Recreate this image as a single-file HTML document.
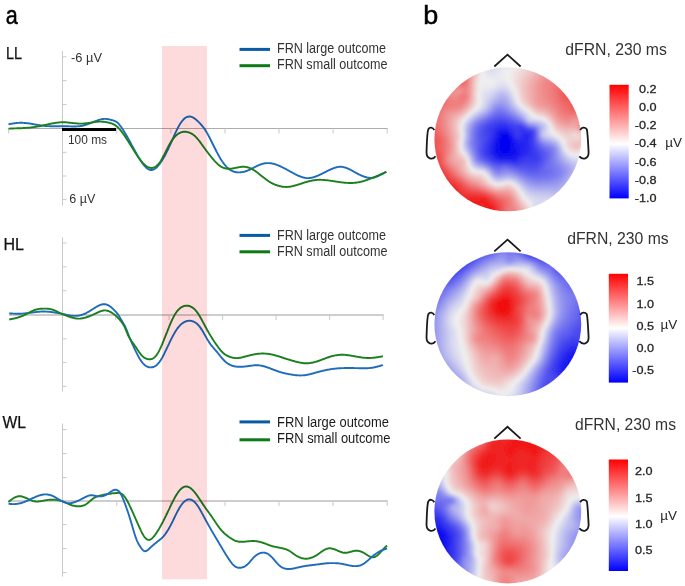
<!DOCTYPE html>
<html><head><meta charset="utf-8"><style>html,body{margin:0;padding:0;background:#fff;}svg{display:block;}</style></head>
<body>
<svg width="685" height="586" viewBox="0 0 685 586" font-family="'Liberation Sans', sans-serif" fill="#1a1a1a">
<defs>
<linearGradient id="cb1" x1="0" y1="0" x2="0" y2="1">
<stop offset="0" stop-color="#ff0000"/><stop offset="0.520" stop-color="#ffffff"/><stop offset="1" stop-color="#0000ff"/></linearGradient><linearGradient id="cb2" x1="0" y1="0" x2="0" y2="1">
<stop offset="0" stop-color="#ff0000"/><stop offset="0.500" stop-color="#ffffff"/><stop offset="1" stop-color="#0000ff"/></linearGradient><linearGradient id="cb3" x1="0" y1="0" x2="0" y2="1">
<stop offset="0" stop-color="#ff0000"/><stop offset="0.510" stop-color="#ffffff"/><stop offset="1" stop-color="#0000ff"/></linearGradient>
<filter id="tb" x="-5%" y="-5%" width="110%" height="110%"><feGaussianBlur stdDeviation="1.6"/></filter><clipPath id="cc0"><ellipse cx="507.8" cy="139.3" rx="73.4" ry="72.0"/></clipPath><clipPath id="cc1"><ellipse cx="507.8" cy="324.2" rx="73.4" ry="72.0"/></clipPath><clipPath id="cc2"><ellipse cx="507.8" cy="511.4" rx="73.4" ry="72.0"/></clipPath>
</defs>
<rect width="685" height="586" fill="#fff"/>
<text x="5.8" y="23.8" font-size="25" textLength="12" lengthAdjust="spacingAndGlyphs" fill="#000" stroke="#000" stroke-width="0.45">a</text>
<text x="423.3" y="23.8" font-size="25" textLength="15" lengthAdjust="spacingAndGlyphs" fill="#000" stroke="#000" stroke-width="0.45">b</text>
<text x="6" y="58.9" font-size="16.5" textLength="16" lengthAdjust="spacingAndGlyphs" fill="#111" stroke="#111" stroke-width="0.25">LL</text>
<text x="3.5" y="249.9" font-size="16.5" textLength="20.5" lengthAdjust="spacingAndGlyphs" fill="#111" stroke="#111" stroke-width="0.25">HL</text>
<text x="2.5" y="428" font-size="16" textLength="23.5" lengthAdjust="spacingAndGlyphs" fill="#111" stroke="#111" stroke-width="0.25">WL</text>
<text x="71" y="62.1" font-size="13.5" fill="#333" textLength="31" lengthAdjust="spacingAndGlyphs">-6 µV</text>
<text x="69.3" y="202.9" font-size="13.5" fill="#333" textLength="26" lengthAdjust="spacingAndGlyphs">6 µV</text>
<text x="68" y="143.6" font-size="13.5" fill="#333" textLength="39" lengthAdjust="spacingAndGlyphs">100 ms</text>
<line x1="62.5" y1="51" x2="62.5" y2="205.5" stroke="#c9c9c9" stroke-width="1"/>
<line x1="62.5" y1="56.8" x2="66.5" y2="56.8" stroke="#c9c9c9" stroke-width="1"/>
<line x1="62.5" y1="80.6" x2="66.5" y2="80.6" stroke="#c9c9c9" stroke-width="1"/>
<line x1="62.5" y1="104.5" x2="66.5" y2="104.5" stroke="#c9c9c9" stroke-width="1"/>
<line x1="62.5" y1="152.3" x2="66.5" y2="152.3" stroke="#c9c9c9" stroke-width="1"/>
<line x1="62.5" y1="176" x2="66.5" y2="176" stroke="#c9c9c9" stroke-width="1"/>
<line x1="62.5" y1="199.6" x2="66.5" y2="199.6" stroke="#c9c9c9" stroke-width="1"/>
<line x1="8.5" y1="128.5" x2="387.7" y2="128.5" stroke="#adadad" stroke-width="1"/>
<line x1="8.7" y1="128.5" x2="8.7" y2="133.5" stroke="#c9c9c9" stroke-width="1"/>
<line x1="116.8" y1="128.5" x2="116.8" y2="133.5" stroke="#c9c9c9" stroke-width="1"/>
<line x1="170.9" y1="128.5" x2="170.9" y2="133.5" stroke="#c9c9c9" stroke-width="1"/>
<line x1="225" y1="128.5" x2="225" y2="133.5" stroke="#c9c9c9" stroke-width="1"/>
<line x1="279" y1="128.5" x2="279" y2="133.5" stroke="#c9c9c9" stroke-width="1"/>
<line x1="333.1" y1="128.5" x2="333.1" y2="133.5" stroke="#c9c9c9" stroke-width="1"/>
<line x1="387.2" y1="128.5" x2="387.2" y2="133.5" stroke="#c9c9c9" stroke-width="1"/>
<rect x="62" y="128" width="54" height="3" fill="#000"/>
<path d="M8.5,124.3 9.0,124.2 9.5,124.1 10.0,124.0 10.5,123.9 11.0,123.8 11.5,123.8 12.0,123.7 12.5,123.6 13.0,123.5 13.5,123.4 14.0,123.3 14.5,123.3 15.0,123.2 15.5,123.1 16.0,123.1 16.5,123.0 17.0,123.0 17.5,122.9 18.0,122.9 18.5,122.9 19.0,122.9 19.5,122.8 20.0,122.8 20.5,122.8 21.0,122.8 21.5,122.8 22.0,122.8 22.5,122.8 23.0,122.9 23.5,122.9 24.0,122.9 24.5,123.0 25.0,123.0 25.5,123.0 26.0,123.1 26.5,123.1 27.0,123.2 27.5,123.2 28.0,123.3 28.5,123.4 29.0,123.4 29.5,123.5 30.0,123.6 30.5,123.7 31.0,123.8 31.5,123.8 32.0,123.9 32.5,124.0 33.0,124.1 33.5,124.2 34.0,124.3 34.5,124.4 35.0,124.5 35.5,124.6 36.0,124.7 36.5,124.7 37.0,124.8 37.5,124.9 38.0,125.0 38.5,125.1 39.0,125.2 39.5,125.3 40.0,125.3 40.5,125.4 41.0,125.5 41.5,125.6 42.0,125.6 42.5,125.7 43.0,125.7 43.5,125.8 44.0,125.8 44.5,125.9 45.0,125.9 45.5,126.0 46.0,126.0 46.5,126.0 47.0,126.1 47.5,126.1 48.0,126.1 48.5,126.1 49.0,126.1 49.5,126.2 50.0,126.2 50.5,126.2 51.0,126.2 51.5,126.2 52.0,126.2 52.5,126.2 53.0,126.2 53.5,126.2 54.0,126.2 54.5,126.2 55.0,126.2 55.5,126.2 56.0,126.2 56.5,126.2 57.0,126.2 57.5,126.2 58.0,126.2 58.5,126.2 59.0,126.2 59.5,126.2 60.0,126.2 60.5,126.1 61.0,126.1 61.5,126.1 62.0,126.2 62.5,126.2 63.0,126.2 63.5,126.2 64.0,126.2 64.5,126.2 65.0,126.2 65.5,126.2 66.0,126.2 66.5,126.3 67.0,126.3 67.5,126.3 68.0,126.3 68.5,126.3 69.0,126.4 69.5,126.4 70.0,126.4 70.5,126.4 71.0,126.4 71.5,126.5 72.0,126.5 72.5,126.5 73.0,126.5 73.5,126.5 74.0,126.5 74.5,126.5 75.0,126.5 75.5,126.5 76.0,126.5 76.5,126.4 77.0,126.4 77.5,126.4 78.0,126.3 78.5,126.3 79.0,126.2 79.5,126.2 80.0,126.1 80.5,126.0 81.0,126.0 81.5,125.9 82.0,125.8 82.5,125.7 83.0,125.6 83.5,125.4 84.0,125.3 84.5,125.2 85.0,125.0 85.5,124.9 86.0,124.7 86.5,124.6 87.0,124.4 87.5,124.2 88.0,124.1 88.5,123.9 89.0,123.7 89.5,123.5 90.0,123.3 90.5,123.1 91.0,122.9 91.5,122.7 92.0,122.5 92.5,122.3 93.0,122.1 93.5,121.9 94.0,121.7 94.5,121.5 95.0,121.3 95.5,121.1 96.0,121.0 96.5,120.8 97.0,120.6 97.5,120.4 98.0,120.2 98.5,120.1 99.0,119.9 99.5,119.8 100.0,119.6 100.5,119.5 101.0,119.4 101.5,119.3 102.0,119.2 102.5,119.1 103.0,119.0 103.5,119.0 104.0,118.9 104.5,118.9 105.0,118.9 105.5,118.9 106.0,118.9 106.5,119.0 107.0,119.0 107.5,119.1 108.0,119.2 108.5,119.3 109.0,119.4 109.5,119.5 110.0,119.6 110.5,119.7 111.0,119.9 111.5,120.0 112.0,120.2 112.5,120.3 113.0,120.4 113.5,120.6 114.0,120.8 114.5,120.9 115.0,121.1 115.5,121.4 116.0,121.6 116.5,121.9 117.0,122.3 117.5,122.7 118.0,123.2 118.5,123.7 119.0,124.2 119.5,124.8 120.0,125.5 120.5,126.1 121.0,126.8 121.5,127.5 122.0,128.3 122.5,129.0 123.0,129.8 123.5,130.6 124.0,131.4 124.5,132.2 125.0,133.0 125.5,133.8 126.0,134.7 126.5,135.6 127.0,136.4 127.5,137.3 128.0,138.2 128.5,139.1 129.0,140.0 129.5,140.9 130.0,141.8 130.5,142.7 131.0,143.6 131.5,144.6 132.0,145.5 132.5,146.4 133.0,147.3 133.5,148.2 134.0,149.2 134.5,150.1 135.0,151.0 135.5,151.9 136.0,152.8 136.5,153.7 137.0,154.6 137.5,155.4 138.0,156.3 138.5,157.1 139.0,158.0 139.5,158.8 140.0,159.6 140.5,160.3 141.0,161.1 141.5,161.8 142.0,162.6 142.5,163.3 143.0,163.9 143.5,164.6 144.0,165.2 144.5,165.8 145.0,166.4 145.5,166.9 146.0,167.4 146.5,167.8 147.0,168.3 147.5,168.6 148.0,169.0 148.5,169.3 149.0,169.5 149.5,169.7 150.0,169.9 150.5,170.0 151.0,170.0 151.5,170.0 152.0,170.0 152.5,169.9 153.0,169.7 153.5,169.5 154.0,169.3 154.5,169.0 155.0,168.7 155.5,168.3 156.0,167.9 156.5,167.5 157.0,167.0 157.5,166.5 158.0,165.9 158.5,165.3 159.0,164.7 159.5,164.1 160.0,163.4 160.5,162.7 161.0,162.0 161.5,161.2 162.0,160.4 162.5,159.6 163.0,158.8 163.5,157.9 164.0,157.1 164.5,156.2 165.0,155.3 165.5,154.3 166.0,153.4 166.5,152.4 167.0,151.4 167.5,150.4 168.0,149.3 168.5,148.3 169.0,147.2 169.5,146.2 170.0,145.1 170.5,144.0 171.0,142.8 171.5,141.7 172.0,140.6 172.5,139.4 173.0,138.3 173.5,137.2 174.0,136.0 174.5,134.9 175.0,133.8 175.5,132.7 176.0,131.7 176.5,130.6 177.0,129.6 177.5,128.6 178.0,127.6 178.5,126.7 179.0,125.8 179.5,124.9 180.0,124.1 180.5,123.3 181.0,122.6 181.5,121.9 182.0,121.2 182.5,120.6 183.0,120.0 183.5,119.5 184.0,119.0 184.5,118.5 185.0,118.1 185.5,117.8 186.0,117.5 186.5,117.2 187.0,117.0 187.5,116.8 188.0,116.7 188.5,116.6 189.0,116.5 189.5,116.5 190.0,116.5 190.5,116.6 191.0,116.7 191.5,116.9 192.0,117.1 192.5,117.3 193.0,117.5 193.5,117.8 194.0,118.1 194.5,118.4 195.0,118.8 195.5,119.2 196.0,119.6 196.5,120.0 197.0,120.5 197.5,120.9 198.0,121.4 198.5,121.9 199.0,122.4 199.5,122.9 200.0,123.4 200.5,124.0 201.0,124.5 201.5,125.1 202.0,125.7 202.5,126.3 203.0,126.9 203.5,127.5 204.0,128.2 204.5,128.9 205.0,129.6 205.5,130.4 206.0,131.2 206.5,132.0 207.0,132.9 207.5,133.7 208.0,134.7 208.5,135.6 209.0,136.5 209.5,137.5 210.0,138.5 210.5,139.5 211.0,140.5 211.5,141.5 212.0,142.5 212.5,143.5 213.0,144.5 213.5,145.5 214.0,146.5 214.5,147.5 215.0,148.5 215.5,149.5 216.0,150.5 216.5,151.5 217.0,152.4 217.5,153.4 218.0,154.3 218.5,155.2 219.0,156.1 219.5,157.0 220.0,157.8 220.5,158.7 221.0,159.5 221.5,160.3 222.0,161.0 222.5,161.8 223.0,162.5 223.5,163.2 224.0,163.8 224.5,164.5 225.0,165.1 225.5,165.7 226.0,166.2 226.5,166.8 227.0,167.3 227.5,167.8 228.0,168.2 228.5,168.7 229.0,169.1 229.5,169.4 230.0,169.8 230.5,170.1 231.0,170.4 231.5,170.7 232.0,170.9 232.5,171.1 233.0,171.4 233.5,171.5 234.0,171.7 234.5,171.9 235.0,172.0 235.5,172.1 236.0,172.2 236.5,172.3 237.0,172.3 237.5,172.4 238.0,172.4 238.5,172.4 239.0,172.4 239.5,172.4 240.0,172.4 240.5,172.3 241.0,172.3 241.5,172.2 242.0,172.1 242.5,172.1 243.0,172.0 243.5,171.9 244.0,171.7 244.5,171.6 245.0,171.5 245.5,171.3 246.0,171.2 246.5,171.0 247.0,170.8 247.5,170.6 248.0,170.4 248.5,170.2 249.0,170.0 249.5,169.8 250.0,169.5 250.5,169.3 251.0,169.1 251.5,168.8 252.0,168.5 252.5,168.3 253.0,168.0 253.5,167.8 254.0,167.5 254.5,167.2 255.0,167.0 255.5,166.7 256.0,166.5 256.5,166.2 257.0,166.0 257.5,165.7 258.0,165.5 258.5,165.3 259.0,165.1 259.5,164.9 260.0,164.7 260.5,164.5 261.0,164.3 261.5,164.2 262.0,164.0 262.5,163.9 263.0,163.7 263.5,163.6 264.0,163.5 264.5,163.4 265.0,163.3 265.5,163.3 266.0,163.2 266.5,163.1 267.0,163.1 267.5,163.1 268.0,163.1 268.5,163.1 269.0,163.1 269.5,163.1 270.0,163.2 270.5,163.2 271.0,163.3 271.5,163.4 272.0,163.5 272.5,163.6 273.0,163.7 273.5,163.8 274.0,163.9 274.5,164.1 275.0,164.2 275.5,164.4 276.0,164.6 276.5,164.7 277.0,164.9 277.5,165.1 278.0,165.3 278.5,165.5 279.0,165.7 279.5,166.0 280.0,166.2 280.5,166.4 281.0,166.6 281.5,166.9 282.0,167.1 282.5,167.4 283.0,167.6 283.5,167.9 284.0,168.1 284.5,168.4 285.0,168.6 285.5,168.9 286.0,169.2 286.5,169.4 287.0,169.7 287.5,170.0 288.0,170.3 288.5,170.5 289.0,170.8 289.5,171.1 290.0,171.4 290.5,171.6 291.0,171.9 291.5,172.2 292.0,172.5 292.5,172.7 293.0,173.0 293.5,173.3 294.0,173.5 294.5,173.8 295.0,174.1 295.5,174.3 296.0,174.6 296.5,174.8 297.0,175.1 297.5,175.3 298.0,175.5 298.5,175.8 299.0,176.0 299.5,176.2 300.0,176.4 300.5,176.6 301.0,176.8 301.5,176.9 302.0,177.1 302.5,177.3 303.0,177.4 303.5,177.5 304.0,177.7 304.5,177.8 305.0,177.9 305.5,177.9 306.0,178.0 306.5,178.1 307.0,178.1 307.5,178.1 308.0,178.1 308.5,178.1 309.0,178.1 309.5,178.0 310.0,178.0 310.5,177.9 311.0,177.8 311.5,177.7 312.0,177.6 312.5,177.5 313.0,177.4 313.5,177.2 314.0,177.1 314.5,176.9 315.0,176.8 315.5,176.6 316.0,176.4 316.5,176.2 317.0,176.0 317.5,175.8 318.0,175.6 318.5,175.4 319.0,175.2 319.5,174.9 320.0,174.7 320.5,174.5 321.0,174.2 321.5,174.0 322.0,173.7 322.5,173.5 323.0,173.2 323.5,173.0 324.0,172.7 324.5,172.5 325.0,172.2 325.5,172.0 326.0,171.7 326.5,171.4 327.0,171.2 327.5,170.9 328.0,170.7 328.5,170.4 329.0,170.2 329.5,170.0 330.0,169.7 330.5,169.5 331.0,169.3 331.5,169.0 332.0,168.8 332.5,168.6 333.0,168.4 333.5,168.2 334.0,168.1 334.5,167.9 335.0,167.7 335.5,167.6 336.0,167.4 336.5,167.3 337.0,167.2 337.5,167.1 338.0,167.0 338.5,166.9 339.0,166.9 339.5,166.8 340.0,166.8 340.5,166.8 341.0,166.8 341.5,166.8 342.0,166.9 342.5,166.9 343.0,167.0 343.5,167.1 344.0,167.2 344.5,167.4 345.0,167.5 345.5,167.6 346.0,167.8 346.5,168.0 347.0,168.2 347.5,168.4 348.0,168.6 348.5,168.8 349.0,169.0 349.5,169.3 350.0,169.5 350.5,169.8 351.0,170.1 351.5,170.3 352.0,170.6 352.5,170.9 353.0,171.2 353.5,171.5 354.0,171.7 354.5,172.0 355.0,172.3 355.5,172.6 356.0,172.9 356.5,173.2 357.0,173.4 357.5,173.7 358.0,174.0 358.5,174.2 359.0,174.5 359.5,174.7 360.0,174.9 360.5,175.2 361.0,175.4 361.5,175.6 362.0,175.8 362.5,176.0 363.0,176.2 363.5,176.4 364.0,176.6 364.5,176.7 365.0,176.9 365.5,177.0 366.0,177.2 366.5,177.3 367.0,177.5 367.5,177.6 368.0,177.7 368.5,177.8 369.0,177.8 369.5,177.9 370.0,178.0 370.5,178.0 371.0,178.0 371.5,178.0 372.0,178.0 372.5,177.9 373.0,177.8 373.5,177.7 374.0,177.6 374.5,177.5 375.0,177.3 375.5,177.1 376.0,176.9 376.5,176.8 377.0,176.5 377.5,176.3 378.0,176.1 378.5,175.9 379.0,175.6 379.5,175.4 380.0,175.1 380.5,174.9 381.0,174.6 381.5,174.4 382.0,174.1 382.5,173.9 383.0,173.6 383.5,173.3 384.0,173.1 384.5,172.8 385.0,172.5 385.5,172.2 386.0,172.0 386.3,171.8" fill="none" stroke="#1f6cbd" stroke-width="1.9" stroke-linejoin="round"/>
<path d="M8.5,128.6 9.0,128.6 9.5,128.6 10.0,128.6 10.5,128.5 11.0,128.5 11.5,128.5 12.0,128.5 12.5,128.5 13.0,128.5 13.5,128.5 14.0,128.4 14.5,128.4 15.0,128.4 15.5,128.4 16.0,128.4 16.5,128.4 17.0,128.3 17.5,128.3 18.0,128.3 18.5,128.3 19.0,128.3 19.5,128.2 20.0,128.2 20.5,128.2 21.0,128.2 21.5,128.2 22.0,128.1 22.5,128.1 23.0,128.1 23.5,128.0 24.0,128.0 24.5,128.0 25.0,128.0 25.5,127.9 26.0,127.9 26.5,127.9 27.0,127.8 27.5,127.8 28.0,127.7 28.5,127.7 29.0,127.7 29.5,127.6 30.0,127.6 30.5,127.5 31.0,127.5 31.5,127.4 32.0,127.3 32.5,127.3 33.0,127.2 33.5,127.2 34.0,127.1 34.5,127.0 35.0,126.9 35.5,126.9 36.0,126.8 36.5,126.7 37.0,126.6 37.5,126.5 38.0,126.4 38.5,126.3 39.0,126.2 39.5,126.2 40.0,126.1 40.5,126.0 41.0,125.9 41.5,125.8 42.0,125.6 42.5,125.5 43.0,125.4 43.5,125.3 44.0,125.2 44.5,125.1 45.0,125.0 45.5,124.9 46.0,124.8 46.5,124.7 47.0,124.6 47.5,124.5 48.0,124.3 48.5,124.2 49.0,124.1 49.5,124.0 50.0,123.9 50.5,123.8 51.0,123.7 51.5,123.6 52.0,123.5 52.5,123.4 53.0,123.3 53.5,123.2 54.0,123.2 54.5,123.1 55.0,123.0 55.5,122.9 56.0,122.8 56.5,122.8 57.0,122.7 57.5,122.6 58.0,122.6 58.5,122.5 59.0,122.5 59.5,122.4 60.0,122.4 60.5,122.4 61.0,122.3 61.5,122.3 62.0,122.3 62.5,122.3 63.0,122.3 63.5,122.3 64.0,122.3 64.5,122.3 65.0,122.3 65.5,122.3 66.0,122.4 66.5,122.4 67.0,122.4 67.5,122.5 68.0,122.5 68.5,122.6 69.0,122.6 69.5,122.7 70.0,122.7 70.5,122.8 71.0,122.9 71.5,122.9 72.0,123.0 72.5,123.0 73.0,123.1 73.5,123.1 74.0,123.2 74.5,123.3 75.0,123.3 75.5,123.3 76.0,123.4 76.5,123.4 77.0,123.5 77.5,123.5 78.0,123.5 78.5,123.6 79.0,123.6 79.5,123.6 80.0,123.6 80.5,123.6 81.0,123.6 81.5,123.6 82.0,123.6 82.5,123.6 83.0,123.6 83.5,123.5 84.0,123.5 84.5,123.5 85.0,123.4 85.5,123.4 86.0,123.3 86.5,123.3 87.0,123.2 87.5,123.1 88.0,123.1 88.5,123.0 89.0,122.9 89.5,122.9 90.0,122.8 90.5,122.7 91.0,122.6 91.5,122.6 92.0,122.5 92.5,122.4 93.0,122.3 93.5,122.2 94.0,122.2 94.5,122.1 95.0,122.0 95.5,121.9 96.0,121.9 96.5,121.8 97.0,121.8 97.5,121.7 98.0,121.7 98.5,121.6 99.0,121.6 99.5,121.6 100.0,121.6 100.5,121.6 101.0,121.6 101.5,121.6 102.0,121.7 102.5,121.7 103.0,121.7 103.5,121.8 104.0,121.8 104.5,121.9 105.0,121.9 105.5,122.0 106.0,122.1 106.5,122.2 107.0,122.3 107.5,122.4 108.0,122.5 108.5,122.6 109.0,122.7 109.5,122.8 110.0,123.0 110.5,123.1 111.0,123.3 111.5,123.4 112.0,123.6 112.5,123.8 113.0,124.0 113.5,124.3 114.0,124.5 114.5,124.8 115.0,125.1 115.5,125.4 116.0,125.8 116.5,126.2 117.0,126.6 117.5,127.1 118.0,127.5 118.5,128.0 119.0,128.6 119.5,129.1 120.0,129.7 120.5,130.3 121.0,130.9 121.5,131.5 122.0,132.2 122.5,132.8 123.0,133.5 123.5,134.2 124.0,134.9 124.5,135.6 125.0,136.4 125.5,137.1 126.0,137.9 126.5,138.6 127.0,139.4 127.5,140.2 128.0,141.0 128.5,141.8 129.0,142.6 129.5,143.4 130.0,144.2 130.5,145.0 131.0,145.8 131.5,146.6 132.0,147.4 132.5,148.2 133.0,149.0 133.5,149.8 134.0,150.6 134.5,151.4 135.0,152.2 135.5,153.0 136.0,153.8 136.5,154.5 137.0,155.3 137.5,156.0 138.0,156.7 138.5,157.5 139.0,158.2 139.5,158.8 140.0,159.5 140.5,160.2 141.0,160.8 141.5,161.4 142.0,162.0 142.5,162.6 143.0,163.1 143.5,163.6 144.0,164.1 144.5,164.6 145.0,165.1 145.5,165.5 146.0,165.9 146.5,166.2 147.0,166.5 147.5,166.8 148.0,167.1 148.5,167.3 149.0,167.5 149.5,167.7 150.0,167.8 150.5,167.9 151.0,168.0 151.5,168.0 152.0,168.0 152.5,167.9 153.0,167.8 153.5,167.7 154.0,167.5 154.5,167.3 155.0,167.0 155.5,166.7 156.0,166.4 156.5,166.0 157.0,165.5 157.5,165.1 158.0,164.5 158.5,164.0 159.0,163.4 159.5,162.7 160.0,162.0 160.5,161.3 161.0,160.5 161.5,159.6 162.0,158.8 162.5,157.9 163.0,157.0 163.5,156.0 164.0,155.1 164.5,154.1 165.0,153.1 165.5,152.1 166.0,151.1 166.5,150.1 167.0,149.1 167.5,148.2 168.0,147.2 168.5,146.2 169.0,145.3 169.5,144.4 170.0,143.5 170.5,142.7 171.0,141.8 171.5,141.1 172.0,140.3 172.5,139.6 173.0,138.9 173.5,138.3 174.0,137.7 174.5,137.1 175.0,136.5 175.5,136.0 176.0,135.5 176.5,135.1 177.0,134.7 177.5,134.3 178.0,133.9 178.5,133.6 179.0,133.3 179.5,133.0 180.0,132.8 180.5,132.6 181.0,132.4 181.5,132.2 182.0,132.1 182.5,132.0 183.0,131.9 183.5,131.8 184.0,131.8 184.5,131.8 185.0,131.8 185.5,131.8 186.0,131.8 186.5,131.9 187.0,132.0 187.5,132.1 188.0,132.2 188.5,132.3 189.0,132.5 189.5,132.6 190.0,132.8 190.5,133.1 191.0,133.3 191.5,133.6 192.0,133.9 192.5,134.2 193.0,134.5 193.5,134.9 194.0,135.3 194.5,135.7 195.0,136.1 195.5,136.6 196.0,137.1 196.5,137.6 197.0,138.2 197.5,138.8 198.0,139.3 198.5,140.0 199.0,140.6 199.5,141.2 200.0,141.9 200.5,142.6 201.0,143.3 201.5,144.0 202.0,144.7 202.5,145.4 203.0,146.1 203.5,146.8 204.0,147.5 204.5,148.2 205.0,148.8 205.5,149.5 206.0,150.2 206.5,150.9 207.0,151.5 207.5,152.2 208.0,152.9 208.5,153.5 209.0,154.2 209.5,154.8 210.0,155.4 210.5,156.0 211.0,156.7 211.5,157.3 212.0,157.9 212.5,158.5 213.0,159.1 213.5,159.7 214.0,160.2 214.5,160.8 215.0,161.3 215.5,161.9 216.0,162.4 216.5,162.9 217.0,163.4 217.5,163.9 218.0,164.3 218.5,164.8 219.0,165.2 219.5,165.6 220.0,165.9 220.5,166.3 221.0,166.6 221.5,166.9 222.0,167.2 222.5,167.4 223.0,167.6 223.5,167.8 224.0,168.0 224.5,168.2 225.0,168.3 225.5,168.4 226.0,168.6 226.5,168.6 227.0,168.7 227.5,168.8 228.0,168.8 228.5,168.8 229.0,168.8 229.5,168.8 230.0,168.8 230.5,168.7 231.0,168.7 231.5,168.6 232.0,168.6 232.5,168.5 233.0,168.4 233.5,168.3 234.0,168.2 234.5,168.1 235.0,168.0 235.5,167.9 236.0,167.8 236.5,167.7 237.0,167.6 237.5,167.5 238.0,167.4 238.5,167.3 239.0,167.2 239.5,167.1 240.0,167.1 240.5,167.0 241.0,166.9 241.5,166.9 242.0,166.8 242.5,166.8 243.0,166.8 243.5,166.8 244.0,166.8 244.5,166.8 245.0,166.9 245.5,166.9 246.0,167.0 246.5,167.1 247.0,167.2 247.5,167.3 248.0,167.4 248.5,167.6 249.0,167.7 249.5,167.9 250.0,168.1 250.5,168.3 251.0,168.5 251.5,168.8 252.0,169.0 252.5,169.3 253.0,169.6 253.5,169.9 254.0,170.2 254.5,170.6 255.0,170.9 255.5,171.2 256.0,171.6 256.5,172.0 257.0,172.3 257.5,172.7 258.0,173.1 258.5,173.5 259.0,173.9 259.5,174.3 260.0,174.7 260.5,175.1 261.0,175.5 261.5,175.9 262.0,176.3 262.5,176.7 263.0,177.1 263.5,177.5 264.0,177.8 264.5,178.2 265.0,178.6 265.5,179.0 266.0,179.4 266.5,179.7 267.0,180.1 267.5,180.5 268.0,180.8 268.5,181.1 269.0,181.5 269.5,181.8 270.0,182.1 270.5,182.4 271.0,182.7 271.5,183.0 272.0,183.2 272.5,183.5 273.0,183.7 273.5,184.0 274.0,184.2 274.5,184.4 275.0,184.6 275.5,184.8 276.0,185.0 276.5,185.2 277.0,185.4 277.5,185.5 278.0,185.7 278.5,185.8 279.0,185.9 279.5,186.1 280.0,186.2 280.5,186.3 281.0,186.4 281.5,186.5 282.0,186.6 282.5,186.7 283.0,186.7 283.5,186.8 284.0,186.9 284.5,186.9 285.0,186.9 285.5,186.9 286.0,187.0 286.5,187.0 287.0,187.0 287.5,186.9 288.0,186.9 288.5,186.9 289.0,186.8 289.5,186.7 290.0,186.7 290.5,186.6 291.0,186.5 291.5,186.4 292.0,186.3 292.5,186.2 293.0,186.1 293.5,185.9 294.0,185.8 294.5,185.7 295.0,185.5 295.5,185.4 296.0,185.2 296.5,185.1 297.0,184.9 297.5,184.8 298.0,184.6 298.5,184.5 299.0,184.3 299.5,184.1 300.0,184.0 300.5,183.8 301.0,183.6 301.5,183.5 302.0,183.3 302.5,183.2 303.0,183.0 303.5,182.9 304.0,182.7 304.5,182.5 305.0,182.4 305.5,182.2 306.0,182.1 306.5,182.0 307.0,181.8 307.5,181.7 308.0,181.5 308.5,181.4 309.0,181.3 309.5,181.2 310.0,181.0 310.5,180.9 311.0,180.8 311.5,180.7 312.0,180.6 312.5,180.5 313.0,180.4 313.5,180.3 314.0,180.3 314.5,180.2 315.0,180.1 315.5,180.1 316.0,180.0 316.5,180.0 317.0,179.9 317.5,179.9 318.0,179.9 318.5,179.9 319.0,179.9 319.5,179.8 320.0,179.8 320.5,179.8 321.0,179.9 321.5,179.9 322.0,179.9 322.5,179.9 323.0,179.9 323.5,180.0 324.0,180.0 324.5,180.0 325.0,180.1 325.5,180.1 326.0,180.2 326.5,180.2 327.0,180.3 327.5,180.3 328.0,180.4 328.5,180.4 329.0,180.5 329.5,180.6 330.0,180.6 330.5,180.7 331.0,180.8 331.5,180.9 332.0,180.9 332.5,181.0 333.0,181.1 333.5,181.2 334.0,181.2 334.5,181.3 335.0,181.4 335.5,181.5 336.0,181.6 336.5,181.6 337.0,181.7 337.5,181.8 338.0,181.9 338.5,181.9 339.0,182.0 339.5,182.1 340.0,182.1 340.5,182.2 341.0,182.3 341.5,182.4 342.0,182.4 342.5,182.5 343.0,182.5 343.5,182.6 344.0,182.6 344.5,182.7 345.0,182.7 345.5,182.8 346.0,182.8 346.5,182.9 347.0,182.9 347.5,182.9 348.0,182.9 348.5,183.0 349.0,183.0 349.5,183.0 350.0,183.0 350.5,183.0 351.0,183.0 351.5,183.0 352.0,183.0 352.5,183.0 353.0,182.9 353.5,182.9 354.0,182.9 354.5,182.8 355.0,182.8 355.5,182.7 356.0,182.7 356.5,182.6 357.0,182.5 357.5,182.4 358.0,182.4 358.5,182.3 359.0,182.2 359.5,182.1 360.0,182.0 360.5,181.9 361.0,181.7 361.5,181.6 362.0,181.5 362.5,181.3 363.0,181.2 363.5,181.1 364.0,180.9 364.5,180.8 365.0,180.6 365.5,180.4 366.0,180.3 366.5,180.1 367.0,179.9 367.5,179.8 368.0,179.6 368.5,179.4 369.0,179.2 369.5,179.0 370.0,178.8 370.5,178.6 371.0,178.4 371.5,178.2 372.0,178.1 372.5,177.9 373.0,177.6 373.5,177.4 374.0,177.2 374.5,177.0 375.0,176.8 375.5,176.6 376.0,176.4 376.5,176.2 377.0,176.0 377.5,175.8 378.0,175.5 378.5,175.3 379.0,175.1 379.5,174.9 380.0,174.7 380.5,174.4 381.0,174.2 381.5,174.0 382.0,173.8 382.5,173.5 383.0,173.3 383.5,173.1 384.0,172.8 384.5,172.6 385.0,172.4 385.5,172.2 386.0,171.9 386.3,171.8" fill="none" stroke="#1c801f" stroke-width="1.9" stroke-linejoin="round"/>
<line x1="62.5" y1="237.3" x2="62.5" y2="391.4" stroke="#c9c9c9" stroke-width="1"/>
<line x1="62.5" y1="243" x2="66.5" y2="243" stroke="#c9c9c9" stroke-width="1"/>
<line x1="62.5" y1="266.8" x2="66.5" y2="266.8" stroke="#c9c9c9" stroke-width="1"/>
<line x1="62.5" y1="290.7" x2="66.5" y2="290.7" stroke="#c9c9c9" stroke-width="1"/>
<line x1="62.5" y1="338.8" x2="66.5" y2="338.8" stroke="#c9c9c9" stroke-width="1"/>
<line x1="62.5" y1="362.6" x2="66.5" y2="362.6" stroke="#c9c9c9" stroke-width="1"/>
<line x1="62.5" y1="386.3" x2="66.5" y2="386.3" stroke="#c9c9c9" stroke-width="1"/>
<line x1="9" y1="315" x2="383.6" y2="315" stroke="#9c9c9c" stroke-width="1"/>
<line x1="115.6" y1="315" x2="115.6" y2="320" stroke="#c9c9c9" stroke-width="1"/>
<line x1="169.1" y1="315" x2="169.1" y2="320" stroke="#c9c9c9" stroke-width="1"/>
<line x1="222.6" y1="315" x2="222.6" y2="320" stroke="#c9c9c9" stroke-width="1"/>
<line x1="276.1" y1="315" x2="276.1" y2="320" stroke="#c9c9c9" stroke-width="1"/>
<line x1="329.6" y1="315" x2="329.6" y2="320" stroke="#c9c9c9" stroke-width="1"/>
<line x1="383.1" y1="315" x2="383.1" y2="320" stroke="#c9c9c9" stroke-width="1"/>

<path d="M9.2,313.4 9.7,313.4 10.2,313.5 10.7,313.5 11.2,313.5 11.7,313.5 12.2,313.5 12.7,313.6 13.2,313.6 13.7,313.6 14.2,313.6 14.7,313.6 15.2,313.7 15.7,313.7 16.2,313.7 16.7,313.7 17.2,313.7 17.7,313.7 18.2,313.7 18.7,313.7 19.2,313.7 19.7,313.7 20.2,313.7 20.7,313.7 21.2,313.7 21.7,313.6 22.2,313.6 22.7,313.6 23.2,313.6 23.7,313.5 24.2,313.5 24.7,313.4 25.2,313.4 25.7,313.3 26.2,313.3 26.7,313.2 27.2,313.2 27.7,313.1 28.2,313.1 28.7,313.0 29.2,312.9 29.7,312.9 30.2,312.8 30.7,312.7 31.2,312.7 31.7,312.6 32.2,312.5 32.7,312.5 33.2,312.4 33.7,312.3 34.2,312.3 34.7,312.2 35.2,312.1 35.7,312.1 36.2,312.0 36.7,312.0 37.2,311.9 37.7,311.9 38.2,311.8 38.7,311.8 39.2,311.7 39.7,311.7 40.2,311.6 40.7,311.6 41.2,311.6 41.7,311.5 42.2,311.5 42.7,311.5 43.2,311.5 43.7,311.5 44.2,311.5 44.7,311.5 45.2,311.5 45.7,311.5 46.2,311.6 46.7,311.6 47.2,311.6 47.7,311.7 48.2,311.7 48.7,311.8 49.2,311.8 49.7,311.9 50.2,311.9 50.7,312.0 51.2,312.0 51.7,312.1 52.2,312.2 52.7,312.2 53.2,312.3 53.7,312.4 54.2,312.4 54.7,312.5 55.2,312.6 55.7,312.7 56.2,312.7 56.7,312.8 57.2,312.9 57.7,313.0 58.2,313.1 58.7,313.2 59.2,313.2 59.7,313.3 60.2,313.4 60.7,313.5 61.2,313.6 61.7,313.8 62.2,313.9 62.7,314.0 63.2,314.1 63.7,314.2 64.2,314.3 64.7,314.4 65.2,314.5 65.7,314.7 66.2,314.8 66.7,314.9 67.2,315.0 67.7,315.1 68.2,315.2 68.7,315.3 69.2,315.4 69.7,315.5 70.2,315.5 70.7,315.6 71.2,315.7 71.7,315.7 72.2,315.8 72.7,315.8 73.2,315.9 73.7,315.9 74.2,315.9 74.7,315.9 75.2,315.9 75.7,315.9 76.2,315.9 76.7,315.9 77.2,315.8 77.7,315.8 78.2,315.7 78.7,315.6 79.2,315.5 79.7,315.4 80.2,315.3 80.7,315.2 81.2,315.1 81.7,314.9 82.2,314.7 82.7,314.6 83.2,314.4 83.7,314.2 84.2,314.0 84.7,313.8 85.2,313.5 85.7,313.3 86.2,313.1 86.7,312.8 87.2,312.5 87.7,312.2 88.2,312.0 88.7,311.7 89.2,311.4 89.7,311.1 90.2,310.8 90.7,310.4 91.2,310.1 91.7,309.8 92.2,309.5 92.7,309.2 93.2,308.8 93.7,308.5 94.2,308.2 94.7,307.9 95.2,307.6 95.7,307.3 96.2,307.0 96.7,306.7 97.2,306.4 97.7,306.1 98.2,305.8 98.7,305.6 99.2,305.4 99.7,305.1 100.2,304.9 100.7,304.8 101.2,304.6 101.7,304.5 102.2,304.3 102.7,304.3 103.2,304.2 103.7,304.2 104.2,304.2 104.7,304.2 105.2,304.2 105.7,304.3 106.2,304.5 106.7,304.6 107.2,304.8 107.7,305.0 108.2,305.3 108.7,305.5 109.2,305.8 109.7,306.2 110.2,306.5 110.7,306.9 111.2,307.3 111.7,307.7 112.2,308.2 112.7,308.6 113.2,309.1 113.7,309.6 114.2,310.1 114.7,310.6 115.2,311.1 115.7,311.7 116.2,312.2 116.7,312.8 117.2,313.4 117.7,314.1 118.2,314.8 118.7,315.5 119.2,316.3 119.7,317.2 120.2,318.0 120.7,318.9 121.2,319.7 121.7,320.6 122.2,321.4 122.7,322.3 123.2,323.1 123.7,324.0 124.2,324.8 124.7,325.7 125.2,326.7 125.7,327.8 126.2,329.0 126.7,330.2 127.2,331.5 127.7,332.8 128.2,334.1 128.7,335.4 129.2,336.6 129.7,337.9 130.2,339.1 130.7,340.2 131.2,341.4 131.7,342.5 132.2,343.7 132.7,344.8 133.2,345.9 133.7,346.9 134.2,348.0 134.7,349.1 135.2,350.1 135.7,351.2 136.2,352.2 136.7,353.2 137.2,354.2 137.7,355.1 138.2,356.1 138.7,357.0 139.2,357.9 139.7,358.7 140.2,359.6 140.7,360.3 141.2,361.1 141.7,361.8 142.2,362.4 142.7,363.0 143.2,363.6 143.7,364.1 144.2,364.6 144.7,365.0 145.2,365.4 145.7,365.8 146.2,366.1 146.7,366.4 147.2,366.7 147.7,366.9 148.2,367.0 148.7,367.2 149.2,367.3 149.7,367.4 150.2,367.4 150.7,367.4 151.2,367.4 151.7,367.3 152.2,367.3 152.7,367.2 153.2,367.0 153.7,366.8 154.2,366.6 154.7,366.4 155.2,366.1 155.7,365.8 156.2,365.4 156.7,365.0 157.2,364.5 157.7,364.1 158.2,363.5 158.7,362.9 159.2,362.3 159.7,361.6 160.2,360.9 160.7,360.2 161.2,359.3 161.7,358.5 162.2,357.6 162.7,356.7 163.2,355.7 163.7,354.8 164.2,353.8 164.7,352.7 165.2,351.7 165.7,350.7 166.2,349.6 166.7,348.5 167.2,347.5 167.7,346.4 168.2,345.4 168.7,344.3 169.2,343.3 169.7,342.2 170.2,341.2 170.7,340.2 171.2,339.2 171.7,338.2 172.2,337.2 172.7,336.3 173.2,335.3 173.7,334.4 174.2,333.5 174.7,332.7 175.2,331.8 175.7,331.0 176.2,330.2 176.7,329.5 177.2,328.8 177.7,328.1 178.2,327.4 178.7,326.8 179.2,326.3 179.7,325.7 180.2,325.2 180.7,324.7 181.2,324.2 181.7,323.8 182.2,323.4 182.7,323.1 183.2,322.7 183.7,322.4 184.2,322.1 184.7,321.9 185.2,321.7 185.7,321.5 186.2,321.3 186.7,321.2 187.2,321.0 187.7,320.9 188.2,320.9 188.7,320.8 189.2,320.8 189.7,320.8 190.2,320.8 190.7,320.9 191.2,320.9 191.7,321.0 192.2,321.1 192.7,321.3 193.2,321.5 193.7,321.7 194.2,321.9 194.7,322.2 195.2,322.5 195.7,322.8 196.2,323.2 196.7,323.6 197.2,324.0 197.7,324.5 198.2,325.0 198.7,325.5 199.2,326.1 199.7,326.7 200.2,327.4 200.7,328.1 201.2,328.9 201.7,329.6 202.2,330.4 202.7,331.3 203.2,332.1 203.7,333.0 204.2,333.9 204.7,334.7 205.2,335.6 205.7,336.5 206.2,337.4 206.7,338.3 207.2,339.1 207.7,340.0 208.2,340.8 208.7,341.6 209.2,342.4 209.7,343.1 210.2,343.9 210.7,344.5 211.2,345.2 211.7,345.8 212.2,346.4 212.7,347.0 213.2,347.6 213.7,348.2 214.2,348.8 214.7,349.3 215.2,349.9 215.7,350.5 216.2,351.0 216.7,351.6 217.2,352.2 217.7,352.8 218.2,353.5 218.7,354.1 219.2,354.7 219.7,355.3 220.2,356.0 220.7,356.6 221.2,357.2 221.7,357.8 222.2,358.4 222.7,359.0 223.2,359.5 223.7,360.0 224.2,360.5 224.7,361.0 225.2,361.5 225.7,361.9 226.2,362.4 226.7,362.8 227.2,363.1 227.7,363.5 228.2,363.8 228.7,364.1 229.2,364.4 229.7,364.7 230.2,364.9 230.7,365.2 231.2,365.4 231.7,365.6 232.2,365.7 232.7,365.9 233.2,366.0 233.7,366.2 234.2,366.3 234.7,366.4 235.2,366.5 235.7,366.5 236.2,366.6 236.7,366.6 237.2,366.7 237.7,366.7 238.2,366.8 238.7,366.8 239.2,366.8 239.7,366.8 240.2,366.8 240.7,366.8 241.2,366.8 241.7,366.8 242.2,366.7 242.7,366.7 243.2,366.7 243.7,366.6 244.2,366.6 244.7,366.5 245.2,366.5 245.7,366.4 246.2,366.4 246.7,366.3 247.2,366.2 247.7,366.2 248.2,366.1 248.7,366.0 249.2,366.0 249.7,365.9 250.2,365.8 250.7,365.7 251.2,365.7 251.7,365.6 252.2,365.6 252.7,365.5 253.2,365.4 253.7,365.4 254.2,365.3 254.7,365.3 255.2,365.3 255.7,365.3 256.2,365.2 256.7,365.2 257.2,365.2 257.7,365.2 258.2,365.3 258.7,365.3 259.2,365.4 259.7,365.4 260.2,365.5 260.7,365.6 261.2,365.6 261.7,365.7 262.2,365.8 262.7,366.0 263.2,366.1 263.7,366.2 264.2,366.4 264.7,366.5 265.2,366.7 265.7,366.8 266.2,367.0 266.7,367.1 267.2,367.3 267.7,367.5 268.2,367.7 268.7,367.9 269.2,368.0 269.7,368.2 270.2,368.4 270.7,368.6 271.2,368.8 271.7,369.0 272.2,369.2 272.7,369.4 273.2,369.6 273.7,369.8 274.2,370.0 274.7,370.2 275.2,370.4 275.7,370.5 276.2,370.7 276.7,370.9 277.2,371.1 277.7,371.3 278.2,371.4 278.7,371.6 279.2,371.8 279.7,371.9 280.2,372.1 280.7,372.2 281.2,372.4 281.7,372.5 282.2,372.6 282.7,372.8 283.2,372.9 283.7,373.0 284.2,373.1 284.7,373.3 285.2,373.4 285.7,373.5 286.2,373.6 286.7,373.7 287.2,373.8 287.7,373.9 288.2,374.0 288.7,374.1 289.2,374.2 289.7,374.3 290.2,374.4 290.7,374.4 291.2,374.5 291.7,374.6 292.2,374.7 292.7,374.8 293.2,374.9 293.7,374.9 294.2,375.0 294.7,375.1 295.2,375.1 295.7,375.2 296.2,375.2 296.7,375.3 297.2,375.3 297.7,375.4 298.2,375.4 298.7,375.4 299.2,375.4 299.7,375.4 300.2,375.5 300.7,375.5 301.2,375.4 301.7,375.4 302.2,375.4 302.7,375.4 303.2,375.4 303.7,375.3 304.2,375.3 304.7,375.2 305.2,375.1 305.7,375.1 306.2,375.0 306.7,374.9 307.2,374.8 307.7,374.7 308.2,374.6 308.7,374.5 309.2,374.4 309.7,374.3 310.2,374.1 310.7,374.0 311.2,373.9 311.7,373.7 312.2,373.6 312.7,373.5 313.2,373.3 313.7,373.2 314.2,373.1 314.7,372.9 315.2,372.8 315.7,372.6 316.2,372.5 316.7,372.4 317.2,372.2 317.7,372.1 318.2,371.9 318.7,371.8 319.2,371.7 319.7,371.6 320.2,371.4 320.7,371.3 321.2,371.2 321.7,371.1 322.2,370.9 322.7,370.8 323.2,370.7 323.7,370.6 324.2,370.5 324.7,370.4 325.2,370.2 325.7,370.1 326.2,370.0 326.7,369.9 327.2,369.8 327.7,369.7 328.2,369.7 328.7,369.6 329.2,369.5 329.7,369.4 330.2,369.3 330.7,369.2 331.2,369.1 331.7,369.1 332.2,369.0 332.7,368.9 333.2,368.9 333.7,368.8 334.2,368.7 334.7,368.7 335.2,368.6 335.7,368.6 336.2,368.5 336.7,368.5 337.2,368.4 337.7,368.4 338.2,368.4 338.7,368.3 339.2,368.3 339.7,368.2 340.2,368.2 340.7,368.2 341.2,368.2 341.7,368.1 342.2,368.1 342.7,368.1 343.2,368.1 343.7,368.1 344.2,368.0 344.7,368.0 345.2,368.0 345.7,368.0 346.2,368.0 346.7,368.0 347.2,368.0 347.7,368.0 348.2,368.0 348.7,368.0 349.2,368.0 349.7,368.0 350.2,368.0 350.7,368.0 351.2,368.0 351.7,368.0 352.2,368.0 352.7,368.0 353.2,368.0 353.7,368.0 354.2,368.1 354.7,368.1 355.2,368.1 355.7,368.1 356.2,368.1 356.7,368.1 357.2,368.1 357.7,368.1 358.2,368.1 358.7,368.2 359.2,368.2 359.7,368.2 360.2,368.2 360.7,368.2 361.2,368.2 361.7,368.2 362.2,368.2 362.7,368.2 363.2,368.2 363.7,368.2 364.2,368.2 364.7,368.2 365.2,368.2 365.7,368.2 366.2,368.2 366.7,368.2 367.2,368.2 367.7,368.2 368.2,368.1 368.7,368.1 369.2,368.1 369.7,368.0 370.2,368.0 370.7,367.9 371.2,367.9 371.7,367.8 372.2,367.7 372.7,367.7 373.2,367.6 373.7,367.5 374.2,367.4 374.7,367.3 375.2,367.2 375.7,367.0 376.2,366.9 376.7,366.8 377.2,366.7 377.7,366.5 378.2,366.4 378.7,366.3 379.2,366.1 379.7,366.0 380.2,365.8 380.7,365.7 381.2,365.5 381.7,365.4 382.2,365.2 382.7,365.1 382.9,365.0" fill="none" stroke="#1f6cbd" stroke-width="1.9" stroke-linejoin="round"/>
<path d="M9.2,319.5 9.7,319.4 10.2,319.3 10.7,319.2 11.2,319.1 11.7,319.0 12.2,318.9 12.7,318.8 13.2,318.7 13.7,318.6 14.2,318.5 14.7,318.4 15.2,318.3 15.7,318.1 16.2,318.0 16.7,317.9 17.2,317.7 17.7,317.6 18.2,317.4 18.7,317.3 19.2,317.1 19.7,316.9 20.2,316.8 20.7,316.6 21.2,316.4 21.7,316.2 22.2,316.0 22.7,315.8 23.2,315.6 23.7,315.4 24.2,315.1 24.7,314.9 25.2,314.7 25.7,314.4 26.2,314.1 26.7,313.9 27.2,313.6 27.7,313.3 28.2,313.1 28.7,312.8 29.2,312.5 29.7,312.3 30.2,312.0 30.7,311.8 31.2,311.5 31.7,311.3 32.2,311.0 32.7,310.8 33.2,310.6 33.7,310.4 34.2,310.2 34.7,310.0 35.2,309.8 35.7,309.7 36.2,309.6 36.7,309.4 37.2,309.3 37.7,309.2 38.2,309.1 38.7,309.0 39.2,308.9 39.7,308.9 40.2,308.8 40.7,308.8 41.2,308.7 41.7,308.7 42.2,308.7 42.7,308.6 43.2,308.6 43.7,308.6 44.2,308.6 44.7,308.6 45.2,308.6 45.7,308.6 46.2,308.6 46.7,308.6 47.2,308.7 47.7,308.7 48.2,308.8 48.7,308.8 49.2,308.9 49.7,309.0 50.2,309.1 50.7,309.2 51.2,309.3 51.7,309.4 52.2,309.6 52.7,309.7 53.2,309.9 53.7,310.1 54.2,310.3 54.7,310.5 55.2,310.7 55.7,310.9 56.2,311.2 56.7,311.4 57.2,311.6 57.7,311.9 58.2,312.1 58.7,312.4 59.2,312.6 59.7,312.9 60.2,313.1 60.7,313.3 61.2,313.6 61.7,313.8 62.2,314.0 62.7,314.2 63.2,314.4 63.7,314.6 64.2,314.8 64.7,315.0 65.2,315.2 65.7,315.4 66.2,315.6 66.7,315.8 67.2,315.9 67.7,316.1 68.2,316.3 68.7,316.5 69.2,316.6 69.7,316.8 70.2,317.0 70.7,317.1 71.2,317.3 71.7,317.5 72.2,317.6 72.7,317.7 73.2,317.9 73.7,318.0 74.2,318.1 74.7,318.2 75.2,318.3 75.7,318.4 76.2,318.5 76.7,318.5 77.2,318.6 77.7,318.6 78.2,318.6 78.7,318.6 79.2,318.6 79.7,318.6 80.2,318.6 80.7,318.5 81.2,318.5 81.7,318.4 82.2,318.3 82.7,318.2 83.2,318.1 83.7,318.0 84.2,317.9 84.7,317.8 85.2,317.6 85.7,317.5 86.2,317.3 86.7,317.2 87.2,317.0 87.7,316.8 88.2,316.7 88.7,316.5 89.2,316.3 89.7,316.1 90.2,315.9 90.7,315.7 91.2,315.5 91.7,315.3 92.2,315.1 92.7,314.9 93.2,314.6 93.7,314.4 94.2,314.2 94.7,313.9 95.2,313.7 95.7,313.5 96.2,313.2 96.7,313.0 97.2,312.7 97.7,312.5 98.2,312.3 98.7,312.0 99.2,311.8 99.7,311.6 100.2,311.4 100.7,311.2 101.2,311.1 101.7,310.9 102.2,310.8 102.7,310.6 103.2,310.5 103.7,310.5 104.2,310.4 104.7,310.4 105.2,310.4 105.7,310.4 106.2,310.5 106.7,310.6 107.2,310.7 107.7,310.8 108.2,311.0 108.7,311.2 109.2,311.4 109.7,311.6 110.2,311.8 110.7,312.1 111.2,312.4 111.7,312.7 112.2,313.0 112.7,313.3 113.2,313.7 113.7,314.0 114.2,314.4 114.7,314.8 115.2,315.2 115.7,315.7 116.2,316.1 116.7,316.6 117.2,317.1 117.7,317.6 118.2,318.1 118.7,318.6 119.2,319.2 119.7,319.7 120.2,320.3 120.7,320.9 121.2,321.5 121.7,322.2 122.2,322.9 122.7,323.6 123.2,324.4 123.7,325.2 124.2,326.1 124.7,327.2 125.2,328.3 125.7,329.4 126.2,330.7 126.7,331.9 127.2,333.2 127.7,334.4 128.2,335.5 128.7,336.5 129.2,337.4 129.7,338.3 130.2,339.1 130.7,339.9 131.2,340.7 131.7,341.4 132.2,342.0 132.7,342.7 133.2,343.4 133.7,344.0 134.2,344.7 134.7,345.5 135.2,346.2 135.7,346.9 136.2,347.7 136.7,348.4 137.2,349.2 137.7,350.0 138.2,350.7 138.7,351.4 139.2,352.2 139.7,352.9 140.2,353.5 140.7,354.2 141.2,354.8 141.7,355.4 142.2,355.9 142.7,356.4 143.2,356.8 143.7,357.2 144.2,357.6 144.7,357.9 145.2,358.2 145.7,358.4 146.2,358.6 146.7,358.8 147.2,359.0 147.7,359.1 148.2,359.2 148.7,359.3 149.2,359.3 149.7,359.3 150.2,359.3 150.7,359.2 151.2,359.1 151.7,359.0 152.2,358.8 152.7,358.6 153.2,358.3 153.7,358.0 154.2,357.6 154.7,357.2 155.2,356.7 155.7,356.1 156.2,355.5 156.7,354.9 157.2,354.1 157.7,353.3 158.2,352.5 158.7,351.6 159.2,350.7 159.7,349.7 160.2,348.6 160.7,347.5 161.2,346.4 161.7,345.3 162.2,344.1 162.7,342.9 163.2,341.7 163.7,340.5 164.2,339.2 164.7,337.9 165.2,336.7 165.7,335.4 166.2,334.1 166.7,332.8 167.2,331.6 167.7,330.3 168.2,329.0 168.7,327.8 169.2,326.5 169.7,325.3 170.2,324.1 170.7,323.0 171.2,321.8 171.7,320.7 172.2,319.6 172.7,318.6 173.2,317.6 173.7,316.6 174.2,315.7 174.7,314.8 175.2,314.0 175.7,313.2 176.2,312.5 176.7,311.8 177.2,311.1 177.7,310.5 178.2,310.0 178.7,309.4 179.2,309.0 179.7,308.5 180.2,308.1 180.7,307.7 181.2,307.4 181.7,307.1 182.2,306.8 182.7,306.6 183.2,306.3 183.7,306.2 184.2,306.0 184.7,305.9 185.2,305.8 185.7,305.7 186.2,305.7 186.7,305.7 187.2,305.7 187.7,305.7 188.2,305.8 188.7,305.9 189.2,306.0 189.7,306.2 190.2,306.3 190.7,306.6 191.2,306.8 191.7,307.1 192.2,307.4 192.7,307.7 193.2,308.1 193.7,308.5 194.2,308.9 194.7,309.4 195.2,309.9 195.7,310.5 196.2,311.1 196.7,311.7 197.2,312.4 197.7,313.1 198.2,313.8 198.7,314.6 199.2,315.4 199.7,316.2 200.2,317.1 200.7,317.9 201.2,318.8 201.7,319.7 202.2,320.6 202.7,321.6 203.2,322.5 203.7,323.4 204.2,324.4 204.7,325.3 205.2,326.3 205.7,327.2 206.2,328.1 206.7,329.0 207.2,330.0 207.7,330.8 208.2,331.7 208.7,332.6 209.2,333.5 209.7,334.3 210.2,335.1 210.7,336.0 211.2,336.8 211.7,337.6 212.2,338.4 212.7,339.2 213.2,340.0 213.7,340.7 214.2,341.5 214.7,342.2 215.2,343.0 215.7,343.7 216.2,344.4 216.7,345.1 217.2,345.8 217.7,346.5 218.2,347.2 218.7,347.9 219.2,348.5 219.7,349.2 220.2,349.8 220.7,350.4 221.2,351.0 221.7,351.5 222.2,352.0 222.7,352.5 223.2,353.0 223.7,353.4 224.2,353.8 224.7,354.2 225.2,354.6 225.7,354.9 226.2,355.2 226.7,355.5 227.2,355.7 227.7,356.0 228.2,356.2 228.7,356.4 229.2,356.6 229.7,356.8 230.2,357.0 230.7,357.1 231.2,357.3 231.7,357.4 232.2,357.6 232.7,357.7 233.2,357.8 233.7,357.9 234.2,357.9 234.7,358.0 235.2,358.0 235.7,358.1 236.2,358.1 236.7,358.1 237.2,358.1 237.7,358.1 238.2,358.0 238.7,358.0 239.2,357.9 239.7,357.8 240.2,357.7 240.7,357.7 241.2,357.6 241.7,357.4 242.2,357.3 242.7,357.2 243.2,357.1 243.7,356.9 244.2,356.8 244.7,356.7 245.2,356.5 245.7,356.4 246.2,356.3 246.7,356.1 247.2,356.0 247.7,355.9 248.2,355.7 248.7,355.6 249.2,355.5 249.7,355.3 250.2,355.2 250.7,355.1 251.2,355.0 251.7,354.9 252.2,354.8 252.7,354.7 253.2,354.6 253.7,354.5 254.2,354.4 254.7,354.3 255.2,354.2 255.7,354.1 256.2,354.0 256.7,353.9 257.2,353.9 257.7,353.8 258.2,353.8 258.7,353.7 259.2,353.7 259.7,353.6 260.2,353.6 260.7,353.6 261.2,353.5 261.7,353.5 262.2,353.5 262.7,353.5 263.2,353.5 263.7,353.5 264.2,353.5 264.7,353.6 265.2,353.6 265.7,353.6 266.2,353.7 266.7,353.7 267.2,353.8 267.7,353.8 268.2,353.9 268.7,354.0 269.2,354.0 269.7,354.1 270.2,354.2 270.7,354.3 271.2,354.4 271.7,354.5 272.2,354.6 272.7,354.7 273.2,354.8 273.7,354.9 274.2,355.1 274.7,355.2 275.2,355.3 275.7,355.5 276.2,355.6 276.7,355.8 277.2,355.9 277.7,356.1 278.2,356.2 278.7,356.4 279.2,356.5 279.7,356.7 280.2,356.8 280.7,357.0 281.2,357.2 281.7,357.3 282.2,357.5 282.7,357.7 283.2,357.8 283.7,358.0 284.2,358.1 284.7,358.3 285.2,358.5 285.7,358.6 286.2,358.8 286.7,359.0 287.2,359.1 287.7,359.3 288.2,359.4 288.7,359.6 289.2,359.7 289.7,359.9 290.2,360.0 290.7,360.2 291.2,360.3 291.7,360.5 292.2,360.6 292.7,360.8 293.2,360.9 293.7,361.0 294.2,361.2 294.7,361.3 295.2,361.5 295.7,361.6 296.2,361.7 296.7,361.8 297.2,362.0 297.7,362.1 298.2,362.2 298.7,362.3 299.2,362.4 299.7,362.5 300.2,362.6 300.7,362.7 301.2,362.8 301.7,362.9 302.2,363.0 302.7,363.0 303.2,363.1 303.7,363.2 304.2,363.2 304.7,363.2 305.2,363.3 305.7,363.3 306.2,363.3 306.7,363.3 307.2,363.3 307.7,363.3 308.2,363.2 308.7,363.2 309.2,363.1 309.7,363.1 310.2,363.0 310.7,362.9 311.2,362.9 311.7,362.8 312.2,362.7 312.7,362.6 313.2,362.4 313.7,362.3 314.2,362.2 314.7,362.1 315.2,361.9 315.7,361.8 316.2,361.6 316.7,361.5 317.2,361.3 317.7,361.2 318.2,361.0 318.7,360.8 319.2,360.7 319.7,360.5 320.2,360.3 320.7,360.1 321.2,359.9 321.7,359.8 322.2,359.6 322.7,359.4 323.2,359.2 323.7,359.0 324.2,358.8 324.7,358.6 325.2,358.4 325.7,358.2 326.2,358.1 326.7,357.9 327.2,357.7 327.7,357.5 328.2,357.3 328.7,357.2 329.2,357.0 329.7,356.8 330.2,356.7 330.7,356.5 331.2,356.4 331.7,356.2 332.2,356.1 332.7,356.0 333.2,355.9 333.7,355.7 334.2,355.6 334.7,355.5 335.2,355.4 335.7,355.4 336.2,355.3 336.7,355.2 337.2,355.1 337.7,355.1 338.2,355.0 338.7,355.0 339.2,354.9 339.7,354.9 340.2,354.8 340.7,354.8 341.2,354.8 341.7,354.8 342.2,354.8 342.7,354.8 343.2,354.8 343.7,354.8 344.2,354.8 344.7,354.9 345.2,354.9 345.7,354.9 346.2,355.0 346.7,355.0 347.2,355.1 347.7,355.2 348.2,355.2 348.7,355.3 349.2,355.4 349.7,355.4 350.2,355.5 350.7,355.6 351.2,355.7 351.7,355.8 352.2,355.9 352.7,355.9 353.2,356.0 353.7,356.1 354.2,356.2 354.7,356.3 355.2,356.4 355.7,356.5 356.2,356.6 356.7,356.7 357.2,356.8 357.7,356.9 358.2,356.9 358.7,357.0 359.2,357.1 359.7,357.2 360.2,357.3 360.7,357.3 361.2,357.4 361.7,357.5 362.2,357.6 362.7,357.6 363.2,357.7 363.7,357.7 364.2,357.8 364.7,357.8 365.2,357.9 365.7,357.9 366.2,357.9 366.7,358.0 367.2,358.0 367.7,358.0 368.2,358.0 368.7,358.0 369.2,358.0 369.7,358.0 370.2,358.0 370.7,357.9 371.2,357.9 371.7,357.9 372.2,357.9 372.7,357.8 373.2,357.8 373.7,357.7 374.2,357.7 374.7,357.6 375.2,357.5 375.7,357.5 376.2,357.4 376.7,357.3 377.2,357.3 377.7,357.2 378.2,357.1 378.7,357.0 379.2,356.9 379.7,356.9 380.2,356.8 380.7,356.7 381.2,356.6 381.7,356.5 382.2,356.4 382.7,356.3 382.9,356.3" fill="none" stroke="#1c801f" stroke-width="1.9" stroke-linejoin="round"/>
<line x1="62.5" y1="423.5" x2="62.5" y2="576.7" stroke="#c9c9c9" stroke-width="1"/>
<line x1="62.5" y1="429.5" x2="66.5" y2="429.5" stroke="#c9c9c9" stroke-width="1"/>
<line x1="62.5" y1="453.5" x2="66.5" y2="453.5" stroke="#c9c9c9" stroke-width="1"/>
<line x1="62.5" y1="477.5" x2="66.5" y2="477.5" stroke="#c9c9c9" stroke-width="1"/>
<line x1="62.5" y1="524.5" x2="66.5" y2="524.5" stroke="#c9c9c9" stroke-width="1"/>
<line x1="62.5" y1="548.5" x2="66.5" y2="548.5" stroke="#c9c9c9" stroke-width="1"/>
<line x1="62.5" y1="572.5" x2="66.5" y2="572.5" stroke="#c9c9c9" stroke-width="1"/>
<line x1="8.5" y1="501" x2="387.7" y2="501" stroke="#9c9c9c" stroke-width="1"/>
<line x1="116.8" y1="501" x2="116.8" y2="506" stroke="#c9c9c9" stroke-width="1"/>
<line x1="170.9" y1="501" x2="170.9" y2="506" stroke="#c9c9c9" stroke-width="1"/>
<line x1="225" y1="501" x2="225" y2="506" stroke="#c9c9c9" stroke-width="1"/>
<line x1="279" y1="501" x2="279" y2="506" stroke="#c9c9c9" stroke-width="1"/>
<line x1="333.1" y1="501" x2="333.1" y2="506" stroke="#c9c9c9" stroke-width="1"/>
<line x1="387.2" y1="501" x2="387.2" y2="506" stroke="#c9c9c9" stroke-width="1"/>

<path d="M8.5,501.9 9.0,501.5 9.5,501.1 10.0,500.7 10.5,500.3 11.0,499.9 11.5,499.5 12.0,499.2 12.5,498.8 13.0,498.5 13.5,498.2 14.0,497.9 14.5,497.6 15.0,497.4 15.5,497.1 16.0,496.9 16.5,496.7 17.0,496.6 17.5,496.5 18.0,496.3 18.5,496.3 19.0,496.2 19.5,496.2 20.0,496.2 20.5,496.2 21.0,496.3 21.5,496.4 22.0,496.5 22.5,496.6 23.0,496.8 23.5,497.0 24.0,497.1 24.5,497.3 25.0,497.5 25.5,497.8 26.0,498.0 26.5,498.2 27.0,498.4 27.5,498.7 28.0,498.9 28.5,499.1 29.0,499.4 29.5,499.6 30.0,499.8 30.5,500.0 31.0,500.2 31.5,500.4 32.0,500.6 32.5,500.8 33.0,501.0 33.5,501.1 34.0,501.2 34.5,501.3 35.0,501.4 35.5,501.5 36.0,501.5 36.5,501.6 37.0,501.6 37.5,501.6 38.0,501.5 38.5,501.5 39.0,501.4 39.5,501.4 40.0,501.3 40.5,501.2 41.0,501.1 41.5,501.1 42.0,501.0 42.5,500.9 43.0,500.8 43.5,500.7 44.0,500.6 44.5,500.5 45.0,500.4 45.5,500.3 46.0,500.2 46.5,500.2 47.0,500.1 47.5,500.0 48.0,499.9 48.5,499.9 49.0,499.8 49.5,499.8 50.0,499.7 50.5,499.7 51.0,499.7 51.5,499.7 52.0,499.7 52.5,499.7 53.0,499.7 53.5,499.7 54.0,499.7 54.5,499.7 55.0,499.8 55.5,499.8 56.0,499.9 56.5,499.9 57.0,500.0 57.5,500.1 58.0,500.2 58.5,500.3 59.0,500.4 59.5,500.5 60.0,500.6 60.5,500.7 61.0,500.9 61.5,501.0 62.0,501.2 62.5,501.3 63.0,501.5 63.5,501.7 64.0,501.9 64.5,502.1 65.0,502.3 65.5,502.5 66.0,502.8 66.5,503.0 67.0,503.2 67.5,503.5 68.0,503.7 68.5,504.0 69.0,504.2 69.5,504.4 70.0,504.6 70.5,504.8 71.0,505.0 71.5,505.2 72.0,505.3 72.5,505.5 73.0,505.6 73.5,505.7 74.0,505.8 74.5,505.9 75.0,506.0 75.5,506.1 76.0,506.2 76.5,506.2 77.0,506.3 77.5,506.3 78.0,506.3 78.5,506.3 79.0,506.3 79.5,506.3 80.0,506.3 80.5,506.2 81.0,506.1 81.5,506.0 82.0,505.9 82.5,505.8 83.0,505.7 83.5,505.5 84.0,505.3 84.5,505.1 85.0,504.9 85.5,504.6 86.0,504.3 86.5,504.0 87.0,503.6 87.5,503.2 88.0,502.8 88.5,502.4 89.0,502.0 89.5,501.5 90.0,501.1 90.5,500.7 91.0,500.2 91.5,499.8 92.0,499.4 92.5,499.0 93.0,498.6 93.5,498.3 94.0,497.9 94.5,497.7 95.0,497.4 95.5,497.2 96.0,496.9 96.5,496.7 97.0,496.5 97.5,496.4 98.0,496.2 98.5,496.1 99.0,495.9 99.5,495.8 100.0,495.6 100.5,495.5 101.0,495.4 101.5,495.3 102.0,495.2 102.5,495.1 103.0,494.9 103.5,494.8 104.0,494.7 104.5,494.6 105.0,494.5 105.5,494.5 106.0,494.4 106.5,494.3 107.0,494.2 107.5,494.1 108.0,494.0 108.5,494.0 109.0,493.9 109.5,493.8 110.0,493.7 110.5,493.7 111.0,493.6 111.5,493.5 112.0,493.4 112.5,493.4 113.0,493.3 113.5,493.3 114.0,493.2 114.5,493.2 115.0,493.1 115.5,493.1 116.0,493.0 116.5,493.0 117.0,493.0 117.5,492.9 118.0,492.9 118.5,492.9 119.0,493.0 119.5,493.1 120.0,493.2 120.5,493.3 121.0,493.5 121.5,493.8 122.0,494.1 122.5,494.5 123.0,494.9 123.5,495.4 124.0,496.0 124.5,496.6 125.0,497.3 125.5,498.0 126.0,498.7 126.5,499.6 127.0,500.4 127.5,501.3 128.0,502.3 128.5,503.2 129.0,504.2 129.5,505.3 130.0,506.3 130.5,507.4 131.0,508.5 131.5,509.6 132.0,510.7 132.5,511.8 133.0,512.9 133.5,514.0 134.0,515.2 134.5,516.3 135.0,517.4 135.5,518.6 136.0,519.7 136.5,520.8 137.0,521.9 137.5,523.1 138.0,524.2 138.5,525.3 139.0,526.4 139.5,527.5 140.0,528.6 140.5,529.7 141.0,530.8 141.5,531.8 142.0,532.8 142.5,533.8 143.0,534.6 143.5,535.5 144.0,536.3 144.5,537.0 145.0,537.6 145.5,538.2 146.0,538.6 146.5,539.1 147.0,539.4 147.5,539.6 148.0,539.8 148.5,539.9 149.0,539.9 149.5,539.8 150.0,539.7 150.5,539.5 151.0,539.2 151.5,538.8 152.0,538.4 152.5,537.9 153.0,537.4 153.5,536.9 154.0,536.3 154.5,535.7 155.0,535.0 155.5,534.3 156.0,533.6 156.5,532.9 157.0,532.1 157.5,531.3 158.0,530.5 158.5,529.7 159.0,528.9 159.5,528.0 160.0,527.1 160.5,526.2 161.0,525.3 161.5,524.4 162.0,523.5 162.5,522.5 163.0,521.6 163.5,520.6 164.0,519.6 164.5,518.6 165.0,517.6 165.5,516.6 166.0,515.6 166.5,514.5 167.0,513.5 167.5,512.5 168.0,511.4 168.5,510.4 169.0,509.3 169.5,508.3 170.0,507.2 170.5,506.2 171.0,505.2 171.5,504.1 172.0,503.1 172.5,502.1 173.0,501.1 173.5,500.1 174.0,499.2 174.5,498.2 175.0,497.3 175.5,496.4 176.0,495.5 176.5,494.7 177.0,493.9 177.5,493.2 178.0,492.4 178.5,491.7 179.0,491.1 179.5,490.5 180.0,489.9 180.5,489.4 181.0,488.9 181.5,488.5 182.0,488.1 182.5,487.7 183.0,487.4 183.5,487.1 184.0,486.9 184.5,486.7 185.0,486.6 185.5,486.5 186.0,486.5 186.5,486.5 187.0,486.5 187.5,486.6 188.0,486.8 188.5,487.0 189.0,487.2 189.5,487.5 190.0,487.8 190.5,488.1 191.0,488.5 191.5,488.9 192.0,489.4 192.5,489.8 193.0,490.4 193.5,490.9 194.0,491.5 194.5,492.1 195.0,492.7 195.5,493.3 196.0,494.0 196.5,494.7 197.0,495.4 197.5,496.1 198.0,496.8 198.5,497.6 199.0,498.3 199.5,499.1 200.0,499.8 200.5,500.6 201.0,501.3 201.5,502.1 202.0,502.9 202.5,503.6 203.0,504.4 203.5,505.1 204.0,505.8 204.5,506.5 205.0,507.2 205.5,508.0 206.0,508.7 206.5,509.4 207.0,510.0 207.5,510.7 208.0,511.4 208.5,512.1 209.0,512.8 209.5,513.5 210.0,514.2 210.5,514.9 211.0,515.6 211.5,516.3 212.0,517.0 212.5,517.8 213.0,518.5 213.5,519.2 214.0,520.0 214.5,520.7 215.0,521.5 215.5,522.2 216.0,523.0 216.5,523.7 217.0,524.5 217.5,525.2 218.0,525.9 218.5,526.6 219.0,527.3 219.5,528.0 220.0,528.6 220.5,529.2 221.0,529.8 221.5,530.4 222.0,530.9 222.5,531.5 223.0,532.0 223.5,532.5 224.0,533.0 224.5,533.4 225.0,533.9 225.5,534.3 226.0,534.7 226.5,535.1 227.0,535.5 227.5,535.9 228.0,536.3 228.5,536.7 229.0,537.0 229.5,537.4 230.0,537.7 230.5,538.0 231.0,538.4 231.5,538.7 232.0,539.0 232.5,539.3 233.0,539.6 233.5,539.9 234.0,540.1 234.5,540.4 235.0,540.6 235.5,540.8 236.0,541.0 236.5,541.2 237.0,541.3 237.5,541.4 238.0,541.5 238.5,541.6 239.0,541.7 239.5,541.8 240.0,541.8 240.5,541.8 241.0,541.8 241.5,541.8 242.0,541.8 242.5,541.8 243.0,541.8 243.5,541.8 244.0,541.7 244.5,541.7 245.0,541.6 245.5,541.6 246.0,541.5 246.5,541.5 247.0,541.4 247.5,541.4 248.0,541.3 248.5,541.3 249.0,541.2 249.5,541.2 250.0,541.1 250.5,541.1 251.0,541.1 251.5,541.0 252.0,541.0 252.5,541.0 253.0,541.0 253.5,541.0 254.0,541.0 254.5,541.0 255.0,541.1 255.5,541.1 256.0,541.2 256.5,541.2 257.0,541.3 257.5,541.4 258.0,541.5 258.5,541.6 259.0,541.7 259.5,541.8 260.0,541.9 260.5,542.1 261.0,542.2 261.5,542.4 262.0,542.5 262.5,542.7 263.0,542.8 263.5,543.0 264.0,543.2 264.5,543.4 265.0,543.5 265.5,543.7 266.0,543.9 266.5,544.1 267.0,544.3 267.5,544.5 268.0,544.7 268.5,544.9 269.0,545.1 269.5,545.2 270.0,545.4 270.5,545.6 271.0,545.8 271.5,545.9 272.0,546.1 272.5,546.2 273.0,546.3 273.5,546.5 274.0,546.6 274.5,546.7 275.0,546.8 275.5,546.9 276.0,547.0 276.5,547.1 277.0,547.2 277.5,547.3 278.0,547.4 278.5,547.5 279.0,547.6 279.5,547.7 280.0,547.8 280.5,547.9 281.0,548.0 281.5,548.1 282.0,548.2 282.5,548.3 283.0,548.4 283.5,548.6 284.0,548.7 284.5,548.8 285.0,549.0 285.5,549.1 286.0,549.3 286.5,549.5 287.0,549.7 287.5,549.9 288.0,550.2 288.5,550.4 289.0,550.7 289.5,551.0 290.0,551.3 290.5,551.6 291.0,552.0 291.5,552.3 292.0,552.7 292.5,553.1 293.0,553.4 293.5,553.8 294.0,554.1 294.5,554.5 295.0,554.8 295.5,555.2 296.0,555.5 296.5,555.8 297.0,556.1 297.5,556.4 298.0,556.6 298.5,556.9 299.0,557.1 299.5,557.3 300.0,557.5 300.5,557.7 301.0,557.9 301.5,558.1 302.0,558.2 302.5,558.3 303.0,558.4 303.5,558.5 304.0,558.6 304.5,558.6 305.0,558.7 305.5,558.7 306.0,558.7 306.5,558.7 307.0,558.7 307.5,558.6 308.0,558.6 308.5,558.5 309.0,558.4 309.5,558.3 310.0,558.2 310.5,558.0 311.0,557.9 311.5,557.7 312.0,557.5 312.5,557.3 313.0,557.1 313.5,556.9 314.0,556.7 314.5,556.4 315.0,556.1 315.5,555.9 316.0,555.6 316.5,555.3 317.0,554.9 317.5,554.6 318.0,554.3 318.5,553.9 319.0,553.6 319.5,553.2 320.0,552.8 320.5,552.5 321.0,552.1 321.5,551.7 322.0,551.4 322.5,551.1 323.0,550.7 323.5,550.4 324.0,550.1 324.5,549.8 325.0,549.5 325.5,549.3 326.0,549.1 326.5,548.9 327.0,548.7 327.5,548.6 328.0,548.5 328.5,548.4 329.0,548.3 329.5,548.3 330.0,548.3 330.5,548.4 331.0,548.4 331.5,548.5 332.0,548.6 332.5,548.7 333.0,548.8 333.5,549.0 334.0,549.2 334.5,549.3 335.0,549.5 335.5,549.7 336.0,549.9 336.5,550.2 337.0,550.4 337.5,550.6 338.0,550.8 338.5,551.0 339.0,551.2 339.5,551.4 340.0,551.6 340.5,551.8 341.0,552.0 341.5,552.2 342.0,552.3 342.5,552.5 343.0,552.6 343.5,552.7 344.0,552.7 344.5,552.8 345.0,552.8 345.5,552.8 346.0,552.8 346.5,552.7 347.0,552.7 347.5,552.6 348.0,552.5 348.5,552.4 349.0,552.3 349.5,552.1 350.0,552.0 350.5,551.9 351.0,551.7 351.5,551.6 352.0,551.4 352.5,551.3 353.0,551.2 353.5,551.1 354.0,551.0 354.5,550.9 355.0,550.8 355.5,550.7 356.0,550.7 356.5,550.7 357.0,550.7 357.5,550.7 358.0,550.8 358.5,550.9 359.0,551.0 359.5,551.1 360.0,551.2 360.5,551.4 361.0,551.6 361.5,551.8 362.0,552.0 362.5,552.2 363.0,552.5 363.5,552.7 364.0,553.0 364.5,553.3 365.0,553.6 365.5,554.0 366.0,554.3 366.5,554.6 367.0,554.9 367.5,555.2 368.0,555.5 368.5,555.8 369.0,556.1 369.5,556.3 370.0,556.6 370.5,556.8 371.0,556.9 371.5,557.1 372.0,557.2 372.5,557.2 373.0,557.2 373.5,557.2 374.0,557.1 374.5,557.0 375.0,556.8 375.5,556.6 376.0,556.3 376.5,556.0 377.0,555.7 377.5,555.3 378.0,554.8 378.5,554.3 379.0,553.9 379.5,553.3 380.0,552.8 380.5,552.2 381.0,551.7 381.5,551.1 382.0,550.6 382.5,550.0 383.0,549.5 383.5,548.9 384.0,548.4 384.5,547.9 385.0,547.4 385.5,546.9 386.0,546.5 386.5,546.0 387.0,545.5" fill="none" stroke="#1c801f" stroke-width="1.9" stroke-linejoin="round"/>
<path d="M8.5,503.8 9.0,503.8 9.5,503.9 10.0,503.9 10.5,504.0 11.0,504.0 11.5,504.0 12.0,504.1 12.5,504.1 13.0,504.1 13.5,504.1 14.0,504.1 14.5,504.1 15.0,504.1 15.5,504.0 16.0,504.0 16.5,503.9 17.0,503.9 17.5,503.8 18.0,503.7 18.5,503.6 19.0,503.5 19.5,503.4 20.0,503.3 20.5,503.2 21.0,503.1 21.5,502.9 22.0,502.8 22.5,502.6 23.0,502.4 23.5,502.2 24.0,502.1 24.5,501.9 25.0,501.7 25.5,501.5 26.0,501.2 26.5,501.0 27.0,500.8 27.5,500.6 28.0,500.4 28.5,500.1 29.0,499.9 29.5,499.6 30.0,499.4 30.5,499.2 31.0,498.9 31.5,498.7 32.0,498.5 32.5,498.2 33.0,498.0 33.5,497.8 34.0,497.6 34.5,497.3 35.0,497.1 35.5,496.9 36.0,496.7 36.5,496.5 37.0,496.3 37.5,496.1 38.0,495.9 38.5,495.8 39.0,495.6 39.5,495.4 40.0,495.3 40.5,495.2 41.0,495.0 41.5,494.9 42.0,494.8 42.5,494.7 43.0,494.6 43.5,494.5 44.0,494.5 44.5,494.4 45.0,494.4 45.5,494.4 46.0,494.4 46.5,494.4 47.0,494.5 47.5,494.5 48.0,494.6 48.5,494.7 49.0,494.8 49.5,494.9 50.0,495.0 50.5,495.1 51.0,495.3 51.5,495.5 52.0,495.7 52.5,495.9 53.0,496.1 53.5,496.3 54.0,496.6 54.5,496.9 55.0,497.1 55.5,497.4 56.0,497.7 56.5,498.0 57.0,498.3 57.5,498.6 58.0,498.9 58.5,499.2 59.0,499.5 59.5,499.8 60.0,500.1 60.5,500.4 61.0,500.7 61.5,500.9 62.0,501.2 62.5,501.4 63.0,501.7 63.5,501.9 64.0,502.1 64.5,502.3 65.0,502.4 65.5,502.6 66.0,502.8 66.5,502.9 67.0,503.0 67.5,503.1 68.0,503.1 68.5,503.2 69.0,503.2 69.5,503.2 70.0,503.2 70.5,503.1 71.0,503.1 71.5,503.0 72.0,502.9 72.5,502.8 73.0,502.7 73.5,502.5 74.0,502.4 74.5,502.2 75.0,502.0 75.5,501.8 76.0,501.6 76.5,501.4 77.0,501.2 77.5,501.0 78.0,500.8 78.5,500.5 79.0,500.3 79.5,500.1 80.0,499.8 80.5,499.6 81.0,499.3 81.5,499.0 82.0,498.8 82.5,498.5 83.0,498.3 83.5,498.0 84.0,497.8 84.5,497.5 85.0,497.2 85.5,497.0 86.0,496.8 86.5,496.5 87.0,496.3 87.5,496.1 88.0,495.9 88.5,495.7 89.0,495.6 89.5,495.5 90.0,495.4 90.5,495.3 91.0,495.3 91.5,495.3 92.0,495.3 92.5,495.4 93.0,495.4 93.5,495.5 94.0,495.6 94.5,495.7 95.0,495.8 95.5,495.9 96.0,496.1 96.5,496.1 97.0,496.2 97.5,496.3 98.0,496.4 98.5,496.4 99.0,496.4 99.5,496.4 100.0,496.4 100.5,496.4 101.0,496.3 101.5,496.3 102.0,496.2 102.5,496.1 103.0,496.0 103.5,495.8 104.0,495.7 104.5,495.5 105.0,495.3 105.5,495.1 106.0,494.9 106.5,494.6 107.0,494.3 107.5,494.0 108.0,493.7 108.5,493.4 109.0,493.1 109.5,492.7 110.0,492.3 110.5,492.0 111.0,491.6 111.5,491.3 112.0,491.0 112.5,490.7 113.0,490.4 113.5,490.2 114.0,490.0 114.5,489.9 115.0,489.8 115.5,489.8 116.0,489.8 116.5,489.9 117.0,490.0 117.5,490.3 118.0,490.6 118.5,491.0 119.0,491.5 119.5,492.0 120.0,492.7 120.5,493.5 121.0,494.3 121.5,495.3 122.0,496.3 122.5,497.4 123.0,498.6 123.5,499.8 124.0,501.1 124.5,502.5 125.0,503.8 125.5,505.2 126.0,506.6 126.5,508.0 127.0,509.5 127.5,510.9 128.0,512.3 128.5,513.8 129.0,515.3 129.5,516.9 130.0,518.5 130.5,520.1 131.0,521.7 131.5,523.4 132.0,525.2 132.5,526.9 133.0,528.7 133.5,530.4 134.0,532.1 134.5,533.8 135.0,535.3 135.5,536.8 136.0,538.2 136.5,539.5 137.0,540.7 137.5,541.8 138.0,542.8 138.5,543.8 139.0,544.7 139.5,545.5 140.0,546.3 140.5,547.1 141.0,547.8 141.5,548.5 142.0,549.1 142.5,549.7 143.0,550.2 143.5,550.6 144.0,550.9 144.5,551.1 145.0,551.2 145.5,551.2 146.0,551.0 146.5,550.8 147.0,550.6 147.5,550.2 148.0,549.8 148.5,549.4 149.0,548.9 149.5,548.5 150.0,548.0 150.5,547.5 151.0,547.1 151.5,546.6 152.0,546.1 152.5,545.7 153.0,545.3 153.5,544.8 154.0,544.4 154.5,544.0 155.0,543.6 155.5,543.2 156.0,542.8 156.5,542.4 157.0,542.0 157.5,541.6 158.0,541.2 158.5,540.8 159.0,540.4 159.5,540.0 160.0,539.6 160.5,539.2 161.0,538.8 161.5,538.3 162.0,537.8 162.5,537.3 163.0,536.8 163.5,536.3 164.0,535.7 164.5,535.1 165.0,534.5 165.5,533.8 166.0,533.1 166.5,532.4 167.0,531.6 167.5,530.8 168.0,530.0 168.5,529.2 169.0,528.3 169.5,527.4 170.0,526.5 170.5,525.6 171.0,524.6 171.5,523.6 172.0,522.6 172.5,521.6 173.0,520.6 173.5,519.5 174.0,518.5 174.5,517.5 175.0,516.4 175.5,515.4 176.0,514.4 176.5,513.4 177.0,512.4 177.5,511.4 178.0,510.5 178.5,509.6 179.0,508.7 179.5,507.8 180.0,507.0 180.5,506.2 181.0,505.5 181.5,504.8 182.0,504.1 182.5,503.5 183.0,502.9 183.5,502.4 184.0,501.9 184.5,501.5 185.0,501.0 185.5,500.7 186.0,500.3 186.5,500.1 187.0,499.8 187.5,499.7 188.0,499.5 188.5,499.4 189.0,499.4 189.5,499.4 190.0,499.4 190.5,499.5 191.0,499.7 191.5,499.9 192.0,500.1 192.5,500.4 193.0,500.7 193.5,501.1 194.0,501.5 194.5,502.0 195.0,502.5 195.5,503.0 196.0,503.6 196.5,504.2 197.0,504.9 197.5,505.6 198.0,506.3 198.5,507.1 199.0,507.9 199.5,508.7 200.0,509.6 200.5,510.5 201.0,511.3 201.5,512.2 202.0,513.2 202.5,514.1 203.0,515.0 203.5,516.0 204.0,516.9 204.5,517.8 205.0,518.8 205.5,519.7 206.0,520.6 206.5,521.5 207.0,522.4 207.5,523.3 208.0,524.2 208.5,525.1 209.0,526.0 209.5,526.9 210.0,527.8 210.5,528.6 211.0,529.5 211.5,530.4 212.0,531.2 212.5,532.1 213.0,532.9 213.5,533.8 214.0,534.6 214.5,535.5 215.0,536.3 215.5,537.2 216.0,538.0 216.5,538.8 217.0,539.7 217.5,540.5 218.0,541.3 218.5,542.2 219.0,543.0 219.5,543.9 220.0,544.7 220.5,545.5 221.0,546.4 221.5,547.2 222.0,548.1 222.5,548.9 223.0,549.8 223.5,550.6 224.0,551.5 224.5,552.3 225.0,553.1 225.5,553.9 226.0,554.7 226.5,555.5 227.0,556.3 227.5,557.1 228.0,557.9 228.5,558.6 229.0,559.4 229.5,560.1 230.0,560.8 230.5,561.5 231.0,562.2 231.5,562.8 232.0,563.5 232.5,564.1 233.0,564.6 233.5,565.1 234.0,565.6 234.5,566.0 235.0,566.4 235.5,566.7 236.0,567.0 236.5,567.2 237.0,567.4 237.5,567.6 238.0,567.7 238.5,567.8 239.0,567.8 239.5,567.8 240.0,567.8 240.5,567.8 241.0,567.7 241.5,567.6 242.0,567.5 242.5,567.4 243.0,567.2 243.5,567.0 244.0,566.8 244.5,566.6 245.0,566.3 245.5,566.0 246.0,565.6 246.5,565.2 247.0,564.8 247.5,564.4 248.0,563.9 248.5,563.4 249.0,562.8 249.5,562.3 250.0,561.7 250.5,561.1 251.0,560.5 251.5,559.9 252.0,559.3 252.5,558.8 253.0,558.2 253.5,557.7 254.0,557.2 254.5,556.7 255.0,556.3 255.5,555.8 256.0,555.4 256.5,555.0 257.0,554.7 257.5,554.4 258.0,554.1 258.5,553.8 259.0,553.6 259.5,553.3 260.0,553.1 260.5,553.0 261.0,552.9 261.5,552.7 262.0,552.7 262.5,552.6 263.0,552.6 263.5,552.6 264.0,552.6 264.5,552.7 265.0,552.8 265.5,552.9 266.0,553.1 266.5,553.3 267.0,553.5 267.5,553.7 268.0,554.0 268.5,554.3 269.0,554.7 269.5,555.0 270.0,555.5 270.5,555.9 271.0,556.4 271.5,556.9 272.0,557.4 272.5,557.9 273.0,558.5 273.5,559.0 274.0,559.6 274.5,560.2 275.0,560.8 275.5,561.4 276.0,562.0 276.5,562.5 277.0,563.1 277.5,563.6 278.0,564.2 278.5,564.7 279.0,565.2 279.5,565.6 280.0,566.0 280.5,566.4 281.0,566.8 281.5,567.1 282.0,567.4 282.5,567.6 283.0,567.9 283.5,568.1 284.0,568.3 284.5,568.4 285.0,568.6 285.5,568.7 286.0,568.8 286.5,568.9 287.0,568.9 287.5,569.0 288.0,569.0 288.5,569.0 289.0,569.0 289.5,569.0 290.0,569.0 290.5,568.9 291.0,568.9 291.5,568.8 292.0,568.7 292.5,568.7 293.0,568.6 293.5,568.5 294.0,568.4 294.5,568.3 295.0,568.2 295.5,568.1 296.0,567.9 296.5,567.8 297.0,567.7 297.5,567.6 298.0,567.5 298.5,567.3 299.0,567.2 299.5,567.1 300.0,567.0 300.5,566.9 301.0,566.8 301.5,566.7 302.0,566.6 302.5,566.5 303.0,566.4 303.5,566.3 304.0,566.2 304.5,566.1 305.0,566.1 305.5,566.0 306.0,565.9 306.5,565.8 307.0,565.8 307.5,565.7 308.0,565.6 308.5,565.5 309.0,565.5 309.5,565.4 310.0,565.3 310.5,565.3 311.0,565.2 311.5,565.2 312.0,565.1 312.5,565.0 313.0,565.0 313.5,564.9 314.0,564.9 314.5,564.8 315.0,564.7 315.5,564.7 316.0,564.6 316.5,564.6 317.0,564.5 317.5,564.4 318.0,564.4 318.5,564.3 319.0,564.2 319.5,564.2 320.0,564.1 320.5,564.0 321.0,564.0 321.5,563.9 322.0,563.8 322.5,563.8 323.0,563.7 323.5,563.7 324.0,563.6 324.5,563.5 325.0,563.5 325.5,563.4 326.0,563.4 326.5,563.3 327.0,563.3 327.5,563.3 328.0,563.2 328.5,563.2 329.0,563.1 329.5,563.1 330.0,563.1 330.5,563.1 331.0,563.1 331.5,563.1 332.0,563.1 332.5,563.1 333.0,563.1 333.5,563.1 334.0,563.1 334.5,563.1 335.0,563.1 335.5,563.1 336.0,563.2 336.5,563.2 337.0,563.2 337.5,563.3 338.0,563.3 338.5,563.4 339.0,563.4 339.5,563.5 340.0,563.6 340.5,563.6 341.0,563.7 341.5,563.8 342.0,563.9 342.5,564.0 343.0,564.1 343.5,564.2 344.0,564.3 344.5,564.4 345.0,564.5 345.5,564.6 346.0,564.7 346.5,564.8 347.0,564.9 347.5,565.0 348.0,565.1 348.5,565.3 349.0,565.4 349.5,565.5 350.0,565.6 350.5,565.6 351.0,565.7 351.5,565.8 352.0,565.9 352.5,566.0 353.0,566.0 353.5,566.1 354.0,566.1 354.5,566.1 355.0,566.1 355.5,566.1 356.0,566.1 356.5,566.1 357.0,566.0 357.5,566.0 358.0,565.9 358.5,565.8 359.0,565.7 359.5,565.6 360.0,565.5 360.5,565.3 361.0,565.1 361.5,564.9 362.0,564.7 362.5,564.4 363.0,564.2 363.5,563.9 364.0,563.5 364.5,563.2 365.0,562.8 365.5,562.4 366.0,562.0 366.5,561.6 367.0,561.2 367.5,560.8 368.0,560.3 368.5,559.9 369.0,559.4 369.5,559.0 370.0,558.5 370.5,558.1 371.0,557.6 371.5,557.2 372.0,556.7 372.5,556.3 373.0,555.9 373.5,555.5 374.0,555.1 374.5,554.7 375.0,554.4 375.5,554.0 376.0,553.7 376.5,553.3 377.0,553.0 377.5,552.7 378.0,552.4 378.5,552.1 379.0,551.8 379.5,551.5 380.0,551.2 380.5,551.0 381.0,550.8 381.5,550.5 382.0,550.3 382.5,550.1 383.0,549.9 383.5,549.7 384.0,549.5 384.5,549.4 385.0,549.2 385.5,549.0 386.0,548.8 386.5,548.7 387.0,548.5" fill="none" stroke="#1f6cbd" stroke-width="1.9" stroke-linejoin="round"/>
<rect x="162" y="46" width="45" height="533.3" fill="#fddadc" style="mix-blend-mode:multiply"/>
<line x1="239.5" y1="49.4" x2="270" y2="49.4" stroke="#0b5aa6" stroke-width="3"/>
<line x1="239.5" y1="65.7" x2="270" y2="65.7" stroke="#0d7a14" stroke-width="3"/>
<text x="277" y="53.0" font-size="14" fill="#333" textLength="109" lengthAdjust="spacingAndGlyphs">FRN large outcome</text>
<text x="277" y="68.9" font-size="14" fill="#333" textLength="110.5" lengthAdjust="spacingAndGlyphs">FRN small outcome</text>
<line x1="239.5" y1="235.4" x2="270" y2="235.4" stroke="#0b5aa6" stroke-width="3"/>
<line x1="239.5" y1="251.8" x2="270" y2="251.8" stroke="#0d7a14" stroke-width="3"/>
<text x="277" y="239.7" font-size="14" fill="#333" textLength="109" lengthAdjust="spacingAndGlyphs">FRN large outcome</text>
<text x="277" y="255.5" font-size="14" fill="#333" textLength="110.5" lengthAdjust="spacingAndGlyphs">FRN small outcome</text>
<line x1="239.5" y1="421.9" x2="270" y2="421.9" stroke="#0b5aa6" stroke-width="3"/>
<line x1="239.5" y1="439.8" x2="270" y2="439.8" stroke="#0d7a14" stroke-width="3"/>
<text x="277" y="426.6" font-size="13.8" fill="#1a1a1a" textLength="112" lengthAdjust="spacingAndGlyphs">FRN large outcome</text>
<text x="277" y="442.8" font-size="13.8" fill="#1a1a1a" textLength="113.5" lengthAdjust="spacingAndGlyphs">FRN small outcome</text>
<g clip-path="url(#cc0)"><g filter="url(#tb)"><path fill="#0000f0" d="M502 137h6v2h-6zM502 139h6v2h-6zM502 141h6v2h-6zM502 143h6v2h-6zM502 145h6v2h-6zM502 147h6v2h-6z"/><path fill="#0202f0" d="M504 135h2v2h-2zM508 139h2v2h-2zM500 141h2v2h-2zM508 141h2v2h-2zM500 143h2v2h-2zM508 143h2v2h-2zM500 145h2v2h-2zM508 145h2v2h-2zM500 147h2v2h-2zM508 147h2v2h-2zM502 149h6v2h-6z"/><path fill="#0505f0" d="M502 135h2v2h-2zM506 135h2v2h-2zM500 139h2v2h-2zM500 149h2v2h-2zM508 149h2v2h-2zM502 151h6v2h-6z"/><path fill="#0707f0" d="M500 137h2v2h-2zM508 137h2v2h-2zM498 143h2v2h-2zM498 145h2v2h-2zM510 145h2v2h-2zM498 147h2v2h-2zM510 147h2v2h-2zM510 149h2v2h-2zM500 151h2v2h-2zM508 151h2v2h-2zM504 153h2v2h-2z"/><path fill="#0a0af0" d="M498 141h2v2h-2zM510 141h2v2h-2zM510 143h2v2h-2zM498 149h2v2h-2zM510 151h2v2h-2zM502 153h2v2h-2zM506 153h4v2h-4z"/><path fill="#0c0cf0" d="M502 133h4v2h-4zM500 135h2v2h-2zM508 135h2v2h-2zM498 139h2v2h-2zM510 139h2v2h-2zM512 149h2v2h-2zM498 151h2v2h-2zM500 153h2v2h-2zM510 153h2v2h-2z"/><path fill="#0f0ff0" d="M506 133h2v2h-2zM498 137h2v2h-2zM496 145h2v2h-2zM512 145h2v2h-2zM496 147h2v2h-2zM512 147h2v2h-2zM496 149h2v2h-2zM512 151h2v2h-2zM498 153h2v2h-2zM512 153h2v2h-2zM502 155h6v2h-6z"/><path fill="#1111f0" d="M500 133h2v2h-2zM510 137h2v2h-2zM496 141h2v2h-2zM496 143h2v2h-2zM512 143h2v2h-2zM514 149h2v2h-2zM496 151h2v2h-2zM514 151h2v2h-2zM500 155h2v2h-2zM508 155h4v2h-4z"/><path fill="#1414f0" d="M502 131h4v2h-4zM498 135h2v2h-2zM496 139h2v2h-2zM512 141h2v2h-2zM514 147h2v2h-2zM496 153h2v2h-2zM514 153h2v2h-2zM498 155h2v2h-2zM512 155h2v2h-2z"/><path fill="#1616f0" d="M500 131h2v2h-2zM506 131h2v2h-2zM498 133h2v2h-2zM508 133h2v2h-2zM494 145h2v2h-2zM514 145h2v2h-2zM494 147h2v2h-2zM494 149h2v2h-2zM516 149h2v2h-2zM494 151h2v2h-2zM516 151h2v2h-2zM514 155h2v2h-2z"/><path fill="#1919f0" d="M510 135h2v2h-2zM496 137h2v2h-2zM512 139h2v2h-2zM494 143h2v2h-2zM514 143h2v2h-2zM516 147h2v2h-2zM494 153h2v2h-2zM516 153h2v2h-2zM496 155h2v2h-2zM500 157h14v2h-14z"/><path fill="#1b1bf0" d="M502 129h2v2h-2zM496 135h2v2h-2zM494 141h2v2h-2zM514 141h2v2h-2zM516 145h2v2h-2zM518 147h2v2h-2zM518 149h2v2h-2zM518 151h2v2h-2zM516 155h2v2h-2zM514 157h2v2h-2z"/><path fill="#1e1ef0" d="M500 129h2v2h-2zM504 129h2v2h-2zM498 131h2v2h-2zM508 131h2v2h-2zM512 137h2v2h-2zM494 139h2v2h-2zM516 143h2v2h-2zM518 145h2v2h-2zM492 147h2v2h-2zM492 149h2v2h-2zM492 151h2v2h-2zM518 153h2v2h-2zM498 157h2v2h-2zM516 157h2v2h-2z"/><path fill="#2020f0" d="M506 129h2v2h-2zM496 133h2v2h-2zM510 133h2v2h-2zM514 139h2v2h-2zM516 141h2v2h-2zM518 143h2v2h-2zM492 145h2v2h-2zM520 145h2v2h-2zM520 147h2v2h-2zM520 149h2v2h-2zM520 151h2v2h-2zM492 153h2v2h-2zM494 155h2v2h-2zM518 155h2v2h-2z"/><path fill="#2323f0" d="M498 129h2v2h-2zM496 131h2v2h-2zM494 137h2v2h-2zM492 143h2v2h-2zM520 143h4v2h-4zM522 145h2v2h-2zM522 147h2v2h-2zM522 149h2v2h-2zM520 153h2v2h-2zM496 157h2v2h-2zM512 159h4v2h-4z"/><path fill="#2525f0" d="M500 127h6v2h-6zM508 129h2v2h-2zM494 135h2v2h-2zM512 135h2v2h-2zM524 139h2v2h-2zM492 141h2v2h-2zM518 141h8v2h-8zM524 143h2v2h-2zM524 145h2v2h-2zM490 147h2v2h-2zM524 147h2v2h-2zM490 149h2v2h-2zM524 149h2v2h-2zM490 151h2v2h-2zM522 151h2v2h-2zM492 155h2v2h-2zM520 155h2v2h-2zM518 157h2v2h-2zM500 159h12v2h-12zM516 159h2v2h-2z"/><path fill="#2828f0" d="M506 127h2v2h-2zM496 129h2v2h-2zM510 131h2v2h-2zM494 133h2v2h-2zM524 135h4v2h-4zM524 137h4v2h-4zM492 139h2v2h-2zM516 139h2v2h-2zM520 139h4v2h-4zM526 139h2v2h-2zM526 141h2v2h-2zM526 143h2v2h-2zM490 145h2v2h-2zM526 145h2v2h-2zM526 147h2v2h-2zM524 151h2v2h-2zM490 153h2v2h-2zM522 153h2v2h-2zM494 157h2v2h-2z"/><path fill="#2a2af0" d="M498 127h2v2h-2zM494 131h2v2h-2zM524 133h4v2h-4zM528 135h2v2h-2zM514 137h2v2h-2zM522 137h2v2h-2zM528 137h2v2h-2zM518 139h2v2h-2zM490 143h2v2h-2zM526 149h2v2h-2zM526 151h2v2h-2zM524 153h2v2h-2zM522 155h2v2h-2zM498 159h2v2h-2z"/><path fill="#2d2df0" d="M502 125h2v2h-2zM496 127h2v2h-2zM508 127h2v2h-2zM510 129h2v2h-2zM512 133h2v2h-2zM522 133h2v2h-2zM528 133h2v2h-2zM522 135h2v2h-2zM492 137h2v2h-2zM520 137h2v2h-2zM528 139h2v2h-2zM528 141h2v2h-2zM528 143h2v2h-2zM528 145h2v2h-2zM528 147h2v2h-2zM488 149h2v2h-2zM528 149h2v2h-2zM488 151h2v2h-2zM526 153h2v2h-2zM490 155h2v2h-2zM492 157h2v2h-2zM520 157h2v2h-2zM496 159h2v2h-2zM518 159h2v2h-2z"/><path fill="#2f2ff0" d="M498 125h4v2h-4zM504 125h2v2h-2zM494 129h2v2h-2zM522 131h4v2h-4zM492 135h2v2h-2zM520 135h2v2h-2zM530 135h2v2h-2zM516 137h4v2h-4zM490 141h2v2h-2zM488 147h2v2h-2zM528 151h2v2h-2zM488 153h2v2h-2zM528 153h2v2h-2zM524 155h2v2h-2zM514 161h2v2h-2z"/><path fill="#3232f0" d="M506 125h2v2h-2zM494 127h2v2h-2zM492 131h2v2h-2zM512 131h2v2h-2zM526 131h2v2h-2zM492 133h2v2h-2zM520 133h2v2h-2zM530 133h2v2h-2zM514 135h2v2h-2zM530 137h2v2h-2zM490 139h2v2h-2zM488 145h2v2h-2zM530 145h2v2h-2zM530 147h2v2h-2zM530 149h2v2h-2zM530 151h2v2h-2zM526 155h2v2h-2zM522 157h2v2h-2zM494 159h2v2h-2zM512 161h2v2h-2zM516 161h2v2h-2z"/><path fill="#3434f0" d="M496 125h2v2h-2zM510 127h2v2h-2zM492 129h2v2h-2zM512 129h2v2h-2zM520 129h4v2h-4zM520 131h2v2h-2zM528 131h2v2h-2zM518 135h2v2h-2zM490 137h2v2h-2zM530 139h2v2h-2zM530 141h2v2h-2zM488 143h2v2h-2zM530 143h2v2h-2zM486 149h2v2h-2zM486 151h2v2h-2zM530 153h2v2h-2zM488 155h2v2h-2zM528 155h4v2h-4zM490 157h2v2h-2zM524 157h2v2h-2zM520 159h2v2h-2zM510 161h2v2h-2z"/><path fill="#3737f0" d="M500 123h4v2h-4zM494 125h2v2h-2zM508 125h2v2h-2zM492 127h2v2h-2zM524 129h2v2h-2zM530 131h2v2h-2zM514 133h2v2h-2zM518 133h2v2h-2zM516 135h2v2h-2zM488 141h2v2h-2zM486 147h2v2h-2zM532 149h2v2h-2zM532 151h2v2h-2zM486 153h2v2h-2zM532 153h2v2h-2zM532 155h2v2h-2zM526 157h4v2h-4zM500 161h4v2h-4zM508 161h2v2h-2zM518 161h2v2h-2z"/><path fill="#3939f0" d="M498 123h2v2h-2zM504 123h2v2h-2zM512 127h2v2h-2zM520 127h2v2h-2zM490 129h2v2h-2zM514 129h6v2h-6zM490 131h2v2h-2zM514 131h2v2h-2zM518 131h2v2h-2zM490 133h2v2h-2zM490 135h2v2h-2zM488 139h2v2h-2zM486 145h2v2h-2zM532 147h2v2h-2zM534 153h2v2h-2zM534 155h2v2h-2zM530 157h4v2h-4zM492 159h2v2h-2zM522 159h2v2h-2zM498 161h2v2h-2zM504 161h4v2h-4z"/><path fill="#3c3cf0" d="M496 123h2v2h-2zM506 123h2v2h-2zM492 125h2v2h-2zM510 125h2v2h-2zM490 127h2v2h-2zM514 127h6v2h-6zM522 127h2v2h-2zM526 129h2v2h-2zM516 131h2v2h-2zM516 133h2v2h-2zM532 133h2v2h-2zM488 137h2v2h-2zM486 143h2v2h-2zM532 145h2v2h-2zM534 151h2v2h-2zM486 155h2v2h-2zM488 157h2v2h-2zM534 157h2v2h-2zM524 159h10v2h-10zM496 161h2v2h-2zM520 161h2v2h-2z"/><path fill="#3e3ef0" d="M494 123h2v2h-2zM512 125h2v2h-2zM488 129h2v2h-2zM488 131h2v2h-2zM532 131h2v2h-2zM488 135h2v2h-2zM532 135h2v2h-2zM532 137h2v2h-2zM486 141h2v2h-2zM532 143h2v2h-2zM484 147h2v2h-2zM484 149h2v2h-2zM534 149h2v2h-2zM484 151h2v2h-2zM536 153h2v2h-2zM536 155h2v2h-2zM536 157h2v2h-2zM534 159h2v2h-2zM522 161h2v2h-2zM514 163h4v2h-4z"/><path fill="#4141f0" d="M498 121h6v2h-6zM508 123h2v2h-2zM490 125h2v2h-2zM488 127h2v2h-2zM528 129h2v2h-2zM488 133h2v2h-2zM486 139h2v2h-2zM532 139h2v2h-2zM532 141h2v2h-2zM484 145h2v2h-2zM534 147h2v2h-2zM536 151h2v2h-2zM484 153h2v2h-2zM490 159h2v2h-2zM536 159h2v2h-2zM494 161h2v2h-2zM524 161h12v2h-12zM512 163h2v2h-2zM518 163h2v2h-2z"/><path fill="#4343f0" d="M496 121h2v2h-2zM504 121h2v2h-2zM492 123h2v2h-2zM510 123h2v2h-2zM488 125h2v2h-2zM514 125h8v2h-8zM486 129h2v2h-2zM486 131h2v2h-2zM486 133h2v2h-2zM486 135h2v2h-2zM486 137h2v2h-2zM484 143h2v2h-2zM538 155h2v2h-2zM486 157h2v2h-2zM538 157h2v2h-2zM538 159h2v2h-2zM536 161h2v2h-2zM520 163h2v2h-2z"/><path fill="#4646f0" d="M494 121h2v2h-2zM506 121h2v2h-2zM490 123h2v2h-2zM486 127h2v2h-2zM524 127h2v2h-2zM484 141h2v2h-2zM534 145h2v2h-2zM482 149h2v2h-2zM536 149h2v2h-2zM482 151h2v2h-2zM538 153h2v2h-2zM484 155h2v2h-2zM492 161h2v2h-2zM510 163h2v2h-2zM522 163h14v2h-14z"/><path fill="#4848f0" d="M512 123h2v2h-2zM486 125h2v2h-2zM522 125h2v2h-2zM484 129h2v2h-2zM530 129h2v2h-2zM484 131h2v2h-2zM484 133h2v2h-2zM484 135h2v2h-2zM484 137h2v2h-2zM484 139h2v2h-2zM482 145h2v2h-2zM482 147h2v2h-2zM538 151h2v2h-2zM482 153h2v2h-2zM540 157h2v2h-2zM488 159h2v2h-2zM538 161h2v2h-2zM498 163h2v2h-2zM536 163h2v2h-2z"/><path fill="#4b4bf0" d="M498 119h6v2h-6zM492 121h2v2h-2zM508 121h2v2h-2zM488 123h2v2h-2zM484 127h2v2h-2zM482 143h2v2h-2zM534 143h2v2h-2zM536 147h2v2h-2zM540 153h2v2h-2zM540 155h2v2h-2zM540 159h2v2h-2zM496 163h2v2h-2zM500 163h2v2h-2zM508 163h2v2h-2zM526 165h10v2h-10z"/><path fill="#4d4df0" d="M496 119h2v2h-2zM504 119h2v2h-2zM514 123h2v2h-2zM482 129h2v2h-2zM482 131h2v2h-2zM482 133h2v2h-2zM482 135h2v2h-2zM482 137h2v2h-2zM482 139h2v2h-2zM482 141h2v2h-2zM534 141h2v2h-2zM538 149h2v2h-2zM482 155h2v2h-2zM484 157h2v2h-2zM490 161h2v2h-2zM540 161h2v2h-2zM502 163h6v2h-6zM538 163h2v2h-2zM516 165h10v2h-10zM536 165h2v2h-2z"/><path fill="#5050f0" d="M494 119h2v2h-2zM506 119h2v2h-2zM490 121h2v2h-2zM510 121h2v2h-2zM486 123h2v2h-2zM516 123h2v2h-2zM484 125h2v2h-2zM526 127h2v2h-2zM532 129h2v2h-2zM534 133h2v2h-2zM536 145h2v2h-2zM480 147h2v2h-2zM480 149h2v2h-2zM480 151h2v2h-2zM540 151h2v2h-2zM542 157h2v2h-2zM486 159h2v2h-2zM494 163h2v2h-2zM514 165h2v2h-2zM528 167h8v2h-8z"/><path fill="#5252f0" d="M518 123h2v2h-2zM482 127h2v2h-2zM534 131h2v2h-2zM480 133h2v2h-2zM480 135h2v2h-2zM534 135h2v2h-2zM534 137h2v2h-2zM534 139h2v2h-2zM480 141h2v2h-2zM480 143h2v2h-2zM480 145h2v2h-2zM480 153h2v2h-2zM542 153h2v2h-2zM542 155h2v2h-2zM542 159h2v2h-2zM540 163h2v2h-2zM512 165h2v2h-2zM538 165h2v2h-2zM524 167h4v2h-4zM536 167h2v2h-2z"/><path fill="#5555f0" d="M498 117h6v2h-6zM492 119h2v2h-2zM508 119h2v2h-2zM488 121h2v2h-2zM512 121h2v2h-2zM480 129h2v2h-2zM480 131h2v2h-2zM480 137h2v2h-2zM480 139h2v2h-2zM538 147h2v2h-2zM540 149h2v2h-2zM492 163h2v2h-2zM520 167h4v2h-4zM532 169h2v2h-2z"/><path fill="#5757f0" d="M496 117h2v2h-2zM504 117h2v2h-2zM484 123h2v2h-2zM520 123h2v2h-2zM482 125h2v2h-2zM480 127h2v2h-2zM536 143h2v2h-2zM542 151h2v2h-2zM480 155h2v2h-2zM482 157h2v2h-2zM488 161h2v2h-2zM542 161h2v2h-2zM510 165h2v2h-2zM540 165h2v2h-2zM518 167h2v2h-2zM538 167h2v2h-2zM528 169h4v2h-4zM534 169h2v2h-2z"/><path fill="#5a5af0" d="M494 117h2v2h-2zM490 119h2v2h-2zM514 121h2v2h-2zM524 125h2v2h-2zM528 127h2v2h-2zM478 133h2v2h-2zM478 135h2v2h-2zM478 145h2v2h-2zM478 147h2v2h-2zM478 149h2v2h-2zM544 153h2v2h-2zM544 155h2v2h-2zM544 157h2v2h-2zM484 159h2v2h-2zM496 165h4v2h-4zM516 167h2v2h-2zM524 169h4v2h-4zM536 169h2v2h-2z"/><path fill="#5c5cf0" d="M506 117h2v2h-2zM510 119h2v2h-2zM486 121h2v2h-2zM478 129h2v2h-2zM478 131h2v2h-2zM478 137h2v2h-2zM478 139h2v2h-2zM478 141h2v2h-2zM478 143h2v2h-2zM538 145h2v2h-2zM542 149h2v2h-2zM478 151h2v2h-2zM544 159h2v2h-2zM542 163h2v2h-2zM500 165h2v2h-2zM508 165h2v2h-2zM540 167h2v2h-2zM522 169h2v2h-2zM538 169h2v2h-2zM530 171h6v2h-6z"/><path fill="#5f5ff0" d="M498 115h6v2h-6zM516 121h2v2h-2zM482 123h2v2h-2zM480 125h2v2h-2zM534 129h2v2h-2zM536 141h2v2h-2zM540 147h2v2h-2zM544 151h2v2h-2zM478 153h2v2h-2zM480 157h2v2h-2zM486 161h2v2h-2zM544 161h2v2h-2zM490 163h2v2h-2zM494 165h2v2h-2zM542 165h2v2h-2zM514 167h2v2h-2zM540 169h2v2h-2zM528 171h2v2h-2zM536 171h2v2h-2z"/><path fill="#6161f0" d="M496 115h2v2h-2zM492 117h2v2h-2zM508 117h2v2h-2zM488 119h2v2h-2zM512 119h2v2h-2zM522 123h2v2h-2zM478 127h2v2h-2zM530 127h2v2h-2zM546 153h2v2h-2zM546 155h2v2h-2zM546 157h2v2h-2zM482 159h2v2h-2zM502 165h2v2h-2zM506 165h2v2h-2zM520 169h2v2h-2zM526 171h2v2h-2zM538 171h2v2h-2z"/><path fill="#6464f0" d="M504 115h2v2h-2zM484 121h2v2h-2zM518 121h2v2h-2zM476 131h2v2h-2zM476 133h2v2h-2zM476 135h2v2h-2zM476 137h2v2h-2zM476 139h2v2h-2zM544 149h2v2h-2zM478 155h2v2h-2zM546 159h2v2h-2zM544 163h2v2h-2zM504 165h2v2h-2zM512 167h2v2h-2zM542 167h2v2h-2zM518 169h2v2h-2zM542 169h2v2h-2zM524 171h2v2h-2zM540 171h2v2h-2zM532 173h6v2h-6z"/><path fill="#6666f0" d="M494 115h2v2h-2zM490 117h2v2h-2zM478 125h2v2h-2zM476 129h2v2h-2zM536 139h2v2h-2zM476 141h2v2h-2zM476 143h2v2h-2zM538 143h2v2h-2zM476 145h2v2h-2zM476 147h2v2h-2zM542 147h2v2h-2zM476 149h2v2h-2zM546 151h2v2h-2zM546 161h2v2h-2zM492 165h2v2h-2zM544 165h2v2h-2zM496 167h4v2h-4zM522 171h2v2h-2zM542 171h2v2h-2zM530 173h2v2h-2zM538 173h2v2h-2z"/><path fill="#6969f0" d="M498 113h6v2h-6zM506 115h2v2h-2zM510 117h2v2h-2zM486 119h2v2h-2zM514 119h2v2h-2zM480 123h2v2h-2zM526 125h2v2h-2zM532 127h2v2h-2zM540 145h2v2h-2zM476 151h2v2h-2zM548 153h2v2h-2zM548 155h2v2h-2zM484 161h2v2h-2zM488 163h2v2h-2zM510 167h2v2h-2zM544 167h2v2h-2zM516 169h2v2h-2zM544 169h2v2h-2zM544 171h2v2h-2zM528 173h2v2h-2zM540 173h4v2h-4z"/><path fill="#6b6bf0" d="M496 113h2v2h-2zM492 115h2v2h-2zM482 121h2v2h-2zM476 127h2v2h-2zM536 137h2v2h-2zM546 149h2v2h-2zM548 151h2v2h-2zM478 157h2v2h-2zM548 157h2v2h-2zM480 159h2v2h-2zM548 159h2v2h-2zM546 163h2v2h-2zM494 167h2v2h-2zM500 167h2v2h-2zM546 169h2v2h-2zM520 171h2v2h-2zM546 171h2v2h-2zM526 173h2v2h-2zM544 173h2v2h-2zM534 175h4v2h-4z"/><path fill="#6e6ef0" d="M504 113h2v2h-2zM508 115h2v2h-2zM520 121h2v2h-2zM474 135h2v2h-2zM544 147h2v2h-2zM476 153h2v2h-2zM548 161h2v2h-2zM546 165h2v2h-2zM508 167h2v2h-2zM546 167h2v2h-2zM514 169h2v2h-2zM548 169h2v2h-2zM548 171h2v2h-2zM524 173h2v2h-2zM546 173h4v2h-4zM530 175h4v2h-4zM538 175h4v2h-4z"/><path fill="#7070f0" d="M494 113h2v2h-2zM488 117h2v2h-2zM512 117h2v2h-2zM484 119h2v2h-2zM516 119h2v2h-2zM478 123h2v2h-2zM476 125h2v2h-2zM474 131h2v2h-2zM536 131h2v2h-2zM474 133h2v2h-2zM536 133h2v2h-2zM536 135h2v2h-2zM474 137h2v2h-2zM474 139h2v2h-2zM474 141h2v2h-2zM474 143h2v2h-2zM474 145h2v2h-2zM542 145h2v2h-2zM548 149h2v2h-2zM548 163h2v2h-2zM490 165h2v2h-2zM548 165h2v2h-2zM502 167h2v2h-2zM548 167h2v2h-2zM550 169h2v2h-2zM518 171h2v2h-2zM550 171h2v2h-2zM528 175h2v2h-2zM542 175h6v2h-6z"/><path fill="#7373f0" d="M498 111h6v2h-6zM506 113h2v2h-2zM524 123h2v2h-2zM474 129h2v2h-2zM538 141h2v2h-2zM540 143h2v2h-2zM474 147h2v2h-2zM546 147h2v2h-2zM550 151h2v2h-2zM550 153h2v2h-2zM476 155h2v2h-2zM550 155h2v2h-2zM550 157h2v2h-2zM482 161h2v2h-2zM486 163h2v2h-2zM506 167h2v2h-2zM550 167h2v2h-2zM496 169h4v2h-4zM512 169h2v2h-2zM552 171h2v2h-2zM522 173h2v2h-2zM550 173h2v2h-2zM548 175h2v2h-2z"/><path fill="#7575f0" d="M496 111h2v2h-2zM490 115h2v2h-2zM510 115h2v2h-2zM480 121h2v2h-2zM474 127h2v2h-2zM534 127h2v2h-2zM474 149h2v2h-2zM478 159h2v2h-2zM550 159h2v2h-2zM550 161h2v2h-2zM550 163h2v2h-2zM550 165h2v2h-2zM492 167h2v2h-2zM504 167h2v2h-2zM552 167h2v2h-2zM552 169h2v2h-2zM552 173h2v2h-2zM526 175h2v2h-2zM550 175h2v2h-2zM532 177h12v2h-12z"/><path fill="#7878f0" d="M504 111h2v2h-2zM492 113h2v2h-2zM486 117h2v2h-2zM514 117h2v2h-2zM518 119h2v2h-2zM528 125h2v2h-2zM548 147h2v2h-2zM550 149h2v2h-2zM476 157h2v2h-2zM552 165h2v2h-2zM500 169h2v2h-2zM510 169h2v2h-2zM554 169h2v2h-2zM516 171h2v2h-2zM554 171h2v2h-2zM520 173h2v2h-2zM554 173h2v2h-2zM552 175h2v2h-2zM530 177h2v2h-2zM544 177h4v2h-4z"/><path fill="#7a7af0" d="M498 109h4v2h-4zM494 111h2v2h-2zM508 113h2v2h-2zM482 119h2v2h-2zM522 121h2v2h-2zM476 123h2v2h-2zM536 129h2v2h-2zM472 139h2v2h-2zM472 141h2v2h-2zM472 143h2v2h-2zM544 145h2v2h-2zM474 151h2v2h-2zM552 163h2v2h-2zM554 167h2v2h-2zM494 169h2v2h-2zM556 171h2v2h-2zM524 175h2v2h-2zM548 177h2v2h-2z"/><path fill="#7d7df0" d="M502 109h2v2h-2zM488 115h2v2h-2zM512 115h2v2h-2zM478 121h2v2h-2zM474 125h2v2h-2zM472 133h2v2h-2zM472 135h2v2h-2zM472 137h2v2h-2zM538 139h2v2h-2zM472 145h2v2h-2zM552 151h2v2h-2zM552 153h2v2h-2zM552 155h2v2h-2zM552 157h2v2h-2zM552 159h2v2h-2zM480 161h2v2h-2zM552 161h2v2h-2zM484 163h2v2h-2zM488 165h2v2h-2zM554 165h2v2h-2zM502 169h2v2h-2zM508 169h2v2h-2zM556 169h2v2h-2zM514 171h2v2h-2zM556 173h2v2h-2zM554 175h2v2h-2zM528 177h2v2h-2zM550 177h2v2h-2zM538 179h2v2h-2z"/><path fill="#7f7ff0" d="M496 109h2v2h-2zM506 111h2v2h-2zM516 117h2v2h-2zM530 125h2v2h-2zM472 129h2v2h-2zM472 131h2v2h-2zM542 143h2v2h-2zM546 145h2v2h-2zM472 147h2v2h-2zM550 147h2v2h-2zM552 149h2v2h-2zM474 153h2v2h-2zM554 163h2v2h-2zM556 167h2v2h-2zM504 169h4v2h-4zM558 169h2v2h-2zM496 171h4v2h-4zM558 171h2v2h-2zM518 173h2v2h-2zM558 173h2v2h-2zM522 175h2v2h-2zM556 175h2v2h-2zM526 177h2v2h-2zM552 177h2v2h-2zM534 179h4v2h-4zM540 179h8v2h-8z"/><path fill="#8282f0" d="M504 109h2v2h-2zM490 113h2v2h-2zM510 113h2v2h-2zM484 117h2v2h-2zM480 119h2v2h-2zM540 141h2v2h-2zM476 159h2v2h-2zM556 165h2v2h-2zM500 171h2v2h-2zM512 171h2v2h-2zM554 177h2v2h-2zM532 179h2v2h-2zM548 179h2v2h-2z"/><path fill="#8484f0" d="M498 107h4v2h-4zM494 109h2v2h-2zM492 111h2v2h-2zM520 119h2v2h-2zM472 127h2v2h-2zM548 145h2v2h-2zM552 147h2v2h-2zM472 149h2v2h-2zM474 155h2v2h-2zM554 159h2v2h-2zM478 161h2v2h-2zM554 161h2v2h-2zM490 167h2v2h-2zM558 167h2v2h-2zM560 169h2v2h-2zM560 171h2v2h-2zM560 173h2v2h-2zM558 175h2v2h-2zM556 177h2v2h-2zM530 179h2v2h-2zM550 179h4v2h-4z"/><path fill="#8787f0" d="M496 107h2v2h-2zM502 107h2v2h-2zM508 111h2v2h-2zM486 115h2v2h-2zM514 115h2v2h-2zM476 121h2v2h-2zM474 123h2v2h-2zM526 123h2v2h-2zM532 125h2v2h-2zM536 127h2v2h-2zM538 137h2v2h-2zM470 143h2v2h-2zM544 143h2v2h-2zM554 153h2v2h-2zM554 155h2v2h-2zM554 157h2v2h-2zM482 163h2v2h-2zM556 163h2v2h-2zM558 165h2v2h-2zM492 169h2v2h-2zM494 171h2v2h-2zM510 171h2v2h-2zM516 173h2v2h-2zM520 175h2v2h-2zM524 177h2v2h-2zM528 179h2v2h-2zM536 181h6v2h-6z"/><path fill="#8989f0" d="M506 109h2v2h-2zM482 117h2v2h-2zM518 117h2v2h-2zM470 139h2v2h-2zM470 141h2v2h-2zM470 145h2v2h-2zM550 145h2v2h-2zM554 151h2v2h-2zM556 161h2v2h-2zM486 165h2v2h-2zM560 167h2v2h-2zM502 171h2v2h-2zM560 175h2v2h-2zM558 177h2v2h-2zM554 179h2v2h-2zM534 181h2v2h-2zM542 181h6v2h-6z"/><path fill="#8c8cf0" d="M504 107h2v2h-2zM488 113h2v2h-2zM512 113h2v2h-2zM478 119h2v2h-2zM472 125h2v2h-2zM470 135h2v2h-2zM470 137h2v2h-2zM554 149h2v2h-2zM472 151h2v2h-2zM474 157h2v2h-2zM558 163h2v2h-2zM562 169h2v2h-2zM504 171h2v2h-2zM508 171h2v2h-2zM562 171h2v2h-2zM514 173h2v2h-2zM562 173h2v2h-2zM522 177h2v2h-2zM526 179h2v2h-2zM556 179h2v2h-2zM532 181h2v2h-2zM548 181h4v2h-4z"/><path fill="#8e8ef0" d="M498 105h4v2h-4zM494 107h2v2h-2zM492 109h2v2h-2zM490 111h2v2h-2zM510 111h2v2h-2zM524 121h2v2h-2zM470 131h2v2h-2zM470 133h2v2h-2zM542 141h2v2h-2zM546 143h2v2h-2zM470 147h2v2h-2zM556 159h2v2h-2zM560 165h2v2h-2zM562 167h2v2h-2zM506 171h2v2h-2zM496 173h4v2h-4zM518 175h2v2h-2zM560 177h2v2h-2zM530 181h2v2h-2zM552 181h2v2h-2z"/><path fill="#9191f0" d="M502 105h2v2h-2zM508 109h2v2h-2zM484 115h2v2h-2zM516 115h2v2h-2zM534 125h2v2h-2zM470 129h2v2h-2zM538 135h2v2h-2zM540 139h2v2h-2zM552 145h2v2h-2zM554 147h2v2h-2zM472 153h2v2h-2zM556 157h2v2h-2zM476 161h2v2h-2zM480 163h2v2h-2zM564 171h2v2h-2zM500 173h2v2h-2zM562 175h2v2h-2zM558 179h2v2h-2zM554 181h2v2h-2zM538 183h4v2h-4z"/><path fill="#9393f0" d="M496 105h2v2h-2zM506 107h2v2h-2zM480 117h2v2h-2zM522 119h2v2h-2zM474 121h2v2h-2zM538 129h2v2h-2zM538 131h2v2h-2zM538 133h2v2h-2zM548 143h2v2h-2zM556 155h2v2h-2zM474 159h2v2h-2zM558 161h2v2h-2zM560 163h2v2h-2zM488 167h2v2h-2zM564 169h2v2h-2zM512 173h2v2h-2zM564 173h2v2h-2zM524 179h2v2h-2zM528 181h2v2h-2zM556 181h2v2h-2zM534 183h4v2h-4zM542 183h8v2h-8z"/><path fill="#9696f0" d="M500 103h2v2h-2zM504 105h2v2h-2zM486 113h2v2h-2zM514 113h2v2h-2zM520 117h2v2h-2zM476 119h2v2h-2zM472 123h2v2h-2zM470 127h2v2h-2zM470 149h2v2h-2zM556 153h2v2h-2zM484 165h2v2h-2zM562 165h2v2h-2zM564 167h2v2h-2zM490 169h2v2h-2zM492 171h2v2h-2zM502 173h2v2h-2zM516 175h2v2h-2zM520 177h2v2h-2zM562 177h2v2h-2zM560 179h2v2h-2zM532 183h2v2h-2zM550 183h4v2h-4z"/><path fill="#9898f0" d="M498 103h2v2h-2zM502 103h2v2h-2zM494 105h2v2h-2zM492 107h2v2h-2zM512 111h2v2h-2zM528 123h2v2h-2zM468 141h2v2h-2zM544 141h2v2h-2zM468 143h2v2h-2zM550 143h2v2h-2zM556 151h2v2h-2zM558 159h2v2h-2zM478 163h2v2h-2zM566 169h2v2h-2zM566 171h2v2h-2zM494 173h2v2h-2zM510 173h2v2h-2zM564 175h2v2h-2zM526 181h2v2h-2zM558 181h2v2h-2zM530 183h2v2h-2zM554 183h2v2h-2z"/><path fill="#9b9bf0" d="M506 105h2v2h-2zM508 107h2v2h-2zM490 109h2v2h-2zM510 109h2v2h-2zM488 111h2v2h-2zM482 115h2v2h-2zM518 115h2v2h-2zM470 125h2v2h-2zM536 125h2v2h-2zM538 127h2v2h-2zM468 139h2v2h-2zM468 145h2v2h-2zM554 145h2v2h-2zM556 149h2v2h-2zM472 155h2v2h-2zM558 157h2v2h-2zM560 161h2v2h-2zM562 163h2v2h-2zM564 165h2v2h-2zM504 173h6v2h-6zM522 179h2v2h-2zM562 179h2v2h-2zM560 181h2v2h-2zM556 183h2v2h-2z"/><path fill="#9d9df0" d="M496 103h2v2h-2zM504 103h2v2h-2zM478 117h2v2h-2zM468 137h2v2h-2zM470 151h2v2h-2zM566 167h2v2h-2zM566 173h2v2h-2zM514 175h2v2h-2zM518 177h2v2h-2zM564 177h2v2h-2zM528 183h2v2h-2zM558 183h2v2h-2zM534 185h18v2h-18z"/><path fill="#a0a0f0" d="M498 101h6v2h-6zM516 113h2v2h-2zM468 133h2v2h-2zM468 135h2v2h-2zM540 137h2v2h-2zM542 139h2v2h-2zM546 141h2v2h-2zM552 143h2v2h-2zM468 147h2v2h-2zM556 147h2v2h-2zM558 155h2v2h-2zM560 159h2v2h-2zM474 161h2v2h-2zM482 165h2v2h-2zM568 169h2v2h-2zM568 171h2v2h-2zM498 175h2v2h-2zM524 181h2v2h-2zM532 185h2v2h-2zM552 185h4v2h-4z"/><path fill="#a2a2f0" d="M494 103h2v2h-2zM492 105h2v2h-2zM514 111h2v2h-2zM484 113h2v2h-2zM474 119h2v2h-2zM472 121h2v2h-2zM530 123h2v2h-2zM468 129h2v2h-2zM468 131h2v2h-2zM472 157h2v2h-2zM562 161h2v2h-2zM476 163h2v2h-2zM564 163h2v2h-2zM566 165h2v2h-2zM486 167h2v2h-2zM496 175h2v2h-2zM500 175h2v2h-2zM566 175h2v2h-2zM520 179h2v2h-2zM564 179h2v2h-2zM562 181h2v2h-2zM526 183h2v2h-2zM560 183h2v2h-2zM556 185h2v2h-2z"/><path fill="#a5a5f0" d="M496 101h2v2h-2zM504 101h2v2h-2zM506 103h2v2h-2zM508 105h2v2h-2zM490 107h2v2h-2zM510 107h2v2h-2zM512 109h2v2h-2zM486 111h2v2h-2zM480 115h2v2h-2zM522 117h2v2h-2zM524 119h2v2h-2zM526 121h2v2h-2zM470 123h2v2h-2zM532 123h2v2h-2zM548 141h2v2h-2zM558 153h2v2h-2zM568 167h2v2h-2zM568 173h2v2h-2zM502 175h2v2h-2zM512 175h2v2h-2zM530 185h2v2h-2zM558 185h2v2h-2z"/><path fill="#a7a7f0" d="M500 99h4v2h-4zM488 109h2v2h-2zM520 115h2v2h-2zM476 117h2v2h-2zM538 125h2v2h-2zM468 127h2v2h-2zM558 151h2v2h-2zM470 153h2v2h-2zM560 157h2v2h-2zM480 165h2v2h-2zM488 169h2v2h-2zM570 169h2v2h-2zM490 171h2v2h-2zM570 171h2v2h-2zM492 173h2v2h-2zM516 177h2v2h-2zM566 177h2v2h-2zM522 181h2v2h-2zM564 181h2v2h-2zM562 183h2v2h-2zM536 187h20v2h-20z"/><path fill="#aaaaf0" d="M498 99h2v2h-2zM504 99h2v2h-2zM506 101h2v2h-2zM534 123h2v2h-2zM544 139h2v2h-2zM550 141h2v2h-2zM554 143h2v2h-2zM556 145h2v2h-2zM468 149h2v2h-2zM472 159h2v2h-2zM562 159h2v2h-2zM566 163h2v2h-2zM568 165h2v2h-2zM570 167h2v2h-2zM494 175h2v2h-2zM504 175h2v2h-2zM510 175h2v2h-2zM568 175h2v2h-2zM566 179h2v2h-2zM524 183h2v2h-2zM528 185h2v2h-2zM560 185h2v2h-2zM534 187h2v2h-2zM556 187h2v2h-2z"/><path fill="#acacf0" d="M500 97h4v2h-4zM494 101h2v2h-2zM492 103h2v2h-2zM508 103h2v2h-2zM482 113h2v2h-2zM518 113h2v2h-2zM468 125h2v2h-2zM540 127h2v2h-2zM540 129h2v2h-2zM540 135h2v2h-2zM466 141h2v2h-2zM466 143h2v2h-2zM558 149h2v2h-2zM560 155h2v2h-2zM564 161h2v2h-2zM570 173h2v2h-2zM506 175h4v2h-4zM518 179h2v2h-2zM532 187h2v2h-2zM558 187h2v2h-2z"/><path fill="#afaff0" d="M496 99h2v2h-2zM490 105h2v2h-2zM510 105h2v2h-2zM516 111h2v2h-2zM478 115h2v2h-2zM472 119h2v2h-2zM466 139h2v2h-2zM466 145h2v2h-2zM478 165h2v2h-2zM484 167h2v2h-2zM572 169h2v2h-2zM572 171h2v2h-2zM514 177h2v2h-2zM568 177h2v2h-2zM566 181h2v2h-2zM564 183h2v2h-2zM526 185h2v2h-2zM562 185h2v2h-2zM530 187h2v2h-2zM560 187h2v2h-2zM552 189h4v2h-4z"/><path fill="#b1b1f0" d="M498 97h2v2h-2zM504 97h2v2h-2zM506 99h2v2h-2zM488 107h2v2h-2zM512 107h2v2h-2zM514 109h2v2h-2zM484 111h2v2h-2zM470 121h2v2h-2zM536 123h2v2h-2zM540 131h2v2h-2zM542 137h2v2h-2zM546 139h2v2h-2zM552 141h2v2h-2zM470 155h2v2h-2zM474 163h2v2h-2zM568 163h2v2h-2zM570 165h2v2h-2zM572 167h2v2h-2zM498 177h2v2h-2zM520 181h2v2h-2zM538 189h14v2h-14zM556 189h2v2h-2z"/><path fill="#b4b4f0" d="M500 95h4v2h-4zM494 99h2v2h-2zM492 101h2v2h-2zM508 101h2v2h-2zM486 109h2v2h-2zM480 113h2v2h-2zM474 117h2v2h-2zM468 123h2v2h-2zM540 125h2v2h-2zM540 133h2v2h-2zM466 137h2v2h-2zM466 147h2v2h-2zM558 147h2v2h-2zM468 151h2v2h-2zM560 153h2v2h-2zM562 157h2v2h-2zM564 159h2v2h-2zM566 161h2v2h-2zM572 173h2v2h-2zM570 175h2v2h-2zM496 177h2v2h-2zM500 177h2v2h-2zM568 179h2v2h-2zM522 183h2v2h-2zM566 183h2v2h-2zM564 185h2v2h-2zM528 187h2v2h-2zM562 187h2v2h-2zM534 189h4v2h-4zM558 189h2v2h-2z"/><path fill="#b6b6f0" d="M504 95h2v2h-2zM496 97h2v2h-2zM506 97h2v2h-2zM490 103h2v2h-2zM520 113h2v2h-2zM522 115h2v2h-2zM524 117h2v2h-2zM466 129h2v2h-2zM466 131h2v2h-2zM466 133h2v2h-2zM466 135h2v2h-2zM548 139h2v2h-2zM556 143h2v2h-2zM472 161h2v2h-2zM574 169h2v2h-2zM574 171h2v2h-2zM492 175h2v2h-2zM512 177h2v2h-2zM570 177h2v2h-2zM568 181h2v2h-2zM524 185h2v2h-2zM532 189h2v2h-2zM560 189h2v2h-2zM554 191h2v2h-2z"/><path fill="#b9b9f0" d="M498 95h2v2h-2zM510 103h2v2h-2zM488 105h2v2h-2zM476 115h2v2h-2zM528 121h2v2h-2zM538 123h2v2h-2zM466 127h2v2h-2zM560 151h2v2h-2zM570 163h2v2h-2zM476 165h2v2h-2zM572 165h2v2h-2zM482 167h2v2h-2zM574 167h2v2h-2zM490 173h2v2h-2zM572 175h2v2h-2zM502 177h2v2h-2zM516 179h2v2h-2zM566 185h2v2h-2zM526 187h2v2h-2zM564 187h2v2h-2zM530 189h2v2h-2zM562 189h2v2h-2zM548 191h6v2h-6zM556 191h4v2h-4z"/><path fill="#bbbbf0" d="M502 93h2v2h-2zM492 99h2v2h-2zM508 99h2v2h-2zM512 105h2v2h-2zM514 107h2v2h-2zM516 109h2v2h-2zM482 111h2v2h-2zM518 111h2v2h-2zM526 119h2v2h-2zM542 127h2v2h-2zM544 137h2v2h-2zM550 139h2v2h-2zM554 141h2v2h-2zM558 145h2v2h-2zM562 155h2v2h-2zM470 157h2v2h-2zM568 161h2v2h-2zM486 169h2v2h-2zM488 171h2v2h-2zM574 173h2v2h-2zM494 177h2v2h-2zM504 177h2v2h-2zM510 177h2v2h-2zM570 179h2v2h-2zM568 183h2v2h-2zM538 191h10v2h-10zM560 191h2v2h-2z"/><path fill="#bebef0" d="M500 93h2v2h-2zM496 95h2v2h-2zM506 95h2v2h-2zM494 97h2v2h-2zM490 101h2v2h-2zM510 101h2v2h-2zM486 107h2v2h-2zM478 113h2v2h-2zM470 119h2v2h-2zM530 121h2v2h-2zM466 125h2v2h-2zM542 125h2v2h-2zM542 129h2v2h-2zM466 149h2v2h-2zM468 153h2v2h-2zM564 157h2v2h-2zM566 159h2v2h-2zM572 163h2v2h-2zM574 165h2v2h-2zM576 169h2v2h-2zM506 177h4v2h-4zM572 177h2v2h-2zM518 181h2v2h-2zM528 189h2v2h-2zM534 191h4v2h-4zM554 193h4v2h-4z"/><path fill="#c0c0f0" d="M498 93h2v2h-2zM504 93h2v2h-2zM508 97h2v2h-2zM488 103h2v2h-2zM484 109h2v2h-2zM472 117h2v2h-2zM468 121h2v2h-2zM532 121h2v2h-2zM540 123h2v2h-2zM542 135h2v2h-2zM560 149h2v2h-2zM480 167h2v2h-2zM576 167h2v2h-2zM520 183h2v2h-2zM522 185h2v2h-2zM532 191h2v2h-2zM550 193h4v2h-4zM558 193h2v2h-2z"/><path fill="#c3c3f0" d="M512 103h2v2h-2zM522 113h2v2h-2zM474 115h2v2h-2zM524 115h2v2h-2zM534 121h2v2h-2zM546 137h2v2h-2zM552 139h2v2h-2zM464 141h2v2h-2zM464 143h2v2h-2zM562 153h2v2h-2zM570 161h2v2h-2zM472 163h2v2h-2zM474 165h2v2h-2zM514 179h2v2h-2zM524 187h2v2h-2zM530 191h2v2h-2zM542 193h8v2h-8z"/><path fill="#c5c5f0" d="M500 91h4v2h-4zM496 93h2v2h-2zM506 93h2v2h-2zM494 95h2v2h-2zM492 97h2v2h-2zM490 99h2v2h-2zM510 99h2v2h-2zM488 101h2v2h-2zM486 105h2v2h-2zM480 111h2v2h-2zM520 111h2v2h-2zM536 121h2v2h-2zM466 123h2v2h-2zM542 131h2v2h-2zM556 141h2v2h-2zM464 145h2v2h-2zM470 159h2v2h-2zM568 159h2v2h-2zM574 163h2v2h-2zM576 165h2v2h-2zM478 167h2v2h-2zM498 179h2v2h-2zM526 189h2v2h-2zM538 193h4v2h-4zM554 195h4v2h-4z"/><path fill="#c8c8f0" d="M498 91h2v2h-2zM504 91h2v2h-2zM508 95h2v2h-2zM514 105h2v2h-2zM516 107h2v2h-2zM518 109h2v2h-2zM476 113h2v2h-2zM526 117h2v2h-2zM542 123h2v2h-2zM544 125h2v2h-2zM544 127h2v2h-2zM542 133h2v2h-2zM548 137h2v2h-2zM464 139h2v2h-2zM558 143h2v2h-2zM560 147h2v2h-2zM466 151h2v2h-2zM564 155h2v2h-2zM566 157h2v2h-2zM572 161h2v2h-2zM490 175h2v2h-2zM492 177h2v2h-2zM496 179h2v2h-2zM500 179h2v2h-2zM516 181h2v2h-2zM528 191h2v2h-2zM534 193h4v2h-4zM550 195h4v2h-4z"/><path fill="#cacaf0" d="M492 95h2v2h-2zM490 97h2v2h-2zM510 97h2v2h-2zM512 101h2v2h-2zM486 103h2v2h-2zM484 107h2v2h-2zM482 109h2v2h-2zM538 121h2v2h-2zM544 129h2v2h-2zM544 135h2v2h-2zM464 137h2v2h-2zM554 139h2v2h-2zM464 147h2v2h-2zM562 151h2v2h-2zM468 155h2v2h-2zM576 163h2v2h-2zM578 165h2v2h-2zM484 169h2v2h-2zM502 179h2v2h-2zM512 179h2v2h-2zM532 193h2v2h-2zM544 195h6v2h-6z"/><path fill="#cdcdf0" d="M496 91h2v2h-2zM506 91h2v2h-2zM494 93h2v2h-2zM508 93h2v2h-2zM488 99h2v2h-2zM478 111h2v2h-2zM470 117h2v2h-2zM468 119h2v2h-2zM528 119h2v2h-2zM464 129h2v2h-2zM464 131h2v2h-2zM464 133h2v2h-2zM464 135h2v2h-2zM550 137h2v2h-2zM570 159h2v2h-2zM574 161h2v2h-2zM476 167h2v2h-2zM488 173h2v2h-2zM494 179h2v2h-2zM518 183h2v2h-2zM520 185h2v2h-2zM522 187h2v2h-2zM524 189h2v2h-2zM526 191h2v2h-2zM530 193h2v2h-2zM538 195h6v2h-6zM552 197h4v2h-4z"/><path fill="#cfcff0" d="M500 89h6v2h-6zM486 101h2v2h-2zM514 103h2v2h-2zM524 113h2v2h-2zM472 115h2v2h-2zM466 121h2v2h-2zM540 121h2v2h-2zM464 127h2v2h-2zM544 131h2v2h-2zM546 135h2v2h-2zM560 145h2v2h-2zM470 161h2v2h-2zM578 163h2v2h-2zM486 171h2v2h-2zM504 179h2v2h-2zM510 179h2v2h-2zM534 195h4v2h-4zM550 197h2v2h-2z"/><path fill="#d2d2f0" d="M498 89h2v2h-2zM494 91h2v2h-2zM492 93h2v2h-2zM490 95h2v2h-2zM510 95h2v2h-2zM488 97h2v2h-2zM486 99h2v2h-2zM512 99h2v2h-2zM484 105h2v2h-2zM480 109h2v2h-2zM522 111h2v2h-2zM474 113h2v2h-2zM526 115h2v2h-2zM544 123h2v2h-2zM464 125h2v2h-2zM544 133h2v2h-2zM552 137h2v2h-2zM464 149h2v2h-2zM562 149h2v2h-2zM564 153h2v2h-2zM566 155h2v2h-2zM568 157h2v2h-2zM572 159h2v2h-2zM576 161h2v2h-2zM472 165h2v2h-2zM506 179h4v2h-4zM528 193h2v2h-2zM532 195h2v2h-2zM538 197h12v2h-12z"/><path fill="#d4d4f0" d="M496 89h2v2h-2zM506 89h2v2h-2zM508 91h2v2h-2zM484 103h2v2h-2zM516 105h2v2h-2zM482 107h2v2h-2zM518 107h2v2h-2zM520 109h2v2h-2zM530 119h4v2h-4zM546 125h2v2h-2zM546 127h2v2h-2zM548 135h2v2h-2zM556 139h2v2h-2zM558 141h2v2h-2zM466 153h2v2h-2zM578 161h2v2h-2zM474 167h2v2h-2zM482 169h2v2h-2zM514 181h2v2h-2zM530 195h2v2h-2zM536 197h2v2h-2zM550 199h2v2h-2z"/><path fill="#d7d7f0" d="M500 87h6v2h-6zM492 91h2v2h-2zM490 93h2v2h-2zM510 93h2v2h-2zM488 95h2v2h-2zM486 97h2v2h-2zM512 97h2v2h-2zM484 101h2v2h-2zM476 111h2v2h-2zM528 117h2v2h-2zM534 119h2v2h-2zM542 121h2v2h-2zM464 123h2v2h-2zM546 129h2v2h-2zM546 133h2v2h-2zM468 157h2v2h-2zM570 157h2v2h-2zM574 159h2v2h-2zM490 177h2v2h-2zM522 189h2v2h-2zM524 191h2v2h-2zM526 193h2v2h-2zM534 197h2v2h-2zM536 199h14v2h-14z"/><path fill="#d9d9f0" d="M498 87h2v2h-2zM494 89h2v2h-2zM488 93h2v2h-2zM486 95h2v2h-2zM484 99h2v2h-2zM514 101h2v2h-2zM482 105h2v2h-2zM526 113h2v2h-2zM536 119h2v2h-2zM546 131h2v2h-2zM550 135h2v2h-2zM554 137h2v2h-2zM462 143h2v2h-2zM560 143h2v2h-2zM576 159h2v2h-2zM470 163h2v2h-2zM480 169h2v2h-2zM492 179h2v2h-2zM496 181h4v2h-4zM516 183h2v2h-2zM518 185h2v2h-2zM520 187h2v2h-2zM528 195h2v2h-2zM532 197h2v2h-2zM534 199h2v2h-2zM536 201h14v2h-14zM536 203h6v2h-6z"/><path fill="#dcdcf0" d="M492 65h2v2h-2zM490 67h4v2h-4zM490 69h2v2h-2zM500 85h4v2h-4zM496 87h2v2h-2zM506 87h2v2h-2zM508 89h2v2h-2zM490 91h2v2h-2zM512 95h2v2h-2zM484 97h2v2h-2zM480 107h2v2h-2zM478 109h2v2h-2zM524 111h2v2h-2zM470 115h2v2h-2zM528 115h2v2h-2zM468 117h2v2h-2zM466 119h2v2h-2zM538 119h2v2h-2zM548 133h2v2h-2zM462 141h2v2h-2zM462 145h2v2h-2zM562 147h2v2h-2zM464 151h2v2h-2zM564 151h2v2h-2zM568 155h2v2h-2zM572 157h2v2h-2zM578 159h2v2h-2zM478 169h2v2h-2zM488 175h2v2h-2zM500 181h2v2h-2zM530 197h2v2h-2zM532 199h2v2h-2zM534 201h2v2h-2zM534 203h2v2h-2zM542 203h4v2h-4zM534 205h8v2h-8z"/><path fill="#dedef0" d="M494 65h4v2h-4zM488 67h2v2h-2zM494 67h2v2h-2zM488 69h2v2h-2zM492 69h4v2h-4zM490 71h4v2h-4zM498 85h2v2h-2zM504 85h2v2h-2zM492 89h2v2h-2zM488 91h2v2h-2zM510 91h2v2h-2zM486 93h2v2h-2zM484 95h2v2h-2zM514 99h2v2h-2zM482 101h2v2h-2zM482 103h2v2h-2zM516 103h2v2h-2zM522 109h2v2h-2zM472 113h2v2h-2zM530 117h2v2h-2zM544 121h2v2h-2zM546 123h2v2h-2zM462 139h2v2h-2zM462 147h2v2h-2zM566 153h2v2h-2zM574 157h2v2h-2zM580 159h2v2h-2zM494 181h2v2h-2zM502 181h2v2h-2zM512 181h2v2h-2zM524 193h2v2h-2zM526 195h2v2h-2zM532 201h2v2h-2zM536 207h2v2h-2z"/><path fill="#e1e1f0" d="M498 65h2v2h-2zM496 67h2v2h-2zM496 69h2v2h-2zM488 71h2v2h-2zM494 71h2v2h-2zM490 73h2v2h-2zM500 83h4v2h-4zM496 85h2v2h-2zM506 85h2v2h-2zM494 87h2v2h-2zM508 87h2v2h-2zM490 89h2v2h-2zM486 91h2v2h-2zM484 93h2v2h-2zM512 93h2v2h-2zM482 95h2v2h-2zM482 97h2v2h-2zM482 99h2v2h-2zM518 105h2v2h-2zM520 107h2v2h-2zM474 111h2v2h-2zM540 119h2v2h-2zM464 121h2v2h-2zM548 131h2v2h-2zM552 135h2v2h-2zM558 139h2v2h-2zM560 141h2v2h-2zM576 157h4v2h-4zM468 159h2v2h-2zM472 167h2v2h-2zM476 169h2v2h-2zM484 171h2v2h-2zM486 173h2v2h-2zM522 191h2v2h-2zM528 197h2v2h-2zM530 199h2v2h-2zM532 203h2v2h-2zM534 207h2v2h-2z"/><path fill="#e3e3f0" d="M500 65h4v2h-4zM486 67h2v2h-2zM498 67h2v2h-2zM486 69h2v2h-2zM498 69h2v2h-2zM486 71h2v2h-2zM496 71h2v2h-2zM488 73h2v2h-2zM492 73h4v2h-4zM498 83h2v2h-2zM504 83h2v2h-2zM492 87h2v2h-2zM486 89h4v2h-4zM510 89h2v2h-2zM484 91h2v2h-2zM482 93h2v2h-2zM514 97h2v2h-2zM480 105h2v2h-2zM476 109h2v2h-2zM526 111h2v2h-2zM528 113h2v2h-2zM532 117h2v2h-2zM462 125h2v2h-2zM462 127h2v2h-2zM548 127h2v2h-2zM462 129h2v2h-2zM548 129h2v2h-2zM462 131h2v2h-2zM550 133h2v2h-2zM462 137h2v2h-2zM556 137h2v2h-2zM562 145h2v2h-2zM466 155h2v2h-2zM570 155h2v2h-2zM580 157h2v2h-2zM470 165h2v2h-2zM504 181h2v2h-2zM520 189h2v2h-2zM530 201h2v2h-2zM532 205h2v2h-2z"/><path fill="#e6e6f0" d="M504 65h4v2h-4zM500 67h4v2h-4zM498 71h2v2h-2zM486 73h2v2h-2zM496 73h2v2h-2zM488 75h8v2h-8zM498 81h6v2h-6zM496 83h2v2h-2zM506 83h2v2h-2zM494 85h2v2h-2zM508 85h2v2h-2zM490 87h2v2h-2zM484 89h2v2h-2zM482 91h2v2h-2zM512 91h2v2h-2zM480 95h2v2h-2zM480 97h2v2h-2zM516 101h2v2h-2zM480 103h2v2h-2zM478 107h2v2h-2zM530 115h2v2h-2zM548 125h2v2h-2zM462 133h2v2h-2zM462 135h2v2h-2zM462 149h2v2h-2zM564 149h2v2h-2zM474 169h2v2h-2zM490 179h2v2h-2zM510 181h2v2h-2zM514 183h2v2h-2zM518 187h2v2h-2zM524 195h2v2h-2zM526 197h2v2h-2zM528 199h2v2h-2z"/><path fill="#e8e8f0" d="M508 65h2v2h-2zM484 67h2v2h-2zM504 67h4v2h-4zM484 69h2v2h-2zM500 69h2v2h-2zM484 71h2v2h-2zM500 71h2v2h-2zM484 73h2v2h-2zM498 73h2v2h-2zM486 75h2v2h-2zM496 75h4v2h-4zM492 77h8v2h-8zM496 79h8v2h-8zM496 81h2v2h-2zM504 81h2v2h-2zM494 83h2v2h-2zM492 85h2v2h-2zM482 87h8v2h-8zM510 87h2v2h-2zM482 89h2v2h-2zM480 93h2v2h-2zM514 95h2v2h-2zM480 99h2v2h-2zM480 101h2v2h-2zM524 109h2v2h-2zM466 117h2v2h-2zM534 117h2v2h-2zM542 119h2v2h-2zM462 123h2v2h-2zM554 135h2v2h-2zM562 143h2v2h-2zM566 151h2v2h-2zM568 153h2v2h-2zM572 155h2v2h-2zM488 177h2v2h-2zM492 181h2v2h-2zM506 181h4v2h-4zM516 185h2v2h-2zM522 193h2v2h-2zM530 203h2v2h-2zM532 207h2v2h-2z"/><path fill="#ebebf0" d="M510 65h2v2h-2zM508 67h2v2h-2zM502 69h4v2h-4zM502 71h2v2h-2zM500 73h2v2h-2zM484 75h2v2h-2zM500 75h4v2h-4zM484 77h8v2h-8zM500 77h4v2h-4zM492 79h4v2h-4zM504 79h2v2h-2zM494 81h2v2h-2zM506 81h2v2h-2zM482 83h4v2h-4zM508 83h2v2h-2zM482 85h10v2h-10zM480 89h2v2h-2zM512 89h2v2h-2zM480 91h2v2h-2zM518 103h2v2h-2zM470 113h2v2h-2zM468 115h2v2h-2zM536 117h2v2h-2zM464 119h2v2h-2zM546 121h2v2h-2zM550 131h2v2h-2zM552 133h2v2h-2zM558 137h2v2h-2zM560 139h2v2h-2zM464 153h2v2h-2zM574 155h8v2h-8zM468 161h2v2h-2zM482 171h2v2h-2zM498 183h2v2h-2z"/><path fill="#ededf0" d="M510 67h2v2h-2zM506 69h4v2h-4zM504 71h2v2h-2zM502 73h4v2h-4zM504 75h2v2h-2zM504 77h2v2h-2zM482 79h10v2h-10zM506 79h2v2h-2zM482 81h6v2h-6zM492 81h2v2h-2zM486 83h8v2h-8zM480 85h2v2h-2zM510 85h2v2h-2zM480 87h2v2h-2zM514 93h2v2h-2zM478 95h2v2h-2zM516 99h2v2h-2zM478 105h2v2h-2zM520 105h2v2h-2zM522 107h2v2h-2zM472 111h2v2h-2zM528 111h2v2h-2zM530 113h2v2h-2zM550 129h2v2h-2zM564 147h2v2h-2zM486 175h2v2h-2zM496 183h2v2h-2zM520 191h2v2h-2zM524 197h2v2h-2zM526 199h2v2h-2zM528 201h2v2h-2zM530 205h2v2h-2z"/><path fill="#f0f0f0" d="M512 65h2v2h-2zM482 69h2v2h-2zM482 71h2v2h-2zM506 71h4v2h-4zM482 73h2v2h-2zM506 73h2v2h-2zM482 75h2v2h-2zM506 75h2v2h-2zM482 77h2v2h-2zM506 77h2v2h-2zM480 81h2v2h-2zM488 81h4v2h-4zM508 81h2v2h-2zM480 83h2v2h-2zM510 83h2v2h-2zM512 87h2v2h-2zM478 93h2v2h-2zM478 97h2v2h-2zM516 97h2v2h-2zM478 99h2v2h-2zM478 103h2v2h-2zM476 107h2v2h-2zM474 109h2v2h-2zM532 115h2v2h-2zM538 117h2v2h-2zM544 119h2v2h-2zM462 121h2v2h-2zM548 123h2v2h-2zM556 135h2v2h-2zM562 141h2v2h-2zM462 151h2v2h-2zM570 153h2v2h-2zM468 163h2v2h-2zM470 167h2v2h-2zM472 169h2v2h-2zM480 171h2v2h-2zM500 183h2v2h-2zM512 183h2v2h-2zM522 195h2v2h-2z"/><path fill="#f0eded" d="M514 65h2v2h-2zM512 67h2v2h-2zM510 69h2v2h-2zM508 73h2v2h-2zM508 75h2v2h-2zM508 77h2v2h-2zM480 79h2v2h-2zM508 79h2v2h-2zM478 91h2v2h-2zM514 91h2v2h-2zM478 101h2v2h-2zM518 101h2v2h-2zM526 109h2v2h-2zM540 117h2v2h-2zM550 127h2v2h-2zM554 133h2v2h-2zM460 141h2v2h-2zM460 143h2v2h-2zM460 145h2v2h-2zM578 153h4v2h-4zM466 157h2v2h-2zM478 171h2v2h-2zM484 173h2v2h-2zM494 183h2v2h-2zM518 189h2v2h-2zM528 203h2v2h-2zM532 209h2v2h-2z"/><path fill="#f0ebeb" d="M514 67h2v2h-2zM512 69h2v2h-2zM510 71h2v2h-2zM510 73h2v2h-2zM480 75h2v2h-2zM480 77h2v2h-2zM510 79h2v2h-2zM510 81h2v2h-2zM478 83h2v2h-2zM478 85h2v2h-2zM512 85h2v2h-2zM478 87h2v2h-2zM478 89h2v2h-2zM514 89h2v2h-2zM516 95h2v2h-2zM534 115h2v2h-2zM460 125h2v2h-2zM460 127h2v2h-2zM552 131h2v2h-2zM560 137h2v2h-2zM460 139h2v2h-2zM564 145h2v2h-2zM460 147h2v2h-2zM566 149h2v2h-2zM568 151h2v2h-2zM572 153h6v2h-6zM476 171h2v2h-2zM488 179h2v2h-2zM490 181h2v2h-2zM502 183h2v2h-2zM514 185h2v2h-2zM516 187h2v2h-2zM526 201h2v2h-2zM530 207h2v2h-2z"/><path fill="#f0e8e8" d="M516 65h2v2h-2zM480 69h2v2h-2zM480 71h2v2h-2zM512 71h2v2h-2zM480 73h2v2h-2zM510 75h2v2h-2zM510 77h2v2h-2zM478 81h2v2h-2zM512 83h2v2h-2zM516 93h2v2h-2zM520 103h2v2h-2zM476 105h2v2h-2zM524 107h2v2h-2zM530 111h2v2h-2zM466 115h2v2h-2zM464 117h2v2h-2zM460 123h2v2h-2zM460 129h2v2h-2zM558 135h2v2h-2zM562 139h2v2h-2zM564 143h2v2h-2zM468 165h2v2h-2zM474 171h2v2h-2zM486 177h2v2h-2zM520 193h2v2h-2zM522 197h2v2h-2zM524 199h2v2h-2z"/><path fill="#f0e6e6" d="M518 65h2v2h-2zM516 67h2v2h-2zM514 69h2v2h-2zM512 73h2v2h-2zM512 75h2v2h-2zM512 77h2v2h-2zM478 79h2v2h-2zM512 79h2v2h-2zM512 81h2v2h-2zM514 87h2v2h-2zM518 99h2v2h-2zM522 105h2v2h-2zM474 107h2v2h-2zM472 109h2v2h-2zM528 109h2v2h-2zM470 111h2v2h-2zM468 113h2v2h-2zM532 113h2v2h-2zM536 115h2v2h-2zM542 117h2v2h-2zM462 119h2v2h-2zM550 125h2v2h-2zM552 129h2v2h-2zM460 131h2v2h-2zM460 137h2v2h-2zM460 149h2v2h-2zM580 151h4v2h-4zM464 155h2v2h-2zM470 169h2v2h-2zM504 183h2v2h-2zM510 183h2v2h-2z"/><path fill="#f0e3e3" d="M516 69h2v2h-2zM514 71h2v2h-2zM514 73h2v2h-2zM514 85h2v2h-2zM516 91h2v2h-2zM476 93h2v2h-2zM476 95h2v2h-2zM476 97h2v2h-2zM476 103h2v2h-2zM546 119h2v2h-2zM548 121h2v2h-2zM554 131h2v2h-2zM460 133h2v2h-2zM556 133h2v2h-2zM460 135h2v2h-2zM564 141h2v2h-2zM566 147h2v2h-2zM570 151h2v2h-2zM578 151h2v2h-2zM462 153h2v2h-2zM466 159h2v2h-2zM472 171h2v2h-2zM482 173h2v2h-2zM484 175h2v2h-2zM492 183h2v2h-2zM506 183h4v2h-4zM518 191h2v2h-2zM528 205h2v2h-2z"/><path fill="#f0e1e1" d="M520 65h2v2h-2zM518 67h2v2h-2zM516 71h2v2h-2zM478 75h2v2h-2zM514 75h2v2h-2zM478 77h2v2h-2zM514 77h2v2h-2zM514 81h2v2h-2zM514 83h2v2h-2zM516 89h2v2h-2zM476 91h2v2h-2zM518 97h2v2h-2zM476 99h2v2h-2zM476 101h2v2h-2zM526 107h2v2h-2zM538 115h2v2h-2zM460 121h2v2h-2zM560 135h2v2h-2zM562 137h2v2h-2zM568 149h2v2h-2zM468 167h2v2h-2zM520 195h2v2h-2zM526 203h2v2h-2zM530 209h2v2h-2z"/><path fill="#f0dede" d="M522 65h2v2h-2zM520 67h2v2h-2zM518 69h2v2h-2zM478 71h2v2h-2zM478 73h2v2h-2zM516 73h2v2h-2zM514 79h2v2h-2zM476 83h2v2h-2zM476 85h2v2h-2zM476 87h2v2h-2zM516 87h2v2h-2zM476 89h2v2h-2zM518 95h2v2h-2zM520 101h2v2h-2zM534 113h2v2h-2zM544 117h2v2h-2zM550 123h2v2h-2zM552 127h2v2h-2zM564 139h2v2h-2zM460 151h2v2h-2zM572 151h6v2h-6zM480 173h2v2h-2zM488 181h2v2h-2zM496 185h4v2h-4zM512 185h2v2h-2zM516 189h2v2h-2zM522 199h2v2h-2zM524 201h2v2h-2z"/><path fill="#f0dcdc" d="M522 67h2v2h-2zM478 69h2v2h-2zM520 69h2v2h-2zM518 71h2v2h-2zM516 75h2v2h-2zM516 77h2v2h-2zM476 81h2v2h-2zM516 85h2v2h-2zM518 93h2v2h-2zM522 103h2v2h-2zM474 105h2v2h-2zM524 105h2v2h-2zM530 109h2v2h-2zM532 111h2v2h-2zM464 115h2v2h-2zM540 115h2v2h-2zM462 117h2v2h-2zM558 133h2v2h-2zM566 145h2v2h-2zM466 161h2v2h-2zM476 173h4v2h-4zM486 179h2v2h-2zM500 185h2v2h-2zM514 187h2v2h-2zM528 207h2v2h-2z"/><path fill="#f0d9d9" d="M520 71h2v2h-2zM518 73h2v2h-2zM476 79h2v2h-2zM516 79h2v2h-2zM516 81h2v2h-2zM516 83h2v2h-2zM518 91h2v2h-2zM520 99h2v2h-2zM472 107h2v2h-2zM466 113h2v2h-2zM460 119h2v2h-2zM458 123h2v2h-2zM458 125h2v2h-2zM458 127h2v2h-2zM554 129h2v2h-2zM556 131h2v2h-2zM562 135h2v2h-2zM576 135h2v2h-2zM564 137h2v2h-2zM566 141h2v2h-2zM458 143h2v2h-2zM566 143h2v2h-2zM458 145h2v2h-2zM570 149h2v2h-2zM580 149h4v2h-4zM464 157h2v2h-2zM466 163h2v2h-2zM468 169h2v2h-2zM470 171h2v2h-2zM474 173h2v2h-2zM484 177h2v2h-2zM490 183h2v2h-2zM494 185h2v2h-2zM518 193h2v2h-2zM520 197h2v2h-2z"/><path fill="#f0d7d7" d="M524 67h2v2h-2zM522 69h2v2h-2zM520 73h2v2h-2zM518 75h2v2h-2zM518 77h2v2h-2zM518 87h2v2h-2zM518 89h2v2h-2zM474 103h2v2h-2zM528 107h2v2h-2zM470 109h2v2h-2zM468 111h2v2h-2zM536 113h2v2h-2zM542 115h2v2h-2zM548 119h2v2h-2zM552 125h2v2h-2zM458 129h2v2h-2zM560 133h2v2h-2zM576 133h2v2h-2zM574 135h2v2h-2zM566 139h2v2h-2zM458 141h2v2h-2zM458 147h2v2h-2zM568 147h2v2h-2zM462 155h2v2h-2zM482 175h2v2h-2zM502 185h2v2h-2zM526 205h2v2h-2z"/><path fill="#f0d4d4" d="M526 67h2v2h-2zM524 69h2v2h-2zM522 71h2v2h-2zM476 77h2v2h-2zM518 79h2v2h-2zM518 81h2v2h-2zM518 83h2v2h-2zM518 85h2v2h-2zM520 95h2v2h-2zM520 97h2v2h-2zM522 101h2v2h-2zM546 117h2v2h-2zM458 121h2v2h-2zM458 131h2v2h-2zM574 133h2v2h-2zM564 135h2v2h-2zM572 135h2v2h-2zM578 135h2v2h-2zM566 137h2v2h-2zM572 137h6v2h-6zM458 139h2v2h-2zM458 149h2v2h-2zM578 149h2v2h-2zM460 153h2v2h-2zM466 165h2v2h-2zM472 173h2v2h-2zM510 185h2v2h-2zM516 191h2v2h-2zM522 201h2v2h-2zM524 203h2v2h-2zM528 209h2v2h-2z"/><path fill="#f0d2d2" d="M476 71h2v2h-2zM524 71h2v2h-2zM476 73h2v2h-2zM522 73h2v2h-2zM476 75h2v2h-2zM520 75h2v2h-2zM520 77h2v2h-2zM474 93h2v2h-2zM520 93h2v2h-2zM474 95h2v2h-2zM474 97h2v2h-2zM474 99h2v2h-2zM474 101h2v2h-2zM524 103h2v2h-2zM526 105h2v2h-2zM550 121h2v2h-2zM554 127h2v2h-2zM558 131h2v2h-2zM458 133h2v2h-2zM562 133h2v2h-2zM572 133h2v2h-2zM566 135h2v2h-2zM570 135h2v2h-2zM458 137h2v2h-2zM568 137h4v2h-4zM578 137h2v2h-2zM568 139h2v2h-2zM568 141h2v2h-2zM568 143h2v2h-2zM568 145h2v2h-2zM582 147h2v2h-2zM572 149h2v2h-2zM466 167h2v2h-2zM480 175h2v2h-2zM486 181h2v2h-2zM504 185h2v2h-2zM518 195h2v2h-2z"/><path fill="#f0cfcf" d="M528 67h2v2h-2zM526 69h2v2h-2zM522 75h2v2h-2zM520 79h2v2h-2zM520 89h2v2h-2zM474 91h2v2h-2zM520 91h2v2h-2zM522 99h2v2h-2zM472 105h2v2h-2zM534 111h2v2h-2zM538 113h2v2h-2zM462 115h2v2h-2zM544 115h2v2h-2zM460 117h2v2h-2zM556 129h2v2h-2zM578 133h2v2h-2zM458 135h2v2h-2zM568 135h2v2h-2zM570 139h8v2h-8zM570 147h2v2h-2zM574 149h4v2h-4zM468 171h2v2h-2zM478 175h2v2h-2zM482 177h2v2h-2zM484 179h2v2h-2zM492 185h2v2h-2zM506 185h4v2h-4zM512 187h2v2h-2zM514 189h2v2h-2zM520 199h2v2h-2zM526 207h2v2h-2z"/><path fill="#f0cdcd" d="M528 69h2v2h-2zM526 71h2v2h-2zM524 73h2v2h-2zM522 77h2v2h-2zM520 81h2v2h-2zM474 83h2v2h-2zM520 83h2v2h-2zM474 85h2v2h-2zM520 85h2v2h-2zM474 87h2v2h-2zM520 87h2v2h-2zM474 89h2v2h-2zM530 107h2v2h-2zM532 109h2v2h-2zM464 113h2v2h-2zM540 113h2v2h-2zM458 119h2v2h-2zM552 123h2v2h-2zM456 125h2v2h-2zM560 131h2v2h-2zM564 133h2v2h-2zM570 133h2v2h-2zM580 135h2v2h-2zM580 137h2v2h-2zM578 139h2v2h-2zM570 141h2v2h-2zM580 147h2v2h-2zM458 151h2v2h-2zM464 159h2v2h-2zM470 173h2v2h-2zM476 175h2v2h-2zM488 183h2v2h-2zM524 205h2v2h-2z"/><path fill="#f0caca" d="M530 67h2v2h-2zM526 73h2v2h-2zM524 75h2v2h-2zM522 79h2v2h-2zM474 81h2v2h-2zM522 95h2v2h-2zM522 97h2v2h-2zM524 101h2v2h-2zM526 103h2v2h-2zM528 105h2v2h-2zM470 107h2v2h-2zM468 109h2v2h-2zM466 111h2v2h-2zM456 123h2v2h-2zM456 127h2v2h-2zM574 131h2v2h-2zM566 133h4v2h-4zM580 139h2v2h-2zM572 141h2v2h-2zM570 143h2v2h-2zM570 145h2v2h-2zM582 145h2v2h-2zM572 147h2v2h-2zM460 155h2v2h-2zM462 157h2v2h-2zM466 169h2v2h-2zM516 193h2v2h-2zM518 197h2v2h-2zM522 203h2v2h-2z"/><path fill="#f0c8c8" d="M530 69h2v2h-2zM528 71h2v2h-2zM474 79h2v2h-2zM522 81h2v2h-2zM522 91h2v2h-2zM522 93h2v2h-2zM472 103h2v2h-2zM536 111h2v2h-2zM548 117h2v2h-2zM550 119h2v2h-2zM456 121h2v2h-2zM554 125h2v2h-2zM556 127h2v2h-2zM456 129h2v2h-2zM558 129h2v2h-2zM562 131h2v2h-2zM572 131h2v2h-2zM576 131h2v2h-2zM582 139h2v2h-2zM574 141h8v2h-8zM582 143h2v2h-2zM578 147h2v2h-2zM458 153h2v2h-2zM464 161h2v2h-2zM464 163h2v2h-2zM474 175h2v2h-2zM480 177h2v2h-2zM496 187h6v2h-6zM526 209h2v2h-2z"/><path fill="#f0c5c5" d="M528 73h2v2h-2zM526 75h2v2h-2zM474 77h2v2h-2zM524 77h2v2h-2zM522 83h2v2h-2zM522 85h2v2h-2zM522 87h2v2h-2zM522 89h2v2h-2zM524 99h2v2h-2zM542 113h2v2h-2zM546 115h2v2h-2zM458 117h2v2h-2zM456 131h2v2h-2zM564 131h2v2h-2zM570 131h2v2h-2zM580 133h2v2h-2zM582 137h2v2h-2zM582 141h2v2h-2zM456 143h2v2h-2zM572 143h2v2h-2zM580 143h2v2h-2zM456 145h2v2h-2zM572 145h2v2h-2zM580 145h2v2h-2zM574 147h2v2h-2zM464 165h2v2h-2zM472 175h2v2h-2zM482 179h2v2h-2zM484 181h2v2h-2zM490 185h2v2h-2zM510 187h2v2h-2zM514 191h2v2h-2zM520 201h2v2h-2z"/><path fill="#f0c3c3" d="M532 69h2v2h-2zM474 71h2v2h-2zM530 71h2v2h-2zM474 73h2v2h-2zM474 75h2v2h-2zM524 79h2v2h-2zM524 97h2v2h-2zM472 101h2v2h-2zM526 101h2v2h-2zM534 109h2v2h-2zM538 111h2v2h-2zM460 115h2v2h-2zM456 119h2v2h-2zM552 121h2v2h-2zM560 129h2v2h-2zM566 131h4v2h-4zM456 133h2v2h-2zM582 135h2v2h-2zM456 137h2v2h-2zM456 139h2v2h-2zM456 141h2v2h-2zM574 143h2v2h-2zM578 143h2v2h-2zM456 147h2v2h-2zM576 147h2v2h-2zM456 149h2v2h-2zM464 167h2v2h-2zM466 171h2v2h-2zM468 173h2v2h-2zM478 177h2v2h-2zM486 183h2v2h-2zM494 187h2v2h-2zM502 187h2v2h-2zM512 189h2v2h-2zM524 207h2v2h-2z"/><path fill="#f0c0c0" d="M530 73h2v2h-2zM528 75h2v2h-2zM526 77h2v2h-2zM524 81h2v2h-2zM524 83h2v2h-2zM524 91h2v2h-2zM524 93h2v2h-2zM524 95h2v2h-2zM528 103h2v2h-2zM470 105h2v2h-2zM530 105h2v2h-2zM532 107h2v2h-2zM462 113h2v2h-2zM544 113h2v2h-2zM454 125h2v2h-2zM578 131h2v2h-2zM456 135h2v2h-2zM576 143h2v2h-2zM574 145h2v2h-2zM578 145h2v2h-2zM456 151h2v2h-2zM458 155h2v2h-2zM460 157h2v2h-2zM462 159h2v2h-2zM504 187h2v2h-2zM508 187h2v2h-2zM516 195h2v2h-2zM518 199h2v2h-2zM522 205h2v2h-2z"/><path fill="#f0bebe" d="M532 71h2v2h-2zM526 79h2v2h-2zM524 85h2v2h-2zM524 87h2v2h-2zM524 89h2v2h-2zM472 97h2v2h-2zM472 99h2v2h-2zM526 99h2v2h-2zM468 107h2v2h-2zM464 111h2v2h-2zM540 111h2v2h-2zM454 123h2v2h-2zM554 123h2v2h-2zM556 125h2v2h-2zM454 127h2v2h-2zM558 127h2v2h-2zM562 129h2v2h-2zM572 129h2v2h-2zM576 145h2v2h-2zM464 169h2v2h-2zM470 175h2v2h-2zM476 177h2v2h-2zM506 187h2v2h-2z"/><path fill="#f0bbbb" d="M534 69h2v2h-2zM532 73h2v2h-2zM530 75h2v2h-2zM528 77h2v2h-2zM526 81h2v2h-2zM472 89h2v2h-2zM472 91h2v2h-2zM472 93h2v2h-2zM472 95h2v2h-2zM526 95h2v2h-2zM526 97h2v2h-2zM528 101h2v2h-2zM466 109h2v2h-2zM548 115h2v2h-2zM456 117h2v2h-2zM550 117h2v2h-2zM454 121h2v2h-2zM454 129h2v2h-2zM564 129h8v2h-8zM574 129h2v2h-2zM582 133h2v2h-2zM456 153h2v2h-2zM462 161h2v2h-2zM480 179h2v2h-2zM482 181h2v2h-2zM488 185h2v2h-2zM520 203h2v2h-2zM524 209h2v2h-2z"/><path fill="#f0b9b9" d="M534 71h2v2h-2zM528 79h2v2h-2zM526 83h2v2h-2zM472 85h2v2h-2zM526 85h2v2h-2zM472 87h2v2h-2zM526 87h2v2h-2zM526 89h2v2h-2zM526 91h2v2h-2zM526 93h2v2h-2zM470 103h2v2h-2zM536 109h2v2h-2zM542 111h2v2h-2zM546 113h2v2h-2zM458 115h2v2h-2zM454 119h2v2h-2zM552 119h2v2h-2zM560 127h2v2h-2zM454 131h2v2h-2zM456 155h2v2h-2zM458 157h2v2h-2zM460 159h2v2h-2zM462 163h2v2h-2zM462 165h2v2h-2zM474 177h2v2h-2zM484 183h2v2h-2zM492 187h2v2h-2zM510 189h2v2h-2zM514 193h2v2h-2zM516 197h2v2h-2z"/><path fill="#f0b6b6" d="M536 69h2v2h-2zM532 75h2v2h-2zM530 77h2v2h-2zM472 81h2v2h-2zM528 81h2v2h-2zM472 83h2v2h-2zM528 99h2v2h-2zM530 103h2v2h-2zM532 105h2v2h-2zM460 113h2v2h-2zM576 129h2v2h-2zM580 131h2v2h-2zM454 133h2v2h-2zM462 167h2v2h-2zM464 171h2v2h-2zM466 173h2v2h-2zM478 179h2v2h-2zM512 191h2v2h-2zM518 201h2v2h-2zM522 207h2v2h-2zM524 211h2v2h-2z"/><path fill="#f0b4b4" d="M472 73h2v2h-2zM534 73h2v2h-2zM472 77h2v2h-2zM472 79h2v2h-2zM530 79h2v2h-2zM528 83h2v2h-2zM528 95h2v2h-2zM528 97h2v2h-2zM534 107h2v2h-2zM538 109h2v2h-2zM544 111h2v2h-2zM454 117h2v2h-2zM554 121h2v2h-2zM452 123h2v2h-2zM556 123h2v2h-2zM452 125h2v2h-2zM558 125h2v2h-2zM452 127h2v2h-2zM562 127h2v2h-2zM454 135h2v2h-2zM454 137h2v2h-2zM454 139h2v2h-2zM454 141h2v2h-2zM454 143h2v2h-2zM456 157h2v2h-2zM458 159h2v2h-2zM460 161h2v2h-2zM468 175h2v2h-2zM472 177h2v2h-2zM520 205h2v2h-2z"/><path fill="#f0b1b1" d="M536 71h2v2h-2zM472 75h2v2h-2zM532 77h2v2h-2zM528 85h2v2h-2zM528 87h2v2h-2zM528 89h2v2h-2zM528 91h2v2h-2zM528 93h2v2h-2zM470 101h2v2h-2zM530 101h2v2h-2zM468 105h2v2h-2zM540 109h2v2h-2zM462 111h2v2h-2zM548 113h2v2h-2zM456 115h2v2h-2zM550 115h2v2h-2zM452 121h2v2h-2zM564 127h10v2h-10zM452 129h2v2h-2zM454 145h2v2h-2zM454 147h2v2h-2zM454 149h2v2h-2zM454 151h2v2h-2zM454 153h2v2h-2zM460 163h2v2h-2zM462 169h2v2h-2zM476 179h2v2h-2zM480 181h2v2h-2zM486 185h2v2h-2zM490 187h2v2h-2zM498 189h6v2h-6zM508 189h2v2h-2zM514 195h2v2h-2zM516 199h2v2h-2zM522 209h2v2h-2z"/><path fill="#f0afaf" d="M536 73h2v2h-2zM534 75h2v2h-2zM530 81h2v2h-2zM530 99h2v2h-2zM532 103h2v2h-2zM466 107h2v2h-2zM536 107h2v2h-2zM464 109h2v2h-2zM546 111h2v2h-2zM552 117h2v2h-2zM452 119h2v2h-2zM560 125h2v2h-2zM574 127h2v2h-2zM578 129h2v2h-2zM452 131h2v2h-2zM582 131h2v2h-2zM454 155h2v2h-2zM454 157h2v2h-2zM456 159h2v2h-2zM458 161h2v2h-2zM460 165h2v2h-2zM470 177h2v2h-2zM482 183h2v2h-2zM496 189h2v2h-2zM504 189h4v2h-4zM518 203h2v2h-2z"/><path fill="#f0acac" d="M538 71h2v2h-2zM534 77h2v2h-2zM532 79h2v2h-2zM530 83h2v2h-2zM530 85h2v2h-2zM530 93h2v2h-2zM530 95h2v2h-2zM530 97h2v2h-2zM470 99h2v2h-2zM534 105h2v2h-2zM542 109h2v2h-2zM458 113h2v2h-2zM454 115h2v2h-2zM452 117h2v2h-2zM452 133h2v2h-2zM464 173h2v2h-2zM474 179h2v2h-2zM510 191h2v2h-2zM512 193h2v2h-2zM520 207h2v2h-2zM522 211h2v2h-2z"/><path fill="#f0aaaa" d="M536 75h2v2h-2zM532 81h2v2h-2zM530 87h2v2h-2zM530 89h2v2h-2zM530 91h2v2h-2zM470 97h2v2h-2zM532 101h2v2h-2zM538 107h2v2h-2zM544 109h2v2h-2zM554 119h2v2h-2zM556 121h2v2h-2zM450 123h2v2h-2zM558 123h2v2h-2zM450 125h2v2h-2zM562 125h2v2h-2zM452 135h2v2h-2zM454 159h2v2h-2zM456 161h2v2h-2zM458 163h2v2h-2zM460 167h2v2h-2zM462 171h2v2h-2zM466 175h2v2h-2zM478 181h2v2h-2zM494 189h2v2h-2z"/><path fill="#f0a7a7" d="M538 73h2v2h-2zM534 79h2v2h-2zM532 83h2v2h-2zM470 89h2v2h-2zM470 91h2v2h-2zM470 93h2v2h-2zM470 95h2v2h-2zM532 97h2v2h-2zM532 99h2v2h-2zM468 103h2v2h-2zM534 103h2v2h-2zM540 107h2v2h-2zM460 111h2v2h-2zM548 111h2v2h-2zM456 113h2v2h-2zM550 113h2v2h-2zM552 115h2v2h-2zM450 119h2v2h-2zM450 121h2v2h-2zM564 125h2v2h-2zM568 125h6v2h-6zM450 127h2v2h-2zM576 127h2v2h-2zM452 137h2v2h-2zM452 153h2v2h-2zM452 155h2v2h-2zM452 157h2v2h-2zM458 165h2v2h-2zM460 169h2v2h-2zM484 185h2v2h-2zM514 197h2v2h-2zM516 201h2v2h-2zM518 205h2v2h-2zM520 209h2v2h-2z"/><path fill="#f0a5a5" d="M540 71h2v2h-2zM538 75h2v2h-2zM536 77h2v2h-2zM534 81h2v2h-2zM470 85h2v2h-2zM532 85h2v2h-2zM470 87h2v2h-2zM532 87h2v2h-2zM532 89h2v2h-2zM532 91h2v2h-2zM532 93h2v2h-2zM532 95h2v2h-2zM466 105h2v2h-2zM536 105h2v2h-2zM462 109h2v2h-2zM546 109h2v2h-2zM452 115h2v2h-2zM560 123h2v2h-2zM566 125h2v2h-2zM574 125h2v2h-2zM450 129h2v2h-2zM580 129h2v2h-2zM450 131h2v2h-2zM452 139h2v2h-2zM452 141h2v2h-2zM452 149h2v2h-2zM452 151h2v2h-2zM452 159h2v2h-2zM454 161h2v2h-2zM456 163h2v2h-2zM468 177h2v2h-2zM472 179h2v2h-2zM480 183h2v2h-2zM488 187h2v2h-2zM508 191h2v2h-2z"/><path fill="#f0a2a2" d="M470 73h2v2h-2zM540 73h2v2h-2zM536 79h2v2h-2zM470 83h2v2h-2zM534 83h2v2h-2zM534 101h2v2h-2zM538 105h2v2h-2zM464 107h2v2h-2zM542 107h2v2h-2zM454 113h2v2h-2zM450 117h2v2h-2zM554 117h2v2h-2zM572 123h2v2h-2zM450 133h2v2h-2zM452 143h2v2h-2zM452 145h2v2h-2zM452 147h2v2h-2zM458 167h2v2h-2zM476 181h2v2h-2zM492 189h2v2h-2zM512 195h2v2h-2zM516 203h2v2h-2zM520 211h2v2h-2z"/><path fill="#f0a0a0" d="M470 75h2v2h-2zM470 77h2v2h-2zM538 77h2v2h-2zM470 79h2v2h-2zM470 81h2v2h-2zM534 85h2v2h-2zM534 87h2v2h-2zM534 91h2v2h-2zM534 93h2v2h-2zM534 95h2v2h-2zM534 97h2v2h-2zM534 99h2v2h-2zM468 101h2v2h-2zM536 103h2v2h-2zM544 107h2v2h-2zM458 111h2v2h-2zM550 111h2v2h-2zM552 113h2v2h-2zM450 115h2v2h-2zM556 119h2v2h-2zM448 121h2v2h-2zM558 121h2v2h-2zM448 123h2v2h-2zM562 123h2v2h-2zM570 123h2v2h-2zM574 123h2v2h-2zM448 125h2v2h-2zM576 125h2v2h-2zM582 129h2v2h-2zM450 157h2v2h-2zM450 159h2v2h-2zM452 161h2v2h-2zM454 163h2v2h-2zM456 165h2v2h-2zM460 171h2v2h-2zM462 173h2v2h-2zM464 175h2v2h-2zM470 179h2v2h-2zM506 191h2v2h-2zM510 193h2v2h-2zM514 199h2v2h-2zM518 207h2v2h-2z"/><path fill="#f09d9d" d="M542 73h2v2h-2zM540 75h2v2h-2zM536 81h2v2h-2zM534 89h2v2h-2zM536 101h2v2h-2zM540 105h2v2h-2zM548 109h2v2h-2zM452 113h2v2h-2zM554 115h2v2h-2zM448 117h2v2h-2zM448 119h2v2h-2zM574 121h4v2h-4zM564 123h2v2h-2zM568 123h2v2h-2zM576 123h2v2h-2zM448 127h2v2h-2zM578 127h2v2h-2zM450 135h2v2h-2zM450 155h2v2h-2zM458 169h2v2h-2zM474 181h2v2h-2zM482 185h2v2h-2zM498 191h8v2h-8z"/><path fill="#f09b9b" d="M540 77h2v2h-2zM538 79h2v2h-2zM536 83h2v2h-2zM536 85h2v2h-2zM536 95h2v2h-2zM536 97h2v2h-2zM468 99h2v2h-2zM536 99h2v2h-2zM466 103h2v2h-2zM538 103h2v2h-2zM542 105h2v2h-2zM546 107h2v2h-2zM460 109h2v2h-2zM456 111h2v2h-2zM556 117h2v2h-2zM560 121h2v2h-2zM572 121h2v2h-2zM566 123h2v2h-2zM448 129h2v2h-2zM450 137h2v2h-2zM450 153h2v2h-2zM450 161h2v2h-2zM466 177h2v2h-2zM478 183h2v2h-2zM486 187h2v2h-2zM514 201h2v2h-2zM516 205h2v2h-2zM518 209h2v2h-2z"/><path fill="#f09898" d="M542 75h2v2h-2zM538 81h2v2h-2zM536 87h2v2h-2zM536 89h2v2h-2zM536 91h2v2h-2zM536 93h2v2h-2zM538 101h2v2h-2zM540 103h2v2h-2zM464 105h2v2h-2zM544 105h2v2h-2zM462 107h2v2h-2zM550 109h2v2h-2zM454 111h2v2h-2zM552 111h2v2h-2zM450 113h2v2h-2zM448 115h2v2h-2zM558 119h2v2h-2zM448 131h2v2h-2zM450 139h2v2h-2zM450 151h2v2h-2zM452 163h2v2h-2zM454 165h2v2h-2zM456 167h2v2h-2zM472 181h2v2h-2zM490 189h2v2h-2zM496 191h2v2h-2zM508 193h2v2h-2zM512 197h2v2h-2zM518 211h2v2h-2z"/><path fill="#f09696" d="M544 73h2v2h-2zM542 77h2v2h-2zM540 79h2v2h-2zM538 83h2v2h-2zM538 85h2v2h-2zM468 89h2v2h-2zM468 91h2v2h-2zM538 93h2v2h-2zM538 95h2v2h-2zM468 97h2v2h-2zM538 97h2v2h-2zM538 99h2v2h-2zM540 101h2v2h-2zM542 103h2v2h-2zM546 105h2v2h-2zM548 107h2v2h-2zM452 111h2v2h-2zM448 113h2v2h-2zM554 113h2v2h-2zM446 117h2v2h-2zM446 119h2v2h-2zM574 119h4v2h-4zM446 121h2v2h-2zM562 121h2v2h-2zM570 121h2v2h-2zM578 121h2v2h-2zM446 123h2v2h-2zM578 123h2v2h-2zM446 125h2v2h-2zM578 125h2v2h-2zM580 127h2v2h-2zM448 133h2v2h-2zM450 141h2v2h-2zM450 143h2v2h-2zM450 149h2v2h-2zM448 157h2v2h-2zM448 159h2v2h-2zM458 171h2v2h-2zM460 173h2v2h-2zM468 179h2v2h-2zM476 183h2v2h-2zM510 195h2v2h-2zM514 203h2v2h-2zM516 207h2v2h-2z"/><path fill="#f09393" d="M544 75h2v2h-2zM540 81h2v2h-2zM468 87h2v2h-2zM538 87h2v2h-2zM456 89h4v2h-4zM538 89h2v2h-2zM454 91h6v2h-6zM538 91h2v2h-2zM468 93h2v2h-2zM468 95h2v2h-2zM540 99h2v2h-2zM544 103h2v2h-2zM458 109h2v2h-2zM450 111h2v2h-2zM446 115h2v2h-2zM556 115h2v2h-2zM560 119h2v2h-2zM572 119h2v2h-2zM564 121h2v2h-2zM568 121h2v2h-2zM446 127h2v2h-2zM448 135h2v2h-2zM450 145h2v2h-2zM450 147h2v2h-2zM448 155h2v2h-2zM456 169h2v2h-2zM462 175h2v2h-2zM480 185h2v2h-2zM484 187h2v2h-2zM494 191h2v2h-2zM506 193h2v2h-2zM512 199h2v2h-2z"/><path fill="#f09191" d="M544 77h2v2h-2zM542 79h2v2h-2zM540 83h2v2h-2zM468 85h2v2h-2zM540 85h2v2h-2zM540 87h2v2h-2zM454 89h2v2h-2zM460 89h2v2h-2zM540 89h2v2h-2zM452 91h2v2h-2zM540 91h2v2h-2zM452 93h4v2h-4zM540 93h2v2h-2zM540 95h2v2h-2zM540 97h2v2h-2zM542 99h2v2h-2zM466 101h2v2h-2zM542 101h2v2h-2zM548 105h2v2h-2zM550 107h2v2h-2zM552 109h2v2h-2zM448 111h2v2h-2zM554 111h2v2h-2zM446 113h2v2h-2zM558 117h2v2h-2zM578 119h2v2h-2zM566 121h2v2h-2zM582 127h2v2h-2zM446 129h2v2h-2zM450 163h2v2h-2zM452 165h2v2h-2zM454 167h2v2h-2zM464 177h2v2h-2zM470 181h2v2h-2zM514 205h2v2h-2zM516 209h2v2h-2zM516 211h2v2h-2z"/><path fill="#f08e8e" d="M468 75h2v2h-2zM546 75h2v2h-2zM542 81h2v2h-2zM452 89h2v2h-2zM460 91h2v2h-2zM450 93h2v2h-2zM456 93h2v2h-2zM542 95h2v2h-2zM542 97h2v2h-2zM544 101h2v2h-2zM464 103h2v2h-2zM546 103h2v2h-2zM462 105h2v2h-2zM460 107h2v2h-2zM454 109h4v2h-4zM556 113h2v2h-2zM444 117h2v2h-2zM444 119h2v2h-2zM562 119h2v2h-2zM570 119h2v2h-2zM444 121h2v2h-2zM444 123h2v2h-2zM446 131h2v2h-2zM448 137h2v2h-2zM448 153h2v2h-2zM448 161h2v2h-2zM466 179h2v2h-2zM474 183h2v2h-2zM488 189h2v2h-2zM502 193h4v2h-4zM512 201h2v2h-2z"/><path fill="#f08c8c" d="M468 77h2v2h-2zM546 77h2v2h-2zM468 79h2v2h-2zM544 79h2v2h-2zM468 81h2v2h-2zM544 81h2v2h-2zM468 83h2v2h-2zM542 83h2v2h-2zM542 85h2v2h-2zM456 87h2v2h-2zM542 87h2v2h-2zM542 89h2v2h-2zM450 91h2v2h-2zM542 91h2v2h-2zM458 93h2v2h-2zM542 93h2v2h-2zM452 95h4v2h-4zM544 97h2v2h-2zM544 99h2v2h-2zM546 101h2v2h-2zM548 103h2v2h-2zM550 105h2v2h-2zM552 107h2v2h-2zM450 109h4v2h-4zM554 109h2v2h-2zM446 111h2v2h-2zM444 115h2v2h-2zM558 115h2v2h-2zM560 117h2v2h-2zM574 117h4v2h-4zM564 119h2v2h-2zM568 119h2v2h-2zM580 121h2v2h-2zM580 123h2v2h-2zM444 125h2v2h-2zM580 125h2v2h-2zM446 133h2v2h-2zM448 139h2v2h-2zM448 151h2v2h-2zM458 173h2v2h-2zM478 185h2v2h-2zM492 191h2v2h-2zM500 193h2v2h-2zM508 195h2v2h-2zM510 197h2v2h-2zM514 207h2v2h-2z"/><path fill="#f08989" d="M546 79h2v2h-2zM544 83h2v2h-2zM544 85h2v2h-2zM454 87h2v2h-2zM458 87h2v2h-2zM450 89h2v2h-2zM462 89h2v2h-2zM466 89h2v2h-2zM448 91h2v2h-2zM466 91h2v2h-2zM544 91h2v2h-2zM448 93h2v2h-2zM544 93h2v2h-2zM450 95h2v2h-2zM456 95h2v2h-2zM544 95h2v2h-2zM466 99h2v2h-2zM546 99h2v2h-2zM548 101h2v2h-2zM458 107h2v2h-2zM448 109h2v2h-2zM556 111h2v2h-2zM444 113h2v2h-2zM572 117h2v2h-2zM578 117h2v2h-2zM566 119h2v2h-2zM580 119h2v2h-2zM444 127h2v2h-2zM448 141h2v2h-2zM448 143h2v2h-2zM448 147h2v2h-2zM448 149h2v2h-2zM454 169h2v2h-2zM456 171h2v2h-2zM460 175h2v2h-2zM468 181h2v2h-2zM472 183h2v2h-2zM482 187h2v2h-2zM498 193h2v2h-2zM512 203h2v2h-2zM514 209h2v2h-2zM514 211h2v2h-2z"/><path fill="#f08787" d="M548 77h2v2h-2zM546 81h2v2h-2zM452 87h2v2h-2zM460 87h2v2h-2zM466 87h2v2h-2zM544 87h2v2h-2zM544 89h2v2h-2zM462 91h2v2h-2zM460 93h2v2h-2zM466 93h2v2h-2zM448 95h2v2h-2zM546 95h2v2h-2zM452 97h4v2h-4zM546 97h2v2h-2zM548 99h2v2h-2zM464 101h2v2h-2zM462 103h2v2h-2zM550 103h2v2h-2zM460 105h2v2h-2zM552 105h2v2h-2zM454 107h4v2h-4zM554 107h2v2h-2zM446 109h2v2h-2zM444 111h2v2h-2zM558 113h2v2h-2zM560 115h2v2h-2zM442 117h2v2h-2zM562 117h2v2h-2zM570 117h2v2h-2zM442 119h2v2h-2zM444 129h2v2h-2zM446 135h2v2h-2zM448 145h2v2h-2zM446 157h2v2h-2zM448 163h2v2h-2zM450 165h2v2h-2zM452 167h2v2h-2zM462 177h2v2h-2zM506 195h2v2h-2zM510 199h2v2h-2zM512 205h2v2h-2zM512 207h2v2h-2z"/><path fill="#f08484" d="M548 79h2v2h-2zM548 81h2v2h-2zM546 83h2v2h-2zM546 85h2v2h-2zM546 87h2v2h-2zM464 89h2v2h-2zM546 89h2v2h-2zM464 91h2v2h-2zM546 91h2v2h-2zM546 93h2v2h-2zM458 95h2v2h-2zM450 97h2v2h-2zM456 97h2v2h-2zM466 97h2v2h-2zM548 97h2v2h-2zM550 101h2v2h-2zM552 103h2v2h-2zM450 107h4v2h-4zM444 109h2v2h-2zM556 109h2v2h-2zM442 113h2v2h-2zM442 115h2v2h-2zM564 117h6v2h-6zM580 117h2v2h-2zM442 121h2v2h-2zM442 123h2v2h-2zM442 125h2v2h-2zM444 131h2v2h-2zM446 137h2v2h-2zM446 155h2v2h-2zM446 159h2v2h-2zM476 185h2v2h-2zM486 189h2v2h-2zM496 193h2v2h-2zM512 209h2v2h-2zM512 211h2v2h-2zM512 213h2v2h-2z"/><path fill="#f08282" d="M550 77h2v2h-2zM550 79h2v2h-2zM548 83h2v2h-2zM466 85h2v2h-2zM548 85h2v2h-2zM462 87h4v2h-4zM548 87h2v2h-2zM548 89h2v2h-2zM548 91h2v2h-2zM446 93h2v2h-2zM548 93h2v2h-2zM466 95h2v2h-2zM548 95h2v2h-2zM448 97h2v2h-2zM452 99h4v2h-4zM550 99h2v2h-2zM460 103h2v2h-2zM456 105h4v2h-4zM554 105h2v2h-2zM448 107h2v2h-2zM442 111h2v2h-2zM558 111h2v2h-2zM560 113h2v2h-2zM562 115h2v2h-2zM574 115h4v2h-4zM442 127h2v2h-2zM446 153h2v2h-2zM446 161h2v2h-2zM464 179h2v2h-2zM470 183h2v2h-2zM480 187h2v2h-2zM490 191h2v2h-2zM504 195h2v2h-2zM508 197h2v2h-2zM510 201h2v2h-2zM510 203h2v2h-2z"/><path fill="#f07f7f" d="M466 75h2v2h-2zM550 81h2v2h-2zM550 83h2v2h-2zM454 85h4v2h-4zM550 85h2v2h-2zM462 93h4v2h-4zM550 93h2v2h-2zM446 95h2v2h-2zM460 95h2v2h-2zM550 95h2v2h-2zM458 97h2v2h-2zM550 97h2v2h-2zM450 99h2v2h-2zM456 99h2v2h-2zM464 99h2v2h-2zM452 101h4v2h-4zM462 101h2v2h-2zM552 101h2v2h-2zM452 103h4v2h-4zM458 103h2v2h-2zM554 103h2v2h-2zM450 105h6v2h-6zM446 107h2v2h-2zM556 107h2v2h-2zM558 109h2v2h-2zM564 115h2v2h-2zM572 115h2v2h-2zM578 115h2v2h-2zM440 117h2v2h-2zM442 129h2v2h-2zM444 133h2v2h-2zM446 139h2v2h-2zM446 141h2v2h-2zM446 149h2v2h-2zM446 151h2v2h-2zM454 171h2v2h-2zM456 173h2v2h-2zM458 175h2v2h-2zM466 181h2v2h-2zM474 185h2v2h-2zM502 195h2v2h-2zM510 205h2v2h-2zM510 207h2v2h-2zM510 209h2v2h-2zM510 211h2v2h-2zM510 213h2v2h-2z"/><path fill="#f07d7d" d="M466 77h2v2h-2zM552 79h2v2h-2zM458 85h2v2h-2zM550 87h2v2h-2zM550 89h2v2h-2zM550 91h2v2h-2zM552 97h2v2h-2zM448 99h2v2h-2zM458 99h2v2h-2zM552 99h2v2h-2zM450 101h2v2h-2zM456 101h6v2h-6zM450 103h2v2h-2zM456 103h2v2h-2zM448 105h2v2h-2zM556 105h2v2h-2zM444 107h2v2h-2zM442 109h2v2h-2zM560 111h2v2h-2zM440 113h2v2h-2zM562 113h2v2h-2zM440 115h2v2h-2zM566 115h6v2h-6zM440 119h2v2h-2zM440 121h2v2h-2zM440 123h2v2h-2zM440 125h2v2h-2zM444 135h2v2h-2zM446 143h2v2h-2zM446 145h2v2h-2zM446 147h2v2h-2zM448 165h2v2h-2zM450 167h2v2h-2zM452 169h2v2h-2zM484 189h2v2h-2zM494 193h2v2h-2zM500 195h2v2h-2zM506 197h2v2h-2zM508 199h2v2h-2z"/><path fill="#f07a7a" d="M466 79h2v2h-2zM552 81h2v2h-2zM466 83h2v2h-2zM552 83h2v2h-2zM552 85h2v2h-2zM552 87h2v2h-2zM552 89h2v2h-2zM552 91h2v2h-2zM552 93h2v2h-2zM462 95h2v2h-2zM552 95h2v2h-2zM446 97h2v2h-2zM460 97h2v2h-2zM464 97h2v2h-2zM460 99h4v2h-4zM554 99h2v2h-2zM448 101h2v2h-2zM554 101h2v2h-2zM448 103h2v2h-2zM556 103h2v2h-2zM446 105h2v2h-2zM558 107h2v2h-2zM560 109h2v2h-2zM440 111h2v2h-2zM564 113h2v2h-2zM440 127h2v2h-2zM442 131h2v2h-2zM446 163h2v2h-2zM460 177h2v2h-2zM468 183h2v2h-2zM472 185h2v2h-2zM478 187h2v2h-2zM508 201h2v2h-2zM508 207h2v2h-2zM508 209h2v2h-2zM508 211h2v2h-2z"/><path fill="#f07878" d="M466 81h2v2h-2zM554 81h2v2h-2zM554 83h2v2h-2zM460 85h2v2h-2zM464 85h2v2h-2zM554 85h2v2h-2zM464 95h2v2h-2zM554 95h2v2h-2zM462 97h2v2h-2zM554 97h2v2h-2zM446 99h2v2h-2zM558 105h2v2h-2zM442 107h2v2h-2zM562 111h2v2h-2zM566 113h2v2h-2zM438 115h2v2h-2zM438 117h2v2h-2zM438 119h2v2h-2zM438 121h2v2h-2zM438 123h2v2h-2zM440 129h2v2h-2zM442 133h2v2h-2zM444 137h2v2h-2zM462 179h2v2h-2zM488 191h2v2h-2zM498 195h2v2h-2zM504 197h2v2h-2zM508 203h2v2h-2zM508 205h2v2h-2zM508 213h2v2h-2z"/><path fill="#f07575" d="M462 85h2v2h-2zM554 87h2v2h-2zM554 89h2v2h-2zM554 91h2v2h-2zM554 93h2v2h-2zM444 97h2v2h-2zM556 99h2v2h-2zM446 101h2v2h-2zM556 101h2v2h-2zM446 103h2v2h-2zM558 103h2v2h-2zM444 105h2v2h-2zM560 107h2v2h-2zM440 109h2v2h-2zM562 109h2v2h-2zM564 111h2v2h-2zM438 113h2v2h-2zM568 113h12v2h-12zM438 125h2v2h-2zM444 139h2v2h-2zM444 155h2v2h-2zM444 157h2v2h-2zM444 159h2v2h-2zM454 173h2v2h-2zM492 193h2v2h-2zM506 199h2v2h-2z"/><path fill="#f07373" d="M556 81h2v2h-2zM456 83h2v2h-2zM556 83h2v2h-2zM556 85h2v2h-2zM556 97h2v2h-2zM560 105h2v2h-2zM562 107h2v2h-2zM438 111h2v2h-2zM566 111h2v2h-2zM438 127h2v2h-2zM440 131h2v2h-2zM442 135h2v2h-2zM444 141h2v2h-2zM444 143h2v2h-2zM444 145h2v2h-2zM444 147h2v2h-2zM444 149h2v2h-2zM444 151h2v2h-2zM444 153h2v2h-2zM448 167h2v2h-2zM450 169h2v2h-2zM452 171h2v2h-2zM456 175h2v2h-2zM464 181h2v2h-2zM470 185h2v2h-2zM476 187h2v2h-2zM482 189h2v2h-2zM496 195h2v2h-2zM502 197h2v2h-2zM506 201h2v2h-2zM506 207h2v2h-2zM506 209h2v2h-2zM506 211h2v2h-2z"/><path fill="#f07070" d="M464 77h2v2h-2zM464 83h2v2h-2zM556 87h2v2h-2zM556 89h2v2h-2zM556 91h2v2h-2zM556 93h2v2h-2zM556 95h2v2h-2zM444 99h2v2h-2zM558 101h2v2h-2zM444 103h2v2h-2zM560 103h2v2h-2zM442 105h2v2h-2zM440 107h2v2h-2zM438 109h2v2h-2zM564 109h2v2h-2zM568 111h2v2h-2zM436 115h2v2h-2zM436 117h2v2h-2zM436 119h2v2h-2zM436 121h2v2h-2zM436 123h2v2h-2zM436 125h2v2h-2zM438 129h2v2h-2zM440 133h2v2h-2zM444 161h2v2h-2zM446 165h2v2h-2zM458 177h2v2h-2zM466 183h2v2h-2zM504 199h2v2h-2zM506 203h2v2h-2zM506 205h2v2h-2zM506 213h2v2h-2z"/><path fill="#f06e6e" d="M458 83h2v2h-2zM558 83h2v2h-2zM558 97h2v2h-2zM558 99h2v2h-2zM444 101h2v2h-2zM562 105h2v2h-2zM564 107h2v2h-2zM566 109h2v2h-2zM436 111h2v2h-2zM570 111h2v2h-2zM436 113h2v2h-2zM436 127h2v2h-2zM438 131h2v2h-2zM442 137h2v2h-2zM474 187h2v2h-2zM480 189h2v2h-2zM486 191h2v2h-2zM500 197h2v2h-2z"/><path fill="#f06b6b" d="M464 79h2v2h-2zM464 81h2v2h-2zM460 83h4v2h-4zM558 85h2v2h-2zM558 87h2v2h-2zM558 89h2v2h-2zM558 91h2v2h-2zM558 93h2v2h-2zM558 95h2v2h-2zM442 99h2v2h-2zM560 101h2v2h-2zM442 103h2v2h-2zM562 103h2v2h-2zM440 105h2v2h-2zM564 105h2v2h-2zM438 107h2v2h-2zM566 107h2v2h-2zM568 109h2v2h-2zM572 111h6v2h-6zM434 117h2v2h-2zM434 119h2v2h-2zM434 121h2v2h-2zM434 123h2v2h-2zM434 125h2v2h-2zM436 129h2v2h-2zM440 135h2v2h-2zM442 139h2v2h-2zM442 141h2v2h-2zM442 143h2v2h-2zM442 145h2v2h-2zM442 147h2v2h-2zM444 163h2v2h-2zM460 179h2v2h-2zM468 185h2v2h-2zM490 193h2v2h-2zM494 195h2v2h-2zM502 199h2v2h-2zM504 201h2v2h-2z"/><path fill="#f06969" d="M560 99h2v2h-2zM442 101h2v2h-2zM562 101h2v2h-2zM564 103h2v2h-2zM434 127h2v2h-2zM438 133h2v2h-2zM442 149h2v2h-2zM442 151h2v2h-2zM450 171h2v2h-2zM452 173h2v2h-2zM454 175h2v2h-2zM462 181h2v2h-2zM472 187h2v2h-2zM498 197h2v2h-2zM504 203h2v2h-2zM504 205h2v2h-2zM504 207h2v2h-2zM504 209h2v2h-2zM504 211h2v2h-2z"/><path fill="#f06666" d="M458 81h2v2h-2zM560 85h2v2h-2zM560 87h2v2h-2zM560 95h2v2h-2zM560 97h2v2h-2zM440 103h2v2h-2zM566 105h2v2h-2zM568 107h2v2h-2zM570 109h2v2h-2zM434 129h2v2h-2zM436 131h2v2h-2zM440 137h2v2h-2zM442 153h2v2h-2zM442 155h2v2h-2zM442 157h2v2h-2zM442 159h2v2h-2zM446 167h2v2h-2zM448 169h2v2h-2zM456 177h2v2h-2zM464 183h2v2h-2zM478 189h2v2h-2zM504 213h2v2h-2z"/><path fill="#f06464" d="M462 79h2v2h-2zM460 81h4v2h-4zM560 89h2v2h-2zM560 91h2v2h-2zM560 93h2v2h-2zM562 99h2v2h-2zM564 101h2v2h-2zM566 103h4v2h-4zM568 105h2v2h-2zM570 107h2v2h-2zM572 109h6v2h-6zM432 125h2v2h-2zM432 127h2v2h-2zM436 133h2v2h-2zM438 135h2v2h-2zM440 139h2v2h-2zM440 141h2v2h-2zM440 143h2v2h-2zM440 145h2v2h-2zM440 147h2v2h-2zM442 161h2v2h-2zM444 165h2v2h-2zM466 185h2v2h-2zM470 187h2v2h-2zM484 191h2v2h-2zM500 199h2v2h-2zM502 201h2v2h-2z"/><path fill="#f06161" d="M562 97h2v2h-2zM564 99h2v2h-2zM566 101h2v2h-2zM570 103h2v2h-2zM570 105h2v2h-2zM432 129h2v2h-2zM434 131h2v2h-2zM438 137h2v2h-2zM440 149h2v2h-2zM458 179h2v2h-2zM476 189h2v2h-2zM488 193h2v2h-2zM492 195h2v2h-2zM496 197h2v2h-2z"/><path fill="#f05f5f" d="M562 87h2v2h-2zM562 89h2v2h-2zM562 91h2v2h-2zM562 93h2v2h-2zM562 95h2v2h-2zM568 101h2v2h-2zM572 105h2v2h-2zM572 107h6v2h-6zM434 133h2v2h-2zM436 135h2v2h-2zM438 143h2v2h-2zM438 145h2v2h-2zM438 147h2v2h-2zM440 151h2v2h-2zM442 163h2v2h-2zM450 173h2v2h-2zM452 175h2v2h-2zM460 181h2v2h-2zM468 187h2v2h-2zM502 203h2v2h-2zM502 205h2v2h-2z"/><path fill="#f05c5c" d="M564 97h2v2h-2zM566 99h2v2h-2zM570 101h2v2h-2zM572 103h2v2h-2zM574 105h2v2h-2zM432 131h2v2h-2zM436 137h2v2h-2zM438 139h2v2h-2zM438 141h2v2h-2zM438 149h2v2h-2zM446 169h2v2h-2zM448 171h2v2h-2zM454 177h2v2h-2zM462 183h2v2h-2zM474 189h2v2h-2zM482 191h2v2h-2zM498 199h2v2h-2zM500 201h2v2h-2zM502 207h2v2h-2zM502 209h2v2h-2zM502 211h2v2h-2zM502 213h2v2h-2z"/><path fill="#f05a5a" d="M564 89h2v2h-2zM564 95h2v2h-2zM568 99h4v2h-4zM572 101h2v2h-2zM574 103h2v2h-2zM432 133h2v2h-2zM434 135h2v2h-2zM436 139h2v2h-2zM436 141h2v2h-2zM436 143h2v2h-2zM436 145h2v2h-2zM436 147h2v2h-2zM440 153h2v2h-2zM440 155h2v2h-2zM440 157h2v2h-2zM444 167h2v2h-2zM464 185h2v2h-2zM472 189h2v2h-2zM494 197h2v2h-2z"/><path fill="#f05757" d="M564 91h2v2h-2zM564 93h2v2h-2zM566 97h2v2h-2zM432 135h2v2h-2zM434 137h2v2h-2zM436 149h2v2h-2zM438 151h2v2h-2zM440 159h2v2h-2zM440 161h2v2h-2zM442 165h2v2h-2zM456 179h2v2h-2zM466 187h2v2h-2zM480 191h2v2h-2zM486 193h2v2h-2zM490 195h2v2h-2zM500 203h2v2h-2z"/><path fill="#f05555" d="M566 95h2v2h-2zM568 97h4v2h-4zM432 137h2v2h-2zM434 139h2v2h-2zM434 141h2v2h-2zM434 143h2v2h-2zM434 145h2v2h-2zM434 147h2v2h-2zM434 149h2v2h-2zM436 151h2v2h-2zM450 175h2v2h-2zM470 189h2v2h-2zM496 199h2v2h-2z"/><path fill="#f05252" d="M566 91h2v2h-2zM566 93h2v2h-2zM568 95h2v2h-2zM432 139h2v2h-2zM432 141h2v2h-2zM432 143h2v2h-2zM434 151h2v2h-2zM438 153h2v2h-2zM440 163h2v2h-2zM444 169h2v2h-2zM446 171h2v2h-2zM448 173h2v2h-2zM452 177h2v2h-2zM458 181h2v2h-2zM478 191h2v2h-2zM498 201h2v2h-2zM500 205h2v2h-2zM500 207h2v2h-2z"/><path fill="#f05050" d="M432 145h2v2h-2zM432 147h2v2h-2zM432 149h2v2h-2zM436 153h2v2h-2zM438 155h2v2h-2zM438 157h2v2h-2zM442 167h2v2h-2zM454 179h2v2h-2zM460 183h2v2h-2zM462 185h2v2h-2zM464 187h2v2h-2zM468 189h2v2h-2zM476 191h2v2h-2zM492 197h2v2h-2zM500 209h2v2h-2zM500 211h2v2h-2zM500 213h2v2h-2z"/><path fill="#f04d4d" d="M432 151h2v2h-2zM434 153h2v2h-2zM438 159h2v2h-2zM440 165h2v2h-2zM474 191h2v2h-2zM484 193h2v2h-2zM498 203h2v2h-2z"/><path fill="#f04b4b" d="M436 155h2v2h-2zM438 161h2v2h-2zM448 175h2v2h-2zM450 177h2v2h-2zM456 181h2v2h-2zM466 189h2v2h-2zM472 191h2v2h-2zM488 195h2v2h-2zM494 199h2v2h-2zM496 201h2v2h-2z"/><path fill="#f04848" d="M432 153h2v2h-2zM434 155h2v2h-2zM436 157h2v2h-2zM438 163h2v2h-2zM442 169h2v2h-2zM444 171h2v2h-2zM446 173h2v2h-2zM452 179h2v2h-2zM462 187h2v2h-2zM470 191h2v2h-2zM482 193h2v2h-2zM498 205h2v2h-2z"/><path fill="#f04646" d="M436 159h2v2h-2zM440 167h2v2h-2zM458 183h2v2h-2zM460 185h2v2h-2zM464 189h2v2h-2zM490 197h2v2h-2zM498 207h2v2h-2z"/><path fill="#f04343" d="M434 157h2v2h-2zM436 161h2v2h-2zM438 165h2v2h-2zM446 175h2v2h-2zM448 177h2v2h-2zM454 181h2v2h-2zM468 191h2v2h-2zM480 193h2v2h-2zM498 209h2v2h-2zM498 211h2v2h-2z"/><path fill="#f04141" d="M434 159h2v2h-2zM440 169h2v2h-2zM442 171h2v2h-2zM444 173h2v2h-2zM450 179h2v2h-2zM462 189h2v2h-2zM466 191h2v2h-2zM478 193h2v2h-2zM486 195h2v2h-2zM492 199h2v2h-2zM494 201h2v2h-2zM496 203h2v2h-2z"/><path fill="#f03e3e" d="M436 163h2v2h-2zM438 167h2v2h-2zM456 183h2v2h-2zM460 187h2v2h-2zM464 191h2v2h-2zM474 193h4v2h-4z"/><path fill="#f03c3c" d="M434 161h2v2h-2zM436 165h2v2h-2zM442 173h2v2h-2zM444 175h2v2h-2zM446 177h2v2h-2zM452 181h2v2h-2zM458 185h2v2h-2zM472 193h2v2h-2zM488 197h2v2h-2zM496 205h2v2h-2z"/><path fill="#f03939" d="M438 169h2v2h-2zM440 171h2v2h-2zM448 179h2v2h-2zM454 183h2v2h-2zM460 189h2v2h-2zM462 191h2v2h-2zM468 193h4v2h-4zM484 195h2v2h-2z"/><path fill="#f03737" d="M450 181h2v2h-2zM458 187h2v2h-2zM464 193h4v2h-4zM490 199h2v2h-2zM492 201h2v2h-2zM494 203h2v2h-2zM496 207h2v2h-2zM496 209h2v2h-2zM496 211h2v2h-2z"/><path fill="#f03434" d="M440 173h2v2h-2zM442 175h2v2h-2zM444 177h2v2h-2zM446 179h2v2h-2zM452 183h2v2h-2zM456 185h2v2h-2zM460 191h2v2h-2zM462 193h2v2h-2zM482 195h2v2h-2z"/><path fill="#f03232" d="M448 181h2v2h-2zM458 189h2v2h-2zM460 193h2v2h-2zM476 195h6v2h-6zM486 197h2v2h-2z"/><path fill="#f02f2f" d="M442 177h2v2h-2zM450 183h2v2h-2zM454 185h2v2h-2zM456 187h2v2h-2zM458 191h2v2h-2zM464 195h12v2h-12zM488 199h2v2h-2zM494 205h2v2h-2z"/><path fill="#f02d2d" d="M444 179h2v2h-2zM446 181h2v2h-2zM452 185h2v2h-2zM456 189h2v2h-2zM458 193h2v2h-2zM460 195h4v2h-4zM490 201h2v2h-2zM492 203h2v2h-2zM494 207h2v2h-2z"/><path fill="#f02a2a" d="M448 183h2v2h-2zM454 187h2v2h-2zM456 191h2v2h-2zM494 209h2v2h-2zM494 211h2v2h-2z"/><path fill="#f02828" d="M444 181h2v2h-2zM450 185h2v2h-2zM458 195h2v2h-2zM462 197h6v2h-6zM476 197h2v2h-2zM484 197h2v2h-2z"/><path fill="#f02525" d="M446 183h2v2h-2zM452 187h2v2h-2zM454 189h2v2h-2zM456 193h2v2h-2zM460 197h2v2h-2zM468 197h8v2h-8zM478 197h6v2h-6zM486 199h2v2h-2zM488 201h2v2h-2zM490 203h2v2h-2zM492 205h2v2h-2z"/><path fill="#f02323" d="M448 185h2v2h-2zM450 187h2v2h-2zM452 189h2v2h-2zM454 191h2v2h-2zM480 205h4v2h-4zM480 207h4v2h-4z"/><path fill="#f02020" d="M462 199h18v2h-18zM484 199h2v2h-2zM486 201h2v2h-2zM480 203h4v2h-4zM488 203h2v2h-2zM478 205h2v2h-2zM478 207h2v2h-2zM492 207h2v2h-2zM482 209h2v2h-2zM492 209h2v2h-2zM492 211h2v2h-2z"/><path fill="#f01e1e" d="M480 199h4v2h-4zM476 201h10v2h-10zM476 203h4v2h-4zM484 203h4v2h-4zM476 205h2v2h-2zM484 205h2v2h-2zM490 205h2v2h-2zM484 207h2v2h-2zM484 209h2v2h-2z"/><path fill="#f01b1b" d="M466 201h10v2h-10zM474 203h2v2h-2zM474 205h2v2h-2zM486 205h4v2h-4zM486 207h2v2h-2zM490 211h2v2h-2z"/><path fill="#f01919" d="M470 203h4v2h-4zM472 205h2v2h-2zM488 207h4v2h-4zM486 209h2v2h-2zM490 209h2v2h-2z"/><path fill="#f01616" d="M488 209h2v2h-2z"/></g></g><g clip-path="url(#cc1)"><g filter="url(#tb)"><path fill="#1414f0" d="M574 358h2v2h-2zM572 362h2v2h-2z"/><path fill="#1616f0" d="M572 356h4v2h-4zM572 358h2v2h-2zM570 360h4v2h-4zM570 362h2v2h-2zM568 364h4v2h-4zM568 366h2v2h-2zM568 368h2v2h-2z"/><path fill="#1919f0" d="M572 354h6v2h-6zM570 356h2v2h-2zM570 358h2v2h-2zM568 360h2v2h-2zM568 362h2v2h-2zM566 364h2v2h-2zM566 366h2v2h-2zM566 368h2v2h-2zM566 370h2v2h-2z"/><path fill="#1b1bf0" d="M574 352h4v2h-4zM570 354h2v2h-2zM568 356h2v2h-2zM568 358h2v2h-2zM566 360h2v2h-2zM566 362h2v2h-2zM564 364h2v2h-2zM564 366h2v2h-2zM564 368h2v2h-2zM564 370h2v2h-2z"/><path fill="#1e1ef0" d="M572 352h2v2h-2zM566 358h2v2h-2zM564 362h2v2h-2zM562 366h2v2h-2zM562 368h2v2h-2zM564 372h2v2h-2z"/><path fill="#2020f0" d="M574 350h6v2h-6zM570 352h2v2h-2zM568 354h2v2h-2zM566 356h2v2h-2zM564 360h2v2h-2zM562 364h2v2h-2zM562 370h2v2h-2z"/><path fill="#2323f0" d="M572 350h2v2h-2zM568 352h2v2h-2zM566 354h2v2h-2zM564 358h2v2h-2zM562 362h2v2h-2zM560 366h2v2h-2zM560 368h2v2h-2zM562 372h2v2h-2z"/><path fill="#2525f0" d="M574 348h6v2h-6zM570 350h2v2h-2zM564 356h2v2h-2zM562 360h2v2h-2zM560 364h2v2h-2zM560 370h2v2h-2z"/><path fill="#2828f0" d="M572 348h2v2h-2zM568 350h2v2h-2zM566 352h2v2h-2zM564 354h2v2h-2zM562 358h2v2h-2zM560 362h2v2h-2zM560 372h2v2h-2zM562 374h2v2h-2z"/><path fill="#2a2af0" d="M574 346h6v2h-6zM570 348h2v2h-2zM562 356h2v2h-2zM560 360h2v2h-2zM558 364h2v2h-2zM558 366h2v2h-2zM558 368h2v2h-2zM558 370h2v2h-2z"/><path fill="#2d2df0" d="M572 346h2v2h-2zM568 348h2v2h-2zM566 350h2v2h-2zM564 352h2v2h-2zM560 358h2v2h-2zM558 362h2v2h-2zM560 374h2v2h-2z"/><path fill="#2f2ff0" d="M530 252h2v2h-2zM576 344h6v2h-6zM570 346h2v2h-2zM562 354h2v2h-2zM558 372h2v2h-2z"/><path fill="#3232f0" d="M572 344h4v2h-4zM568 346h2v2h-2zM566 348h2v2h-2zM564 350h2v2h-2zM562 352h2v2h-2zM560 356h2v2h-2zM558 360h2v2h-2zM556 366h2v2h-2zM556 368h2v2h-2zM556 370h2v2h-2zM560 376h2v2h-2z"/><path fill="#3434f0" d="M536 254h2v2h-2zM570 344h2v2h-2zM560 354h2v2h-2zM558 358h2v2h-2zM556 364h2v2h-2zM556 372h2v2h-2zM558 374h2v2h-2z"/><path fill="#3737f0" d="M528 252h2v2h-2zM534 254h2v2h-2zM460 264h2v2h-2zM574 342h8v2h-8zM566 346h2v2h-2zM564 348h2v2h-2zM562 350h2v2h-2zM556 362h2v2h-2zM558 376h2v2h-2z"/><path fill="#3939f0" d="M532 254h2v2h-2zM466 260h2v2h-2zM458 266h2v2h-2zM572 342h2v2h-2zM568 344h2v2h-2zM560 352h2v2h-2zM558 356h2v2h-2zM556 360h2v2h-2zM554 366h2v2h-2zM554 368h2v2h-2zM554 370h2v2h-2zM556 374h2v2h-2z"/><path fill="#3c3cf0" d="M464 262h2v2h-2zM462 264h2v2h-2zM456 268h2v2h-2zM454 270h2v2h-2zM576 340h6v2h-6zM570 342h2v2h-2zM566 344h2v2h-2zM564 346h2v2h-2zM562 348h2v2h-2zM554 364h2v2h-2zM554 372h2v2h-2zM558 378h2v2h-2z"/><path fill="#3e3ef0" d="M530 254h2v2h-2zM540 256h2v2h-2zM460 266h2v2h-2zM452 272h2v2h-2zM572 340h4v2h-4zM568 342h2v2h-2zM560 350h2v2h-2zM558 354h2v2h-2zM556 358h2v2h-2zM554 362h2v2h-2zM556 376h2v2h-2z"/><path fill="#4141f0" d="M526 252h2v2h-2zM538 256h2v2h-2zM470 258h2v2h-2zM468 260h2v2h-2zM458 268h2v2h-2zM450 274h2v2h-2zM570 340h2v2h-2zM564 344h2v2h-2zM562 346h2v2h-2zM558 352h2v2h-2zM556 356h2v2h-2zM552 368h2v2h-2zM552 370h2v2h-2zM554 374h2v2h-2zM556 378h2v2h-2z"/><path fill="#4343f0" d="M536 256h2v2h-2zM466 262h2v2h-2zM464 264h2v2h-2zM456 270h2v2h-2zM582 336h2v2h-2zM572 338h10v2h-10zM568 340h2v2h-2zM566 342h2v2h-2zM560 348h2v2h-2zM554 360h2v2h-2zM552 366h2v2h-2zM552 372h2v2h-2zM554 376h2v2h-2zM556 380h2v2h-2zM554 382h2v2h-2zM550 384h2v2h-2z"/><path fill="#4646f0" d="M528 254h2v2h-2zM474 256h2v2h-2zM462 266h2v2h-2zM454 272h2v2h-2zM448 276h2v2h-2zM582 332h2v2h-2zM582 334h2v2h-2zM574 336h8v2h-8zM570 338h2v2h-2zM564 342h2v2h-2zM562 344h2v2h-2zM558 350h2v2h-2zM556 354h2v2h-2zM552 364h2v2h-2zM552 374h2v2h-2zM554 380h2v2h-2zM550 382h4v2h-4zM548 384h2v2h-2zM548 386h2v2h-2z"/><path fill="#4848f0" d="M534 256h2v2h-2zM472 258h2v2h-2zM542 258h4v2h-4zM460 268h2v2h-2zM452 274h2v2h-2zM446 278h2v2h-2zM582 328h2v2h-2zM578 330h6v2h-6zM576 332h6v2h-6zM576 334h6v2h-6zM572 336h2v2h-2zM566 340h2v2h-2zM560 346h2v2h-2zM554 358h2v2h-2zM552 362h2v2h-2zM550 368h2v2h-2zM550 370h2v2h-2zM550 372h2v2h-2zM550 374h2v2h-2zM552 376h2v2h-2zM552 378h4v2h-4zM550 380h4v2h-4zM548 382h2v2h-2zM546 386h2v2h-2z"/><path fill="#4b4bf0" d="M522 250h2v2h-2zM524 252h2v2h-2zM478 254h2v2h-2zM532 256h2v2h-2zM540 258h2v2h-2zM470 260h2v2h-2zM468 262h2v2h-2zM458 270h2v2h-2zM450 276h2v2h-2zM582 326h2v2h-2zM578 328h4v2h-4zM576 330h2v2h-2zM574 332h2v2h-2zM574 334h2v2h-2zM570 336h2v2h-2zM568 338h2v2h-2zM564 340h2v2h-2zM562 342h2v2h-2zM558 348h2v2h-2zM556 352h2v2h-2zM550 376h2v2h-2zM550 378h2v2h-2zM548 380h2v2h-2zM546 382h2v2h-2zM546 384h2v2h-2z"/><path fill="#4d4df0" d="M476 256h2v2h-2zM466 264h2v2h-2zM464 266h2v2h-2zM456 272h2v2h-2zM454 274h2v2h-2zM448 278h2v2h-2zM582 324h2v2h-2zM580 326h2v2h-2zM576 328h2v2h-2zM574 330h2v2h-2zM572 334h2v2h-2zM566 338h2v2h-2zM560 344h2v2h-2zM554 356h2v2h-2zM552 360h2v2h-2zM550 366h2v2h-2zM548 374h2v2h-2zM548 376h2v2h-2zM548 378h2v2h-2zM546 380h2v2h-2z"/><path fill="#5050f0" d="M526 254h2v2h-2zM474 258h2v2h-2zM538 258h2v2h-2zM462 268h2v2h-2zM452 276h2v2h-2zM582 322h2v2h-2zM580 324h2v2h-2zM578 326h2v2h-2zM572 332h2v2h-2zM570 334h2v2h-2zM568 336h2v2h-2zM562 340h2v2h-2zM558 346h2v2h-2zM556 350h2v2h-2zM550 364h2v2h-2zM548 370h2v2h-2zM548 372h2v2h-2zM546 378h2v2h-2zM544 384h2v2h-2zM544 386h2v2h-2zM544 388h2v2h-2z"/><path fill="#5252f0" d="M484 252h2v2h-2zM480 254h2v2h-2zM530 256h2v2h-2zM472 260h2v2h-2zM546 260h2v2h-2zM460 270h2v2h-2zM450 278h2v2h-2zM446 280h2v2h-2zM582 320h2v2h-2zM578 324h2v2h-2zM576 326h2v2h-2zM574 328h2v2h-2zM572 330h2v2h-2zM566 336h2v2h-2zM564 338h2v2h-2zM560 342h2v2h-2zM554 354h2v2h-2zM552 358h2v2h-2zM548 368h2v2h-2zM546 376h2v2h-2zM544 382h2v2h-2z"/><path fill="#5555f0" d="M520 250h2v2h-2zM478 256h2v2h-2zM536 258h2v2h-2zM542 260h4v2h-4zM470 262h2v2h-2zM468 264h2v2h-2zM458 272h2v2h-2zM456 274h2v2h-2zM582 318h2v2h-2zM580 322h2v2h-2zM570 332h2v2h-2zM568 334h2v2h-2zM562 338h2v2h-2zM558 344h2v2h-2zM556 348h2v2h-2zM550 362h2v2h-2zM546 374h2v2h-2zM544 380h2v2h-2z"/><path fill="#5757f0" d="M486 252h2v2h-2zM522 252h2v2h-2zM482 254h2v2h-2zM528 256h2v2h-2zM466 266h2v2h-2zM464 268h2v2h-2zM558 268h2v2h-2zM560 270h2v2h-2zM562 272h2v2h-2zM454 276h2v2h-2zM448 280h2v2h-2zM444 282h2v2h-2zM582 314h2v2h-2zM582 316h2v2h-2zM580 320h2v2h-2zM578 322h2v2h-2zM576 324h2v2h-2zM574 326h2v2h-2zM572 328h2v2h-2zM564 336h2v2h-2zM560 340h2v2h-2zM554 352h2v2h-2zM552 356h2v2h-2zM548 366h2v2h-2zM546 372h2v2h-2zM544 378h2v2h-2zM542 384h2v2h-2zM542 386h2v2h-2zM542 388h2v2h-2z"/><path fill="#5a5af0" d="M524 254h2v2h-2zM476 258h2v2h-2zM534 258h2v2h-2zM474 260h2v2h-2zM540 260h2v2h-2zM462 270h2v2h-2zM558 270h2v2h-2zM452 278h2v2h-2zM442 284h2v2h-2zM582 310h2v2h-2zM582 312h2v2h-2zM580 316h2v2h-2zM580 318h2v2h-2zM578 320h2v2h-2zM576 322h2v2h-2zM574 324h2v2h-2zM570 330h2v2h-2zM568 332h2v2h-2zM566 334h2v2h-2zM562 336h2v2h-2zM560 338h2v2h-2zM558 342h2v2h-2zM556 346h2v2h-2zM550 360h2v2h-2zM546 370h2v2h-2zM544 376h2v2h-2zM542 382h2v2h-2z"/><path fill="#5c5cf0" d="M488 252h2v2h-2zM484 254h2v2h-2zM480 256h2v2h-2zM472 262h2v2h-2zM556 266h2v2h-2zM556 268h2v2h-2zM460 272h2v2h-2zM560 272h2v2h-2zM564 274h2v2h-2zM450 280h2v2h-2zM446 282h2v2h-2zM580 312h2v2h-2zM580 314h2v2h-2zM578 318h2v2h-2zM572 326h2v2h-2zM570 328h2v2h-2zM564 334h2v2h-2zM558 340h2v2h-2zM554 350h2v2h-2zM552 354h2v2h-2zM548 364h2v2h-2zM546 368h2v2h-2zM544 374h2v2h-2zM542 380h2v2h-2zM540 390h2v2h-2z"/><path fill="#5f5ff0" d="M492 250h2v2h-2zM518 250h2v2h-2zM538 260h2v2h-2zM544 262h8v2h-8zM470 264h2v2h-2zM556 270h2v2h-2zM558 272h2v2h-2zM458 274h2v2h-2zM562 274h2v2h-2zM456 276h2v2h-2zM566 276h2v2h-2zM444 284h2v2h-2zM580 310h2v2h-2zM578 316h2v2h-2zM576 320h2v2h-2zM574 322h2v2h-2zM572 324h2v2h-2zM568 330h2v2h-2zM566 332h2v2h-2zM562 334h2v2h-2zM560 336h2v2h-2zM556 344h2v2h-2zM554 348h2v2h-2zM550 358h2v2h-2zM540 386h2v2h-2zM540 388h2v2h-2z"/><path fill="#6161f0" d="M490 252h2v2h-2zM520 252h2v2h-2zM486 254h2v2h-2zM526 256h2v2h-2zM478 258h2v2h-2zM532 258h2v2h-2zM542 262h2v2h-2zM468 266h2v2h-2zM466 268h2v2h-2zM560 274h2v2h-2zM564 276h2v2h-2zM454 278h2v2h-2zM448 282h2v2h-2zM580 308h2v2h-2zM578 312h2v2h-2zM578 314h2v2h-2zM576 318h2v2h-2zM570 326h2v2h-2zM568 328h2v2h-2zM564 332h2v2h-2zM558 338h2v2h-2zM556 342h2v2h-2zM552 352h2v2h-2zM548 362h2v2h-2zM544 372h2v2h-2zM542 378h2v2h-2zM540 384h2v2h-2z"/><path fill="#6464f0" d="M482 256h2v2h-2zM476 260h2v2h-2zM554 268h2v2h-2zM464 270h2v2h-2zM554 270h2v2h-2zM556 272h2v2h-2zM566 278h2v2h-2zM452 280h2v2h-2zM568 280h2v2h-2zM570 282h2v2h-2zM442 286h2v2h-2zM440 288h2v2h-2zM580 306h2v2h-2zM578 310h2v2h-2zM576 314h2v2h-2zM576 316h2v2h-2zM574 320h2v2h-2zM572 322h2v2h-2zM570 324h2v2h-2zM566 330h2v2h-2zM562 332h2v2h-2zM560 334h2v2h-2zM554 346h2v2h-2zM546 366h2v2h-2zM544 370h2v2h-2zM542 376h2v2h-2zM540 382h2v2h-2z"/><path fill="#6666f0" d="M494 250h2v2h-2zM516 250h2v2h-2zM488 254h2v2h-2zM522 254h2v2h-2zM530 258h2v2h-2zM536 260h2v2h-2zM474 262h2v2h-2zM540 262h2v2h-2zM550 264h4v2h-4zM554 266h2v2h-2zM462 272h2v2h-2zM460 274h2v2h-2zM558 274h2v2h-2zM562 276h2v2h-2zM450 282h2v2h-2zM446 284h2v2h-2zM570 284h2v2h-2zM572 286h2v2h-2zM580 302h2v2h-2zM580 304h2v2h-2zM578 308h2v2h-2zM576 312h2v2h-2zM574 318h2v2h-2zM572 320h2v2h-2zM568 326h2v2h-2zM566 328h2v2h-2zM564 330h2v2h-2zM558 336h2v2h-2zM556 340h2v2h-2zM550 356h2v2h-2zM542 374h2v2h-2zM540 380h2v2h-2zM538 388h2v2h-2zM538 390h2v2h-2z"/><path fill="#6969f0" d="M514 250h2v2h-2zM492 252h2v2h-2zM484 256h2v2h-2zM480 258h2v2h-2zM472 264h2v2h-2zM544 264h6v2h-6zM458 276h2v2h-2zM560 276h2v2h-2zM456 278h2v2h-2zM564 278h2v2h-2zM454 280h2v2h-2zM566 280h2v2h-2zM568 282h2v2h-2zM444 286h2v2h-2zM574 288h2v2h-2zM438 292h2v2h-2zM578 306h2v2h-2zM576 310h2v2h-2zM574 314h2v2h-2zM574 316h2v2h-2zM572 318h2v2h-2zM570 322h2v2h-2zM568 324h2v2h-2zM562 330h2v2h-2zM560 332h2v2h-2zM558 334h2v2h-2zM556 338h2v2h-2zM554 344h2v2h-2zM552 350h2v2h-2zM548 360h2v2h-2zM546 364h2v2h-2zM544 368h2v2h-2zM538 386h2v2h-2z"/><path fill="#6b6bf0" d="M496 250h2v2h-2zM518 252h2v2h-2zM490 254h2v2h-2zM524 256h2v2h-2zM478 260h2v2h-2zM470 266h2v2h-2zM552 266h2v2h-2zM468 268h2v2h-2zM554 272h2v2h-2zM556 274h2v2h-2zM562 278h2v2h-2zM452 282h2v2h-2zM448 284h2v2h-2zM568 284h2v2h-2zM570 286h2v2h-2zM442 288h2v2h-2zM572 288h2v2h-2zM440 290h2v2h-2zM578 302h2v2h-2zM578 304h2v2h-2zM576 308h2v2h-2zM574 312h2v2h-2zM572 316h2v2h-2zM570 320h2v2h-2zM566 326h2v2h-2zM564 328h2v2h-2zM552 348h2v2h-2zM550 354h2v2h-2zM542 372h2v2h-2zM540 378h2v2h-2zM538 384h2v2h-2z"/><path fill="#6e6ef0" d="M510 250h4v2h-4zM486 256h2v2h-2zM482 258h2v2h-2zM528 258h2v2h-2zM534 260h2v2h-2zM476 262h2v2h-2zM538 262h2v2h-2zM542 264h2v2h-2zM550 266h2v2h-2zM552 268h2v2h-2zM466 270h2v2h-2zM552 270h2v2h-2zM558 276h2v2h-2zM564 280h2v2h-2zM566 282h2v2h-2zM446 286h2v2h-2zM568 286h2v2h-2zM570 288h2v2h-2zM574 290h2v2h-2zM436 296h2v2h-2zM578 298h2v2h-2zM578 300h2v2h-2zM576 304h2v2h-2zM576 306h2v2h-2zM574 310h2v2h-2zM572 314h2v2h-2zM570 318h2v2h-2zM568 322h2v2h-2zM566 324h2v2h-2zM564 326h2v2h-2zM562 328h2v2h-2zM560 330h2v2h-2zM558 332h2v2h-2zM556 336h2v2h-2zM554 342h2v2h-2zM548 358h2v2h-2zM540 376h2v2h-2zM538 382h2v2h-2zM536 392h2v2h-2z"/><path fill="#7070f0" d="M508 250h2v2h-2zM494 252h2v2h-2zM520 254h2v2h-2zM474 264h2v2h-2zM548 266h2v2h-2zM464 272h2v2h-2zM462 274h2v2h-2zM460 276h2v2h-2zM458 278h2v2h-2zM560 278h2v2h-2zM450 284h2v2h-2zM566 284h2v2h-2zM444 288h2v2h-2zM442 290h2v2h-2zM440 292h2v2h-2zM576 292h2v2h-2zM438 294h2v2h-2zM576 302h2v2h-2zM574 306h2v2h-2zM574 308h2v2h-2zM572 312h2v2h-2zM570 316h2v2h-2zM568 320h2v2h-2zM556 334h2v2h-2zM554 340h2v2h-2zM552 346h2v2h-2zM550 352h2v2h-2zM546 362h2v2h-2zM544 366h2v2h-2zM542 370h2v2h-2zM536 388h2v2h-2zM536 390h2v2h-2z"/><path fill="#7373f0" d="M498 250h2v2h-2zM506 250h2v2h-2zM516 252h2v2h-2zM492 254h2v2h-2zM488 256h2v2h-2zM480 260h2v2h-2zM540 264h2v2h-2zM472 266h2v2h-2zM546 266h2v2h-2zM550 268h2v2h-2zM554 274h2v2h-2zM556 276h2v2h-2zM456 280h2v2h-2zM562 280h2v2h-2zM454 282h2v2h-2zM564 282h2v2h-2zM448 286h2v2h-2zM566 286h2v2h-2zM568 288h2v2h-2zM570 290h4v2h-4zM574 292h2v2h-2zM576 294h2v2h-2zM576 296h2v2h-2zM436 298h2v2h-2zM576 298h2v2h-2zM576 300h2v2h-2zM574 304h2v2h-2zM572 310h2v2h-2zM570 314h2v2h-2zM568 318h2v2h-2zM566 322h2v2h-2zM564 324h2v2h-2zM562 326h2v2h-2zM560 328h2v2h-2zM558 330h2v2h-2zM548 356h2v2h-2zM540 374h2v2h-2zM538 380h2v2h-2zM536 386h2v2h-2z"/><path fill="#7575f0" d="M500 250h2v2h-2zM504 250h2v2h-2zM514 252h2v2h-2zM522 256h2v2h-2zM484 258h2v2h-2zM532 260h2v2h-2zM478 262h2v2h-2zM536 262h2v2h-2zM544 266h2v2h-2zM552 272h2v2h-2zM558 278h2v2h-2zM560 280h2v2h-2zM452 284h2v2h-2zM564 284h2v2h-2zM438 296h2v2h-2zM574 300h2v2h-2zM434 302h2v2h-2zM574 302h2v2h-2zM572 306h2v2h-2zM572 308h2v2h-2zM570 312h2v2h-2zM566 320h2v2h-2zM556 332h2v2h-2zM554 338h2v2h-2zM552 344h2v2h-2zM550 350h2v2h-2zM538 378h2v2h-2z"/><path fill="#7878f0" d="M502 250h2v2h-2zM496 252h2v2h-2zM510 252h4v2h-4zM490 256h2v2h-2zM526 258h2v2h-2zM542 266h2v2h-2zM470 268h2v2h-2zM548 268h2v2h-2zM550 270h2v2h-2zM562 282h2v2h-2zM564 286h2v2h-2zM446 288h2v2h-2zM566 288h2v2h-2zM444 290h2v2h-2zM568 290h2v2h-2zM442 292h2v2h-2zM570 292h4v2h-4zM440 294h2v2h-2zM574 294h2v2h-2zM574 296h2v2h-2zM574 298h2v2h-2zM436 300h2v2h-2zM572 304h2v2h-2zM570 308h2v2h-2zM570 310h2v2h-2zM568 314h2v2h-2zM568 316h2v2h-2zM564 322h2v2h-2zM562 324h2v2h-2zM554 336h2v2h-2zM546 360h2v2h-2zM544 364h2v2h-2zM542 368h2v2h-2zM540 372h2v2h-2zM536 384h2v2h-2zM534 392h2v2h-2z"/><path fill="#7a7af0" d="M508 252h2v2h-2zM494 254h2v2h-2zM518 254h2v2h-2zM486 258h2v2h-2zM482 260h2v2h-2zM476 264h2v2h-2zM468 270h2v2h-2zM466 272h2v2h-2zM462 276h2v2h-2zM460 278h2v2h-2zM458 280h2v2h-2zM562 284h2v2h-2zM450 286h2v2h-2zM566 290h2v2h-2zM568 292h2v2h-2zM572 294h2v2h-2zM572 296h2v2h-2zM438 298h2v2h-2zM572 298h2v2h-2zM572 300h2v2h-2zM572 302h2v2h-2zM570 306h2v2h-2zM568 312h2v2h-2zM566 318h2v2h-2zM564 320h2v2h-2zM560 326h2v2h-2zM558 328h2v2h-2zM556 330h2v2h-2zM554 334h2v2h-2zM552 342h2v2h-2zM550 348h2v2h-2zM548 354h2v2h-2zM538 376h2v2h-2zM536 382h2v2h-2zM534 390h2v2h-2z"/><path fill="#7d7df0" d="M498 252h2v2h-2zM506 252h2v2h-2zM492 256h2v2h-2zM538 264h2v2h-2zM474 266h2v2h-2zM546 268h2v2h-2zM464 274h2v2h-2zM552 274h2v2h-2zM554 276h2v2h-2zM556 278h2v2h-2zM558 280h2v2h-2zM456 282h2v2h-2zM560 282h2v2h-2zM454 284h2v2h-2zM448 288h2v2h-2zM564 288h2v2h-2zM442 294h2v2h-2zM570 294h2v2h-2zM440 296h2v2h-2zM570 296h2v2h-2zM570 300h2v2h-2zM436 302h2v2h-2zM570 302h2v2h-2zM434 304h2v2h-2zM570 304h2v2h-2zM568 308h2v2h-2zM568 310h2v2h-2zM566 316h2v2h-2zM562 322h2v2h-2zM552 340h2v2h-2zM546 358h2v2h-2zM534 388h2v2h-2z"/><path fill="#7f7ff0" d="M508 254h6v2h-6zM516 254h2v2h-2zM520 256h2v2h-2zM488 258h2v2h-2zM524 258h2v2h-2zM484 260h2v2h-2zM530 260h2v2h-2zM480 262h2v2h-2zM540 266h2v2h-2zM548 270h2v2h-2zM550 272h2v2h-2zM452 286h2v2h-2zM562 286h2v2h-2zM446 290h2v2h-2zM564 290h2v2h-2zM444 292h2v2h-2zM566 292h2v2h-2zM568 294h2v2h-2zM570 298h2v2h-2zM438 300h2v2h-2zM568 304h2v2h-2zM568 306h2v2h-2zM432 308h2v2h-2zM566 314h2v2h-2zM564 318h2v2h-2zM560 324h2v2h-2zM558 326h2v2h-2zM554 332h2v2h-2zM550 346h2v2h-2zM548 352h2v2h-2zM544 362h2v2h-2zM542 366h2v2h-2zM540 370h2v2h-2zM538 374h2v2h-2zM536 380h2v2h-2zM534 386h2v2h-2z"/><path fill="#8282f0" d="M500 252h2v2h-2zM504 252h2v2h-2zM496 254h2v2h-2zM514 254h2v2h-2zM534 262h2v2h-2zM478 264h2v2h-2zM472 268h2v2h-2zM544 268h2v2h-2zM558 282h2v2h-2zM560 284h2v2h-2zM450 288h2v2h-2zM562 288h2v2h-2zM564 292h2v2h-2zM566 294h2v2h-2zM568 296h2v2h-2zM440 298h2v2h-2zM568 298h2v2h-2zM568 300h2v2h-2zM568 302h2v2h-2zM436 304h2v2h-2zM434 306h2v2h-2zM566 310h2v2h-2zM566 312h2v2h-2zM564 316h2v2h-2zM562 320h2v2h-2zM556 328h2v2h-2zM552 338h2v2h-2zM536 378h2v2h-2zM534 384h2v2h-2zM532 392h2v2h-2zM532 394h2v2h-2z"/><path fill="#8484f0" d="M502 252h2v2h-2zM506 254h2v2h-2zM494 256h2v2h-2zM508 256h4v2h-4zM490 258h2v2h-2zM476 266h2v2h-2zM470 270h2v2h-2zM554 278h2v2h-2zM460 280h2v2h-2zM556 280h2v2h-2zM458 282h2v2h-2zM560 286h2v2h-2zM448 290h2v2h-2zM562 290h2v2h-2zM446 292h2v2h-2zM444 294h2v2h-2zM442 296h2v2h-2zM566 296h2v2h-2zM566 298h2v2h-2zM438 302h2v2h-2zM566 304h2v2h-2zM566 306h2v2h-2zM566 308h2v2h-2zM432 310h2v2h-2zM564 314h2v2h-2zM560 322h2v2h-2zM554 330h2v2h-2zM552 336h2v2h-2zM550 344h2v2h-2zM548 350h2v2h-2zM546 356h2v2h-2zM538 372h2v2h-2zM532 390h2v2h-2z"/><path fill="#8787f0" d="M498 254h2v2h-2zM512 256h2v2h-2zM518 256h2v2h-2zM510 258h2v2h-2zM486 260h2v2h-2zM528 260h2v2h-2zM482 262h2v2h-2zM536 264h2v2h-2zM542 268h2v2h-2zM546 270h2v2h-2zM468 272h2v2h-2zM466 274h2v2h-2zM464 276h2v2h-2zM552 276h2v2h-2zM462 278h2v2h-2zM456 284h2v2h-2zM454 286h2v2h-2zM562 292h2v2h-2zM564 294h2v2h-2zM564 296h2v2h-2zM440 300h2v2h-2zM566 300h2v2h-2zM566 302h2v2h-2zM434 308h2v2h-2zM432 312h2v2h-2zM564 312h2v2h-2zM562 318h2v2h-2zM558 324h2v2h-2zM544 360h2v2h-2zM542 364h2v2h-2zM540 368h2v2h-2zM536 376h2v2h-2zM534 382h2v2h-2zM532 388h2v2h-2z"/><path fill="#8989f0" d="M504 254h2v2h-2zM506 256h2v2h-2zM514 256h4v2h-4zM492 258h2v2h-2zM508 258h2v2h-2zM522 258h2v2h-2zM480 264h2v2h-2zM538 266h2v2h-2zM474 268h2v2h-2zM548 272h2v2h-2zM550 274h2v2h-2zM558 284h2v2h-2zM452 288h2v2h-2zM560 288h2v2h-2zM442 298h2v2h-2zM564 298h2v2h-2zM564 300h2v2h-2zM438 304h2v2h-2zM436 306h2v2h-2zM564 306h2v2h-2zM564 308h2v2h-2zM564 310h2v2h-2zM562 316h2v2h-2zM560 320h2v2h-2zM556 326h2v2h-2zM552 334h2v2h-2zM550 342h2v2h-2zM548 348h2v2h-2zM546 354h2v2h-2zM532 386h2v2h-2z"/><path fill="#8c8cf0" d="M500 254h2v2h-2zM496 256h2v2h-2zM512 258h2v2h-2zM488 260h2v2h-2zM484 262h2v2h-2zM532 262h2v2h-2zM556 282h2v2h-2zM558 286h2v2h-2zM450 290h2v2h-2zM560 290h2v2h-2zM448 292h2v2h-2zM446 294h2v2h-2zM562 294h2v2h-2zM444 296h2v2h-2zM564 302h2v2h-2zM564 304h2v2h-2zM434 310h2v2h-2zM432 314h2v2h-2zM562 314h2v2h-2zM432 316h2v2h-2zM558 322h2v2h-2zM550 340h2v2h-2zM538 370h2v2h-2zM536 374h2v2h-2zM534 380h2v2h-2z"/><path fill="#8e8ef0" d="M502 254h2v2h-2zM494 258h2v2h-2zM506 258h2v2h-2zM520 258h2v2h-2zM508 260h4v2h-4zM526 260h2v2h-2zM478 266h2v2h-2zM540 268h2v2h-2zM472 270h2v2h-2zM544 270h2v2h-2zM554 280h2v2h-2zM460 282h2v2h-2zM458 284h2v2h-2zM560 292h2v2h-2zM562 296h2v2h-2zM562 298h2v2h-2zM440 302h2v2h-2zM436 308h2v2h-2zM562 312h2v2h-2zM432 318h2v2h-2zM560 318h2v2h-2zM432 320h2v2h-2zM554 328h2v2h-2zM552 332h2v2h-2zM548 346h2v2h-2zM544 358h2v2h-2zM540 366h2v2h-2zM534 378h2v2h-2zM532 384h2v2h-2zM530 392h2v2h-2zM530 394h2v2h-2z"/><path fill="#9191f0" d="M498 256h2v2h-2zM504 256h2v2h-2zM514 258h2v2h-2zM490 260h2v2h-2zM482 264h2v2h-2zM464 278h2v2h-2zM552 278h2v2h-2zM462 280h2v2h-2zM556 284h2v2h-2zM456 286h2v2h-2zM454 288h2v2h-2zM558 288h2v2h-2zM560 294h2v2h-2zM442 300h2v2h-2zM562 300h2v2h-2zM562 302h2v2h-2zM562 304h2v2h-2zM438 306h2v2h-2zM562 306h2v2h-2zM562 308h2v2h-2zM562 310h2v2h-2zM434 312h2v2h-2zM560 316h2v2h-2zM432 322h2v2h-2zM432 324h2v2h-2zM556 324h2v2h-2zM432 326h2v2h-2zM432 328h2v2h-2zM432 330h2v2h-2zM550 338h2v2h-2zM546 352h2v2h-2zM542 362h2v2h-2zM530 390h2v2h-2z"/><path fill="#9393f0" d="M500 256h4v2h-4zM496 258h2v2h-2zM504 258h2v2h-2zM516 258h4v2h-4zM506 260h2v2h-2zM486 262h2v2h-2zM534 264h2v2h-2zM476 268h2v2h-2zM470 272h2v2h-2zM546 272h2v2h-2zM468 274h2v2h-2zM466 276h2v2h-2zM550 276h2v2h-2zM452 290h2v2h-2zM558 290h2v2h-2zM450 292h2v2h-2zM448 294h2v2h-2zM446 296h2v2h-2zM560 296h2v2h-2zM444 298h2v2h-2zM440 304h2v2h-2zM436 310h2v2h-2zM434 314h2v2h-2zM434 316h2v2h-2zM558 320h2v2h-2zM552 330h2v2h-2zM432 332h2v2h-2zM432 334h2v2h-2zM432 336h2v2h-2zM432 338h2v2h-2zM548 344h2v2h-2zM538 368h2v2h-2zM536 372h2v2h-2zM534 376h2v2h-2zM532 382h2v2h-2zM530 388h2v2h-2z"/><path fill="#9696f0" d="M492 260h2v2h-2zM512 260h2v2h-2zM524 260h2v2h-2zM530 262h2v2h-2zM480 266h2v2h-2zM536 266h2v2h-2zM542 270h2v2h-2zM548 274h2v2h-2zM554 282h2v2h-2zM556 286h2v2h-2zM560 298h2v2h-2zM442 302h2v2h-2zM438 308h2v2h-2zM560 314h2v2h-2zM434 318h2v2h-2zM434 320h2v2h-2zM554 326h2v2h-2zM550 336h2v2h-2zM546 350h2v2h-2zM544 356h2v2h-2zM530 386h2v2h-2z"/><path fill="#9898f0" d="M498 258h2v2h-2zM502 258h2v2h-2zM484 264h2v2h-2zM538 268h2v2h-2zM474 270h2v2h-2zM460 284h2v2h-2zM458 286h2v2h-2zM456 288h2v2h-2zM558 292h2v2h-2zM444 300h2v2h-2zM560 300h2v2h-2zM560 302h2v2h-2zM560 304h2v2h-2zM440 306h2v2h-2zM560 308h2v2h-2zM560 310h2v2h-2zM436 312h2v2h-2zM560 312h2v2h-2zM558 318h2v2h-2zM434 322h2v2h-2zM556 322h2v2h-2zM434 324h2v2h-2zM434 326h2v2h-2zM434 328h2v2h-2zM434 330h2v2h-2zM434 332h2v2h-2zM550 334h2v2h-2zM434 340h2v2h-2zM434 342h2v2h-2zM548 342h2v2h-2zM434 344h2v2h-2zM540 364h2v2h-2zM532 380h2v2h-2z"/><path fill="#9b9bf0" d="M500 258h2v2h-2zM494 260h2v2h-2zM504 260h2v2h-2zM514 260h2v2h-2zM522 260h2v2h-2zM488 262h2v2h-2zM478 268h2v2h-2zM464 280h2v2h-2zM552 280h2v2h-2zM462 282h2v2h-2zM554 284h2v2h-2zM556 288h2v2h-2zM454 290h2v2h-2zM452 292h2v2h-2zM450 294h2v2h-2zM558 294h2v2h-2zM448 296h2v2h-2zM446 298h2v2h-2zM560 306h2v2h-2zM438 310h2v2h-2zM436 314h2v2h-2zM552 328h2v2h-2zM434 334h2v2h-2zM434 336h2v2h-2zM434 338h2v2h-2zM546 348h2v2h-2zM436 350h2v2h-2zM542 360h2v2h-2zM446 368h2v2h-2zM448 370h2v2h-2zM536 370h2v2h-2zM450 372h2v2h-2zM452 374h2v2h-2zM534 374h2v2h-2zM454 376h2v2h-2zM456 378h2v2h-2zM530 384h2v2h-2zM528 392h2v2h-2zM528 394h2v2h-2z"/><path fill="#9d9df0" d="M496 260h2v2h-2zM508 262h2v2h-2zM482 266h2v2h-2zM540 270h2v2h-2zM472 272h2v2h-2zM544 272h2v2h-2zM550 278h2v2h-2zM556 290h2v2h-2zM558 296h2v2h-2zM442 304h2v2h-2zM440 308h2v2h-2zM436 316h2v2h-2zM558 316h2v2h-2zM436 318h2v2h-2zM556 320h2v2h-2zM554 324h2v2h-2zM550 332h2v2h-2zM548 340h2v2h-2zM436 346h2v2h-2zM436 348h2v2h-2zM438 354h2v2h-2zM544 354h2v2h-2zM440 358h2v2h-2zM442 362h2v2h-2zM538 366h2v2h-2zM532 378h2v2h-2zM458 380h2v2h-2zM530 382h2v2h-2zM528 390h2v2h-2z"/><path fill="#a0a0f0" d="M498 260h2v2h-2zM502 260h2v2h-2zM516 260h6v2h-6zM490 262h2v2h-2zM510 262h2v2h-2zM528 262h2v2h-2zM486 264h2v2h-2zM532 264h2v2h-2zM476 270h2v2h-2zM470 274h2v2h-2zM546 274h2v2h-2zM548 276h2v2h-2zM466 278h2v2h-2zM558 298h2v2h-2zM558 300h2v2h-2zM444 302h2v2h-2zM438 312h2v2h-2zM558 314h2v2h-2zM436 320h2v2h-2zM436 322h2v2h-2zM436 324h2v2h-2zM436 326h2v2h-2zM436 328h2v2h-2zM436 330h2v2h-2zM436 332h2v2h-2zM436 334h2v2h-2zM436 336h2v2h-2zM436 338h2v2h-2zM436 340h2v2h-2zM436 342h2v2h-2zM436 344h2v2h-2zM546 346h2v2h-2zM438 352h2v2h-2zM444 364h2v2h-2zM446 366h2v2h-2zM448 368h2v2h-2zM534 372h2v2h-2zM460 382h2v2h-2zM528 388h2v2h-2z"/><path fill="#a2a2f0" d="M500 260h2v2h-2zM492 262h2v2h-2zM506 262h2v2h-2zM480 268h2v2h-2zM468 276h2v2h-2zM552 282h2v2h-2zM460 286h2v2h-2zM554 286h2v2h-2zM458 288h2v2h-2zM456 290h2v2h-2zM454 292h2v2h-2zM556 292h2v2h-2zM452 294h2v2h-2zM450 296h2v2h-2zM448 298h2v2h-2zM446 300h2v2h-2zM558 302h2v2h-2zM558 304h2v2h-2zM442 306h2v2h-2zM558 306h2v2h-2zM558 310h2v2h-2zM558 312h2v2h-2zM438 314h2v2h-2zM556 318h2v2h-2zM548 338h2v2h-2zM438 350h2v2h-2zM544 352h2v2h-2zM440 356h2v2h-2zM542 358h2v2h-2zM442 360h2v2h-2zM540 362h2v2h-2zM536 368h2v2h-2zM450 370h2v2h-2zM452 372h2v2h-2zM454 374h2v2h-2zM456 376h2v2h-2zM532 376h2v2h-2zM458 378h2v2h-2zM528 386h2v2h-2z"/><path fill="#a5a5f0" d="M512 262h2v2h-2zM484 266h2v2h-2zM534 266h2v2h-2zM536 268h2v2h-2zM542 272h2v2h-2zM462 284h2v2h-2zM554 288h2v2h-2zM556 294h2v2h-2zM444 304h2v2h-2zM558 308h2v2h-2zM440 310h2v2h-2zM438 316h2v2h-2zM438 318h2v2h-2zM554 322h2v2h-2zM552 326h2v2h-2zM550 330h2v2h-2zM546 344h2v2h-2zM438 346h2v2h-2zM438 348h2v2h-2zM440 354h2v2h-2zM444 362h2v2h-2zM446 364h2v2h-2zM460 380h2v2h-2zM530 380h2v2h-2zM528 384h2v2h-2zM526 394h2v2h-2z"/><path fill="#a7a7f0" d="M494 262h2v2h-2zM504 262h2v2h-2zM526 262h2v2h-2zM488 264h2v2h-2zM478 270h2v2h-2zM474 272h2v2h-2zM550 280h2v2h-2zM464 282h2v2h-2zM556 296h2v2h-2zM442 308h2v2h-2zM440 312h2v2h-2zM556 316h2v2h-2zM438 320h2v2h-2zM438 322h2v2h-2zM438 324h2v2h-2zM438 326h2v2h-2zM438 328h2v2h-2zM438 330h2v2h-2zM438 332h2v2h-2zM438 334h2v2h-2zM438 336h2v2h-2zM548 336h2v2h-2zM438 338h2v2h-2zM438 340h2v2h-2zM438 342h2v2h-2zM438 344h2v2h-2zM544 350h2v2h-2zM440 352h2v2h-2zM442 358h2v2h-2zM448 366h2v2h-2zM450 368h2v2h-2zM526 392h2v2h-2z"/><path fill="#aaaaf0" d="M496 262h4v2h-4zM502 262h2v2h-2zM514 262h2v2h-2zM482 268h2v2h-2zM538 270h2v2h-2zM466 280h2v2h-2zM552 284h2v2h-2zM458 290h2v2h-2zM554 290h2v2h-2zM456 292h2v2h-2zM454 294h2v2h-2zM452 296h2v2h-2zM450 298h2v2h-2zM556 298h2v2h-2zM448 300h2v2h-2zM446 302h2v2h-2zM546 342h2v2h-2zM440 350h2v2h-2zM442 356h2v2h-2zM542 356h2v2h-2zM444 360h2v2h-2zM446 362h2v2h-2zM538 364h2v2h-2zM452 370h2v2h-2zM534 370h2v2h-2zM454 372h2v2h-2zM456 374h2v2h-2zM532 374h2v2h-2zM458 376h2v2h-2zM460 378h2v2h-2zM530 378h2v2h-2zM462 382h2v2h-2zM528 382h2v2h-2zM526 388h2v2h-2zM526 390h2v2h-2z"/><path fill="#acacf0" d="M500 262h2v2h-2zM524 262h2v2h-2zM490 264h2v2h-2zM530 264h2v2h-2zM486 266h2v2h-2zM472 274h2v2h-2zM544 274h2v2h-2zM468 278h2v2h-2zM548 278h2v2h-2zM460 288h2v2h-2zM554 292h2v2h-2zM556 300h2v2h-2zM556 302h2v2h-2zM444 306h2v2h-2zM442 310h2v2h-2zM440 314h2v2h-2zM556 314h2v2h-2zM554 320h2v2h-2zM552 324h2v2h-2zM550 328h2v2h-2zM548 334h2v2h-2zM440 346h2v2h-2zM440 348h2v2h-2zM544 348h2v2h-2zM540 360h2v2h-2zM448 364h2v2h-2zM526 386h2v2h-2zM524 396h2v2h-2z"/><path fill="#afaff0" d="M516 262h2v2h-2zM522 262h2v2h-2zM484 268h2v2h-2zM480 270h2v2h-2zM476 272h2v2h-2zM540 272h2v2h-2zM470 276h2v2h-2zM546 276h2v2h-2zM462 286h2v2h-2zM552 286h2v2h-2zM446 304h2v2h-2zM556 304h2v2h-2zM556 306h2v2h-2zM556 308h2v2h-2zM556 312h2v2h-2zM440 316h2v2h-2zM440 318h2v2h-2zM440 320h2v2h-2zM440 324h2v2h-2zM440 326h2v2h-2zM440 328h2v2h-2zM440 330h2v2h-2zM440 332h2v2h-2zM440 334h2v2h-2zM440 336h2v2h-2zM440 338h2v2h-2zM440 340h2v2h-2zM440 342h2v2h-2zM440 344h2v2h-2zM442 354h2v2h-2zM542 354h2v2h-2zM444 358h2v2h-2zM450 366h2v2h-2zM536 366h2v2h-2zM452 368h2v2h-2zM454 370h2v2h-2zM530 376h2v2h-2zM462 380h2v2h-2zM528 380h2v2h-2zM464 384h2v2h-2zM524 394h2v2h-2z"/><path fill="#b1b1f0" d="M518 262h4v2h-4zM492 264h2v2h-2zM550 282h2v2h-2zM464 284h2v2h-2zM458 292h2v2h-2zM456 294h2v2h-2zM554 294h2v2h-2zM454 296h2v2h-2zM452 298h2v2h-2zM450 300h2v2h-2zM448 302h2v2h-2zM444 308h2v2h-2zM556 310h2v2h-2zM442 312h2v2h-2zM554 318h2v2h-2zM440 322h2v2h-2zM548 332h2v2h-2zM546 340h2v2h-2zM544 346h2v2h-2zM442 350h2v2h-2zM442 352h2v2h-2zM444 356h2v2h-2zM446 360h2v2h-2zM448 362h2v2h-2zM456 372h2v2h-2zM532 372h2v2h-2zM458 374h2v2h-2zM460 376h2v2h-2zM526 384h2v2h-2zM524 392h2v2h-2z"/><path fill="#b4b4f0" d="M494 264h2v2h-2zM488 266h2v2h-2zM532 266h2v2h-2zM534 268h2v2h-2zM482 270h2v2h-2zM536 270h2v2h-2zM466 282h2v2h-2zM552 288h2v2h-2zM460 290h2v2h-2zM554 296h2v2h-2zM442 314h2v2h-2zM552 322h2v2h-2zM442 348h2v2h-2zM538 362h2v2h-2zM450 364h2v2h-2zM534 368h2v2h-2zM466 386h2v2h-2zM524 390h2v2h-2z"/><path fill="#b6b6f0" d="M496 264h4v2h-4zM506 264h4v2h-4zM486 268h2v2h-2zM478 272h2v2h-2zM474 274h2v2h-2zM542 274h2v2h-2zM548 280h2v2h-2zM462 288h2v2h-2zM552 290h2v2h-2zM554 298h2v2h-2zM446 306h2v2h-2zM444 310h2v2h-2zM442 316h2v2h-2zM550 326h2v2h-2zM442 328h2v2h-2zM442 330h2v2h-2zM442 332h2v2h-2zM442 334h2v2h-2zM442 336h2v2h-2zM442 338h2v2h-2zM546 338h2v2h-2zM442 340h2v2h-2zM442 342h2v2h-2zM442 344h2v2h-2zM442 346h2v2h-2zM542 352h2v2h-2zM444 354h2v2h-2zM446 358h2v2h-2zM540 358h2v2h-2zM448 360h2v2h-2zM452 366h2v2h-2zM454 368h2v2h-2zM530 374h2v2h-2zM462 378h2v2h-2zM528 378h2v2h-2zM464 382h2v2h-2zM526 382h2v2h-2zM524 388h2v2h-2zM522 396h2v2h-2z"/><path fill="#b9b9f0" d="M500 264h6v2h-6zM510 264h2v2h-2zM528 264h2v2h-2zM490 266h2v2h-2zM484 270h2v2h-2zM538 272h2v2h-2zM468 280h2v2h-2zM550 284h2v2h-2zM464 286h2v2h-2zM458 294h2v2h-2zM456 296h2v2h-2zM454 298h2v2h-2zM452 300h2v2h-2zM554 300h2v2h-2zM448 304h2v2h-2zM554 316h2v2h-2zM442 318h2v2h-2zM442 320h2v2h-2zM442 322h2v2h-2zM442 324h2v2h-2zM442 326h2v2h-2zM548 330h2v2h-2zM544 344h2v2h-2zM444 352h2v2h-2zM446 356h2v2h-2zM450 362h2v2h-2zM536 364h2v2h-2zM456 370h2v2h-2zM532 370h2v2h-2zM458 372h2v2h-2zM460 374h2v2h-2zM524 386h2v2h-2zM522 394h2v2h-2z"/><path fill="#bbbbf0" d="M512 264h2v2h-2zM480 272h2v2h-2zM472 276h2v2h-2zM544 276h2v2h-2zM470 278h2v2h-2zM546 278h2v2h-2zM460 292h2v2h-2zM552 292h2v2h-2zM450 302h2v2h-2zM554 302h2v2h-2zM554 304h2v2h-2zM446 308h2v2h-2zM444 312h2v2h-2zM554 314h2v2h-2zM552 320h2v2h-2zM546 336h2v2h-2zM444 348h2v2h-2zM444 350h2v2h-2zM542 350h2v2h-2zM448 358h2v2h-2zM452 364h2v2h-2zM464 380h2v2h-2zM526 380h2v2h-2zM466 384h2v2h-2zM524 384h2v2h-2zM522 392h2v2h-2z"/><path fill="#bebef0" d="M514 264h2v2h-2zM526 264h2v2h-2zM492 266h2v2h-2zM488 268h2v2h-2zM482 272h2v2h-2zM466 284h2v2h-2zM550 286h2v2h-2zM462 290h2v2h-2zM552 294h2v2h-2zM554 306h2v2h-2zM554 308h2v2h-2zM554 312h2v2h-2zM444 314h2v2h-2zM550 324h2v2h-2zM444 330h2v2h-2zM444 332h2v2h-2zM444 334h2v2h-2zM444 336h2v2h-2zM444 338h2v2h-2zM444 340h2v2h-2zM444 342h2v2h-2zM544 342h2v2h-2zM444 344h2v2h-2zM444 346h2v2h-2zM446 354h2v2h-2zM540 356h2v2h-2zM450 360h2v2h-2zM538 360h2v2h-2zM454 366h2v2h-2zM534 366h2v2h-2zM456 368h2v2h-2zM462 376h2v2h-2zM528 376h2v2h-2zM468 386h2v2h-2zM522 390h2v2h-2zM520 396h2v2h-2z"/><path fill="#c0c0f0" d="M494 266h2v2h-2zM530 266h2v2h-2zM532 268h2v2h-2zM486 270h2v2h-2zM534 270h2v2h-2zM476 274h2v2h-2zM540 274h2v2h-2zM548 282h2v2h-2zM458 296h2v2h-2zM456 298h2v2h-2zM454 300h2v2h-2zM452 302h2v2h-2zM448 306h2v2h-2zM446 310h2v2h-2zM554 310h2v2h-2zM444 316h2v2h-2zM444 326h2v2h-2zM444 328h2v2h-2zM548 328h2v2h-2zM546 334h2v2h-2zM542 348h2v2h-2zM446 352h2v2h-2zM448 356h2v2h-2zM452 362h2v2h-2zM458 370h2v2h-2zM530 372h2v2h-2zM464 378h2v2h-2zM466 382h2v2h-2zM524 382h2v2h-2zM470 388h2v2h-2zM522 388h2v2h-2z"/><path fill="#c3c3f0" d="M516 264h4v2h-4zM522 264h4v2h-4zM496 266h2v2h-2zM484 272h2v2h-2zM468 282h2v2h-2zM464 288h2v2h-2zM550 288h2v2h-2zM460 294h2v2h-2zM552 296h2v2h-2zM450 304h2v2h-2zM444 318h2v2h-2zM552 318h2v2h-2zM444 320h2v2h-2zM444 322h2v2h-2zM444 324h2v2h-2zM446 348h2v2h-2zM446 350h2v2h-2zM448 354h2v2h-2zM540 354h2v2h-2zM450 358h2v2h-2zM454 364h2v2h-2zM532 368h2v2h-2zM460 372h2v2h-2zM462 374h2v2h-2zM526 378h2v2h-2zM522 386h2v2h-2zM520 394h2v2h-2z"/><path fill="#c5c5f0" d="M520 264h2v2h-2zM498 266h2v2h-2zM490 268h2v2h-2zM536 272h2v2h-2zM478 274h2v2h-2zM462 292h2v2h-2zM552 298h2v2h-2zM448 308h2v2h-2zM446 312h2v2h-2zM446 330h2v2h-2zM446 332h2v2h-2zM546 332h2v2h-2zM446 334h2v2h-2zM446 336h2v2h-2zM446 338h2v2h-2zM446 340h2v2h-2zM544 340h2v2h-2zM446 342h2v2h-2zM446 344h2v2h-2zM446 346h2v2h-2zM542 346h2v2h-2zM448 352h2v2h-2zM452 360h2v2h-2zM536 362h2v2h-2zM456 366h2v2h-2zM458 368h2v2h-2zM528 374h2v2h-2zM468 384h2v2h-2zM522 384h2v2h-2zM520 392h2v2h-2zM518 396h2v2h-2z"/><path fill="#c8c8f0" d="M500 266h2v2h-2zM492 268h2v2h-2zM488 270h2v2h-2zM486 272h2v2h-2zM480 274h2v2h-2zM474 276h2v2h-2zM542 276h2v2h-2zM470 280h2v2h-2zM546 280h2v2h-2zM548 284h2v2h-2zM466 286h2v2h-2zM550 290h2v2h-2zM460 296h2v2h-2zM458 298h2v2h-2zM456 300h2v2h-2zM552 300h2v2h-2zM454 302h2v2h-2zM452 304h2v2h-2zM450 306h2v2h-2zM446 314h2v2h-2zM550 322h2v2h-2zM446 326h2v2h-2zM548 326h2v2h-2zM446 328h2v2h-2zM448 350h2v2h-2zM450 356h2v2h-2zM538 358h2v2h-2zM454 362h2v2h-2zM460 370h2v2h-2zM464 376h2v2h-2zM466 380h2v2h-2zM524 380h2v2h-2zM470 386h2v2h-2zM474 390h2v2h-2zM520 390h2v2h-2zM482 394h2v2h-2z"/><path fill="#cacaf0" d="M502 266h2v2h-2zM482 274h4v2h-4zM538 274h2v2h-2zM472 278h2v2h-2zM544 278h2v2h-2zM464 290h2v2h-2zM550 292h2v2h-2zM552 302h2v2h-2zM448 310h2v2h-2zM446 316h2v2h-2zM552 316h2v2h-2zM446 324h2v2h-2zM546 330h2v2h-2zM544 338h2v2h-2zM542 344h2v2h-2zM448 348h2v2h-2zM540 352h2v2h-2zM450 354h2v2h-2zM452 358h2v2h-2zM456 364h2v2h-2zM534 364h2v2h-2zM530 370h2v2h-2zM462 372h2v2h-2zM526 376h2v2h-2zM522 382h2v2h-2zM472 388h2v2h-2zM520 388h2v2h-2zM478 392h2v2h-2zM484 394h2v2h-2zM518 394h2v2h-2zM490 396h2v2h-2z"/><path fill="#cdcdf0" d="M504 266h2v2h-2zM528 266h2v2h-2zM494 268h2v2h-2zM490 270h2v2h-2zM532 270h2v2h-2zM534 272h2v2h-2zM468 284h2v2h-2zM462 294h2v2h-2zM550 294h2v2h-2zM458 300h2v2h-2zM456 302h2v2h-2zM552 304h2v2h-2zM552 306h2v2h-2zM450 308h2v2h-2zM448 312h2v2h-2zM446 318h2v2h-2zM446 320h2v2h-2zM446 322h2v2h-2zM448 330h2v2h-2zM448 332h2v2h-2zM448 334h2v2h-2zM448 336h2v2h-2zM448 338h2v2h-2zM448 340h2v2h-2zM448 342h2v2h-2zM448 344h2v2h-2zM448 346h2v2h-2zM450 352h2v2h-2zM452 356h2v2h-2zM454 360h2v2h-2zM456 362h2v2h-2zM458 366h2v2h-2zM466 378h2v2h-2zM468 382h2v2h-2zM520 386h2v2h-2zM518 392h2v2h-2zM486 394h2v2h-2zM516 396h2v2h-2z"/><path fill="#cfcff0" d="M506 266h2v2h-2zM496 268h2v2h-2zM530 268h2v2h-2zM488 272h2v2h-2zM486 274h2v2h-2zM476 276h2v2h-2zM548 286h2v2h-2zM466 288h2v2h-2zM460 298h2v2h-2zM454 304h2v2h-2zM452 306h2v2h-2zM552 308h2v2h-2zM552 312h2v2h-2zM552 314h2v2h-2zM550 320h2v2h-2zM448 328h2v2h-2zM544 336h2v2h-2zM450 350h2v2h-2zM540 350h2v2h-2zM452 354h2v2h-2zM454 358h2v2h-2zM532 366h2v2h-2zM460 368h2v2h-2zM528 372h2v2h-2zM464 374h2v2h-2zM524 378h2v2h-2zM470 384h2v2h-2zM520 384h2v2h-2zM476 390h2v2h-2zM518 390h2v2h-2zM480 392h2v2h-2zM488 394h2v2h-2zM492 396h2v2h-2z"/><path fill="#d2d2f0" d="M508 266h2v2h-2zM526 266h2v2h-2zM498 268h2v2h-2zM484 276h2v2h-2zM540 276h2v2h-2zM470 282h2v2h-2zM546 282h2v2h-2zM464 292h2v2h-2zM462 296h2v2h-2zM550 296h2v2h-2zM450 310h2v2h-2zM552 310h2v2h-2zM448 314h2v2h-2zM548 324h2v2h-2zM448 326h2v2h-2zM546 328h2v2h-2zM450 334h2v2h-2zM450 336h2v2h-2zM542 342h2v2h-2zM450 346h2v2h-2zM450 348h2v2h-2zM452 352h2v2h-2zM454 356h2v2h-2zM538 356h2v2h-2zM456 360h2v2h-2zM536 360h2v2h-2zM458 364h2v2h-2zM462 370h2v2h-2zM468 380h2v2h-2zM522 380h2v2h-2zM472 386h2v2h-2zM474 388h2v2h-2zM518 388h2v2h-2zM482 392h2v2h-2zM490 394h2v2h-2zM516 394h2v2h-2zM512 398h2v2h-2z"/><path fill="#d4d4f0" d="M510 266h4v2h-4zM524 266h2v2h-2zM492 270h2v2h-2zM488 274h2v2h-2zM536 274h2v2h-2zM478 276h6v2h-6zM486 276h2v2h-2zM468 286h2v2h-2zM548 288h2v2h-2zM460 300h2v2h-2zM458 302h2v2h-2zM456 304h2v2h-2zM454 306h2v2h-2zM452 308h2v2h-2zM448 316h2v2h-2zM448 322h2v2h-2zM448 324h2v2h-2zM450 330h2v2h-2zM450 332h2v2h-2zM544 334h2v2h-2zM450 338h2v2h-2zM450 340h2v2h-2zM450 342h2v2h-2zM450 344h2v2h-2zM540 348h2v2h-2zM452 350h2v2h-2zM458 362h2v2h-2zM460 366h2v2h-2zM530 368h2v2h-2zM464 372h2v2h-2zM526 374h2v2h-2zM466 376h2v2h-2zM520 382h2v2h-2zM518 386h2v2h-2zM478 390h2v2h-2zM484 392h2v2h-2zM494 396h2v2h-2zM514 396h2v2h-2z"/><path fill="#d7d7f0" d="M514 266h10v2h-10zM530 270h2v2h-2zM490 272h2v2h-2zM532 272h2v2h-2zM474 278h2v2h-2zM472 280h2v2h-2zM544 280h2v2h-2zM466 290h2v2h-2zM548 290h2v2h-2zM464 294h2v2h-2zM462 298h2v2h-2zM550 298h2v2h-2zM450 312h2v2h-2zM448 318h2v2h-2zM550 318h2v2h-2zM448 320h2v2h-2zM450 328h2v2h-2zM452 348h2v2h-2zM454 354h2v2h-2zM538 354h2v2h-2zM456 358h2v2h-2zM534 362h2v2h-2zM462 368h2v2h-2zM524 376h2v2h-2zM470 382h2v2h-2zM486 392h2v2h-2zM516 392h2v2h-2zM492 394h2v2h-2zM510 398h2v2h-2z"/><path fill="#d9d9f0" d="M500 268h2v2h-2zM494 270h2v2h-2zM486 278h2v2h-2zM542 278h2v2h-2zM546 284h2v2h-2zM550 300h2v2h-2zM460 302h2v2h-2zM458 304h2v2h-2zM456 306h2v2h-2zM454 308h2v2h-2zM452 310h2v2h-2zM450 314h2v2h-2zM450 326h2v2h-2zM452 332h2v2h-2zM544 332h2v2h-2zM452 334h2v2h-2zM452 336h2v2h-2zM452 338h2v2h-2zM452 340h2v2h-2zM542 340h2v2h-2zM452 342h2v2h-2zM452 344h2v2h-2zM452 346h2v2h-2zM540 346h2v2h-2zM454 350h2v2h-2zM454 352h2v2h-2zM456 356h2v2h-2zM458 360h2v2h-2zM460 364h2v2h-2zM532 364h2v2h-2zM528 370h2v2h-2zM466 374h2v2h-2zM468 378h2v2h-2zM522 378h2v2h-2zM472 384h2v2h-2zM518 384h2v2h-2zM474 386h2v2h-2zM476 388h2v2h-2zM480 390h2v2h-2zM516 390h2v2h-2zM488 392h2v2h-2zM514 394h2v2h-2zM496 396h2v2h-2zM512 396h2v2h-2zM508 398h2v2h-2z"/><path fill="#dcdcf0" d="M528 268h2v2h-2zM534 274h2v2h-2zM488 276h2v2h-2zM538 276h2v2h-2zM484 278h2v2h-2zM470 284h2v2h-2zM468 288h2v2h-2zM466 292h2v2h-2zM548 292h2v2h-2zM464 296h2v2h-2zM462 300h2v2h-2zM550 302h2v2h-2zM450 316h2v2h-2zM548 322h2v2h-2zM450 324h2v2h-2zM546 326h2v2h-2zM452 330h2v2h-2zM454 348h2v2h-2zM538 352h2v2h-2zM456 354h2v2h-2zM458 358h2v2h-2zM536 358h2v2h-2zM460 362h2v2h-2zM462 366h2v2h-2zM464 370h2v2h-2zM520 380h2v2h-2zM516 388h2v2h-2zM482 390h2v2h-2zM490 392h2v2h-2zM514 392h2v2h-2zM494 394h2v2h-2zM510 396h2v2h-2zM502 398h6v2h-6z"/><path fill="#dedef0" d="M502 268h2v2h-2zM496 270h2v2h-2zM492 272h2v2h-2zM530 272h2v2h-2zM490 274h2v2h-2zM476 278h2v2h-2zM482 278h2v2h-2zM548 294h2v2h-2zM460 304h2v2h-2zM550 304h2v2h-2zM458 306h2v2h-2zM454 310h2v2h-2zM452 312h2v2h-2zM550 316h2v2h-2zM450 318h2v2h-2zM450 320h2v2h-2zM450 322h2v2h-2zM452 328h2v2h-2zM544 330h2v2h-2zM454 336h2v2h-2zM454 338h2v2h-2zM454 340h2v2h-2zM454 342h2v2h-2zM454 344h2v2h-2zM454 346h2v2h-2zM456 350h2v2h-2zM456 352h2v2h-2zM458 356h2v2h-2zM460 360h2v2h-2zM530 366h2v2h-2zM526 372h2v2h-2zM468 376h2v2h-2zM470 380h2v2h-2zM518 382h2v2h-2zM516 386h2v2h-2zM478 388h2v2h-2zM514 390h2v2h-2zM512 394h2v2h-2zM498 396h2v2h-2z"/><path fill="#e1e1f0" d="M526 268h2v2h-2zM528 270h2v2h-2zM480 278h2v2h-2zM488 278h2v2h-2zM472 282h2v2h-2zM546 286h2v2h-2zM466 294h2v2h-2zM464 298h2v2h-2zM462 302h2v2h-2zM550 306h2v2h-2zM456 308h2v2h-2zM452 314h2v2h-2zM452 326h2v2h-2zM454 330h2v2h-2zM454 332h2v2h-2zM454 334h2v2h-2zM542 338h2v2h-2zM540 344h2v2h-2zM456 346h2v2h-2zM456 348h2v2h-2zM538 350h2v2h-2zM458 354h2v2h-2zM462 364h2v2h-2zM464 368h2v2h-2zM466 372h2v2h-2zM524 374h2v2h-2zM472 382h2v2h-2zM516 384h2v2h-2zM476 386h2v2h-2zM514 388h2v2h-2zM484 390h2v2h-2zM492 392h2v2h-2zM512 392h2v2h-2zM496 394h2v2h-2zM510 394h2v2h-2zM500 396h2v2h-2zM508 396h2v2h-2z"/><path fill="#e3e3f0" d="M524 268h2v2h-2zM498 270h2v2h-2zM532 274h2v2h-2zM536 276h2v2h-2zM478 278h2v2h-2zM540 278h2v2h-2zM474 280h2v2h-2zM486 280h2v2h-2zM544 282h2v2h-2zM470 286h2v2h-2zM468 290h2v2h-2zM548 296h2v2h-2zM550 308h2v2h-2zM456 310h2v2h-2zM550 310h2v2h-2zM454 312h2v2h-2zM550 312h2v2h-2zM550 314h2v2h-2zM452 316h2v2h-2zM548 320h2v2h-2zM452 322h2v2h-2zM452 324h2v2h-2zM454 328h2v2h-2zM456 340h2v2h-2zM456 342h2v2h-2zM456 344h2v2h-2zM458 350h2v2h-2zM458 352h2v2h-2zM460 356h2v2h-2zM536 356h2v2h-2zM460 358h2v2h-2zM534 360h2v2h-2zM462 362h2v2h-2zM464 366h2v2h-2zM528 368h2v2h-2zM522 376h2v2h-2zM470 378h2v2h-2zM474 384h2v2h-2zM480 388h2v2h-2zM486 390h4v2h-4zM502 396h6v2h-6z"/><path fill="#e6e6f0" d="M504 268h2v2h-2zM522 268h2v2h-2zM494 272h2v2h-2zM528 272h2v2h-2zM490 276h2v2h-2zM484 280h2v2h-2zM546 288h2v2h-2zM464 300h2v2h-2zM462 304h2v2h-2zM460 306h2v2h-2zM458 308h2v2h-2zM454 314h2v2h-2zM452 318h2v2h-2zM452 320h2v2h-2zM546 324h2v2h-2zM454 326h2v2h-2zM544 328h2v2h-2zM456 334h2v2h-2zM456 336h2v2h-2zM542 336h2v2h-2zM456 338h2v2h-2zM458 346h2v2h-2zM458 348h2v2h-2zM460 354h2v2h-2zM462 360h2v2h-2zM532 362h2v2h-2zM466 370h2v2h-2zM468 374h2v2h-2zM520 378h2v2h-2zM518 380h2v2h-2zM514 386h2v2h-2zM512 390h2v2h-2zM494 392h2v2h-2zM510 392h2v2h-2zM498 394h2v2h-2zM508 394h2v2h-2z"/><path fill="#e8e8f0" d="M520 268h2v2h-2zM526 270h2v2h-2zM492 274h2v2h-2zM530 274h2v2h-2zM482 280h2v2h-2zM542 280h2v2h-2zM472 284h2v2h-2zM470 288h2v2h-2zM468 292h2v2h-2zM466 296h2v2h-2zM548 298h2v2h-2zM456 312h2v2h-2zM454 324h2v2h-2zM456 330h2v2h-2zM456 332h2v2h-2zM458 342h2v2h-2zM540 342h2v2h-2zM458 344h2v2h-2zM538 348h2v2h-2zM460 350h2v2h-2zM460 352h2v2h-2zM462 358h2v2h-2zM464 364h2v2h-2zM530 364h2v2h-2zM526 370h2v2h-2zM470 376h2v2h-2zM472 380h2v2h-2zM516 382h2v2h-2zM514 384h2v2h-2zM478 386h2v2h-2zM482 388h2v2h-2zM512 388h2v2h-2zM490 390h2v2h-2zM500 394h2v2h-2zM506 394h2v2h-2z"/><path fill="#ebebf0" d="M506 268h2v2h-2zM518 268h2v2h-2zM500 270h2v2h-2zM528 274h2v2h-2zM534 276h2v2h-2zM488 280h2v2h-2zM546 290h2v2h-2zM548 300h2v2h-2zM464 302h2v2h-2zM460 308h2v2h-2zM458 310h2v2h-2zM454 316h2v2h-2zM454 318h2v2h-2zM454 320h2v2h-2zM454 322h2v2h-2zM456 328h2v2h-2zM542 334h2v2h-2zM458 338h2v2h-2zM458 340h2v2h-2zM460 346h2v2h-2zM460 348h2v2h-2zM536 354h2v2h-2zM462 356h2v2h-2zM464 362h2v2h-2zM466 368h2v2h-2zM468 372h2v2h-2zM524 372h2v2h-2zM474 382h2v2h-2zM476 384h2v2h-2zM512 386h2v2h-2zM484 388h2v2h-2zM492 390h2v2h-2zM510 390h2v2h-2zM496 392h2v2h-2zM508 392h2v2h-2zM502 394h4v2h-4z"/><path fill="#ededf0" d="M514 268h4v2h-4zM524 270h2v2h-2zM496 272h2v2h-2zM526 272h2v2h-2zM538 278h2v2h-2zM476 280h2v2h-2zM480 280h2v2h-2zM474 282h2v2h-2zM544 284h2v2h-2zM470 290h2v2h-2zM468 294h2v2h-2zM466 298h2v2h-2zM462 306h2v2h-2zM458 312h2v2h-2zM456 314h2v2h-2zM548 318h2v2h-2zM546 322h2v2h-2zM456 326h2v2h-2zM458 332h2v2h-2zM542 332h2v2h-2zM458 334h2v2h-2zM458 336h2v2h-2zM460 344h2v2h-2zM538 346h2v2h-2zM462 352h2v2h-2zM462 354h2v2h-2zM534 358h2v2h-2zM464 360h2v2h-2zM466 366h2v2h-2zM528 366h2v2h-2zM522 374h2v2h-2zM472 378h2v2h-2zM480 386h2v2h-2zM486 388h2v2h-2zM510 388h2v2h-2zM498 392h2v2h-2zM506 392h2v2h-2z"/><path fill="#f0f0f0" d="M508 268h6v2h-6zM490 278h2v2h-2zM478 280h2v2h-2zM472 286h2v2h-2zM546 292h2v2h-2zM548 302h2v2h-2zM464 304h2v2h-2zM460 310h2v2h-2zM456 316h2v2h-2zM456 318h2v2h-2zM456 320h2v2h-2zM456 322h2v2h-2zM456 324h2v2h-2zM544 326h2v2h-2zM458 330h2v2h-2zM460 340h2v2h-2zM540 340h2v2h-2zM460 342h2v2h-2zM462 348h2v2h-2zM462 350h2v2h-2zM536 352h2v2h-2zM464 356h2v2h-2zM464 358h2v2h-2zM466 364h2v2h-2zM468 370h2v2h-2zM470 374h2v2h-2zM520 376h2v2h-2zM518 378h2v2h-2zM474 380h2v2h-2zM516 380h2v2h-2zM514 382h2v2h-2zM512 384h2v2h-2zM510 386h2v2h-2zM488 388h2v2h-2zM494 390h2v2h-2zM508 390h2v2h-2zM500 392h2v2h-2zM504 392h2v2h-2z"/><path fill="#f0eded" d="M532 276h2v2h-2zM484 282h2v2h-2zM542 282h2v2h-2zM546 294h2v2h-2zM468 296h2v2h-2zM466 300h2v2h-2zM548 304h2v2h-2zM462 308h2v2h-2zM458 314h2v2h-2zM548 316h2v2h-2zM458 326h2v2h-2zM458 328h2v2h-2zM542 330h2v2h-2zM460 338h2v2h-2zM462 346h2v2h-2zM464 354h2v2h-2zM532 360h2v2h-2zM466 362h2v2h-2zM468 368h2v2h-2zM526 368h2v2h-2zM472 376h2v2h-2zM476 382h2v2h-2zM478 384h2v2h-2zM482 386h2v2h-2zM490 388h2v2h-2zM508 388h2v2h-2zM496 390h2v2h-2zM506 390h2v2h-2zM502 392h2v2h-2z"/><path fill="#f0ebeb" d="M502 270h2v2h-2zM522 270h2v2h-2zM494 274h2v2h-2zM526 274h2v2h-2zM492 276h2v2h-2zM536 278h2v2h-2zM540 280h2v2h-2zM476 282h2v2h-2zM482 282h2v2h-2zM486 282h2v2h-2zM474 284h2v2h-2zM544 286h2v2h-2zM472 288h2v2h-2zM470 292h2v2h-2zM548 306h2v2h-2zM460 312h2v2h-2zM458 316h2v2h-2zM458 318h2v2h-2zM458 324h2v2h-2zM460 332h2v2h-2zM460 334h2v2h-2zM460 336h2v2h-2zM462 344h2v2h-2zM538 344h2v2h-2zM536 350h2v2h-2zM464 352h2v2h-2zM534 356h2v2h-2zM466 358h2v2h-2zM466 360h2v2h-2zM530 362h2v2h-2zM524 370h2v2h-2zM470 372h2v2h-2zM512 382h2v2h-2zM510 384h2v2h-2zM508 386h2v2h-2zM498 390h2v2h-2zM504 390h2v2h-2z"/><path fill="#f0e8e8" d="M498 272h2v2h-2zM524 272h2v2h-2zM530 276h2v2h-2zM480 282h2v2h-2zM546 296h2v2h-2zM466 302h2v2h-2zM464 306h2v2h-2zM548 308h2v2h-2zM462 310h2v2h-2zM460 314h2v2h-2zM548 314h2v2h-2zM458 320h2v2h-2zM546 320h2v2h-2zM458 322h2v2h-2zM544 324h2v2h-2zM460 328h2v2h-2zM460 330h2v2h-2zM540 338h2v2h-2zM462 342h2v2h-2zM464 348h2v2h-2zM464 350h2v2h-2zM466 356h2v2h-2zM468 364h2v2h-2zM528 364h2v2h-2zM468 366h2v2h-2zM472 374h2v2h-2zM474 378h2v2h-2zM516 378h2v2h-2zM514 380h2v2h-2zM480 384h2v2h-2zM484 386h2v2h-2zM492 388h2v2h-2zM506 388h2v2h-2zM500 390h4v2h-4z"/><path fill="#f0e6e6" d="M520 270h2v2h-2zM534 278h2v2h-2zM478 282h2v2h-2zM474 286h2v2h-2zM544 288h2v2h-2zM472 290h2v2h-2zM470 294h2v2h-2zM468 298h2v2h-2zM548 310h2v2h-2zM548 312h2v2h-2zM460 316h2v2h-2zM460 326h2v2h-2zM542 328h2v2h-2zM462 340h2v2h-2zM464 346h2v2h-2zM536 348h2v2h-2zM466 354h2v2h-2zM534 354h2v2h-2zM468 362h2v2h-2zM470 370h2v2h-2zM522 372h2v2h-2zM520 374h2v2h-2zM518 376h2v2h-2zM476 380h2v2h-2zM478 382h2v2h-2zM510 382h2v2h-2zM508 384h2v2h-2zM486 386h2v2h-2zM506 386h2v2h-2zM494 388h2v2h-2zM504 388h2v2h-2z"/><path fill="#f0e3e3" d="M528 276h2v2h-2zM490 280h2v2h-2zM538 280h2v2h-2zM488 282h2v2h-2zM476 284h2v2h-2zM542 284h2v2h-2zM546 298h2v2h-2zM466 304h2v2h-2zM464 308h2v2h-2zM462 312h2v2h-2zM460 318h2v2h-2zM460 320h2v2h-2zM460 322h2v2h-2zM460 324h2v2h-2zM462 334h2v2h-2zM462 336h2v2h-2zM540 336h2v2h-2zM462 338h2v2h-2zM464 344h2v2h-2zM466 352h2v2h-2zM468 358h2v2h-2zM532 358h2v2h-2zM468 360h2v2h-2zM526 366h2v2h-2zM470 368h2v2h-2zM472 372h2v2h-2zM474 376h2v2h-2zM512 380h2v2h-2zM482 384h2v2h-2zM488 386h2v2h-2zM496 388h2v2h-2zM502 388h2v2h-2z"/><path fill="#f0e1e1" d="M504 270h2v2h-2zM518 270h2v2h-2zM496 274h2v2h-2zM474 288h2v2h-2zM544 290h2v2h-2zM472 292h2v2h-2zM470 296h2v2h-2zM468 300h2v2h-2zM546 300h2v2h-2zM462 314h2v2h-2zM462 330h2v2h-2zM462 332h2v2h-2zM540 334h2v2h-2zM464 342h2v2h-2zM538 342h2v2h-2zM466 350h2v2h-2zM534 352h2v2h-2zM468 356h2v2h-2zM530 360h2v2h-2zM470 366h2v2h-2zM524 368h2v2h-2zM476 378h2v2h-2zM514 378h2v2h-2zM508 382h2v2h-2zM506 384h2v2h-2zM490 386h2v2h-2zM504 386h2v2h-2zM498 388h4v2h-4z"/><path fill="#f0dede" d="M500 272h2v2h-2zM522 272h2v2h-2zM492 278h2v2h-2zM532 278h2v2h-2zM540 282h2v2h-2zM478 284h2v2h-2zM482 284h2v2h-2zM464 310h2v2h-2zM462 316h2v2h-2zM546 318h2v2h-2zM544 322h2v2h-2zM462 326h2v2h-2zM542 326h2v2h-2zM462 328h2v2h-2zM540 332h2v2h-2zM536 346h2v2h-2zM466 348h2v2h-2zM468 354h2v2h-2zM470 362h2v2h-2zM528 362h2v2h-2zM470 364h2v2h-2zM472 370h2v2h-2zM474 374h2v2h-2zM516 376h2v2h-2zM478 380h2v2h-2zM510 380h2v2h-2zM480 382h2v2h-2zM484 384h2v2h-2zM492 386h2v2h-2z"/><path fill="#f0dcdc" d="M516 270h2v2h-2zM524 274h2v2h-2zM494 276h2v2h-2zM536 280h2v2h-2zM480 284h2v2h-2zM484 284h2v2h-2zM476 286h2v2h-2zM544 292h2v2h-2zM472 294h2v2h-2zM470 298h2v2h-2zM546 302h2v2h-2zM466 306h2v2h-2zM462 318h2v2h-2zM462 320h2v2h-2zM462 322h2v2h-2zM462 324h2v2h-2zM464 340h2v2h-2zM466 346h2v2h-2zM534 350h2v2h-2zM532 356h2v2h-2zM470 360h2v2h-2zM472 368h2v2h-2zM522 370h2v2h-2zM520 372h2v2h-2zM518 374h2v2h-2zM476 376h2v2h-2zM486 384h2v2h-2zM504 384h2v2h-2zM494 386h4v2h-4zM500 386h4v2h-4z"/><path fill="#f0d9d9" d="M506 270h2v2h-2zM514 270h2v2h-2zM526 276h2v2h-2zM530 278h2v2h-2zM542 286h2v2h-2zM474 290h2v2h-2zM468 302h2v2h-2zM546 304h2v2h-2zM464 312h2v2h-2zM540 330h2v2h-2zM464 336h2v2h-2zM464 338h2v2h-2zM468 352h2v2h-2zM470 356h2v2h-2zM470 358h2v2h-2zM526 364h2v2h-2zM472 366h2v2h-2zM474 372h2v2h-2zM478 378h2v2h-2zM512 378h2v2h-2zM480 380h2v2h-2zM508 380h2v2h-2zM482 382h2v2h-2zM506 382h2v2h-2zM488 384h2v2h-2zM498 386h2v2h-2z"/><path fill="#f0d7d7" d="M508 270h2v2h-2zM512 270h2v2h-2zM534 280h2v2h-2zM538 282h2v2h-2zM486 284h2v2h-2zM478 286h2v2h-2zM476 288h2v2h-2zM544 294h2v2h-2zM472 296h2v2h-2zM546 306h2v2h-2zM466 308h2v2h-2zM464 314h2v2h-2zM546 316h2v2h-2zM464 330h2v2h-2zM464 332h2v2h-2zM464 334h2v2h-2zM538 340h2v2h-2zM466 344h2v2h-2zM468 350h2v2h-2zM532 354h2v2h-2zM530 358h2v2h-2zM472 364h2v2h-2zM524 366h2v2h-2zM474 370h2v2h-2zM476 374h2v2h-2zM514 376h2v2h-2zM490 384h2v2h-2zM502 384h2v2h-2z"/><path fill="#f0d4d4" d="M510 270h2v2h-2zM520 272h2v2h-2zM498 274h2v2h-2zM540 284h2v2h-2zM474 292h2v2h-2zM544 296h2v2h-2zM468 304h2v2h-2zM546 308h2v2h-2zM546 314h2v2h-2zM464 316h2v2h-2zM544 320h2v2h-2zM542 324h2v2h-2zM464 326h2v2h-2zM464 328h2v2h-2zM540 328h2v2h-2zM466 342h2v2h-2zM536 344h2v2h-2zM468 348h2v2h-2zM534 348h2v2h-2zM470 354h2v2h-2zM472 360h2v2h-2zM528 360h2v2h-2zM472 362h2v2h-2zM474 368h2v2h-2zM476 372h2v2h-2zM516 374h2v2h-2zM478 376h2v2h-2zM480 378h2v2h-2zM510 378h2v2h-2zM484 382h2v2h-2zM504 382h2v2h-2zM492 384h4v2h-4zM500 384h2v2h-2z"/><path fill="#f0d2d2" d="M502 272h2v2h-2zM522 274h2v2h-2zM528 278h2v2h-2zM492 280h2v2h-2zM532 280h2v2h-2zM490 282h2v2h-2zM480 286h2v2h-2zM542 288h2v2h-2zM474 294h2v2h-2zM470 300h2v2h-2zM466 310h2v2h-2zM546 310h2v2h-2zM546 312h2v2h-2zM464 318h2v2h-2zM464 320h2v2h-2zM464 322h2v2h-2zM464 324h2v2h-2zM538 338h2v2h-2zM470 352h2v2h-2zM532 352h2v2h-2zM472 358h2v2h-2zM526 362h2v2h-2zM474 366h2v2h-2zM522 368h2v2h-2zM520 370h2v2h-2zM518 372h2v2h-2zM478 374h2v2h-2zM482 380h2v2h-2zM506 380h2v2h-2zM486 382h4v2h-4zM502 382h2v2h-2zM496 384h4v2h-4z"/><path fill="#f0cfcf" d="M524 276h2v2h-2zM536 282h2v2h-2zM488 284h2v2h-2zM482 286h2v2h-2zM478 288h2v2h-2zM476 290h2v2h-2zM472 298h2v2h-2zM544 298h2v2h-2zM466 340h2v2h-2zM468 346h2v2h-2zM472 356h2v2h-2zM530 356h2v2h-2zM474 364h2v2h-2zM476 370h2v2h-2zM480 376h2v2h-2zM512 376h2v2h-2zM482 378h2v2h-2zM508 378h2v2h-2zM484 380h2v2h-2zM504 380h2v2h-2zM490 382h2v2h-2z"/><path fill="#f0cdcd" d="M518 272h2v2h-2zM496 276h2v2h-2zM494 278h2v2h-2zM530 280h2v2h-2zM542 290h2v2h-2zM474 296h2v2h-2zM544 300h2v2h-2zM468 306h2v2h-2zM466 312h2v2h-2zM542 322h2v2h-2zM540 326h2v2h-2zM538 336h2v2h-2zM466 338h2v2h-2zM534 346h2v2h-2zM470 350h2v2h-2zM532 350h2v2h-2zM472 354h2v2h-2zM528 358h2v2h-2zM474 362h2v2h-2zM524 364h2v2h-2zM476 368h2v2h-2zM478 372h2v2h-2zM480 374h2v2h-2zM486 380h2v2h-2zM492 382h2v2h-2zM500 382h2v2h-2z"/><path fill="#f0caca" d="M526 278h2v2h-2zM534 282h2v2h-2zM538 284h2v2h-2zM484 286h2v2h-2zM540 286h2v2h-2zM476 292h2v2h-2zM470 302h2v2h-2zM544 302h2v2h-2zM466 314h2v2h-2zM544 318h2v2h-2zM466 328h2v2h-2zM466 330h2v2h-2zM466 332h2v2h-2zM538 332h2v2h-2zM466 334h2v2h-2zM538 334h2v2h-2zM466 336h2v2h-2zM536 342h2v2h-2zM468 344h2v2h-2zM530 354h2v2h-2zM474 360h2v2h-2zM476 366h2v2h-2zM522 366h2v2h-2zM478 370h2v2h-2zM514 374h2v2h-2zM482 376h2v2h-2zM510 376h2v2h-2zM484 378h2v2h-2zM506 378h2v2h-2zM488 380h2v2h-2zM502 380h2v2h-2zM494 382h6v2h-6z"/><path fill="#f0c8c8" d="M516 272h2v2h-2zM528 280h2v2h-2zM480 288h2v2h-2zM478 290h2v2h-2zM476 294h2v2h-2zM466 316h2v2h-2zM466 318h2v2h-2zM466 322h2v2h-2zM466 324h2v2h-2zM466 326h2v2h-2zM538 330h2v2h-2zM470 348h2v2h-2zM532 348h2v2h-2zM472 352h2v2h-2zM474 358h2v2h-2zM526 360h2v2h-2zM476 364h2v2h-2zM478 368h2v2h-2zM520 368h2v2h-2zM518 370h2v2h-2zM480 372h2v2h-2zM516 372h2v2h-2zM482 374h2v2h-2zM486 378h2v2h-2zM504 378h2v2h-2zM490 380h4v2h-4zM500 380h2v2h-2z"/><path fill="#f0c5c5" d="M504 272h2v2h-2zM500 274h2v2h-2zM520 274h2v2h-2zM532 282h2v2h-2zM486 286h2v2h-2zM542 292h2v2h-2zM474 298h2v2h-2zM472 300h2v2h-2zM544 304h2v2h-2zM468 308h2v2h-2zM544 316h2v2h-2zM466 320h2v2h-2zM540 324h2v2h-2zM468 342h2v2h-2zM534 344h2v2h-2zM530 352h2v2h-2zM474 356h2v2h-2zM528 356h2v2h-2zM476 362h2v2h-2zM524 362h2v2h-2zM478 366h2v2h-2zM480 370h2v2h-2zM482 372h2v2h-2zM512 374h2v2h-2zM484 376h2v2h-2zM508 376h2v2h-2zM488 378h2v2h-2zM494 380h6v2h-6z"/><path fill="#f0c3c3" d="M514 272h2v2h-2zM522 276h2v2h-2zM530 282h2v2h-2zM482 288h2v2h-2zM542 294h2v2h-2zM476 296h2v2h-2zM470 304h2v2h-2zM544 306h2v2h-2zM542 320h2v2h-2zM538 328h2v2h-2zM536 340h2v2h-2zM470 346h2v2h-2zM472 350h2v2h-2zM474 354h2v2h-2zM476 360h2v2h-2zM478 364h2v2h-2zM522 364h2v2h-2zM480 368h2v2h-2zM482 370h2v2h-2zM484 374h2v2h-2zM486 376h2v2h-2zM506 376h2v2h-2zM490 378h4v2h-4zM500 378h4v2h-4z"/><path fill="#f0c0c0" d="M524 278h2v2h-2zM526 280h2v2h-2zM492 282h2v2h-2zM528 282h2v2h-2zM490 284h2v2h-2zM536 284h2v2h-2zM540 288h2v2h-2zM478 292h2v2h-2zM544 308h2v2h-2zM468 310h2v2h-2zM544 314h2v2h-2zM468 340h2v2h-2zM532 346h2v2h-2zM530 350h2v2h-2zM528 354h2v2h-2zM476 358h2v2h-2zM526 358h2v2h-2zM480 366h2v2h-2zM482 368h2v2h-2zM484 372h2v2h-2zM514 372h2v2h-2zM486 374h2v2h-2zM510 374h2v2h-2zM488 376h4v2h-4zM504 376h2v2h-2zM494 378h6v2h-6z"/><path fill="#f0bebe" d="M506 272h2v2h-2zM512 272h2v2h-2zM498 276h2v2h-2zM494 280h2v2h-2zM538 286h2v2h-2zM480 290h2v2h-2zM542 296h2v2h-2zM544 310h2v2h-2zM468 312h2v2h-2zM544 312h2v2h-2zM468 326h2v2h-2zM538 326h2v2h-2zM468 328h2v2h-2zM468 330h2v2h-2zM468 332h2v2h-2zM468 334h2v2h-2zM468 336h2v2h-2zM468 338h2v2h-2zM470 344h2v2h-2zM472 348h2v2h-2zM530 348h2v2h-2zM474 352h2v2h-2zM476 356h2v2h-2zM524 360h2v2h-2zM478 362h2v2h-2zM480 364h2v2h-2zM520 366h2v2h-2zM518 368h2v2h-2zM484 370h2v2h-2zM516 370h2v2h-2zM486 372h2v2h-2zM488 374h4v2h-4zM492 376h4v2h-4zM500 376h4v2h-4z"/><path fill="#f0bbbb" d="M508 272h4v2h-4zM518 274h2v2h-2zM496 278h2v2h-2zM534 284h2v2h-2zM484 288h2v2h-2zM478 294h2v2h-2zM542 298h2v2h-2zM470 306h2v2h-2zM468 314h2v2h-2zM468 322h2v2h-2zM540 322h2v2h-2zM468 324h2v2h-2zM536 338h2v2h-2zM528 352h2v2h-2zM526 356h2v2h-2zM478 360h2v2h-2zM482 366h2v2h-2zM484 368h2v2h-2zM486 370h4v2h-4zM488 372h4v2h-4zM512 372h2v2h-2zM492 374h4v2h-4zM508 374h2v2h-2zM496 376h4v2h-4z"/><path fill="#f0b9b9" d="M532 284h2v2h-2zM488 286h2v2h-2zM540 290h2v2h-2zM476 298h2v2h-2zM474 300h2v2h-2zM542 300h2v2h-2zM472 302h2v2h-2zM468 316h2v2h-2zM468 318h2v2h-2zM542 318h2v2h-2zM468 320h2v2h-2zM536 330h2v2h-2zM536 332h2v2h-2zM536 334h2v2h-2zM536 336h2v2h-2zM534 342h2v2h-2zM532 344h2v2h-2zM472 346h2v2h-2zM474 350h2v2h-2zM476 354h2v2h-2zM478 358h2v2h-2zM480 362h2v2h-2zM522 362h2v2h-2zM482 364h2v2h-2zM484 366h2v2h-2zM486 368h4v2h-4zM490 370h2v2h-2zM492 372h4v2h-4zM496 374h6v2h-6zM504 374h4v2h-4z"/><path fill="#f0b6b6" d="M502 274h2v2h-2zM526 282h2v2h-2zM530 284h2v2h-2zM480 292h2v2h-2zM542 302h2v2h-2zM538 324h2v2h-2zM536 328h2v2h-2zM470 342h2v2h-2zM530 346h2v2h-2zM528 350h2v2h-2zM476 352h2v2h-2zM526 354h2v2h-2zM478 356h2v2h-2zM524 358h2v2h-2zM480 360h2v2h-2zM482 362h2v2h-2zM484 364h2v2h-2zM520 364h2v2h-2zM486 366h4v2h-4zM518 366h2v2h-2zM490 368h4v2h-4zM492 370h4v2h-4zM514 370h2v2h-2zM496 372h2v2h-2zM510 372h2v2h-2zM502 374h2v2h-2z"/><path fill="#f0b4b4" d="M516 274h2v2h-2zM520 276h2v2h-2zM522 278h2v2h-2zM524 280h2v2h-2zM536 286h2v2h-2zM482 290h2v2h-2zM478 296h2v2h-2zM542 304h2v2h-2zM470 308h2v2h-2zM474 348h2v2h-2zM528 348h2v2h-2zM522 360h2v2h-2zM486 364h4v2h-4zM490 366h4v2h-4zM494 368h2v2h-2zM516 368h2v2h-2zM496 370h2v2h-2zM498 372h4v2h-4z"/><path fill="#f0b1b1" d="M528 284h2v2h-2zM486 288h2v2h-2zM538 288h2v2h-2zM540 292h2v2h-2zM542 306h2v2h-2zM470 310h2v2h-2zM542 316h2v2h-2zM540 320h2v2h-2zM470 326h2v2h-2zM536 326h2v2h-2zM470 328h2v2h-2zM470 330h2v2h-2zM470 332h2v2h-2zM470 340h2v2h-2zM472 344h2v2h-2zM476 350h2v2h-2zM526 352h2v2h-2zM478 354h2v2h-2zM524 356h2v2h-2zM480 358h2v2h-2zM482 360h2v2h-2zM484 362h8v2h-8zM490 364h6v2h-6zM494 366h2v2h-2zM496 368h2v2h-2zM498 370h2v2h-2zM512 370h2v2h-2zM502 372h8v2h-8z"/><path fill="#f0afaf" d="M500 276h2v2h-2zM534 286h2v2h-2zM540 294h2v2h-2zM472 304h2v2h-2zM542 308h2v2h-2zM470 322h2v2h-2zM538 322h2v2h-2zM470 324h2v2h-2zM470 334h2v2h-2zM470 336h2v2h-2zM470 338h2v2h-2zM534 340h2v2h-2zM530 344h2v2h-2zM474 346h2v2h-2zM528 346h2v2h-2zM478 352h2v2h-2zM480 356h2v2h-2zM484 360h2v2h-2zM492 360h2v2h-2zM492 362h4v2h-4zM520 362h2v2h-2zM496 364h2v2h-2zM496 366h2v2h-2zM498 368h2v2h-2zM514 368h2v2h-2zM500 370h2v2h-2z"/><path fill="#f0acac" d="M514 274h2v2h-2zM494 282h2v2h-2zM492 284h2v2h-2zM490 286h2v2h-2zM480 294h2v2h-2zM540 296h2v2h-2zM542 310h2v2h-2zM470 312h2v2h-2zM542 312h2v2h-2zM470 314h2v2h-2zM542 314h2v2h-2zM470 318h2v2h-2zM470 320h2v2h-2zM536 324h2v2h-2zM532 342h2v2h-2zM476 348h2v2h-2zM526 350h2v2h-2zM524 354h2v2h-2zM482 358h2v2h-2zM494 358h2v2h-2zM522 358h2v2h-2zM486 360h6v2h-6zM494 360h2v2h-2zM496 362h2v2h-2zM518 364h2v2h-2zM498 366h2v2h-2zM516 366h2v2h-2zM500 368h2v2h-2zM502 370h2v2h-2zM510 370h2v2h-2z"/><path fill="#f0aaaa" d="M504 274h2v2h-2zM518 276h2v2h-2zM498 278h2v2h-2zM496 280h2v2h-2zM532 286h2v2h-2zM484 290h2v2h-2zM482 292h2v2h-2zM478 298h2v2h-2zM540 298h2v2h-2zM476 300h2v2h-2zM474 302h2v2h-2zM470 316h2v2h-2zM534 328h2v2h-2zM534 330h2v2h-2zM534 332h2v2h-2zM472 342h2v2h-2zM526 348h2v2h-2zM478 350h2v2h-2zM480 354h2v2h-2zM482 356h2v2h-2zM484 358h10v2h-10zM496 358h2v2h-2zM496 360h2v2h-2zM520 360h2v2h-2zM498 364h2v2h-2zM504 370h6v2h-6z"/><path fill="#f0a7a7" d="M512 274h2v2h-2zM524 282h2v2h-2zM526 284h2v2h-2zM530 286h2v2h-2zM536 288h2v2h-2zM538 290h2v2h-2zM540 300h2v2h-2zM540 302h2v2h-2zM472 306h2v2h-2zM540 318h2v2h-2zM534 326h2v2h-2zM472 328h2v2h-2zM472 330h2v2h-2zM534 334h2v2h-2zM534 338h2v2h-2zM474 344h2v2h-2zM528 344h2v2h-2zM480 352h2v2h-2zM524 352h2v2h-2zM490 356h6v2h-6zM522 356h2v2h-2zM498 360h2v2h-2zM498 362h2v2h-2zM518 362h2v2h-2zM500 366h2v2h-2zM502 368h2v2h-2zM512 368h2v2h-2z"/><path fill="#f0a5a5" d="M506 274h2v2h-2zM510 274h2v2h-2zM520 278h2v2h-2zM522 280h2v2h-2zM488 288h2v2h-2zM540 304h2v2h-2zM538 320h2v2h-2zM536 322h2v2h-2zM472 324h2v2h-2zM534 324h2v2h-2zM472 326h2v2h-2zM472 332h2v2h-2zM534 336h2v2h-2zM530 342h2v2h-2zM476 346h2v2h-2zM526 346h2v2h-2zM478 348h2v2h-2zM524 350h2v2h-2zM482 354h2v2h-2zM484 356h6v2h-6zM496 356h2v2h-2zM498 358h2v2h-2zM520 358h2v2h-2zM500 364h2v2h-2zM516 364h2v2h-2zM502 366h2v2h-2zM514 366h2v2h-2zM504 368h2v2h-2zM510 368h2v2h-2z"/><path fill="#f0a2a2" d="M508 274h2v2h-2zM528 286h2v2h-2zM480 296h2v2h-2zM540 306h2v2h-2zM472 308h2v2h-2zM472 322h2v2h-2zM472 334h2v2h-2zM472 340h2v2h-2zM532 340h2v2h-2zM480 350h2v2h-2zM482 352h2v2h-2zM484 354h12v2h-12zM522 354h2v2h-2zM500 362h2v2h-2zM506 368h4v2h-4z"/><path fill="#f0a0a0" d="M516 276h2v2h-2zM534 288h2v2h-2zM486 290h2v2h-2zM538 292h2v2h-2zM540 308h2v2h-2zM472 310h2v2h-2zM540 316h2v2h-2zM472 320h2v2h-2zM534 322h2v2h-2zM532 326h2v2h-2zM532 328h2v2h-2zM532 330h2v2h-2zM472 336h2v2h-2zM472 338h2v2h-2zM474 342h2v2h-2zM526 344h2v2h-2zM524 348h2v2h-2zM484 352h2v2h-2zM522 352h2v2h-2zM496 354h2v2h-2zM498 356h2v2h-2zM520 356h2v2h-2zM500 360h2v2h-2zM518 360h2v2h-2zM516 362h2v2h-2zM502 364h2v2h-2zM514 364h2v2h-2zM504 366h2v2h-2zM512 366h2v2h-2z"/><path fill="#f09d9d" d="M502 276h2v2h-2zM482 294h2v2h-2zM474 304h2v2h-2zM540 310h2v2h-2zM472 312h2v2h-2zM472 318h2v2h-2zM536 320h2v2h-2zM532 324h2v2h-2zM532 332h2v2h-2zM528 342h2v2h-2zM476 344h2v2h-2zM478 346h2v2h-2zM480 348h2v2h-2zM482 350h2v2h-2zM486 352h8v2h-8zM500 358h2v2h-2zM502 362h2v2h-2zM506 366h2v2h-2zM510 366h2v2h-2z"/><path fill="#f09b9b" d="M496 282h2v2h-2zM522 282h2v2h-2zM494 284h2v2h-2zM524 284h2v2h-2zM492 286h2v2h-2zM526 286h2v2h-2zM532 288h2v2h-2zM536 290h2v2h-2zM484 292h2v2h-2zM538 294h2v2h-2zM538 296h2v2h-2zM478 300h2v2h-2zM476 302h2v2h-2zM540 312h2v2h-2zM472 314h2v2h-2zM540 314h2v2h-2zM472 316h2v2h-2zM538 318h2v2h-2zM532 322h2v2h-2zM474 326h2v2h-2zM474 328h2v2h-2zM474 330h2v2h-2zM474 332h2v2h-2zM532 334h2v2h-2zM530 340h2v2h-2zM524 346h2v2h-2zM482 348h2v2h-2zM484 350h2v2h-2zM522 350h2v2h-2zM494 352h2v2h-2zM498 354h2v2h-2zM520 354h2v2h-2zM500 356h2v2h-2zM518 358h2v2h-2zM502 360h2v2h-2zM504 364h2v2h-2zM512 364h2v2h-2zM508 366h2v2h-2z"/><path fill="#f09898" d="M514 276h2v2h-2zM500 278h2v2h-2zM518 278h2v2h-2zM498 280h2v2h-2zM520 280h2v2h-2zM490 288h2v2h-2zM530 288h2v2h-2zM480 298h2v2h-2zM538 298h2v2h-2zM538 300h2v2h-2zM538 302h2v2h-2zM534 320h2v2h-2zM474 324h2v2h-2zM530 324h2v2h-2zM530 326h2v2h-2zM530 328h2v2h-2zM530 330h2v2h-2zM532 336h2v2h-2zM532 338h2v2h-2zM474 340h2v2h-2zM526 342h2v2h-2zM478 344h2v2h-2zM480 346h2v2h-2zM522 348h2v2h-2zM486 350h6v2h-6zM496 352h2v2h-2zM516 360h2v2h-2zM504 362h2v2h-2zM514 362h2v2h-2zM506 364h2v2h-2z"/><path fill="#f09696" d="M538 304h2v2h-2zM474 306h2v2h-2zM538 306h2v2h-2zM530 320h4v2h-4zM474 322h2v2h-2zM530 322h2v2h-2zM530 332h2v2h-2zM474 334h2v2h-2zM528 340h2v2h-2zM476 342h2v2h-2zM524 344h2v2h-2zM482 346h2v2h-2zM484 348h2v2h-2zM492 350h2v2h-2zM520 352h2v2h-2zM500 354h2v2h-2zM518 356h2v2h-2zM502 358h2v2h-2zM508 364h4v2h-4z"/><path fill="#f09393" d="M512 276h2v2h-2zM528 288h2v2h-2zM488 290h2v2h-2zM534 290h2v2h-2zM538 308h2v2h-2zM476 328h2v2h-2zM476 330h2v2h-2zM530 334h2v2h-2zM474 336h2v2h-2zM474 338h2v2h-2zM530 338h2v2h-2zM480 344h2v2h-2zM522 346h2v2h-2zM486 348h4v2h-4zM494 350h2v2h-2zM520 350h2v2h-2zM498 352h2v2h-2zM518 354h2v2h-2zM502 356h2v2h-2zM516 358h2v2h-2zM504 360h2v2h-2zM514 360h2v2h-2zM506 362h2v2h-2zM512 362h2v2h-2z"/><path fill="#f09191" d="M504 276h2v2h-2zM510 276h2v2h-2zM536 292h2v2h-2zM482 296h2v2h-2zM474 308h2v2h-2zM538 316h2v2h-2zM530 318h4v2h-4zM536 318h2v2h-2zM474 320h2v2h-2zM528 320h2v2h-2zM476 326h2v2h-2zM528 330h2v2h-2zM476 332h2v2h-2zM530 336h2v2h-2zM478 342h2v2h-2zM524 342h2v2h-2zM484 346h2v2h-2zM490 348h4v2h-4zM496 350h2v2h-2zM504 358h2v2h-2zM508 362h4v2h-4z"/><path fill="#f08e8e" d="M508 276h2v2h-2zM522 284h2v2h-2zM524 286h2v2h-2zM532 290h2v2h-2zM486 292h2v2h-2zM484 294h2v2h-2zM536 294h2v2h-2zM476 304h2v2h-2zM474 310h2v2h-2zM538 310h2v2h-2zM538 312h2v2h-2zM538 314h2v2h-2zM474 318h2v2h-2zM528 318h2v2h-2zM534 318h2v2h-2zM528 322h2v2h-2zM528 324h2v2h-2zM528 326h2v2h-2zM528 328h2v2h-2zM528 332h2v2h-2zM476 334h2v2h-2zM528 338h2v2h-2zM476 340h2v2h-2zM526 340h2v2h-2zM482 344h2v2h-2zM522 344h2v2h-2zM486 346h4v2h-4zM494 348h2v2h-2zM520 348h2v2h-2zM498 350h2v2h-2zM500 352h2v2h-2zM518 352h2v2h-2zM502 354h2v2h-2zM516 356h2v2h-2zM514 358h2v2h-2zM506 360h2v2h-2zM512 360h2v2h-2z"/><path fill="#f08c8c" d="M506 276h2v2h-2zM516 278h2v2h-2zM520 282h2v2h-2zM526 288h2v2h-2zM536 296h2v2h-2zM536 298h2v2h-2zM536 300h2v2h-2zM478 302h2v2h-2zM536 302h2v2h-2zM536 304h2v2h-2zM536 306h2v2h-2zM474 312h2v2h-2zM474 314h2v2h-2zM474 316h2v2h-2zM476 324h2v2h-2zM478 330h2v2h-2zM528 334h2v2h-2zM476 336h2v2h-2zM528 336h2v2h-2zM476 338h2v2h-2zM478 340h2v2h-2zM480 342h2v2h-2zM484 344h2v2h-2zM490 346h2v2h-2zM520 346h2v2h-2zM496 348h2v2h-2zM518 350h2v2h-2zM516 354h2v2h-2zM504 356h2v2h-2zM506 358h2v2h-2zM508 360h4v2h-4z"/><path fill="#f08989" d="M502 278h2v2h-2zM518 280h2v2h-2zM496 284h2v2h-2zM494 286h2v2h-2zM492 288h2v2h-2zM530 290h2v2h-2zM534 292h2v2h-2zM480 300h2v2h-2zM536 308h2v2h-2zM530 316h4v2h-4zM536 316h2v2h-2zM476 322h2v2h-2zM478 328h2v2h-2zM478 332h2v2h-2zM478 334h2v2h-2zM526 338h2v2h-2zM524 340h2v2h-2zM482 342h2v2h-2zM522 342h2v2h-2zM486 344h4v2h-4zM492 346h2v2h-2zM500 350h2v2h-2zM502 352h2v2h-2zM516 352h2v2h-2zM504 354h2v2h-2zM514 356h2v2h-2zM512 358h2v2h-2z"/><path fill="#f08787" d="M500 280h2v2h-2zM498 282h2v2h-2zM476 306h2v2h-2zM536 310h2v2h-2zM528 316h2v2h-2zM534 316h2v2h-2zM478 326h2v2h-2zM526 330h2v2h-2zM526 332h2v2h-2zM478 336h2v2h-2zM526 336h2v2h-2zM478 338h2v2h-2zM480 340h2v2h-2zM484 342h4v2h-4zM490 344h2v2h-2zM520 344h2v2h-2zM494 346h2v2h-2zM498 348h2v2h-2zM518 348h2v2h-2zM514 354h2v2h-2zM506 356h2v2h-2zM508 358h4v2h-4z"/><path fill="#f08484" d="M514 278h2v2h-2zM490 290h2v2h-2zM528 290h2v2h-2zM532 292h2v2h-2zM534 294h2v2h-2zM482 298h2v2h-2zM534 302h2v2h-2zM534 304h2v2h-2zM534 306h2v2h-2zM534 308h2v2h-2zM536 312h2v2h-2zM530 314h2v2h-2zM536 314h2v2h-2zM476 320h2v2h-2zM526 320h2v2h-2zM526 322h2v2h-2zM526 326h2v2h-2zM526 328h2v2h-2zM480 332h2v2h-2zM526 334h2v2h-2zM480 338h2v2h-2zM524 338h2v2h-2zM482 340h4v2h-4zM488 342h2v2h-2zM492 344h2v2h-2zM496 346h2v2h-2zM518 346h2v2h-2zM502 350h2v2h-2zM516 350h2v2h-2zM504 352h2v2h-2zM506 354h2v2h-2zM508 356h2v2h-2zM512 356h2v2h-2z"/><path fill="#f08282" d="M512 278h2v2h-2zM522 286h2v2h-2zM524 288h2v2h-2zM488 292h2v2h-2zM534 296h2v2h-2zM534 298h2v2h-2zM534 300h2v2h-2zM476 308h2v2h-2zM534 310h2v2h-2zM534 312h2v2h-2zM528 314h2v2h-2zM532 314h4v2h-4zM476 318h2v2h-2zM526 318h2v2h-2zM478 324h2v2h-2zM526 324h2v2h-2zM480 328h2v2h-2zM480 330h2v2h-2zM480 334h2v2h-2zM480 336h2v2h-2zM482 338h2v2h-2zM486 340h2v2h-2zM522 340h2v2h-2zM490 342h2v2h-2zM520 342h2v2h-2zM494 344h2v2h-2zM498 346h2v2h-2zM500 348h2v2h-2zM516 348h2v2h-2zM514 352h2v2h-2zM512 354h2v2h-2zM510 356h2v2h-2z"/><path fill="#f07f7f" d="M510 278h2v2h-2zM520 284h2v2h-2zM526 290h2v2h-2zM530 292h2v2h-2zM486 294h2v2h-2zM484 296h2v2h-2zM478 304h2v2h-2zM532 304h2v2h-2zM532 306h2v2h-2zM532 308h2v2h-2zM532 310h2v2h-2zM530 312h4v2h-4zM476 316h2v2h-2zM526 316h2v2h-2zM478 322h2v2h-2zM482 334h2v2h-2zM482 336h2v2h-2zM524 336h2v2h-2zM484 338h2v2h-2zM488 340h2v2h-2zM492 342h2v2h-2zM496 344h2v2h-2zM518 344h2v2h-2zM516 346h2v2h-2zM502 348h2v2h-2zM504 350h2v2h-2zM514 350h2v2h-2zM506 352h2v2h-2zM512 352h2v2h-2zM508 354h4v2h-4z"/><path fill="#f07d7d" d="M504 278h2v2h-2zM508 278h2v2h-2zM516 280h2v2h-2zM518 282h2v2h-2zM532 294h2v2h-2zM480 302h2v2h-2zM532 302h2v2h-2zM530 306h2v2h-2zM530 308h2v2h-2zM476 310h2v2h-2zM530 310h2v2h-2zM476 312h2v2h-2zM528 312h2v2h-2zM476 314h2v2h-2zM480 326h2v2h-2zM482 330h2v2h-2zM482 332h2v2h-2zM524 332h2v2h-2zM524 334h2v2h-2zM484 336h2v2h-2zM486 338h2v2h-2zM522 338h2v2h-2zM490 340h2v2h-2zM494 342h2v2h-2zM500 346h2v2h-2zM514 348h2v2h-2zM506 350h2v2h-2zM512 350h2v2h-2zM508 352h4v2h-4z"/><path fill="#f07a7a" d="M506 278h2v2h-2zM528 292h2v2h-2zM532 296h2v2h-2zM532 298h2v2h-2zM532 300h2v2h-2zM530 304h2v2h-2zM528 308h2v2h-2zM528 310h2v2h-2zM526 314h2v2h-2zM478 320h2v2h-2zM480 324h2v2h-2zM482 328h2v2h-2zM524 330h2v2h-2zM484 334h2v2h-2zM486 336h2v2h-2zM488 338h2v2h-2zM492 340h2v2h-2zM520 340h2v2h-2zM518 342h2v2h-2zM498 344h2v2h-2zM516 344h2v2h-2zM514 346h2v2h-2zM504 348h2v2h-2zM508 350h4v2h-4z"/><path fill="#f07878" d="M502 280h2v2h-2zM500 282h2v2h-2zM498 284h2v2h-2zM496 286h2v2h-2zM494 288h2v2h-2zM522 288h2v2h-2zM492 290h2v2h-2zM524 290h2v2h-2zM530 294h2v2h-2zM482 300h2v2h-2zM530 302h2v2h-2zM478 306h2v2h-2zM528 306h2v2h-2zM524 326h2v2h-2zM524 328h2v2h-2zM484 332h2v2h-2zM486 334h2v2h-2zM488 336h2v2h-2zM522 336h2v2h-2zM490 338h2v2h-2zM494 340h2v2h-2zM496 342h2v2h-2zM500 344h2v2h-2zM502 346h2v2h-2zM506 348h8v2h-8z"/><path fill="#f07575" d="M514 280h2v2h-2zM520 286h2v2h-2zM526 292h2v2h-2zM530 296h2v2h-2zM530 300h2v2h-2zM528 304h2v2h-2zM526 312h2v2h-2zM478 318h2v2h-2zM480 322h2v2h-2zM524 324h2v2h-2zM482 326h2v2h-2zM484 330h2v2h-2zM486 332h2v2h-2zM522 334h2v2h-2zM490 336h2v2h-2zM492 338h2v2h-2zM520 338h2v2h-2zM518 340h2v2h-2zM498 342h2v2h-2zM516 342h2v2h-2zM514 344h2v2h-2zM504 346h2v2h-2zM512 346h2v2h-2z"/><path fill="#f07373" d="M518 284h2v2h-2zM490 292h2v2h-2zM528 294h2v2h-2zM484 298h2v2h-2zM530 298h2v2h-2zM480 304h2v2h-2zM478 308h2v2h-2zM526 308h2v2h-2zM526 310h2v2h-2zM478 316h2v2h-2zM524 318h2v2h-2zM524 320h2v2h-2zM524 322h2v2h-2zM484 328h2v2h-2zM522 332h2v2h-2zM488 334h2v2h-2zM494 338h2v2h-2zM496 340h2v2h-2zM500 342h2v2h-2zM502 344h2v2h-2zM506 346h6v2h-6z"/><path fill="#f07070" d="M510 280h4v2h-4zM516 282h2v2h-2zM488 294h2v2h-2zM486 296h2v2h-2zM528 302h2v2h-2zM526 306h2v2h-2zM478 310h2v2h-2zM478 312h2v2h-2zM478 314h2v2h-2zM524 316h2v2h-2zM480 320h2v2h-2zM482 324h2v2h-2zM486 330h2v2h-2zM522 330h2v2h-2zM488 332h2v2h-2zM490 334h2v2h-2zM492 336h2v2h-2zM520 336h2v2h-2zM518 338h2v2h-2zM498 340h2v2h-2zM516 340h2v2h-2zM514 342h2v2h-2zM504 344h2v2h-2zM512 344h2v2h-2z"/><path fill="#f06e6e" d="M504 280h2v2h-2zM508 280h2v2h-2zM522 290h2v2h-2zM524 292h2v2h-2zM526 294h2v2h-2zM528 296h2v2h-2zM528 300h2v2h-2zM482 302h2v2h-2zM524 312h2v2h-2zM524 314h2v2h-2zM484 326h2v2h-2zM486 328h2v2h-2zM490 332h2v2h-2zM492 334h2v2h-2zM494 336h2v2h-2zM496 338h2v2h-2zM502 342h2v2h-2zM506 344h6v2h-6z"/><path fill="#f06b6b" d="M506 280h2v2h-2zM520 288h2v2h-2zM528 298h2v2h-2zM526 304h2v2h-2zM480 306h2v2h-2zM524 310h2v2h-2zM480 318h2v2h-2zM482 322h2v2h-2zM522 328h2v2h-2zM488 330h2v2h-2zM520 334h2v2h-2zM498 338h2v2h-2zM500 340h2v2h-2zM514 340h2v2h-2zM504 342h2v2h-2zM510 342h4v2h-4z"/><path fill="#f06969" d="M502 282h2v2h-2zM514 282h2v2h-2zM500 284h2v2h-2zM498 286h2v2h-2zM518 286h2v2h-2zM496 288h2v2h-2zM494 290h2v2h-2zM526 302h2v2h-2zM524 308h2v2h-2zM484 324h2v2h-2zM486 326h2v2h-2zM522 326h2v2h-2zM488 328h2v2h-2zM490 330h2v2h-2zM492 332h2v2h-2zM520 332h2v2h-2zM494 334h2v2h-2zM496 336h2v2h-2zM518 336h2v2h-2zM500 338h2v2h-2zM516 338h2v2h-2zM502 340h2v2h-2zM506 342h4v2h-4z"/><path fill="#f06666" d="M516 284h2v2h-2zM492 292h2v2h-2zM524 294h2v2h-2zM526 296h2v2h-2zM484 300h2v2h-2zM524 306h2v2h-2zM480 308h2v2h-2zM480 316h2v2h-2zM482 320h2v2h-2zM522 324h2v2h-2zM496 334h2v2h-2zM498 336h2v2h-2zM504 340h2v2h-2zM512 340h2v2h-2z"/><path fill="#f06464" d="M512 282h2v2h-2zM520 290h2v2h-2zM522 292h2v2h-2zM526 298h2v2h-2zM526 300h2v2h-2zM482 304h2v2h-2zM480 310h2v2h-2zM480 312h2v2h-2zM480 314h2v2h-2zM484 322h2v2h-2zM522 322h2v2h-2zM486 324h2v2h-2zM490 328h2v2h-2zM492 330h2v2h-2zM520 330h2v2h-2zM494 332h2v2h-2zM518 334h2v2h-2zM500 336h2v2h-2zM516 336h2v2h-2zM502 338h2v2h-2zM514 338h2v2h-2zM506 340h6v2h-6z"/><path fill="#f06161" d="M504 282h2v2h-2zM510 282h2v2h-2zM518 288h2v2h-2zM490 294h2v2h-2zM488 296h2v2h-2zM486 298h2v2h-2zM524 304h2v2h-2zM522 310h2v2h-2zM522 312h2v2h-2zM522 314h2v2h-2zM522 316h2v2h-2zM482 318h2v2h-2zM522 318h2v2h-2zM522 320h2v2h-2zM488 326h2v2h-2zM520 328h2v2h-2zM496 332h2v2h-2zM498 334h2v2h-2zM504 338h2v2h-2zM512 338h2v2h-2z"/><path fill="#f05f5f" d="M508 282h2v2h-2zM516 286h2v2h-2zM524 296h2v2h-2zM524 302h2v2h-2zM522 308h2v2h-2zM484 320h2v2h-2zM492 328h2v2h-2zM494 330h2v2h-2zM518 332h2v2h-2zM500 334h2v2h-2zM516 334h2v2h-2zM502 336h2v2h-2zM514 336h2v2h-2zM506 338h6v2h-6z"/><path fill="#f05c5c" d="M506 282h2v2h-2zM502 284h2v2h-2zM514 284h2v2h-2zM522 294h2v2h-2zM524 298h2v2h-2zM484 302h2v2h-2zM482 306h2v2h-2zM522 306h2v2h-2zM482 316h2v2h-2zM486 322h2v2h-2zM488 324h2v2h-2zM490 326h2v2h-2zM520 326h2v2h-2zM496 330h2v2h-2zM518 330h2v2h-2zM498 332h2v2h-2zM504 336h4v2h-4zM512 336h2v2h-2z"/><path fill="#f05a5a" d="M500 286h2v2h-2zM498 288h2v2h-2zM496 290h2v2h-2zM494 292h2v2h-2zM520 292h2v2h-2zM524 300h2v2h-2zM482 314h2v2h-2zM520 324h2v2h-2zM494 328h2v2h-2zM500 332h2v2h-2zM502 334h2v2h-2zM514 334h2v2h-2zM508 336h4v2h-4z"/><path fill="#f05757" d="M512 284h2v2h-2zM518 290h2v2h-2zM486 300h2v2h-2zM522 304h2v2h-2zM482 308h2v2h-2zM482 310h2v2h-2zM482 312h2v2h-2zM484 318h2v2h-2zM486 320h2v2h-2zM488 322h2v2h-2zM490 324h2v2h-2zM492 326h2v2h-2zM518 328h2v2h-2zM498 330h2v2h-2zM502 332h2v2h-2zM516 332h2v2h-2zM504 334h4v2h-4zM512 334h2v2h-2z"/><path fill="#f05555" d="M514 286h2v2h-2zM516 288h2v2h-2zM492 294h2v2h-2zM522 296h2v2h-2zM484 304h2v2h-2zM520 308h2v2h-2zM520 310h2v2h-2zM520 312h2v2h-2zM520 314h2v2h-2zM520 316h2v2h-2zM520 322h2v2h-2zM496 328h2v2h-2zM500 330h2v2h-2zM516 330h2v2h-2zM504 332h2v2h-2zM508 334h4v2h-4z"/><path fill="#f05252" d="M504 284h2v2h-2zM510 284h2v2h-2zM518 292h2v2h-2zM520 294h2v2h-2zM490 296h2v2h-2zM488 298h2v2h-2zM522 298h2v2h-2zM522 302h2v2h-2zM520 306h2v2h-2zM484 316h2v2h-2zM520 318h2v2h-2zM520 320h2v2h-2zM492 324h2v2h-2zM494 326h2v2h-2zM518 326h2v2h-2zM498 328h2v2h-2zM502 330h2v2h-2zM506 332h2v2h-2zM514 332h2v2h-2z"/><path fill="#f05050" d="M506 284h4v2h-4zM516 290h2v2h-2zM522 300h2v2h-2zM484 306h2v2h-2zM484 314h2v2h-2zM486 318h2v2h-2zM488 320h2v2h-2zM490 322h2v2h-2zM518 324h2v2h-2zM496 326h2v2h-2zM500 328h2v2h-2zM516 328h2v2h-2zM504 330h2v2h-2zM514 330h2v2h-2zM508 332h6v2h-6z"/><path fill="#f04d4d" d="M502 286h2v2h-2zM512 286h2v2h-2zM500 288h2v2h-2zM514 288h2v2h-2zM498 290h2v2h-2zM496 292h2v2h-2zM520 296h2v2h-2zM486 302h2v2h-2zM520 304h2v2h-2zM484 312h2v2h-2zM494 324h2v2h-2zM502 328h2v2h-2zM506 330h2v2h-2z"/><path fill="#f04b4b" d="M494 294h2v2h-2zM518 294h2v2h-2zM484 308h2v2h-2zM518 308h2v2h-2zM484 310h2v2h-2zM518 310h2v2h-2zM518 312h2v2h-2zM486 316h2v2h-2zM492 322h2v2h-2zM518 322h2v2h-2zM498 326h2v2h-2zM516 326h2v2h-2zM504 328h2v2h-2zM514 328h2v2h-2zM508 330h6v2h-6z"/><path fill="#f04848" d="M510 286h2v2h-2zM516 292h2v2h-2zM520 298h2v2h-2zM520 302h2v2h-2zM518 306h2v2h-2zM518 314h2v2h-2zM518 316h2v2h-2zM488 318h2v2h-2zM518 318h2v2h-2zM490 320h2v2h-2zM518 320h2v2h-2zM496 324h2v2h-2zM500 326h2v2h-2zM506 328h2v2h-2zM512 328h2v2h-2z"/><path fill="#f04646" d="M504 286h2v2h-2zM512 288h2v2h-2zM514 290h2v2h-2zM492 296h2v2h-2zM488 300h2v2h-2zM520 300h2v2h-2zM486 304h2v2h-2zM518 304h2v2h-2zM486 314h2v2h-2zM494 322h2v2h-2zM498 324h2v2h-2zM516 324h2v2h-2zM502 326h4v2h-4zM514 326h2v2h-2zM508 328h4v2h-4z"/><path fill="#f04343" d="M506 286h4v2h-4zM502 288h2v2h-2zM500 290h2v2h-2zM518 296h2v2h-2zM490 298h2v2h-2zM486 306h2v2h-2zM488 316h2v2h-2zM492 320h2v2h-2zM516 322h2v2h-2zM500 324h2v2h-2zM506 326h8v2h-8z"/><path fill="#f04141" d="M510 288h2v2h-2zM498 292h2v2h-2zM514 292h2v2h-2zM516 294h2v2h-2zM518 298h2v2h-2zM518 302h2v2h-2zM516 306h2v2h-2zM486 308h2v2h-2zM516 308h2v2h-2zM486 310h2v2h-2zM516 310h2v2h-2zM486 312h2v2h-2zM516 312h2v2h-2zM490 318h2v2h-2zM516 320h2v2h-2zM496 322h2v2h-2zM502 324h4v2h-4zM514 324h2v2h-2z"/><path fill="#f03e3e" d="M512 290h2v2h-2zM496 294h2v2h-2zM518 300h2v2h-2zM488 302h2v2h-2zM516 314h2v2h-2zM516 316h2v2h-2zM516 318h2v2h-2zM494 320h2v2h-2zM498 322h2v2h-2zM514 322h2v2h-2zM506 324h8v2h-8z"/><path fill="#f03c3c" d="M504 288h2v2h-2zM508 288h2v2h-2zM494 296h2v2h-2zM516 296h2v2h-2zM516 304h2v2h-2zM488 314h2v2h-2zM490 316h2v2h-2zM492 318h2v2h-2zM514 320h2v2h-2zM500 322h2v2h-2zM512 322h2v2h-2z"/><path fill="#f03939" d="M506 288h2v2h-2zM502 290h2v2h-2zM510 290h2v2h-2zM512 292h2v2h-2zM514 294h2v2h-2zM492 298h2v2h-2zM516 298h2v2h-2zM490 300h2v2h-2zM516 302h2v2h-2zM488 304h2v2h-2zM488 312h2v2h-2zM514 318h2v2h-2zM496 320h2v2h-2zM502 322h10v2h-10z"/><path fill="#f03737" d="M500 292h2v2h-2zM498 294h2v2h-2zM516 300h2v2h-2zM488 306h2v2h-2zM514 308h2v2h-2zM488 310h2v2h-2zM514 310h2v2h-2zM514 312h2v2h-2zM514 314h2v2h-2zM514 316h2v2h-2zM494 318h2v2h-2zM498 320h2v2h-2zM512 320h2v2h-2z"/><path fill="#f03434" d="M504 290h2v2h-2zM508 290h2v2h-2zM510 292h2v2h-2zM512 294h2v2h-2zM514 296h2v2h-2zM514 306h2v2h-2zM488 308h2v2h-2zM490 314h2v2h-2zM492 316h2v2h-2zM512 318h2v2h-2zM500 320h2v2h-2zM510 320h2v2h-2z"/><path fill="#f03232" d="M506 290h2v2h-2zM502 292h2v2h-2zM496 296h2v2h-2zM514 298h2v2h-2zM490 302h2v2h-2zM514 304h2v2h-2zM512 316h2v2h-2zM496 318h2v2h-2zM502 320h8v2h-8z"/><path fill="#f02f2f" d="M508 292h2v2h-2zM510 294h2v2h-2zM512 296h2v2h-2zM494 298h2v2h-2zM492 300h2v2h-2zM514 300h2v2h-2zM514 302h2v2h-2zM490 312h2v2h-2zM512 314h2v2h-2zM494 316h2v2h-2zM498 318h2v2h-2zM510 318h2v2h-2z"/><path fill="#f02d2d" d="M504 292h4v2h-4zM500 294h2v2h-2zM490 304h2v2h-2zM490 310h2v2h-2zM512 312h2v2h-2zM492 314h2v2h-2zM510 316h2v2h-2zM500 318h2v2h-2zM506 318h4v2h-4z"/><path fill="#f02a2a" d="M508 294h2v2h-2zM498 296h2v2h-2zM512 298h2v2h-2zM490 306h2v2h-2zM490 308h2v2h-2zM512 308h2v2h-2zM512 310h2v2h-2zM496 316h2v2h-2zM502 318h4v2h-4z"/><path fill="#f02828" d="M502 294h2v2h-2zM510 296h2v2h-2zM496 298h2v2h-2zM512 300h2v2h-2zM492 302h2v2h-2zM512 304h2v2h-2zM512 306h2v2h-2zM492 312h2v2h-2zM494 314h2v2h-2zM510 314h2v2h-2zM498 316h2v2h-2zM508 316h2v2h-2z"/><path fill="#f02525" d="M504 294h4v2h-4zM494 300h2v2h-2zM512 302h2v2h-2zM492 310h2v2h-2zM510 312h2v2h-2zM500 316h2v2h-2zM506 316h2v2h-2z"/><path fill="#f02323" d="M500 296h2v2h-2zM508 296h2v2h-2zM510 298h2v2h-2zM492 304h2v2h-2zM492 308h2v2h-2zM510 310h2v2h-2zM494 312h2v2h-2zM496 314h2v2h-2zM508 314h2v2h-2zM502 316h4v2h-4z"/><path fill="#f02020" d="M502 296h2v2h-2zM506 296h2v2h-2zM498 298h2v2h-2zM492 306h2v2h-2zM498 314h2v2h-2z"/><path fill="#f01e1e" d="M504 296h2v2h-2zM508 298h2v2h-2zM496 300h2v2h-2zM510 300h2v2h-2zM494 302h2v2h-2zM510 306h2v2h-2zM510 308h2v2h-2zM494 310h2v2h-2zM496 312h2v2h-2zM508 312h2v2h-2zM500 314h2v2h-2zM504 314h4v2h-4z"/><path fill="#f01b1b" d="M500 298h2v2h-2zM510 302h2v2h-2zM494 304h2v2h-2zM510 304h2v2h-2zM494 308h2v2h-2zM502 314h2v2h-2z"/><path fill="#f01919" d="M502 298h2v2h-2zM506 298h2v2h-2zM498 300h2v2h-2zM496 302h2v2h-2zM494 306h2v2h-2zM496 310h2v2h-2zM508 310h2v2h-2zM498 312h2v2h-2zM506 312h2v2h-2z"/><path fill="#f01616" d="M504 298h2v2h-2zM508 300h2v2h-2zM508 308h2v2h-2zM500 312h6v2h-6z"/><path fill="#f01414" d="M500 300h2v2h-2zM508 302h2v2h-2zM496 304h2v2h-2zM496 306h2v2h-2zM508 306h2v2h-2zM496 308h2v2h-2zM498 310h2v2h-2zM506 310h2v2h-2z"/><path fill="#f01111" d="M502 300h6v2h-6zM498 302h2v2h-2zM508 304h2v2h-2zM500 310h2v2h-2zM504 310h2v2h-2z"/><path fill="#f00f0f" d="M500 302h2v2h-2zM498 304h2v2h-2zM498 306h2v2h-2zM498 308h2v2h-2zM506 308h2v2h-2zM502 310h2v2h-2z"/><path fill="#f00c0c" d="M502 302h6v2h-6zM500 304h2v2h-2zM506 306h2v2h-2zM500 308h6v2h-6z"/><path fill="#f00a0a" d="M502 304h2v2h-2zM506 304h2v2h-2zM500 306h6v2h-6z"/><path fill="#f00707" d="M504 304h2v2h-2z"/></g></g><g clip-path="url(#cc2)"><g filter="url(#tb)"><path fill="#0000f0" d="M436 538h2v2h-2z"/><path fill="#0202f0" d="M436 534h2v2h-2zM436 536h2v2h-2z"/><path fill="#0505f0" d="M434 532h2v2h-2zM438 536h2v2h-2zM438 538h2v2h-2zM438 540h2v2h-2zM438 542h2v2h-2z"/><path fill="#0707f0" d="M436 532h2v2h-2zM438 534h2v2h-2z"/><path fill="#0a0af0" d="M434 530h2v2h-2zM438 532h2v2h-2zM440 534h2v2h-2zM440 536h2v2h-2zM440 538h2v2h-2zM440 540h2v2h-2zM440 542h2v2h-2z"/><path fill="#0c0cf0" d="M436 530h2v2h-2zM440 544h2v2h-2z"/><path fill="#0f0ff0" d="M438 530h2v2h-2zM440 532h2v2h-2zM442 536h2v2h-2zM442 538h2v2h-2zM442 540h2v2h-2zM442 542h2v2h-2zM440 546h2v2h-2z"/><path fill="#1111f0" d="M434 528h2v2h-2zM442 534h2v2h-2zM442 544h2v2h-2z"/><path fill="#1414f0" d="M436 528h2v2h-2zM440 530h2v2h-2zM442 532h2v2h-2zM444 538h2v2h-2zM444 540h2v2h-2zM444 542h2v2h-2zM442 546h2v2h-2z"/><path fill="#1616f0" d="M438 528h2v2h-2zM444 536h2v2h-2zM444 544h2v2h-2zM442 548h2v2h-2zM442 550h2v2h-2z"/><path fill="#1919f0" d="M434 526h2v2h-2zM440 528h2v2h-2zM442 530h2v2h-2zM444 534h2v2h-2zM444 546h2v2h-2z"/><path fill="#1b1bf0" d="M436 526h4v2h-4zM444 532h2v2h-2zM446 536h2v2h-2zM446 538h2v2h-2zM446 540h2v2h-2zM446 542h2v2h-2zM446 544h2v2h-2zM444 548h2v2h-2zM444 550h2v2h-2zM444 552h2v2h-2z"/><path fill="#1e1ef0" d="M432 524h2v2h-2zM446 534h2v2h-2zM446 546h2v2h-2z"/><path fill="#2020f0" d="M434 524h4v2h-4zM440 526h2v2h-2zM442 528h2v2h-2zM444 530h2v2h-2zM446 548h2v2h-2zM446 550h2v2h-2zM446 552h2v2h-2z"/><path fill="#2323f0" d="M432 522h2v2h-2zM438 524h2v2h-2zM446 532h2v2h-2zM448 536h2v2h-2zM448 538h2v2h-2zM448 540h2v2h-2zM448 542h2v2h-2zM448 544h2v2h-2zM446 554h2v2h-2z"/><path fill="#2525f0" d="M432 520h2v2h-2zM434 522h4v2h-4zM440 524h2v2h-2zM442 526h2v2h-2zM448 534h2v2h-2zM448 546h2v2h-2zM448 548h2v2h-2zM448 550h2v2h-2z"/><path fill="#2828f0" d="M434 520h2v2h-2zM438 522h2v2h-2zM444 528h2v2h-2zM446 530h2v2h-2zM448 552h2v2h-2zM448 554h2v2h-2z"/><path fill="#2a2af0" d="M432 518h2v2h-2zM436 520h4v2h-4zM448 532h2v2h-2zM450 536h2v2h-2zM450 538h2v2h-2zM450 540h2v2h-2zM450 542h2v2h-2zM450 544h2v2h-2zM448 556h2v2h-2z"/><path fill="#2d2df0" d="M434 518h4v2h-4zM440 522h2v2h-2zM442 524h2v2h-2zM444 526h2v2h-2zM450 534h2v2h-2zM450 546h2v2h-2zM450 548h2v2h-2zM450 550h2v2h-2zM450 552h2v2h-2zM448 558h2v2h-2z"/><path fill="#2f2ff0" d="M432 516h2v2h-2zM438 518h2v2h-2zM446 528h2v2h-2zM448 530h2v2h-2zM450 554h2v2h-2zM450 556h2v2h-2z"/><path fill="#3232f0" d="M434 516h2v2h-2zM440 520h2v2h-2zM442 522h2v2h-2zM450 532h2v2h-2zM450 558h2v2h-2z"/><path fill="#3434f0" d="M432 514h2v2h-2zM436 516h2v2h-2zM444 524h2v2h-2zM452 536h2v2h-2zM452 538h2v2h-2zM452 540h2v2h-2zM452 542h2v2h-2zM452 544h2v2h-2zM452 546h2v2h-2zM452 548h2v2h-2zM452 550h2v2h-2zM452 552h2v2h-2z"/><path fill="#3737f0" d="M434 514h2v2h-2zM438 516h2v2h-2zM440 518h2v2h-2zM446 526h2v2h-2zM448 528h2v2h-2zM450 530h2v2h-2zM452 534h2v2h-2zM452 554h2v2h-2zM452 556h2v2h-2zM450 560h2v2h-2z"/><path fill="#3939f0" d="M442 520h2v2h-2zM452 532h2v2h-2z"/><path fill="#3c3cf0" d="M432 512h2v2h-2zM436 514h2v2h-2zM444 522h2v2h-2zM454 536h2v2h-2zM454 538h2v2h-2zM452 558h2v2h-2z"/><path fill="#3e3ef0" d="M434 512h2v2h-2zM440 516h2v2h-2zM446 524h2v2h-2zM448 526h2v2h-2zM450 528h2v2h-2zM452 530h2v2h-2zM454 534h2v2h-2zM454 540h2v2h-2zM454 542h2v2h-2zM454 544h2v2h-2zM454 546h2v2h-2zM454 548h2v2h-2zM454 550h2v2h-2zM454 552h2v2h-2zM454 554h2v2h-2zM452 560h2v2h-2z"/><path fill="#4141f0" d="M438 514h2v2h-2zM442 518h2v2h-2zM454 532h2v2h-2zM454 556h2v2h-2z"/><path fill="#4343f0" d="M432 510h2v2h-2zM436 512h2v2h-2zM444 520h2v2h-2zM454 558h2v2h-2zM452 562h2v2h-2z"/><path fill="#4646f0" d="M434 510h2v2h-2zM446 522h2v2h-2zM448 524h2v2h-2zM450 526h2v2h-2zM452 528h2v2h-2zM454 530h2v2h-2zM456 536h2v2h-2z"/><path fill="#4848f0" d="M438 512h2v2h-2zM440 514h2v2h-2zM442 516h2v2h-2zM456 534h2v2h-2zM456 538h2v2h-2zM456 540h2v2h-2zM456 542h2v2h-2zM456 548h2v2h-2zM456 550h2v2h-2zM456 552h2v2h-2zM456 554h2v2h-2zM454 560h2v2h-2z"/><path fill="#4b4bf0" d="M432 508h2v2h-2zM436 510h2v2h-2zM456 532h2v2h-2zM456 544h2v2h-2zM456 546h2v2h-2zM456 556h2v2h-2z"/><path fill="#4d4df0" d="M444 518h2v2h-2zM452 526h2v2h-2zM454 528h2v2h-2zM456 558h2v2h-2zM454 562h2v2h-2z"/><path fill="#5050f0" d="M434 508h2v2h-2zM438 510h2v2h-2zM440 512h2v2h-2zM446 520h2v2h-2zM448 522h2v2h-2zM450 524h2v2h-2zM456 530h2v2h-2z"/><path fill="#5252f0" d="M436 508h2v2h-2zM442 514h2v2h-2zM458 534h2v2h-2zM458 536h2v2h-2zM458 538h2v2h-2zM454 564h2v2h-2z"/><path fill="#5555f0" d="M432 506h2v2h-2zM444 516h2v2h-2zM454 526h2v2h-2zM456 528h2v2h-2zM458 532h2v2h-2zM458 540h2v2h-2zM458 542h2v2h-2zM458 544h2v2h-2zM458 546h2v2h-2zM458 548h2v2h-2zM458 550h2v2h-2zM458 552h2v2h-2zM458 554h2v2h-2zM456 560h2v2h-2z"/><path fill="#5757f0" d="M434 506h2v2h-2zM438 508h2v2h-2zM440 510h2v2h-2zM452 524h2v2h-2zM458 556h2v2h-2z"/><path fill="#5a5af0" d="M436 506h2v2h-2zM442 512h2v2h-2zM446 518h2v2h-2zM448 520h2v2h-2zM450 522h2v2h-2zM458 530h2v2h-2zM456 562h2v2h-2z"/><path fill="#5c5cf0" d="M432 504h2v2h-2zM438 506h2v2h-2zM458 558h2v2h-2z"/><path fill="#5f5ff0" d="M434 504h2v2h-2zM440 508h2v2h-2zM444 514h2v2h-2zM456 526h2v2h-2zM460 534h2v2h-2zM460 536h2v2h-2zM460 538h2v2h-2zM456 564h2v2h-2z"/><path fill="#6161f0" d="M436 504h2v2h-2zM442 510h2v2h-2zM454 524h2v2h-2zM458 528h2v2h-2zM460 532h2v2h-2zM460 540h2v2h-2zM460 542h2v2h-2zM460 544h2v2h-2zM460 546h2v2h-2zM460 548h2v2h-2zM460 550h2v2h-2zM460 552h2v2h-2zM458 560h2v2h-2zM456 566h2v2h-2z"/><path fill="#6464f0" d="M432 502h2v2h-2zM438 504h2v2h-2zM440 506h2v2h-2zM446 516h2v2h-2zM452 522h2v2h-2zM460 554h2v2h-2z"/><path fill="#6666f0" d="M440 504h2v2h-2zM442 508h2v2h-2zM448 518h2v2h-2zM450 520h2v2h-2zM460 530h2v2h-2zM460 556h2v2h-2zM458 562h2v2h-2z"/><path fill="#6969f0" d="M434 502h4v2h-4zM444 512h2v2h-2zM458 526h2v2h-2z"/><path fill="#6b6bf0" d="M432 500h2v2h-2zM438 502h4v2h-4zM442 504h2v2h-2zM442 506h2v2h-2zM456 524h2v2h-2zM460 558h2v2h-2zM458 564h2v2h-2z"/><path fill="#6e6ef0" d="M442 502h2v2h-2zM444 510h2v2h-2zM446 514h2v2h-2zM454 522h2v2h-2zM460 528h2v2h-2zM462 534h2v2h-2zM462 536h2v2h-2zM462 538h2v2h-2zM462 540h2v2h-2zM462 542h2v2h-2zM462 544h2v2h-2zM462 546h2v2h-2zM462 548h2v2h-2zM462 550h2v2h-2zM458 566h2v2h-2z"/><path fill="#7070f0" d="M434 500h8v2h-8zM448 516h2v2h-2zM452 520h2v2h-2zM462 532h2v2h-2zM462 552h2v2h-2zM460 560h2v2h-2zM458 568h2v2h-2z"/><path fill="#7373f0" d="M432 498h2v2h-2zM442 500h4v2h-4zM444 502h2v2h-2zM444 504h2v2h-2zM444 506h2v2h-2zM444 508h2v2h-2zM450 518h2v2h-2zM462 554h2v2h-2z"/><path fill="#7575f0" d="M432 496h2v2h-2zM434 498h2v2h-2zM438 498h2v2h-2zM446 500h4v2h-4zM446 502h2v2h-2zM446 512h2v2h-2zM458 524h2v2h-2zM462 530h2v2h-2zM460 562h2v2h-2z"/><path fill="#7878f0" d="M436 498h2v2h-2zM440 498h4v2h-4zM450 500h2v2h-2zM456 522h2v2h-2zM460 526h2v2h-2zM462 556h2v2h-2zM460 564h2v2h-2z"/><path fill="#7a7af0" d="M434 494h2v2h-2zM434 496h6v2h-6zM444 498h2v2h-2zM448 502h2v2h-2zM448 514h2v2h-2zM454 520h2v2h-2zM460 566h2v2h-2z"/><path fill="#7d7df0" d="M436 494h2v2h-2zM440 496h2v2h-2zM446 498h2v2h-2zM446 504h2v2h-2zM446 510h2v2h-2zM450 516h2v2h-2zM452 518h2v2h-2zM462 528h2v2h-2zM464 542h2v2h-2zM464 544h2v2h-2zM464 546h2v2h-2zM464 548h2v2h-2zM464 550h2v2h-2zM464 552h2v2h-2zM462 558h2v2h-2zM460 568h2v2h-2z"/><path fill="#7f7ff0" d="M434 492h2v2h-2zM438 494h2v2h-2zM448 498h4v2h-4zM446 506h2v2h-2zM464 540h2v2h-2z"/><path fill="#8282f0" d="M436 492h2v2h-2zM442 496h2v2h-2zM452 500h2v2h-2zM450 502h2v2h-2zM446 508h2v2h-2zM464 532h2v2h-2zM464 534h2v2h-2zM464 536h2v2h-2zM464 538h2v2h-2zM464 554h2v2h-2zM462 560h2v2h-2z"/><path fill="#8484f0" d="M434 490h2v2h-2zM440 494h2v2h-2zM448 512h2v2h-2zM458 522h2v2h-2zM460 524h2v2h-2zM464 556h2v2h-2zM462 562h2v2h-2zM462 564h2v2h-2z"/><path fill="#8787f0" d="M438 492h2v2h-2zM444 496h2v2h-2zM448 504h2v2h-2zM456 520h2v2h-2zM464 530h2v2h-2zM462 566h2v2h-2zM462 568h2v2h-2z"/><path fill="#8989f0" d="M436 490h2v2h-2zM450 514h2v2h-2zM452 516h2v2h-2zM454 518h2v2h-2zM462 526h2v2h-2zM462 570h2v2h-2z"/><path fill="#8c8cf0" d="M434 488h2v2h-2zM452 498h2v2h-2zM448 510h2v2h-2zM582 514h2v2h-2zM582 516h2v2h-2zM576 542h2v2h-2zM466 544h2v2h-2zM466 546h2v2h-2zM466 548h2v2h-2zM466 550h2v2h-2zM466 552h2v2h-2zM464 558h2v2h-2z"/><path fill="#8e8ef0" d="M440 492h2v2h-2zM442 494h2v2h-2zM446 496h2v2h-2zM452 502h2v2h-2zM448 506h2v2h-2zM582 512h2v2h-2zM582 518h2v2h-2zM578 536h2v2h-2zM576 540h2v2h-2zM466 542h2v2h-2zM466 554h2v2h-2z"/><path fill="#9191f0" d="M438 490h2v2h-2zM448 508h2v2h-2zM582 510h2v2h-2zM580 512h2v2h-2zM580 514h2v2h-2zM580 516h2v2h-2zM580 518h2v2h-2zM582 520h2v2h-2zM582 522h2v2h-2zM464 528h2v2h-2zM580 530h2v2h-2zM578 534h2v2h-2zM576 536h2v2h-2zM576 538h2v2h-2zM574 542h2v2h-2zM574 544h2v2h-2zM574 546h2v2h-2zM466 556h2v2h-2zM464 560h2v2h-2zM464 562h2v2h-2zM464 564h2v2h-2zM464 566h2v2h-2zM464 568h2v2h-2z"/><path fill="#9393f0" d="M436 488h2v2h-2zM450 504h2v2h-2zM580 510h2v2h-2zM450 512h2v2h-2zM456 518h2v2h-2zM458 520h2v2h-2zM460 522h2v2h-2zM578 532h2v2h-2zM466 540h2v2h-2zM574 540h2v2h-2zM464 570h2v2h-2zM464 572h2v2h-2z"/><path fill="#9696f0" d="M448 496h2v2h-2zM582 508h2v2h-2zM578 512h2v2h-2zM452 514h2v2h-2zM578 514h2v2h-2zM454 516h2v2h-2zM578 516h2v2h-2zM580 520h2v2h-2zM462 524h2v2h-2zM580 528h2v2h-2zM576 534h2v2h-2zM574 536h2v2h-2zM466 538h2v2h-2zM574 538h2v2h-2zM572 544h2v2h-2zM572 546h2v2h-2zM572 548h2v2h-2zM466 558h2v2h-2z"/><path fill="#9898f0" d="M444 494h2v2h-2zM454 500h2v2h-2zM580 508h2v2h-2zM578 510h2v2h-2zM578 518h2v2h-2zM580 522h2v2h-2zM580 524h2v2h-2zM580 526h2v2h-2zM578 530h2v2h-2zM576 532h2v2h-2zM466 534h2v2h-2zM466 536h2v2h-2zM572 540h2v2h-2zM572 542h2v2h-2zM570 552h2v2h-2zM466 560h2v2h-2z"/><path fill="#9b9bf0" d="M436 486h2v2h-2zM438 488h2v2h-2zM440 490h2v2h-2zM442 492h2v2h-2zM578 508h2v2h-2zM450 510h2v2h-2zM578 520h2v2h-2zM464 526h2v2h-2zM578 528h2v2h-2zM466 532h2v2h-2zM574 534h2v2h-2zM572 538h2v2h-2zM570 548h2v2h-2zM570 550h2v2h-2zM468 554h2v2h-2zM568 554h2v2h-2zM468 556h2v2h-2zM466 562h2v2h-2zM466 564h2v2h-2zM466 566h2v2h-2zM466 568h2v2h-2z"/><path fill="#9d9df0" d="M450 496h2v2h-2zM454 502h2v2h-2zM576 512h2v2h-2zM576 514h2v2h-2zM576 516h2v2h-2zM576 518h2v2h-2zM578 522h2v2h-2zM578 526h2v2h-2zM576 530h2v2h-2zM574 532h2v2h-2zM572 536h2v2h-2zM570 540h2v2h-2zM570 542h2v2h-2zM468 544h2v2h-2zM570 544h2v2h-2zM468 546h2v2h-2zM570 546h2v2h-2zM468 548h2v2h-2zM468 550h2v2h-2zM468 552h2v2h-2zM568 552h2v2h-2zM468 558h2v2h-2zM466 570h2v2h-2z"/><path fill="#a0a0f0" d="M452 504h2v2h-2zM450 506h2v2h-2zM580 506h4v2h-4zM450 508h2v2h-2zM576 510h2v2h-2zM452 512h2v2h-2zM454 514h2v2h-2zM456 516h2v2h-2zM458 518h2v2h-2zM460 520h2v2h-2zM578 524h2v2h-2zM466 530h2v2h-2zM572 534h2v2h-2zM570 538h2v2h-2zM568 550h2v2h-2zM566 554h2v2h-2zM566 556h2v2h-2zM468 560h2v2h-2zM466 572h2v2h-2z"/><path fill="#a2a2f0" d="M436 484h2v2h-2zM454 498h2v2h-2zM578 506h2v2h-2zM576 508h2v2h-2zM576 520h2v2h-2zM462 522h2v2h-2zM576 528h2v2h-2zM574 530h2v2h-2zM572 532h2v2h-2zM570 536h2v2h-2zM468 542h2v2h-2zM568 546h2v2h-2zM568 548h2v2h-2zM566 552h2v2h-2zM468 562h2v2h-2z"/><path fill="#a5a5f0" d="M438 486h2v2h-2zM446 494h2v2h-2zM576 522h2v2h-2zM576 526h2v2h-2zM570 534h2v2h-2zM568 540h2v2h-2zM568 542h2v2h-2zM568 544h2v2h-2zM566 550h2v2h-2zM564 556h2v2h-2zM468 564h2v2h-2zM468 566h2v2h-2zM468 568h2v2h-2z"/><path fill="#a7a7f0" d="M440 488h2v2h-2zM454 504h2v2h-2zM576 506h2v2h-2zM452 510h2v2h-2zM574 512h2v2h-2zM574 514h2v2h-2zM574 516h2v2h-2zM574 518h2v2h-2zM464 524h2v2h-2zM576 524h2v2h-2zM466 528h2v2h-2zM574 528h2v2h-2zM572 530h2v2h-2zM570 532h2v2h-2zM568 536h2v2h-2zM568 538h2v2h-2zM468 540h2v2h-2zM566 548h2v2h-2zM564 554h2v2h-2zM470 556h2v2h-2zM470 558h2v2h-2zM564 558h2v2h-2zM468 570h2v2h-2z"/><path fill="#aaaaf0" d="M442 490h2v2h-2zM444 492h2v2h-2zM452 496h2v2h-2zM574 510h2v2h-2zM454 512h2v2h-2zM456 514h2v2h-2zM574 520h2v2h-2zM568 534h2v2h-2zM566 546h2v2h-2zM564 552h2v2h-2zM470 560h2v2h-2zM564 560h2v2h-2zM468 572h2v2h-2z"/><path fill="#acacf0" d="M456 500h2v2h-2zM456 502h2v2h-2zM580 504h4v2h-4zM452 506h2v2h-2zM452 508h2v2h-2zM458 516h2v2h-2zM574 522h2v2h-2zM574 526h2v2h-2zM570 530h2v2h-2zM568 532h2v2h-2zM468 538h2v2h-2zM566 540h2v2h-2zM566 542h2v2h-2zM566 544h2v2h-2zM564 550h2v2h-2zM470 554h2v2h-2zM562 554h2v2h-2zM562 556h2v2h-2zM562 558h2v2h-2zM470 562h2v2h-2zM468 574h2v2h-2z"/><path fill="#afaff0" d="M438 484h2v2h-2zM578 504h2v2h-2zM574 508h2v2h-2zM454 510h2v2h-2zM460 518h2v2h-2zM574 524h2v2h-2zM466 526h2v2h-2zM572 528h2v2h-2zM468 536h2v2h-2zM566 536h2v2h-2zM566 538h2v2h-2zM564 548h2v2h-2zM470 552h2v2h-2zM470 564h2v2h-2zM470 566h2v2h-2z"/><path fill="#b1b1f0" d="M448 494h2v2h-2zM456 504h2v2h-2zM454 506h2v2h-2zM456 512h2v2h-2zM572 516h2v2h-2zM572 518h2v2h-2zM462 520h2v2h-2zM572 520h2v2h-2zM568 530h2v2h-2zM566 534h2v2h-2zM470 546h2v2h-2zM564 546h2v2h-2zM470 548h2v2h-2zM470 550h2v2h-2zM562 552h2v2h-2zM562 560h2v2h-2zM470 568h2v2h-2zM470 570h2v2h-2z"/><path fill="#b4b4f0" d="M440 486h2v2h-2zM576 504h2v2h-2zM454 508h2v2h-2zM458 514h2v2h-2zM572 514h2v2h-2zM464 522h2v2h-2zM572 522h2v2h-2zM572 524h2v2h-2zM572 526h2v2h-2zM570 528h2v2h-2zM468 532h2v2h-2zM566 532h2v2h-2zM468 534h2v2h-2zM564 542h2v2h-2zM470 544h2v2h-2zM564 544h2v2h-2zM562 550h2v2h-2zM560 556h2v2h-2zM562 562h2v2h-2z"/><path fill="#b6b6f0" d="M438 482h2v2h-2zM442 488h2v2h-2zM456 498h2v2h-2zM456 506h2v2h-2zM574 506h2v2h-2zM456 510h2v2h-2zM572 512h2v2h-2zM570 526h2v2h-2zM568 528h2v2h-2zM566 530h2v2h-2zM564 536h2v2h-2zM564 538h2v2h-2zM564 540h2v2h-2zM562 548h2v2h-2zM560 554h2v2h-2zM560 558h2v2h-2zM470 572h2v2h-2z"/><path fill="#b9b9f0" d="M456 508h2v2h-2zM572 510h2v2h-2zM460 516h2v2h-2zM468 530h2v2h-2zM564 534h2v2h-2zM470 542h2v2h-2zM562 546h2v2h-2zM560 552h2v2h-2zM472 558h2v2h-2zM472 560h2v2h-2zM560 560h2v2h-2zM470 574h2v2h-2z"/><path fill="#bbbbf0" d="M438 480h2v2h-2zM444 490h2v2h-2zM446 492h2v2h-2zM454 496h2v2h-2zM458 502h2v2h-2zM582 502h2v2h-2zM458 504h2v2h-2zM458 512h2v2h-2zM570 518h2v2h-2zM570 520h2v2h-2zM570 522h2v2h-2zM466 524h2v2h-2zM570 524h2v2h-2zM568 526h2v2h-2zM566 528h2v2h-2zM564 532h2v2h-2zM562 544h2v2h-2zM560 550h2v2h-2zM472 556h2v2h-2zM472 562h2v2h-2zM472 564h2v2h-2zM470 576h2v2h-2z"/><path fill="#bebef0" d="M438 478h2v2h-2zM440 484h2v2h-2zM580 502h2v2h-2zM458 506h2v2h-2zM572 508h2v2h-2zM458 510h2v2h-2zM570 516h2v2h-2zM462 518h2v2h-2zM468 528h2v2h-2zM564 530h2v2h-2zM562 538h2v2h-2zM470 540h2v2h-2zM562 540h2v2h-2zM562 542h2v2h-2zM560 562h2v2h-2zM472 566h2v2h-2zM472 568h2v2h-2z"/><path fill="#c0c0f0" d="M458 500h2v2h-2zM578 502h2v2h-2zM574 504h2v2h-2zM458 508h2v2h-2zM460 514h2v2h-2zM570 514h2v2h-2zM568 522h2v2h-2zM568 524h2v2h-2zM566 526h2v2h-2zM562 534h2v2h-2zM562 536h2v2h-2zM560 548h2v2h-2zM558 554h2v2h-2zM558 556h2v2h-2zM558 558h2v2h-2zM472 570h2v2h-2z"/><path fill="#c3c3f0" d="M442 486h2v2h-2zM450 494h2v2h-2zM570 512h2v2h-2zM464 520h2v2h-2zM568 520h2v2h-2zM564 528h2v2h-2zM562 532h2v2h-2zM560 546h2v2h-2zM558 552h2v2h-2zM472 554h2v2h-2zM558 560h2v2h-2zM560 564h2v2h-2zM472 572h2v2h-2z"/><path fill="#c5c5f0" d="M440 482h2v2h-2zM576 502h2v2h-2zM572 506h2v2h-2zM460 512h2v2h-2zM568 518h2v2h-2zM566 524h2v2h-2zM468 526h2v2h-2zM562 530h2v2h-2zM470 538h2v2h-2zM560 542h2v2h-2zM560 544h2v2h-2zM558 550h2v2h-2zM472 574h2v2h-2z"/><path fill="#c8c8f0" d="M444 488h2v2h-2zM460 504h2v2h-2zM460 506h2v2h-2zM460 508h2v2h-2zM460 510h2v2h-2zM570 510h2v2h-2zM462 516h2v2h-2zM568 516h2v2h-2zM466 522h2v2h-2zM566 522h2v2h-2zM564 526h2v2h-2zM560 536h2v2h-2zM560 538h2v2h-2zM560 540h2v2h-2zM472 546h2v2h-2zM472 548h2v2h-2zM558 548h2v2h-2zM472 550h2v2h-2zM472 552h2v2h-2zM558 562h2v2h-2zM472 576h2v2h-2z"/><path fill="#cacaf0" d="M440 480h2v2h-2zM456 496h2v2h-2zM458 498h2v2h-2zM460 502h2v2h-2zM566 520h2v2h-2zM564 524h2v2h-2zM562 528h2v2h-2zM560 534h2v2h-2zM470 536h2v2h-2zM472 544h2v2h-2zM558 546h2v2h-2zM474 560h2v2h-2zM474 562h2v2h-2zM474 564h2v2h-2z"/><path fill="#cdcdf0" d="M440 476h2v2h-2zM440 478h2v2h-2zM442 484h2v2h-2zM446 490h2v2h-2zM448 492h2v2h-2zM582 500h2v2h-2zM462 514h2v2h-2zM568 514h2v2h-2zM464 518h2v2h-2zM566 518h2v2h-2zM560 532h2v2h-2zM470 534h2v2h-2zM558 544h2v2h-2zM556 554h2v2h-2zM556 556h2v2h-2zM474 558h2v2h-2zM556 558h2v2h-2zM558 564h2v2h-2zM474 566h2v2h-2zM474 568h2v2h-2z"/><path fill="#cfcff0" d="M452 494h2v2h-2zM460 500h2v2h-2zM580 500h2v2h-2zM574 502h2v2h-2zM572 504h2v2h-2zM570 508h2v2h-2zM564 522h2v2h-2zM468 524h2v2h-2zM562 526h2v2h-2zM560 530h2v2h-2zM470 532h2v2h-2zM558 540h2v2h-2zM472 542h2v2h-2zM558 542h2v2h-2zM556 552h2v2h-2zM556 560h2v2h-2zM558 566h2v2h-2zM474 570h2v2h-2z"/><path fill="#d2d2f0" d="M462 506h2v2h-2zM462 508h2v2h-2zM462 510h2v2h-2zM462 512h2v2h-2zM568 512h2v2h-2zM566 516h2v2h-2zM562 524h2v2h-2zM560 528h2v2h-2zM470 530h2v2h-2zM558 536h2v2h-2zM558 538h2v2h-2zM556 550h2v2h-2zM556 562h2v2h-2zM474 572h2v2h-2z"/><path fill="#d4d4f0" d="M442 482h2v2h-2zM444 486h2v2h-2zM578 500h2v2h-2zM462 504h2v2h-2zM466 520h2v2h-2zM564 520h2v2h-2zM470 528h2v2h-2zM558 532h2v2h-2zM558 534h2v2h-2zM472 540h2v2h-2zM556 548h2v2h-2zM474 556h2v2h-2zM474 574h2v2h-2z"/><path fill="#d7d7f0" d="M576 500h2v2h-2zM462 502h2v2h-2zM570 506h2v2h-2zM566 514h2v2h-2zM464 516h2v2h-2zM564 518h2v2h-2zM562 522h2v2h-2zM560 526h2v2h-2zM558 530h2v2h-2zM556 544h2v2h-2zM556 546h2v2h-2zM556 564h2v2h-2zM474 576h2v2h-2z"/><path fill="#d9d9f0" d="M442 480h2v2h-2zM454 494h2v2h-2zM458 496h2v2h-2zM460 498h2v2h-2zM572 502h2v2h-2zM568 510h2v2h-2zM468 522h2v2h-2zM560 524h2v2h-2zM470 526h2v2h-2zM556 538h2v2h-2zM556 540h2v2h-2zM556 542h2v2h-2zM554 554h2v2h-2zM554 556h2v2h-2zM554 558h2v2h-2zM476 562h2v2h-2zM556 566h2v2h-2zM474 578h2v2h-2z"/><path fill="#dcdcf0" d="M442 474h2v2h-2zM442 476h2v2h-2zM442 478h2v2h-2zM446 488h2v2h-2zM582 498h2v2h-2zM574 500h2v2h-2zM570 504h2v2h-2zM464 514h2v2h-2zM564 516h2v2h-2zM562 520h2v2h-2zM558 528h2v2h-2zM556 534h2v2h-2zM556 536h2v2h-2zM472 538h2v2h-2zM474 546h2v2h-2zM474 548h2v2h-2zM554 552h2v2h-2zM474 554h2v2h-2zM476 560h2v2h-2zM554 560h2v2h-2zM554 562h2v2h-2zM476 564h2v2h-2zM476 566h2v2h-2z"/><path fill="#dedef0" d="M442 472h2v2h-2zM444 484h2v2h-2zM462 500h2v2h-2zM464 506h2v2h-2zM464 508h2v2h-2zM568 508h2v2h-2zM464 510h2v2h-2zM464 512h2v2h-2zM566 512h2v2h-2zM466 518h2v2h-2zM560 522h2v2h-2zM558 526h2v2h-2zM556 532h2v2h-2zM474 544h2v2h-2zM554 548h2v2h-2zM474 550h2v2h-2zM554 550h2v2h-2zM474 552h2v2h-2zM476 568h2v2h-2zM476 570h2v2h-2z"/><path fill="#e1e1f0" d="M448 490h2v2h-2zM450 492h2v2h-2zM580 498h2v2h-2zM464 504h2v2h-2zM562 518h2v2h-2zM470 524h2v2h-2zM556 530h2v2h-2zM554 544h2v2h-2zM554 546h2v2h-2zM476 558h2v2h-2zM554 564h2v2h-2zM476 572h2v2h-2z"/><path fill="#e3e3f0" d="M444 482h2v2h-2zM456 494h2v2h-2zM578 498h2v2h-2zM572 500h2v2h-2zM570 502h2v2h-2zM564 514h2v2h-2zM468 520h2v2h-2zM560 520h2v2h-2zM558 524h2v2h-2zM556 528h2v2h-2zM472 536h2v2h-2zM554 538h2v2h-2zM554 540h2v2h-2zM474 542h2v2h-2zM554 542h2v2h-2zM554 566h2v2h-2zM554 568h2v2h-2zM476 574h2v2h-2z"/><path fill="#e6e6f0" d="M446 486h2v2h-2zM460 496h2v2h-2zM576 498h2v2h-2zM464 502h2v2h-2zM568 506h2v2h-2zM566 510h2v2h-2zM466 516h2v2h-2zM562 516h2v2h-2zM472 534h2v2h-2zM554 534h2v2h-2zM554 536h2v2h-2zM552 558h2v2h-2zM552 560h2v2h-2zM552 562h2v2h-2zM476 576h2v2h-2zM476 578h2v2h-2z"/><path fill="#e8e8f0" d="M444 480h2v2h-2zM462 498h2v2h-2zM470 522h2v2h-2zM558 522h2v2h-2zM556 526h2v2h-2zM472 528h2v2h-2zM472 530h2v2h-2zM472 532h2v2h-2zM554 532h2v2h-2zM552 552h2v2h-2zM552 554h2v2h-2zM476 556h2v2h-2zM552 556h2v2h-2zM552 564h2v2h-2z"/><path fill="#ebebf0" d="M444 474h2v2h-2zM444 476h2v2h-2zM444 478h2v2h-2zM574 498h2v2h-2zM464 500h2v2h-2zM570 500h2v2h-2zM568 504h2v2h-2zM466 508h2v2h-2zM564 512h2v2h-2zM466 514h2v2h-2zM560 518h2v2h-2zM556 524h2v2h-2zM554 530h2v2h-2zM474 540h2v2h-2zM476 546h2v2h-2zM476 548h2v2h-2zM552 548h2v2h-2zM552 550h2v2h-2zM478 560h2v2h-2zM478 562h2v2h-2zM478 564h2v2h-2zM478 566h2v2h-2zM552 566h2v2h-2zM552 568h2v2h-2zM552 570h2v2h-2z"/><path fill="#ededf0" d="M444 470h2v2h-2zM444 472h2v2h-2zM446 484h2v2h-2zM448 488h2v2h-2zM452 492h2v2h-2zM458 494h2v2h-2zM580 496h2v2h-2zM572 498h2v2h-2zM466 504h2v2h-2zM466 506h2v2h-2zM566 508h2v2h-2zM466 510h2v2h-2zM466 512h2v2h-2zM562 514h2v2h-2zM468 518h2v2h-2zM558 520h2v2h-2zM472 526h2v2h-2zM554 528h2v2h-2zM552 538h2v2h-2zM552 540h2v2h-2zM552 542h2v2h-2zM476 544h2v2h-2zM552 544h2v2h-2zM552 546h2v2h-2zM476 550h2v2h-2zM478 568h2v2h-2z"/><path fill="#f0f0f0" d="M444 468h2v2h-2zM578 496h2v2h-2zM568 502h2v2h-2zM564 510h2v2h-2zM560 516h2v2h-2zM556 522h2v2h-2zM472 524h2v2h-2zM554 526h2v2h-2zM552 534h2v2h-2zM552 536h2v2h-2zM476 554h2v2h-2zM478 558h2v2h-2zM550 560h2v2h-2zM550 562h2v2h-2zM550 564h2v2h-2zM550 566h2v2h-2zM550 568h2v2h-2zM478 570h2v2h-2zM478 572h2v2h-2z"/><path fill="#f0eded" d="M450 490h2v2h-2zM454 492h2v2h-2zM576 496h2v2h-2zM570 498h2v2h-2zM466 502h2v2h-2zM562 512h2v2h-2zM558 518h2v2h-2zM470 520h2v2h-2zM552 532h2v2h-2zM474 538h2v2h-2zM476 552h2v2h-2zM550 558h2v2h-2zM550 570h2v2h-2zM550 572h2v2h-2zM478 574h2v2h-2zM478 576h2v2h-2zM478 578h2v2h-2z"/><path fill="#f0ebeb" d="M446 482h2v2h-2zM448 486h2v2h-2zM580 494h2v2h-2zM462 496h2v2h-2zM572 496h4v2h-4zM464 498h2v2h-2zM568 500h2v2h-2zM566 506h2v2h-2zM560 514h2v2h-2zM468 516h2v2h-2zM556 520h2v2h-2zM554 524h2v2h-2zM552 530h2v2h-2zM476 542h2v2h-2zM478 556h2v2h-2zM550 556h2v2h-2z"/><path fill="#f0e8e8" d="M446 480h2v2h-2zM456 492h2v2h-2zM460 494h2v2h-2zM466 500h2v2h-2zM566 504h2v2h-2zM468 506h2v2h-2zM468 508h2v2h-2zM564 508h2v2h-2zM468 514h2v2h-2zM558 516h2v2h-2zM472 522h2v2h-2zM552 528h2v2h-2zM474 536h2v2h-2zM550 536h2v2h-2zM550 538h2v2h-2zM550 540h2v2h-2zM550 542h2v2h-2zM550 544h2v2h-2zM478 546h2v2h-2zM550 546h2v2h-2zM478 548h2v2h-2zM550 548h2v2h-2zM550 550h2v2h-2zM550 552h2v2h-2zM550 554h2v2h-2zM480 560h2v2h-2zM480 562h2v2h-2zM548 564h2v2h-2zM548 566h2v2h-2zM548 568h2v2h-2z"/><path fill="#f0e6e6" d="M446 472h2v2h-2zM446 474h2v2h-2zM446 476h2v2h-2zM446 478h2v2h-2zM576 494h4v2h-4zM570 496h2v2h-2zM568 498h2v2h-2zM566 502h2v2h-2zM468 504h2v2h-2zM468 510h2v2h-2zM562 510h2v2h-2zM468 512h2v2h-2zM470 518h2v2h-2zM554 522h2v2h-2zM552 526h2v2h-2zM474 528h2v2h-2zM474 530h2v2h-2zM550 532h2v2h-2zM550 534h2v2h-2zM478 544h2v2h-2zM478 550h2v2h-2zM478 554h2v2h-2zM480 558h2v2h-2zM548 562h2v2h-2zM480 564h2v2h-2zM480 566h2v2h-2zM548 570h2v2h-2zM548 572h2v2h-2z"/><path fill="#f0e3e3" d="M446 470h2v2h-2zM448 484h2v2h-2zM450 488h2v2h-2zM572 494h4v2h-4zM568 496h2v2h-2zM566 500h2v2h-2zM564 506h2v2h-2zM560 512h2v2h-2zM556 518h2v2h-2zM472 520h2v2h-2zM474 526h2v2h-2zM550 530h2v2h-2zM474 532h2v2h-2zM474 534h2v2h-2zM476 540h2v2h-2zM478 552h2v2h-2zM480 556h2v2h-2zM548 560h2v2h-2zM480 568h2v2h-2z"/><path fill="#f0e1e1" d="M446 466h2v2h-2zM446 468h2v2h-2zM452 490h2v2h-2zM458 492h2v2h-2zM578 492h4v2h-4zM570 494h2v2h-2zM464 496h2v2h-2zM468 502h2v2h-2zM558 514h2v2h-2zM470 516h2v2h-2zM554 520h2v2h-2zM474 524h2v2h-2zM552 524h2v2h-2zM480 546h2v2h-2zM480 548h2v2h-2zM480 570h2v2h-2zM480 572h2v2h-2zM480 574h2v2h-2zM480 576h2v2h-2zM480 578h2v2h-2zM480 580h2v2h-2z"/><path fill="#f0dede" d="M448 482h2v2h-2zM574 492h4v2h-4zM462 494h2v2h-2zM568 494h2v2h-2zM466 498h2v2h-2zM566 498h2v2h-2zM564 504h2v2h-2zM562 508h2v2h-2zM560 510h2v2h-2zM556 516h2v2h-2zM550 528h2v2h-2zM548 534h2v2h-2zM548 536h2v2h-2zM548 538h2v2h-2zM548 540h2v2h-2zM478 542h2v2h-2zM548 542h2v2h-2zM480 544h2v2h-2zM480 550h2v2h-2zM480 552h2v2h-2zM480 554h2v2h-2zM482 558h2v2h-2zM548 558h2v2h-2zM546 568h2v2h-2zM546 570h2v2h-2z"/><path fill="#f0dcdc" d="M448 480h2v2h-2zM450 486h2v2h-2zM454 490h2v2h-2zM580 490h2v2h-2zM570 492h4v2h-4zM566 496h2v2h-2zM468 500h2v2h-2zM564 502h2v2h-2zM470 504h2v2h-2zM470 506h2v2h-2zM470 508h2v2h-2zM470 510h2v2h-2zM470 512h2v2h-2zM558 512h2v2h-2zM470 514h2v2h-2zM472 518h2v2h-2zM554 518h2v2h-2zM474 522h2v2h-2zM552 522h2v2h-2zM550 526h2v2h-2zM548 532h2v2h-2zM476 538h2v2h-2zM482 544h2v2h-2zM548 544h2v2h-2zM482 546h2v2h-2zM548 546h2v2h-2zM482 548h2v2h-2zM548 548h2v2h-2zM548 550h2v2h-2zM548 552h2v2h-2zM548 554h2v2h-2zM482 556h2v2h-2zM548 556h2v2h-2zM482 560h2v2h-2zM482 562h2v2h-2zM546 564h2v2h-2zM546 566h2v2h-2zM546 572h2v2h-2zM546 574h2v2h-2z"/><path fill="#f0d9d9" d="M448 474h2v2h-2zM448 476h2v2h-2zM448 478h2v2h-2zM578 490h2v2h-2zM460 492h2v2h-2zM568 492h2v2h-2zM566 494h2v2h-2zM564 500h2v2h-2zM562 506h2v2h-2zM556 514h2v2h-2zM474 520h2v2h-2zM548 530h2v2h-2zM482 550h2v2h-2zM482 554h2v2h-2zM546 562h2v2h-2zM482 564h2v2h-2zM482 580h2v2h-2z"/><path fill="#f0d7d7" d="M448 464h2v2h-2zM448 472h2v2h-2zM450 484h2v2h-2zM452 488h2v2h-2zM456 490h2v2h-2zM572 490h6v2h-6zM466 496h2v2h-2zM564 498h2v2h-2zM470 502h2v2h-2zM562 504h2v2h-2zM560 508h2v2h-2zM558 510h2v2h-2zM472 516h2v2h-2zM554 516h2v2h-2zM552 520h2v2h-2zM550 524h2v2h-2zM476 526h2v2h-2zM476 528h2v2h-2zM548 528h2v2h-2zM476 536h2v2h-2zM478 540h2v2h-2zM480 542h2v2h-2zM482 552h2v2h-2zM546 560h2v2h-2zM482 566h2v2h-2zM482 578h2v2h-2z"/><path fill="#f0d4d4" d="M448 466h2v2h-2zM448 468h2v2h-2zM448 470h2v2h-2zM570 490h2v2h-2zM566 492h2v2h-2zM464 494h2v2h-2zM564 496h2v2h-2zM468 498h2v2h-2zM562 502h2v2h-2zM556 512h2v2h-2zM472 514h2v2h-2zM474 518h2v2h-2zM476 524h2v2h-2zM476 530h2v2h-2zM476 532h2v2h-2zM546 532h2v2h-2zM476 534h2v2h-2zM546 534h2v2h-2zM546 536h2v2h-2zM546 538h2v2h-2zM546 540h2v2h-2zM482 542h2v2h-2zM484 544h2v2h-2zM484 546h2v2h-2zM546 558h2v2h-2zM482 568h2v2h-2zM482 570h2v2h-2zM482 572h2v2h-2zM482 574h2v2h-2zM482 576h2v2h-2z"/><path fill="#f0d2d2" d="M450 482h2v2h-2zM576 488h4v2h-4zM458 490h2v2h-2zM568 490h2v2h-2zM462 492h2v2h-2zM564 494h2v2h-2zM470 500h2v2h-2zM562 500h2v2h-2zM472 504h2v2h-2zM472 506h2v2h-2zM560 506h2v2h-2zM472 508h2v2h-2zM558 508h2v2h-2zM472 510h2v2h-2zM472 512h2v2h-2zM554 514h2v2h-2zM552 518h2v2h-2zM476 522h2v2h-2zM550 522h2v2h-2zM548 526h2v2h-2zM546 530h2v2h-2zM546 542h2v2h-2zM546 544h2v2h-2zM546 546h2v2h-2zM484 548h2v2h-2zM546 548h2v2h-2zM484 550h2v2h-2zM484 554h2v2h-2zM484 556h2v2h-2zM546 556h2v2h-2zM484 558h2v2h-2zM544 566h2v2h-2zM544 568h2v2h-2zM544 570h2v2h-2zM544 572h2v2h-2zM544 574h2v2h-2zM484 580h2v2h-2z"/><path fill="#f0cfcf" d="M450 462h2v2h-2zM450 478h2v2h-2zM450 480h2v2h-2zM452 486h2v2h-2zM454 488h2v2h-2zM574 488h2v2h-2zM562 498h2v2h-2zM472 502h2v2h-2zM560 504h2v2h-2zM556 510h2v2h-2zM474 516h2v2h-2zM476 520h2v2h-2zM548 524h2v2h-2zM546 528h2v2h-2zM478 538h2v2h-2zM546 550h2v2h-2zM484 552h2v2h-2zM546 552h2v2h-2zM546 554h2v2h-2zM484 560h2v2h-2zM484 562h2v2h-2zM544 564h2v2h-2zM484 578h2v2h-2z"/><path fill="#f0cdcd" d="M452 460h2v2h-2zM450 474h2v2h-2zM450 476h2v2h-2zM572 488h2v2h-2zM468 496h2v2h-2zM560 502h2v2h-2zM492 504h2v2h-2zM492 506h4v2h-4zM558 506h2v2h-2zM554 512h2v2h-2zM552 516h2v2h-2zM476 518h2v2h-2zM550 520h2v2h-2zM478 524h2v2h-2zM478 526h2v2h-2zM544 532h2v2h-2zM544 534h2v2h-2zM544 536h2v2h-2zM480 540h2v2h-2zM484 542h2v2h-2zM544 562h2v2h-2zM484 564h2v2h-2zM484 576h2v2h-2zM486 582h2v2h-2z"/><path fill="#f0caca" d="M450 464h2v2h-2zM450 472h2v2h-2zM452 484h2v2h-2zM576 486h4v2h-4zM456 488h2v2h-2zM570 488h2v2h-2zM460 490h2v2h-2zM566 490h2v2h-2zM564 492h2v2h-2zM466 494h2v2h-2zM562 496h2v2h-2zM470 498h2v2h-2zM472 500h2v2h-2zM560 500h2v2h-2zM490 504h2v2h-2zM494 504h2v2h-2zM474 506h2v2h-2zM490 506h2v2h-2zM496 506h2v2h-2zM474 508h2v2h-2zM492 508h4v2h-4zM556 508h2v2h-2zM474 510h2v2h-2zM474 512h2v2h-2zM474 514h2v2h-2zM552 514h2v2h-2zM550 518h2v2h-2zM478 520h2v2h-2zM478 522h2v2h-2zM548 522h2v2h-2zM546 526h2v2h-2zM478 528h2v2h-2zM478 530h2v2h-2zM544 530h2v2h-2zM478 536h2v2h-2zM544 538h2v2h-2zM482 540h2v2h-2zM544 540h2v2h-2zM544 560h2v2h-2zM484 566h2v2h-2zM484 572h2v2h-2zM484 574h2v2h-2zM542 576h2v2h-2zM486 580h2v2h-2z"/><path fill="#f0c8c8" d="M454 458h2v2h-2zM450 466h2v2h-2zM450 468h2v2h-2zM450 470h2v2h-2zM452 482h2v2h-2zM454 486h2v2h-2zM574 486h2v2h-2zM568 488h2v2h-2zM464 492h2v2h-2zM562 494h2v2h-2zM474 504h2v2h-2zM496 504h2v2h-2zM558 504h2v2h-2zM498 506h2v2h-2zM496 508h2v2h-2zM554 510h2v2h-2zM476 516h2v2h-2zM544 528h2v2h-2zM478 532h2v2h-2zM478 534h2v2h-2zM544 542h2v2h-2zM486 544h2v2h-2zM544 544h2v2h-2zM486 546h2v2h-2zM544 546h2v2h-2zM486 548h2v2h-2zM544 558h2v2h-2zM484 568h2v2h-2zM484 570h2v2h-2zM542 572h2v2h-2zM542 574h2v2h-2zM486 578h2v2h-2z"/><path fill="#f0c5c5" d="M456 456h2v2h-2zM452 462h2v2h-2zM452 478h2v2h-2zM452 480h2v2h-2zM572 486h2v2h-2zM458 488h2v2h-2zM462 490h2v2h-2zM560 498h2v2h-2zM474 502h2v2h-2zM492 502h4v2h-4zM558 502h2v2h-2zM498 504h2v2h-2zM556 506h2v2h-2zM490 508h2v2h-2zM498 508h2v2h-2zM554 508h2v2h-2zM494 510h2v2h-2zM552 512h2v2h-2zM550 516h2v2h-2zM478 518h2v2h-2zM480 520h2v2h-2zM548 520h2v2h-2zM480 522h2v2h-2zM480 524h2v2h-2zM546 524h2v2h-2zM480 526h2v2h-2zM542 532h2v2h-2zM542 534h2v2h-2zM480 538h2v2h-2zM484 540h2v2h-2zM544 548h2v2h-2zM486 550h2v2h-2zM544 550h2v2h-2zM486 552h2v2h-2zM544 552h2v2h-2zM486 554h2v2h-2zM544 554h2v2h-2zM486 556h2v2h-2zM544 556h2v2h-2zM542 566h2v2h-2zM542 568h2v2h-2zM542 570h2v2h-2zM486 576h2v2h-2zM488 580h2v2h-2zM488 582h2v2h-2z"/><path fill="#f0c3c3" d="M454 460h2v2h-2zM452 476h2v2h-2zM454 484h2v2h-2zM576 484h4v2h-4zM456 486h2v2h-2zM570 486h2v2h-2zM566 488h2v2h-2zM564 490h2v2h-2zM468 494h2v2h-2zM470 496h2v2h-2zM560 496h2v2h-2zM472 498h2v2h-2zM558 500h2v2h-2zM490 502h2v2h-2zM496 502h2v2h-2zM476 504h2v2h-2zM488 504h2v2h-2zM500 504h2v2h-2zM556 504h2v2h-2zM476 506h2v2h-2zM488 506h2v2h-2zM500 506h2v2h-2zM500 508h2v2h-2zM492 510h2v2h-2zM496 510h4v2h-4zM552 510h2v2h-2zM476 514h2v2h-2zM550 514h2v2h-2zM544 526h2v2h-2zM480 528h2v2h-2zM542 530h2v2h-2zM542 536h2v2h-2zM542 538h2v2h-2zM486 542h2v2h-2zM486 558h2v2h-2zM486 560h2v2h-2zM542 562h2v2h-2zM542 564h2v2h-2zM486 574h2v2h-2zM488 578h2v2h-2z"/><path fill="#f0c0c0" d="M456 458h2v2h-2zM452 464h2v2h-2zM452 472h2v2h-2zM452 474h2v2h-2zM454 482h2v2h-2zM574 484h2v2h-2zM460 488h2v2h-2zM466 492h2v2h-2zM562 492h2v2h-2zM558 498h2v2h-2zM474 500h2v2h-2zM498 502h2v2h-2zM556 502h2v2h-2zM502 506h2v2h-2zM554 506h2v2h-2zM476 508h2v2h-2zM502 508h2v2h-2zM476 510h2v2h-2zM490 510h2v2h-2zM476 512h2v2h-2zM478 516h2v2h-2zM480 518h2v2h-2zM548 518h2v2h-2zM482 520h2v2h-2zM482 522h2v2h-2zM546 522h2v2h-2zM482 524h2v2h-2zM544 524h2v2h-2zM542 528h2v2h-2zM480 530h2v2h-2zM480 532h2v2h-2zM480 534h2v2h-2zM480 536h2v2h-2zM482 538h2v2h-2zM542 540h2v2h-2zM542 560h2v2h-2zM486 562h2v2h-2zM486 564h2v2h-2zM486 570h2v2h-2zM486 572h2v2h-2zM488 576h2v2h-2zM540 576h2v2h-2z"/><path fill="#f0bebe" d="M458 454h2v2h-2zM454 462h2v2h-2zM452 466h2v2h-2zM452 470h2v2h-2zM454 478h2v2h-2zM454 480h2v2h-2zM456 484h2v2h-2zM572 484h2v2h-2zM458 486h2v2h-2zM568 486h2v2h-2zM464 490h2v2h-2zM560 494h2v2h-2zM492 500h4v2h-4zM556 500h2v2h-2zM476 502h2v2h-2zM488 502h2v2h-2zM500 502h2v2h-2zM502 504h2v2h-2zM554 504h2v2h-2zM488 508h2v2h-2zM552 508h2v2h-2zM500 510h2v2h-2zM492 512h6v2h-6zM550 512h2v2h-2zM478 514h2v2h-2zM548 516h2v2h-2zM482 518h2v2h-2zM546 520h2v2h-2zM482 526h2v2h-2zM542 526h2v2h-2zM540 532h2v2h-2zM484 538h2v2h-2zM486 540h2v2h-2zM542 542h2v2h-2zM542 544h2v2h-2zM542 546h2v2h-2zM542 558h2v2h-2zM486 566h2v2h-2zM486 568h2v2h-2zM488 574h2v2h-2zM540 574h2v2h-2zM490 580h2v2h-2zM490 582h2v2h-2z"/><path fill="#f0bbbb" d="M458 456h2v2h-2zM456 460h2v2h-2zM452 468h2v2h-2zM454 476h2v2h-2zM456 482h2v2h-2zM462 488h2v2h-2zM470 494h2v2h-2zM472 496h2v2h-2zM558 496h2v2h-2zM474 498h2v2h-2zM476 500h2v2h-2zM490 500h2v2h-2zM496 500h2v2h-2zM554 502h2v2h-2zM478 504h2v2h-2zM486 504h2v2h-2zM478 506h2v2h-2zM504 506h2v2h-2zM552 506h2v2h-2zM504 508h2v2h-2zM502 510h2v2h-2zM550 510h2v2h-2zM490 512h2v2h-2zM498 512h2v2h-2zM548 514h2v2h-2zM480 516h2v2h-2zM484 520h2v2h-2zM484 522h2v2h-2zM544 522h2v2h-2zM484 524h2v2h-2zM482 528h2v2h-2zM540 528h2v2h-2zM482 530h2v2h-2zM540 530h2v2h-2zM540 534h2v2h-2zM482 536h2v2h-2zM540 536h2v2h-2zM488 546h2v2h-2zM542 548h2v2h-2zM542 550h2v2h-2zM542 552h2v2h-2zM542 554h2v2h-2zM542 556h2v2h-2zM540 570h2v2h-2zM488 572h2v2h-2zM540 572h2v2h-2zM490 578h2v2h-2z"/><path fill="#f0b9b9" d="M454 464h2v2h-2zM454 474h2v2h-2zM456 480h2v2h-2zM576 482h2v2h-2zM458 484h2v2h-2zM570 484h2v2h-2zM460 486h2v2h-2zM566 486h2v2h-2zM564 488h2v2h-2zM562 490h2v2h-2zM468 492h2v2h-2zM556 498h2v2h-2zM498 500h2v2h-2zM554 500h2v2h-2zM478 502h2v2h-2zM486 502h2v2h-2zM502 502h2v2h-2zM504 504h2v2h-2zM552 504h2v2h-2zM486 506h2v2h-2zM550 506h2v2h-2zM478 508h2v2h-2zM550 508h2v2h-2zM478 510h2v2h-2zM488 510h2v2h-2zM478 512h2v2h-2zM500 512h2v2h-2zM548 512h2v2h-2zM492 514h4v2h-4zM482 516h2v2h-2zM484 518h2v2h-2zM546 518h2v2h-2zM486 520h2v2h-2zM486 522h2v2h-2zM542 524h2v2h-2zM484 526h2v2h-2zM540 526h2v2h-2zM482 532h2v2h-2zM482 534h2v2h-2zM540 538h2v2h-2zM488 544h2v2h-2zM488 548h2v2h-2zM488 550h2v2h-2zM540 564h2v2h-2zM540 566h2v2h-2zM540 568h2v2h-2zM488 570h2v2h-2zM490 576h2v2h-2zM538 578h2v2h-2z"/><path fill="#f0b6b6" d="M458 458h2v2h-2zM456 462h2v2h-2zM454 466h2v2h-2zM454 470h2v2h-2zM454 472h2v2h-2zM456 478h2v2h-2zM574 482h2v2h-2zM466 490h2v2h-2zM560 492h2v2h-2zM558 494h2v2h-2zM556 496h2v2h-2zM554 498h2v2h-2zM488 500h2v2h-2zM500 500h2v2h-2zM552 502h2v2h-2zM550 504h2v2h-2zM506 506h2v2h-2zM506 508h2v2h-2zM548 508h2v2h-2zM504 510h2v2h-2zM548 510h2v2h-2zM488 512h2v2h-2zM480 514h2v2h-2zM490 514h2v2h-2zM496 514h2v2h-2zM484 516h2v2h-2zM492 516h2v2h-2zM546 516h2v2h-2zM486 518h2v2h-2zM488 520h2v2h-2zM544 520h2v2h-2zM488 522h2v2h-2zM542 522h2v2h-2zM486 524h2v2h-2zM486 526h2v2h-2zM484 528h2v2h-2zM538 530h2v2h-2zM538 532h2v2h-2zM484 536h2v2h-2zM486 538h2v2h-2zM540 540h2v2h-2zM488 542h2v2h-2zM540 542h2v2h-2zM488 552h2v2h-2zM488 554h2v2h-2zM540 560h2v2h-2zM540 562h2v2h-2zM488 568h2v2h-2zM490 574h2v2h-2zM538 576h2v2h-2z"/><path fill="#f0b4b4" d="M460 452h2v2h-2zM454 468h2v2h-2zM456 476h2v2h-2zM458 480h2v2h-2zM458 482h2v2h-2zM572 482h2v2h-2zM460 484h2v2h-2zM568 484h2v2h-2zM462 486h2v2h-2zM464 488h2v2h-2zM474 496h2v2h-2zM476 498h2v2h-2zM494 498h2v2h-2zM478 500h2v2h-2zM486 500h2v2h-2zM552 500h2v2h-2zM480 502h2v2h-2zM484 502h2v2h-2zM504 502h2v2h-2zM550 502h2v2h-2zM480 504h2v2h-2zM484 504h2v2h-2zM506 504h2v2h-2zM480 506h2v2h-2zM508 506h2v2h-2zM548 506h2v2h-2zM508 508h2v2h-2zM506 510h2v2h-2zM480 512h2v2h-2zM502 512h2v2h-2zM546 512h2v2h-2zM482 514h2v2h-2zM488 514h2v2h-2zM498 514h2v2h-2zM546 514h2v2h-2zM486 516h6v2h-6zM494 516h2v2h-2zM488 518h6v2h-6zM544 518h2v2h-2zM490 520h2v2h-2zM490 522h2v2h-2zM488 524h2v2h-2zM540 524h2v2h-2zM538 526h2v2h-2zM486 528h2v2h-2zM538 528h2v2h-2zM484 530h2v2h-2zM484 532h2v2h-2zM484 534h2v2h-2zM538 534h2v2h-2zM538 536h2v2h-2zM488 540h2v2h-2zM540 544h2v2h-2zM540 546h2v2h-2zM488 556h2v2h-2zM540 556h2v2h-2zM488 558h2v2h-2zM540 558h2v2h-2zM488 560h2v2h-2zM488 562h2v2h-2zM488 564h2v2h-2zM488 566h2v2h-2zM490 572h2v2h-2zM538 574h2v2h-2zM492 578h2v2h-2zM536 578h2v2h-2zM492 580h2v2h-2zM492 582h2v2h-2z"/><path fill="#f0b1b1" d="M460 454h2v2h-2zM458 460h2v2h-2zM456 464h2v2h-2zM456 474h2v2h-2zM564 486h2v2h-2zM562 488h2v2h-2zM470 492h2v2h-2zM472 494h2v2h-2zM556 494h2v2h-2zM554 496h2v2h-2zM492 498h2v2h-2zM496 498h4v2h-4zM552 498h2v2h-2zM480 500h2v2h-2zM502 500h2v2h-2zM550 500h2v2h-2zM482 502h2v2h-2zM506 502h2v2h-2zM548 502h2v2h-2zM482 504h2v2h-2zM508 504h2v2h-2zM548 504h2v2h-2zM484 506h2v2h-2zM546 506h2v2h-2zM480 508h2v2h-2zM486 508h2v2h-2zM546 508h2v2h-2zM480 510h2v2h-2zM508 510h2v2h-2zM546 510h2v2h-2zM504 512h2v2h-2zM484 514h4v2h-4zM500 514h2v2h-2zM496 516h2v2h-2zM544 516h2v2h-2zM494 518h2v2h-2zM492 520h2v2h-2zM542 520h2v2h-2zM492 522h2v2h-2zM540 522h2v2h-2zM490 524h2v2h-2zM538 524h2v2h-2zM488 526h2v2h-2zM486 530h2v2h-2zM486 536h2v2h-2zM538 538h2v2h-2zM540 548h2v2h-2zM540 550h2v2h-2zM540 552h2v2h-2zM540 554h2v2h-2zM490 570h2v2h-2zM538 572h2v2h-2zM492 576h2v2h-2zM534 580h2v2h-2z"/><path fill="#f0afaf" d="M460 456h2v2h-2zM458 462h2v2h-2zM456 466h2v2h-2zM456 468h2v2h-2zM456 470h2v2h-2zM456 472h2v2h-2zM458 478h2v2h-2zM460 482h2v2h-2zM566 484h2v2h-2zM468 490h2v2h-2zM560 490h2v2h-2zM558 492h2v2h-2zM552 496h2v2h-2zM478 498h2v2h-2zM490 498h2v2h-2zM550 498h2v2h-2zM482 500h4v2h-4zM504 500h2v2h-2zM548 500h2v2h-2zM546 502h2v2h-2zM510 504h2v2h-2zM546 504h2v2h-2zM482 506h2v2h-2zM510 506h2v2h-2zM510 508h2v2h-2zM486 510h2v2h-2zM510 510h2v2h-2zM544 510h2v2h-2zM482 512h2v2h-2zM486 512h2v2h-2zM506 512h2v2h-2zM544 512h2v2h-2zM544 514h2v2h-2zM542 518h2v2h-2zM494 520h2v2h-2zM540 520h2v2h-2zM494 522h2v2h-2zM538 522h2v2h-2zM492 524h4v2h-4zM490 526h4v2h-4zM536 526h2v2h-2zM488 528h2v2h-2zM536 528h2v2h-2zM536 530h2v2h-2zM486 532h2v2h-2zM536 532h2v2h-2zM486 534h2v2h-2zM488 538h2v2h-2zM538 540h2v2h-2zM490 568h2v2h-2zM538 570h2v2h-2zM492 572h2v2h-2zM492 574h2v2h-2zM536 576h2v2h-2z"/><path fill="#f0acac" d="M460 458h2v2h-2zM458 474h2v2h-2zM458 476h2v2h-2zM460 480h2v2h-2zM576 480h2v2h-2zM570 482h2v2h-2zM462 484h2v2h-2zM464 486h2v2h-2zM466 488h2v2h-2zM474 494h2v2h-2zM554 494h2v2h-2zM476 496h2v2h-2zM550 496h2v2h-2zM488 498h2v2h-2zM500 498h2v2h-2zM546 498h4v2h-4zM506 500h2v2h-2zM546 500h2v2h-2zM508 502h2v2h-2zM544 502h2v2h-2zM544 504h2v2h-2zM512 506h2v2h-2zM544 506h2v2h-2zM482 508h2v2h-2zM512 508h2v2h-2zM544 508h2v2h-2zM512 510h2v2h-2zM484 512h2v2h-2zM508 512h6v2h-6zM502 514h2v2h-2zM542 514h2v2h-2zM498 516h2v2h-2zM542 516h2v2h-2zM496 518h2v2h-2zM540 518h2v2h-2zM496 520h2v2h-2zM538 520h2v2h-2zM536 522h2v2h-2zM536 524h2v2h-2zM494 526h2v2h-2zM490 528h2v2h-2zM488 530h2v2h-2zM536 534h2v2h-2zM488 536h2v2h-2zM536 536h2v2h-2zM538 542h2v2h-2zM490 544h2v2h-2zM490 546h2v2h-2zM538 560h2v2h-2zM538 562h2v2h-2zM538 564h2v2h-2zM538 566h2v2h-2zM538 568h2v2h-2zM534 578h2v2h-2zM532 580h2v2h-2zM528 582h2v2h-2z"/><path fill="#f0aaaa" d="M458 464h2v2h-2zM458 466h2v2h-2zM458 472h2v2h-2zM460 478h2v2h-2zM574 480h2v2h-2zM562 486h2v2h-2zM560 488h2v2h-2zM558 490h2v2h-2zM472 492h2v2h-2zM556 492h2v2h-2zM552 494h2v2h-2zM548 496h2v2h-2zM480 498h2v2h-2zM486 498h2v2h-2zM502 498h2v2h-2zM544 498h2v2h-2zM544 500h2v2h-2zM510 502h2v2h-2zM542 502h2v2h-2zM512 504h2v2h-2zM542 504h2v2h-2zM514 506h2v2h-2zM542 506h2v2h-2zM484 508h2v2h-2zM514 508h2v2h-2zM542 508h2v2h-2zM482 510h4v2h-4zM514 510h4v2h-4zM542 510h2v2h-2zM514 512h4v2h-4zM542 512h2v2h-2zM504 514h14v2h-14zM540 514h2v2h-2zM516 516h2v2h-2zM540 516h2v2h-2zM538 518h2v2h-2zM534 520h4v2h-4zM496 522h2v2h-2zM534 522h2v2h-2zM496 524h2v2h-2zM534 524h2v2h-2zM496 526h2v2h-2zM534 526h2v2h-2zM492 528h2v2h-2zM534 528h2v2h-2zM490 530h2v2h-2zM534 530h2v2h-2zM488 532h2v2h-2zM488 534h2v2h-2zM536 538h2v2h-2zM490 542h2v2h-2zM538 544h2v2h-2zM538 546h2v2h-2zM490 548h2v2h-2zM538 548h2v2h-2zM538 550h2v2h-2zM538 552h2v2h-2zM538 554h2v2h-2zM538 556h2v2h-2zM538 558h2v2h-2zM490 566h2v2h-2zM492 570h2v2h-2zM536 574h2v2h-2zM494 576h2v2h-2zM494 578h2v2h-2zM494 580h2v2h-2zM528 580h4v2h-4zM494 582h2v2h-2zM526 582h2v2h-2zM494 584h2v2h-2z"/><path fill="#f0a7a7" d="M462 450h2v2h-2zM460 460h2v2h-2zM458 468h2v2h-2zM458 470h2v2h-2zM460 476h2v2h-2zM572 480h2v2h-2zM462 482h2v2h-2zM568 482h2v2h-2zM564 484h2v2h-2zM470 490h2v2h-2zM554 492h2v2h-2zM548 494h4v2h-4zM478 496h2v2h-2zM492 496h8v2h-8zM544 496h4v2h-4zM482 498h4v2h-4zM504 498h2v2h-2zM542 498h2v2h-2zM508 500h2v2h-2zM542 500h2v2h-2zM512 502h2v2h-2zM540 502h2v2h-2zM514 504h2v2h-2zM540 504h2v2h-2zM516 506h2v2h-2zM540 506h2v2h-2zM516 508h2v2h-2zM540 508h2v2h-2zM518 510h2v2h-2zM540 510h2v2h-2zM518 512h2v2h-2zM540 512h2v2h-2zM518 514h4v2h-4zM538 514h2v2h-2zM500 516h2v2h-2zM512 516h4v2h-4zM518 516h4v2h-4zM534 516h6v2h-6zM498 518h2v2h-2zM514 518h8v2h-8zM526 518h12v2h-12zM526 520h8v2h-8zM530 522h4v2h-4zM532 524h2v2h-2zM532 526h2v2h-2zM494 528h2v2h-2zM532 528h2v2h-2zM534 532h2v2h-2zM534 534h2v2h-2zM490 538h2v2h-2zM490 540h2v2h-2zM536 540h2v2h-2zM490 550h2v2h-2zM490 552h2v2h-2zM490 564h2v2h-2zM492 568h2v2h-2zM494 572h2v2h-2zM536 572h2v2h-2zM494 574h2v2h-2zM534 576h2v2h-2zM532 578h2v2h-2zM526 580h2v2h-2zM522 582h4v2h-4z"/><path fill="#f0a5a5" d="M462 452h2v2h-2zM460 462h2v2h-2zM460 474h2v2h-2zM462 480h2v2h-2zM464 484h2v2h-2zM466 486h2v2h-2zM468 488h2v2h-2zM556 490h2v2h-2zM552 492h2v2h-2zM476 494h2v2h-2zM546 494h2v2h-2zM490 496h2v2h-2zM500 496h2v2h-2zM542 496h2v2h-2zM506 498h2v2h-2zM540 498h2v2h-2zM510 500h4v2h-4zM540 500h2v2h-2zM514 502h4v2h-4zM516 504h2v2h-2zM538 504h2v2h-2zM518 506h2v2h-2zM538 506h2v2h-2zM518 508h2v2h-2zM538 508h2v2h-2zM520 510h2v2h-2zM538 510h2v2h-2zM520 512h2v2h-2zM536 512h4v2h-4zM522 514h4v2h-4zM532 514h6v2h-6zM502 516h2v2h-2zM508 516h4v2h-4zM522 516h12v2h-12zM512 518h2v2h-2zM522 518h4v2h-4zM498 520h2v2h-2zM514 520h12v2h-12zM498 522h2v2h-2zM526 522h4v2h-4zM498 524h2v2h-2zM528 524h4v2h-4zM530 526h2v2h-2zM492 530h2v2h-2zM532 530h2v2h-2zM490 532h2v2h-2zM490 534h2v2h-2zM490 536h2v2h-2zM534 536h2v2h-2zM536 542h2v2h-2zM490 554h2v2h-2zM490 556h2v2h-2zM490 560h2v2h-2zM490 562h2v2h-2zM494 570h2v2h-2zM536 570h2v2h-2zM530 578h2v2h-2zM524 580h2v2h-2zM520 582h2v2h-2zM520 584h2v2h-2z"/><path fill="#f0a2a2" d="M462 454h2v2h-2zM460 464h2v2h-2zM460 466h2v2h-2zM460 468h2v2h-2zM460 470h2v2h-2zM460 472h2v2h-2zM462 478h2v2h-2zM566 482h2v2h-2zM562 484h2v2h-2zM560 486h2v2h-2zM558 488h2v2h-2zM554 490h2v2h-2zM474 492h2v2h-2zM548 492h4v2h-4zM542 494h4v2h-4zM480 496h2v2h-2zM488 496h2v2h-2zM540 496h2v2h-2zM508 498h2v2h-2zM514 500h4v2h-4zM538 500h2v2h-2zM518 502h2v2h-2zM538 502h2v2h-2zM518 504h2v2h-2zM536 504h2v2h-2zM520 506h2v2h-2zM536 506h2v2h-2zM520 508h2v2h-2zM536 508h2v2h-2zM522 510h2v2h-2zM534 510h4v2h-4zM522 512h4v2h-4zM532 512h4v2h-4zM526 514h6v2h-6zM504 516h4v2h-4zM500 518h2v2h-2zM510 518h2v2h-2zM512 520h2v2h-2zM514 522h12v2h-12zM526 524h2v2h-2zM498 526h2v2h-2zM528 526h2v2h-2zM496 528h2v2h-2zM530 528h2v2h-2zM494 530h2v2h-2zM492 532h2v2h-2zM532 532h2v2h-2zM534 538h2v2h-2zM536 544h2v2h-2zM536 554h2v2h-2zM536 556h2v2h-2zM490 558h2v2h-2zM536 558h2v2h-2zM536 560h2v2h-2zM536 562h2v2h-2zM536 564h2v2h-2zM492 566h2v2h-2zM536 566h2v2h-2zM536 568h2v2h-2zM534 574h2v2h-2zM532 576h2v2h-2zM526 578h4v2h-4zM520 580h4v2h-4zM518 582h2v2h-2zM518 584h2v2h-2z"/><path fill="#f0a0a0" d="M462 456h2v2h-2zM462 476h2v2h-2zM570 480h2v2h-2zM464 482h2v2h-2zM564 482h2v2h-2zM466 484h2v2h-2zM472 490h2v2h-2zM552 490h2v2h-2zM546 492h2v2h-2zM478 494h2v2h-2zM482 496h6v2h-6zM502 496h2v2h-2zM510 498h4v2h-4zM538 498h2v2h-2zM518 500h4v2h-4zM536 500h2v2h-2zM520 502h2v2h-2zM536 502h2v2h-2zM520 504h4v2h-4zM534 504h2v2h-2zM522 506h2v2h-2zM534 506h2v2h-2zM522 508h2v2h-2zM534 508h2v2h-2zM524 510h2v2h-2zM532 510h2v2h-2zM526 512h6v2h-6zM508 518h2v2h-2zM500 520h2v2h-2zM510 520h2v2h-2zM512 522h2v2h-2zM514 524h12v2h-12zM516 526h4v2h-4zM526 526h2v2h-2zM528 528h2v2h-2zM530 530h2v2h-2zM492 534h2v2h-2zM532 534h2v2h-2zM534 540h2v2h-2zM536 546h2v2h-2zM536 548h2v2h-2zM536 550h2v2h-2zM536 552h2v2h-2zM494 568h2v2h-2zM496 572h2v2h-2zM534 572h2v2h-2zM496 574h2v2h-2zM496 576h2v2h-2zM530 576h2v2h-2zM496 578h2v2h-2zM522 578h4v2h-4zM496 580h2v2h-2zM518 580h2v2h-2zM496 582h2v2h-2zM496 584h2v2h-2z"/><path fill="#f09d9d" d="M462 458h2v2h-2zM462 474h2v2h-2zM574 478h2v2h-2zM464 480h2v2h-2zM560 484h2v2h-2zM468 486h2v2h-2zM558 486h2v2h-2zM470 488h2v2h-2zM556 488h2v2h-2zM550 490h2v2h-2zM544 492h2v2h-2zM494 494h6v2h-6zM540 494h2v2h-2zM504 496h2v2h-2zM538 496h2v2h-2zM514 498h8v2h-8zM536 498h2v2h-2zM522 500h4v2h-4zM534 500h2v2h-2zM522 502h4v2h-4zM532 502h4v2h-4zM524 504h2v2h-2zM532 504h2v2h-2zM524 506h2v2h-2zM530 506h4v2h-4zM524 508h2v2h-2zM530 508h4v2h-4zM526 510h6v2h-6zM502 518h6v2h-6zM500 522h2v2h-2zM510 522h2v2h-2zM500 524h2v2h-2zM512 524h2v2h-2zM514 526h2v2h-2zM520 526h6v2h-6zM498 528h2v2h-2zM514 528h6v2h-6zM526 528h2v2h-2zM496 530h2v2h-2zM516 530h2v2h-2zM528 530h2v2h-2zM494 532h2v2h-2zM530 532h2v2h-2zM492 536h2v2h-2zM532 536h2v2h-2zM492 538h2v2h-2zM492 540h2v2h-2zM492 542h2v2h-2zM534 542h2v2h-2zM492 544h2v2h-2zM492 546h2v2h-2zM492 564h2v2h-2zM496 570h2v2h-2zM532 574h2v2h-2zM528 576h2v2h-2zM518 578h4v2h-4zM516 580h2v2h-2zM516 582h2v2h-2zM516 584h2v2h-2z"/><path fill="#f09b9b" d="M464 450h2v2h-2zM462 460h2v2h-2zM462 470h2v2h-2zM462 472h2v2h-2zM464 478h2v2h-2zM568 480h2v2h-2zM562 482h2v2h-2zM552 488h4v2h-4zM546 490h4v2h-4zM476 492h2v2h-2zM542 492h2v2h-2zM480 494h2v2h-2zM492 494h2v2h-2zM500 494h2v2h-2zM506 496h4v2h-4zM516 496h6v2h-6zM522 498h6v2h-6zM534 498h2v2h-2zM526 500h8v2h-8zM526 502h6v2h-6zM526 504h6v2h-6zM526 506h4v2h-4zM526 508h4v2h-4zM502 520h2v2h-2zM508 520h2v2h-2zM510 524h2v2h-2zM500 526h2v2h-2zM512 526h2v2h-2zM520 528h6v2h-6zM514 530h2v2h-2zM518 530h4v2h-4zM526 530h2v2h-2zM528 532h2v2h-2zM530 534h2v2h-2zM532 538h2v2h-2zM534 544h2v2h-2zM492 548h2v2h-2zM534 556h2v2h-2zM534 558h2v2h-2zM534 560h2v2h-2zM534 562h2v2h-2zM534 564h2v2h-2zM534 568h2v2h-2zM534 570h2v2h-2zM530 574h2v2h-2zM524 576h4v2h-4zM516 578h2v2h-2z"/><path fill="#f09898" d="M462 462h2v2h-2zM462 464h2v2h-2zM462 466h2v2h-2zM462 468h2v2h-2zM566 480h2v2h-2zM466 482h2v2h-2zM558 484h2v2h-2zM556 486h2v2h-2zM550 488h2v2h-2zM474 490h2v2h-2zM544 490h2v2h-2zM540 492h2v2h-2zM490 494h2v2h-2zM502 494h2v2h-2zM538 494h2v2h-2zM510 496h6v2h-6zM522 496h6v2h-6zM536 496h2v2h-2zM528 498h6v2h-6zM504 520h4v2h-4zM502 522h2v2h-2zM508 522h2v2h-2zM502 524h2v2h-2zM510 526h2v2h-2zM512 528h2v2h-2zM522 530h4v2h-4zM514 532h8v2h-8zM526 532h2v2h-2zM494 534h2v2h-2zM528 534h2v2h-2zM530 536h2v2h-2zM532 540h2v2h-2zM534 546h2v2h-2zM534 548h2v2h-2zM492 550h2v2h-2zM534 550h2v2h-2zM534 552h2v2h-2zM534 554h2v2h-2zM492 562h2v2h-2zM494 566h2v2h-2zM534 566h2v2h-2zM498 572h2v2h-2zM532 572h2v2h-2zM498 574h2v2h-2zM528 574h2v2h-2zM498 576h2v2h-2zM518 576h6v2h-6zM514 578h2v2h-2zM514 580h2v2h-2zM514 582h2v2h-2zM514 584h2v2h-2z"/><path fill="#f09696" d="M464 452h2v2h-2zM464 474h2v2h-2zM464 476h2v2h-2zM572 478h2v2h-2zM466 480h2v2h-2zM564 480h2v2h-2zM560 482h2v2h-2zM468 484h2v2h-2zM470 486h2v2h-2zM554 486h2v2h-2zM472 488h2v2h-2zM548 488h2v2h-2zM478 492h2v2h-2zM482 494h2v2h-2zM486 494h4v2h-4zM516 494h12v2h-12zM528 496h8v2h-8zM504 522h4v2h-4zM508 524h2v2h-2zM500 528h2v2h-2zM498 530h2v2h-2zM512 530h2v2h-2zM496 532h2v2h-2zM522 532h4v2h-4zM526 534h2v2h-2zM494 536h2v2h-2zM528 536h2v2h-2zM530 538h2v2h-2zM532 542h2v2h-2zM492 552h2v2h-2zM496 568h2v2h-2zM532 570h2v2h-2zM530 572h2v2h-2zM526 574h2v2h-2zM516 576h2v2h-2zM498 578h2v2h-2zM498 580h2v2h-2zM498 582h2v2h-2zM498 584h2v2h-2z"/><path fill="#f09393" d="M466 448h2v2h-2zM464 470h2v2h-2zM464 472h2v2h-2zM562 480h2v2h-2zM558 482h2v2h-2zM556 484h2v2h-2zM552 486h2v2h-2zM546 488h2v2h-2zM542 490h2v2h-2zM494 492h6v2h-6zM484 494h2v2h-2zM504 494h4v2h-4zM514 494h2v2h-2zM528 494h2v2h-2zM536 494h2v2h-2zM504 524h4v2h-4zM502 526h2v2h-2zM508 526h2v2h-2zM510 528h2v2h-2zM512 532h2v2h-2zM516 534h10v2h-10zM494 538h2v2h-2zM494 540h2v2h-2zM530 540h2v2h-2zM532 544h2v2h-2zM492 554h2v2h-2zM492 556h2v2h-2zM532 556h2v2h-2zM492 558h2v2h-2zM532 558h2v2h-2zM492 560h2v2h-2zM532 560h2v2h-2zM532 562h2v2h-2zM532 564h2v2h-2zM532 566h2v2h-2zM532 568h2v2h-2zM498 570h2v2h-2zM528 572h2v2h-2zM520 574h6v2h-6zM514 576h2v2h-2zM512 578h2v2h-2zM512 580h2v2h-2zM512 582h2v2h-2zM512 584h2v2h-2z"/><path fill="#f09191" d="M464 454h2v2h-2zM464 468h2v2h-2zM466 478h2v2h-2zM570 478h2v2h-2zM560 480h2v2h-2zM468 482h2v2h-2zM554 484h2v2h-2zM550 486h2v2h-2zM476 490h2v2h-2zM492 492h2v2h-2zM500 492h2v2h-2zM518 492h10v2h-10zM538 492h2v2h-2zM508 494h6v2h-6zM530 494h6v2h-6zM504 526h4v2h-4zM508 528h2v2h-2zM510 530h2v2h-2zM496 534h2v2h-2zM514 534h2v2h-2zM526 536h2v2h-2zM528 538h2v2h-2zM494 542h2v2h-2zM494 544h2v2h-2zM532 546h2v2h-2zM532 548h2v2h-2zM532 550h2v2h-2zM532 552h2v2h-2zM532 554h2v2h-2zM494 564h2v2h-2zM530 570h2v2h-2zM500 572h2v2h-2zM526 572h2v2h-2zM500 574h2v2h-2zM514 574h6v2h-6zM512 576h2v2h-2z"/><path fill="#f08e8e" d="M468 446h2v2h-2zM464 456h2v2h-2zM464 466h2v2h-2zM466 476h2v2h-2zM574 476h2v2h-2zM568 478h2v2h-2zM556 482h2v2h-2zM470 484h2v2h-2zM552 484h2v2h-2zM472 486h2v2h-2zM548 486h2v2h-2zM474 488h2v2h-2zM544 488h2v2h-2zM540 490h2v2h-2zM480 492h2v2h-2zM490 492h2v2h-2zM502 492h2v2h-2zM516 492h2v2h-2zM528 492h2v2h-2zM502 528h2v2h-2zM500 530h2v2h-2zM498 532h2v2h-2zM510 532h2v2h-2zM512 534h2v2h-2zM496 536h2v2h-2zM518 536h8v2h-8zM526 538h2v2h-2zM528 540h2v2h-2zM530 542h2v2h-2zM494 546h2v2h-2zM496 566h2v2h-2zM498 568h2v2h-2zM530 568h2v2h-2zM528 570h2v2h-2zM524 572h2v2h-2zM510 574h4v2h-4zM500 576h2v2h-2zM510 576h2v2h-2zM500 578h2v2h-2zM510 578h2v2h-2zM500 584h2v2h-2zM510 584h2v2h-2z"/><path fill="#f08c8c" d="M466 450h2v2h-2zM464 458h2v2h-2zM464 460h2v2h-2zM464 462h2v2h-2zM464 464h2v2h-2zM466 474h2v2h-2zM562 478h6v2h-6zM468 480h2v2h-2zM558 480h2v2h-2zM554 482h2v2h-2zM550 484h2v2h-2zM546 486h2v2h-2zM478 490h2v2h-2zM496 490h2v2h-2zM520 490h6v2h-6zM482 492h2v2h-2zM488 492h2v2h-2zM504 492h2v2h-2zM514 492h2v2h-2zM536 492h2v2h-2zM504 528h4v2h-4zM508 530h2v2h-2zM516 536h2v2h-2zM496 538h2v2h-2zM530 544h2v2h-2zM530 546h2v2h-2zM494 548h2v2h-2zM530 556h2v2h-2zM530 558h2v2h-2zM530 560h2v2h-2zM494 562h2v2h-2zM530 562h2v2h-2zM530 564h2v2h-2zM530 566h2v2h-2zM500 570h2v2h-2zM526 570h2v2h-2zM502 572h2v2h-2zM510 572h14v2h-14zM502 574h2v2h-2zM508 574h2v2h-2zM500 580h2v2h-2zM510 580h2v2h-2zM500 582h2v2h-2zM510 582h2v2h-2z"/><path fill="#f08989" d="M466 472h2v2h-2zM560 478h2v2h-2zM556 480h2v2h-2zM552 482h2v2h-2zM548 484h2v2h-2zM542 488h2v2h-2zM494 490h2v2h-2zM498 490h4v2h-4zM518 490h2v2h-2zM526 490h2v2h-2zM484 492h4v2h-4zM506 492h2v2h-2zM512 492h2v2h-2zM530 492h2v2h-2zM506 530h2v2h-2zM500 532h2v2h-2zM498 534h2v2h-2zM510 534h2v2h-2zM514 536h2v2h-2zM522 538h4v2h-4zM496 540h2v2h-2zM526 540h2v2h-2zM528 542h2v2h-2zM530 548h2v2h-2zM494 550h2v2h-2zM530 550h2v2h-2zM530 552h2v2h-2zM530 554h2v2h-2zM528 568h2v2h-2zM524 570h2v2h-2zM504 572h6v2h-6zM504 574h4v2h-4zM502 576h2v2h-2zM508 576h2v2h-2zM508 578h2v2h-2zM502 584h2v2h-2z"/><path fill="#f08787" d="M468 448h2v2h-2zM466 452h2v2h-2zM466 470h2v2h-2zM572 476h2v2h-2zM468 478h2v2h-2zM558 478h2v2h-2zM470 482h2v2h-2zM550 482h2v2h-2zM544 486h2v2h-2zM476 488h2v2h-2zM520 488h6v2h-6zM492 490h2v2h-2zM516 490h2v2h-2zM528 490h2v2h-2zM538 490h2v2h-2zM508 492h4v2h-4zM532 492h4v2h-4zM502 530h4v2h-4zM508 532h2v2h-2zM498 536h2v2h-2zM512 536h2v2h-2zM518 538h4v2h-4zM524 540h2v2h-2zM496 542h2v2h-2zM528 544h2v2h-2zM494 552h2v2h-2zM528 562h2v2h-2zM496 564h2v2h-2zM528 564h2v2h-2zM528 566h2v2h-2zM526 568h2v2h-2zM502 570h2v2h-2zM510 570h2v2h-2zM522 570h2v2h-2zM504 576h4v2h-4zM502 578h2v2h-2zM508 580h2v2h-2zM502 582h2v2h-2zM508 582h2v2h-2zM508 584h2v2h-2z"/><path fill="#f08484" d="M466 468h2v2h-2zM562 476h6v2h-6zM554 480h2v2h-2zM472 484h2v2h-2zM546 484h2v2h-2zM474 486h2v2h-2zM496 488h4v2h-4zM518 488h2v2h-2zM540 488h2v2h-2zM480 490h2v2h-2zM490 490h2v2h-2zM502 490h2v2h-2zM514 490h2v2h-2zM506 532h2v2h-2zM500 534h2v2h-2zM508 534h2v2h-2zM510 536h2v2h-2zM498 538h2v2h-2zM514 538h4v2h-4zM526 542h2v2h-2zM496 544h2v2h-2zM528 546h2v2h-2zM528 548h2v2h-2zM494 554h2v2h-2zM528 554h2v2h-2zM528 556h2v2h-2zM528 558h2v2h-2zM494 560h2v2h-2zM528 560h2v2h-2zM498 566h2v2h-2zM526 566h2v2h-2zM500 568h2v2h-2zM524 568h2v2h-2zM504 570h6v2h-6zM512 570h10v2h-10zM504 578h4v2h-4zM502 580h2v2h-2zM506 580h2v2h-2zM504 584h4v2h-4z"/><path fill="#f08282" d="M472 444h2v2h-2zM470 446h2v2h-2zM466 454h2v2h-2zM466 466h2v2h-2zM564 466h6v2h-6zM564 468h4v2h-4zM468 476h2v2h-2zM560 476h2v2h-2zM568 476h4v2h-4zM556 478h2v2h-2zM470 480h2v2h-2zM552 480h2v2h-2zM548 482h2v2h-2zM522 486h2v2h-2zM542 486h2v2h-2zM494 488h2v2h-2zM500 488h2v2h-2zM526 488h2v2h-2zM488 490h2v2h-2zM504 490h2v2h-2zM512 490h2v2h-2zM530 490h2v2h-2zM536 490h2v2h-2zM502 532h4v2h-4zM512 538h2v2h-2zM520 540h4v2h-4zM524 542h2v2h-2zM526 544h2v2h-2zM496 546h2v2h-2zM528 550h2v2h-2zM528 552h2v2h-2zM494 556h2v2h-2zM494 558h2v2h-2zM526 564h2v2h-2zM504 580h2v2h-2zM504 582h4v2h-4z"/><path fill="#f07f7f" d="M468 450h2v2h-2zM466 456h2v2h-2zM466 464h2v2h-2zM566 464h2v2h-2zM568 468h2v2h-2zM564 470h4v2h-4zM564 472h2v2h-2zM468 474h2v2h-2zM562 474h4v2h-4zM558 476h2v2h-2zM550 480h2v2h-2zM544 484h2v2h-2zM520 486h2v2h-2zM524 486h2v2h-2zM478 488h2v2h-2zM492 488h2v2h-2zM516 488h2v2h-2zM528 488h2v2h-2zM482 490h2v2h-2zM486 490h2v2h-2zM506 490h2v2h-2zM510 490h2v2h-2zM532 490h2v2h-2zM502 534h6v2h-6zM500 536h2v2h-2zM508 536h2v2h-2zM498 540h2v2h-2zM518 540h2v2h-2zM526 546h2v2h-2zM496 548h2v2h-2zM526 558h2v2h-2zM526 560h2v2h-2zM496 562h2v2h-2zM526 562h2v2h-2zM524 566h2v2h-2zM502 568h2v2h-2zM520 568h4v2h-4z"/><path fill="#f07d7d" d="M466 458h2v2h-2zM466 460h2v2h-2zM466 462h2v2h-2zM564 464h2v2h-2zM562 468h2v2h-2zM562 470h2v2h-2zM568 470h2v2h-2zM468 472h2v2h-2zM562 472h2v2h-2zM566 472h2v2h-2zM560 474h2v2h-2zM566 474h2v2h-2zM572 474h2v2h-2zM470 478h2v2h-2zM554 478h2v2h-2zM472 482h2v2h-2zM546 482h2v2h-2zM474 484h2v2h-2zM476 486h2v2h-2zM494 486h6v2h-6zM518 486h2v2h-2zM490 488h2v2h-2zM502 488h2v2h-2zM514 488h2v2h-2zM538 488h2v2h-2zM484 490h2v2h-2zM508 490h2v2h-2zM534 490h2v2h-2zM502 536h2v2h-2zM506 536h2v2h-2zM500 538h2v2h-2zM510 538h2v2h-2zM514 540h4v2h-4zM498 542h2v2h-2zM522 542h2v2h-2zM524 544h2v2h-2zM526 548h2v2h-2zM526 550h2v2h-2zM526 552h2v2h-2zM526 554h2v2h-2zM526 556h2v2h-2zM498 564h2v2h-2zM524 564h2v2h-2zM500 566h2v2h-2zM522 566h2v2h-2zM518 568h2v2h-2z"/><path fill="#f07a7a" d="M470 448h2v2h-2zM562 466h2v2h-2zM468 470h2v2h-2zM570 470h2v2h-2zM560 472h2v2h-2zM558 474h2v2h-2zM568 474h2v2h-2zM556 476h2v2h-2zM552 478h2v2h-2zM548 480h2v2h-2zM520 484h4v2h-4zM492 486h2v2h-2zM500 486h2v2h-2zM526 486h2v2h-2zM540 486h2v2h-2zM480 488h2v2h-2zM530 488h2v2h-2zM504 536h2v2h-2zM508 538h2v2h-2zM500 540h2v2h-2zM512 540h2v2h-2zM520 542h2v2h-2zM498 544h2v2h-2zM524 546h2v2h-2zM496 550h2v2h-2zM524 560h2v2h-2zM524 562h2v2h-2zM504 568h14v2h-14z"/><path fill="#f07878" d="M476 442h2v2h-2zM474 444h2v2h-2zM472 446h2v2h-2zM468 452h2v2h-2zM564 462h2v2h-2zM562 464h2v2h-2zM468 468h2v2h-2zM560 470h2v2h-2zM568 472h6v2h-6zM570 474h2v2h-2zM472 480h2v2h-2zM494 484h6v2h-6zM524 484h2v2h-2zM542 484h2v2h-2zM516 486h2v2h-2zM488 488h2v2h-2zM504 488h2v2h-2zM512 488h2v2h-2zM536 488h2v2h-2zM502 538h6v2h-6zM510 540h2v2h-2zM516 542h4v2h-4zM522 544h2v2h-2zM524 548h2v2h-2zM496 552h2v2h-2zM524 558h2v2h-2zM496 560h2v2h-2zM522 564h2v2h-2zM520 566h2v2h-2z"/><path fill="#f07575" d="M560 468h2v2h-2zM558 472h2v2h-2zM556 474h2v2h-2zM470 476h2v2h-2zM554 476h2v2h-2zM550 478h2v2h-2zM546 480h2v2h-2zM474 482h2v2h-2zM522 482h2v2h-2zM544 482h2v2h-2zM476 484h2v2h-2zM518 484h2v2h-2zM526 484h2v2h-2zM478 486h2v2h-2zM490 486h2v2h-2zM502 486h2v2h-2zM528 486h2v2h-2zM538 486h2v2h-2zM482 488h2v2h-2zM486 488h2v2h-2zM506 488h2v2h-2zM510 488h2v2h-2zM532 488h4v2h-4zM502 540h2v2h-2zM508 540h2v2h-2zM500 542h2v2h-2zM514 542h2v2h-2zM520 544h2v2h-2zM498 546h2v2h-2zM522 546h2v2h-2zM524 550h2v2h-2zM524 552h2v2h-2zM496 554h2v2h-2zM524 554h2v2h-2zM496 556h2v2h-2zM524 556h2v2h-2zM496 558h2v2h-2zM522 562h2v2h-2zM502 566h2v2h-2zM518 566h2v2h-2z"/><path fill="#f07373" d="M470 450h2v2h-2zM468 454h2v2h-2zM562 462h2v2h-2zM468 466h2v2h-2zM560 466h2v2h-2zM470 474h2v2h-2zM552 476h2v2h-2zM496 482h2v2h-2zM520 482h2v2h-2zM492 484h2v2h-2zM500 484h2v2h-2zM514 486h2v2h-2zM484 488h2v2h-2zM508 488h2v2h-2zM504 540h4v2h-4zM510 542h4v2h-4zM500 544h2v2h-2zM518 544h2v2h-2zM498 548h2v2h-2zM522 560h2v2h-2zM498 562h2v2h-2zM500 564h2v2h-2zM520 564h2v2h-2zM516 566h2v2h-2z"/><path fill="#f07070" d="M478 442h2v2h-2zM476 444h2v2h-2zM474 446h2v2h-2zM472 448h2v2h-2zM468 456h2v2h-2zM468 464h2v2h-2zM558 470h2v2h-2zM472 478h2v2h-2zM548 478h2v2h-2zM494 482h2v2h-2zM498 482h2v2h-2zM524 482h2v2h-2zM516 484h2v2h-2zM540 484h2v2h-2zM480 486h2v2h-2zM488 486h2v2h-2zM504 486h2v2h-2zM530 486h2v2h-2zM536 486h2v2h-2zM502 542h2v2h-2zM508 542h2v2h-2zM516 544h2v2h-2zM520 546h2v2h-2zM522 548h2v2h-2zM498 550h2v2h-2zM522 550h2v2h-2zM522 558h2v2h-2zM514 566h2v2h-2z"/><path fill="#f06e6e" d="M468 458h2v2h-2zM468 460h2v2h-2zM468 462h2v2h-2zM560 464h2v2h-2zM558 468h2v2h-2zM470 472h2v2h-2zM556 472h2v2h-2zM554 474h2v2h-2zM550 476h2v2h-2zM544 480h2v2h-2zM518 482h2v2h-2zM542 482h2v2h-2zM478 484h2v2h-2zM490 484h2v2h-2zM502 484h2v2h-2zM528 484h2v2h-2zM482 486h2v2h-2zM506 486h2v2h-2zM512 486h2v2h-2zM532 486h2v2h-2zM504 542h4v2h-4zM514 544h2v2h-2zM500 546h2v2h-2zM518 546h2v2h-2zM522 552h2v2h-2zM522 554h2v2h-2zM522 556h2v2h-2zM498 560h2v2h-2zM520 562h2v2h-2zM518 564h2v2h-2zM504 566h2v2h-2zM512 566h2v2h-2z"/><path fill="#f06b6b" d="M470 452h2v2h-2zM562 460h2v2h-2zM560 462h2v2h-2zM470 470h2v2h-2zM546 478h2v2h-2zM474 480h2v2h-2zM496 480h2v2h-2zM522 480h2v2h-2zM476 482h2v2h-2zM492 482h2v2h-2zM500 482h2v2h-2zM526 482h2v2h-2zM514 484h2v2h-2zM538 484h2v2h-2zM484 486h4v2h-4zM508 486h4v2h-4zM534 486h2v2h-2zM502 544h2v2h-2zM510 544h4v2h-4zM520 548h2v2h-2zM498 552h2v2h-2zM520 560h2v2h-2zM506 566h6v2h-6z"/><path fill="#f06969" d="M480 442h2v2h-2zM478 444h2v2h-2zM476 446h2v2h-2zM558 466h2v2h-2zM556 470h2v2h-2zM552 474h2v2h-2zM472 476h2v2h-2zM548 476h2v2h-2zM494 480h2v2h-2zM498 480h2v2h-2zM520 480h2v2h-2zM524 480h2v2h-2zM488 484h2v2h-2zM504 484h2v2h-2zM530 484h2v2h-2zM504 544h6v2h-6zM516 546h2v2h-2zM500 548h2v2h-2zM518 548h2v2h-2zM520 550h2v2h-2zM520 552h2v2h-2zM498 554h2v2h-2zM498 556h2v2h-2zM498 558h2v2h-2zM520 558h2v2h-2zM500 562h2v2h-2zM518 562h2v2h-2zM502 564h2v2h-2zM516 564h2v2h-2z"/><path fill="#f06666" d="M474 448h2v2h-2zM472 450h2v2h-2zM470 454h2v2h-2zM560 460h2v2h-2zM558 464h2v2h-2zM470 468h2v2h-2zM554 472h2v2h-2zM542 480h2v2h-2zM490 482h2v2h-2zM516 482h2v2h-2zM528 482h2v2h-2zM540 482h2v2h-2zM480 484h2v2h-2zM512 484h2v2h-2zM532 484h2v2h-2zM536 484h2v2h-2zM502 546h2v2h-2zM512 546h4v2h-4zM500 550h2v2h-2zM520 554h2v2h-2zM520 556h2v2h-2z"/><path fill="#f06464" d="M482 440h2v2h-2zM470 466h2v2h-2zM556 468h2v2h-2zM472 474h2v2h-2zM550 474h2v2h-2zM474 478h2v2h-2zM544 478h2v2h-2zM476 480h2v2h-2zM492 480h2v2h-2zM518 480h2v2h-2zM478 482h2v2h-2zM502 482h2v2h-2zM482 484h2v2h-2zM486 484h2v2h-2zM506 484h2v2h-2zM534 484h2v2h-2zM504 546h2v2h-2zM508 546h4v2h-4zM516 548h2v2h-2zM518 550h2v2h-2zM518 560h2v2h-2zM514 564h2v2h-2z"/><path fill="#f06161" d="M480 444h2v2h-2zM470 456h2v2h-2zM560 458h2v2h-2zM558 462h2v2h-2zM470 464h2v2h-2zM556 466h2v2h-2zM554 470h2v2h-2zM552 472h2v2h-2zM546 476h2v2h-2zM496 478h2v2h-2zM500 480h2v2h-2zM526 480h2v2h-2zM514 482h2v2h-2zM538 482h2v2h-2zM484 484h2v2h-2zM508 484h4v2h-4zM506 546h2v2h-2zM502 548h2v2h-2zM514 548h2v2h-2zM500 552h2v2h-2zM518 552h2v2h-2zM518 558h2v2h-2zM500 560h2v2h-2zM516 562h2v2h-2zM504 564h2v2h-2zM512 564h2v2h-2z"/><path fill="#f05f5f" d="M482 442h2v2h-2zM478 446h2v2h-2zM472 452h2v2h-2zM470 458h2v2h-2zM470 460h2v2h-2zM558 460h2v2h-2zM470 462h2v2h-2zM472 472h2v2h-2zM548 474h2v2h-2zM494 478h2v2h-2zM520 478h4v2h-4zM540 480h2v2h-2zM480 482h2v2h-2zM488 482h2v2h-2zM504 482h2v2h-2zM530 482h2v2h-2zM504 548h2v2h-2zM512 548h2v2h-2zM516 550h2v2h-2zM500 554h2v2h-2zM518 554h2v2h-2zM518 556h2v2h-2zM500 558h2v2h-2zM502 562h2v2h-2z"/><path fill="#f05c5c" d="M476 448h2v2h-2zM474 450h2v2h-2zM556 464h2v2h-2zM554 468h2v2h-2zM550 472h2v2h-2zM474 476h2v2h-2zM544 476h2v2h-2zM498 478h2v2h-2zM524 478h2v2h-2zM542 478h2v2h-2zM490 480h2v2h-2zM516 480h2v2h-2zM528 480h2v2h-2zM486 482h2v2h-2zM532 482h2v2h-2zM536 482h2v2h-2zM506 548h6v2h-6zM502 550h2v2h-2zM516 552h2v2h-2zM500 556h2v2h-2zM516 560h2v2h-2zM514 562h2v2h-2zM506 564h6v2h-6z"/><path fill="#f05a5a" d="M558 458h2v2h-2zM556 462h2v2h-2zM472 470h2v2h-2zM552 470h2v2h-2zM546 474h2v2h-2zM476 478h2v2h-2zM492 478h2v2h-2zM478 480h2v2h-2zM502 480h2v2h-2zM482 482h4v2h-4zM506 482h2v2h-2zM512 482h2v2h-2zM534 482h2v2h-2zM514 550h2v2h-2zM502 552h2v2h-2zM516 554h2v2h-2zM516 558h2v2h-2z"/><path fill="#f05757" d="M484 440h2v2h-2zM482 444h2v2h-2zM480 446h2v2h-2zM472 454h2v2h-2zM554 466h2v2h-2zM548 472h2v2h-2zM474 474h2v2h-2zM500 478h2v2h-2zM518 478h2v2h-2zM526 478h2v2h-2zM488 480h2v2h-2zM538 480h2v2h-2zM508 482h4v2h-4zM504 550h2v2h-2zM512 550h2v2h-2zM514 552h2v2h-2zM516 556h2v2h-2zM502 560h2v2h-2zM504 562h2v2h-2z"/><path fill="#f05555" d="M478 448h2v2h-2zM474 452h2v2h-2zM472 456h2v2h-2zM558 456h2v2h-2zM556 460h2v2h-2zM554 464h2v2h-2zM472 468h2v2h-2zM552 468h2v2h-2zM550 470h2v2h-2zM496 476h2v2h-2zM542 476h2v2h-2zM540 478h2v2h-2zM480 480h2v2h-2zM514 480h2v2h-2zM530 480h2v2h-2zM506 550h6v2h-6zM502 554h2v2h-2zM502 558h2v2h-2zM514 560h2v2h-2zM512 562h2v2h-2z"/><path fill="#f05252" d="M484 442h2v2h-2zM476 450h2v2h-2zM556 458h2v2h-2zM554 462h2v2h-2zM472 466h2v2h-2zM552 466h2v2h-2zM546 472h2v2h-2zM544 474h2v2h-2zM476 476h2v2h-2zM494 476h2v2h-2zM522 476h2v2h-2zM490 478h2v2h-2zM486 480h2v2h-2zM504 480h2v2h-2zM532 480h2v2h-2zM536 480h2v2h-2zM504 552h2v2h-2zM512 552h2v2h-2zM514 554h2v2h-2zM502 556h2v2h-2zM514 558h2v2h-2z"/><path fill="#f05050" d="M556 456h2v2h-2zM472 458h2v2h-2zM472 460h2v2h-2zM554 460h2v2h-2zM472 462h2v2h-2zM472 464h2v2h-2zM552 464h2v2h-2zM550 468h2v2h-2zM548 470h2v2h-2zM474 472h2v2h-2zM498 476h2v2h-2zM520 476h2v2h-2zM524 476h2v2h-2zM478 478h2v2h-2zM502 478h2v2h-2zM516 478h2v2h-2zM528 478h2v2h-2zM482 480h4v2h-4zM512 480h2v2h-2zM534 480h2v2h-2zM506 552h2v2h-2zM510 552h2v2h-2zM514 556h2v2h-2zM506 562h2v2h-2zM510 562h2v2h-2z"/><path fill="#f04d4d" d="M482 446h2v2h-2zM480 448h2v2h-2zM474 454h2v2h-2zM556 454h2v2h-2zM552 462h2v2h-2zM544 472h2v2h-2zM542 474h2v2h-2zM492 476h2v2h-2zM488 478h2v2h-2zM538 478h2v2h-2zM506 480h2v2h-2zM508 552h2v2h-2zM504 554h2v2h-2zM512 554h2v2h-2zM504 560h2v2h-2zM512 560h2v2h-2zM508 562h2v2h-2z"/><path fill="#f04b4b" d="M484 444h2v2h-2zM478 450h2v2h-2zM554 458h2v2h-2zM550 466h2v2h-2zM548 468h2v2h-2zM474 470h2v2h-2zM546 470h2v2h-2zM476 474h2v2h-2zM500 476h2v2h-2zM518 476h2v2h-2zM526 476h2v2h-2zM540 476h2v2h-2zM480 478h2v2h-2zM530 478h2v2h-2zM508 480h4v2h-4zM506 554h2v2h-2zM510 554h2v2h-2zM504 556h2v2h-2zM512 556h2v2h-2zM504 558h2v2h-2zM512 558h2v2h-2z"/><path fill="#f04848" d="M486 440h2v2h-2zM476 452h2v2h-2zM554 454h2v2h-2zM554 456h2v2h-2zM552 460h2v2h-2zM550 462h2v2h-2zM550 464h2v2h-2zM548 466h2v2h-2zM546 468h2v2h-2zM544 470h2v2h-2zM496 474h2v2h-2zM478 476h2v2h-2zM490 476h2v2h-2zM486 478h2v2h-2zM504 478h2v2h-2zM514 478h2v2h-2zM536 478h2v2h-2zM508 554h2v2h-2zM506 560h2v2h-2zM510 560h2v2h-2z"/><path fill="#f04646" d="M554 452h2v2h-2zM474 456h2v2h-2zM552 456h2v2h-2zM552 458h2v2h-2zM550 460h2v2h-2zM548 464h2v2h-2zM474 468h2v2h-2zM542 472h2v2h-2zM494 474h2v2h-2zM498 474h2v2h-2zM522 474h2v2h-2zM528 476h2v2h-2zM482 478h4v2h-4zM532 478h4v2h-4zM506 556h6v2h-6zM506 558h2v2h-2zM510 558h2v2h-2zM508 560h2v2h-2z"/><path fill="#f04343" d="M488 438h2v2h-2zM486 442h2v2h-2zM484 446h2v2h-2zM482 448h2v2h-2zM552 452h2v2h-2zM552 454h2v2h-2zM474 458h2v2h-2zM550 458h2v2h-2zM548 462h2v2h-2zM546 466h2v2h-2zM544 468h2v2h-2zM542 470h2v2h-2zM476 472h2v2h-2zM492 474h2v2h-2zM520 474h2v2h-2zM524 474h2v2h-2zM540 474h2v2h-2zM488 476h2v2h-2zM502 476h2v2h-2zM516 476h2v2h-2zM538 476h2v2h-2zM508 558h2v2h-2z"/><path fill="#f04141" d="M480 450h2v2h-2zM552 450h2v2h-2zM478 452h2v2h-2zM476 454h2v2h-2zM550 454h2v2h-2zM550 456h2v2h-2zM548 458h2v2h-2zM474 460h2v2h-2zM548 460h2v2h-2zM474 462h2v2h-2zM546 462h2v2h-2zM474 464h2v2h-2zM546 464h2v2h-2zM474 466h2v2h-2zM544 466h2v2h-2zM542 468h2v2h-2zM500 474h2v2h-2zM480 476h2v2h-2zM506 478h2v2h-2zM512 478h2v2h-2z"/><path fill="#f03e3e" d="M486 444h2v2h-2zM550 452h2v2h-2zM548 456h2v2h-2zM546 460h2v2h-2zM544 464h2v2h-2zM542 466h2v2h-2zM540 472h2v2h-2zM478 474h2v2h-2zM490 474h2v2h-2zM518 474h2v2h-2zM526 474h2v2h-2zM530 476h2v2h-2zM536 476h2v2h-2zM508 478h4v2h-4z"/><path fill="#f03c3c" d="M488 440h2v2h-2zM484 448h2v2h-2zM550 450h2v2h-2zM548 452h2v2h-2zM548 454h2v2h-2zM476 456h2v2h-2zM546 456h2v2h-2zM546 458h2v2h-2zM544 460h2v2h-2zM544 462h2v2h-2zM542 464h2v2h-2zM476 470h2v2h-2zM540 470h2v2h-2zM494 472h4v2h-4zM538 474h2v2h-2zM482 476h2v2h-2zM486 476h2v2h-2zM504 476h2v2h-2zM514 476h2v2h-2zM532 476h2v2h-2z"/><path fill="#f03939" d="M490 438h2v2h-2zM486 446h2v2h-2zM482 450h2v2h-2zM548 450h2v2h-2zM546 454h2v2h-2zM544 458h2v2h-2zM542 462h2v2h-2zM540 466h2v2h-2zM540 468h2v2h-2zM492 472h2v2h-2zM498 472h2v2h-2zM520 472h6v2h-6zM488 474h2v2h-2zM502 474h2v2h-2zM516 474h2v2h-2zM528 474h2v2h-2zM484 476h2v2h-2zM534 476h2v2h-2z"/><path fill="#f03737" d="M488 442h2v2h-2zM548 448h2v2h-2zM480 452h2v2h-2zM546 452h2v2h-2zM478 454h2v2h-2zM544 454h2v2h-2zM544 456h2v2h-2zM476 458h2v2h-2zM542 458h2v2h-2zM542 460h2v2h-2zM540 464h2v2h-2zM476 468h2v2h-2zM478 472h2v2h-2zM500 472h2v2h-2zM518 472h2v2h-2zM538 472h2v2h-2zM480 474h2v2h-2zM512 476h2v2h-2z"/><path fill="#f03434" d="M488 444h2v2h-2zM546 450h2v2h-2zM544 452h2v2h-2zM542 456h2v2h-2zM476 460h2v2h-2zM540 462h2v2h-2zM476 466h2v2h-2zM538 468h2v2h-2zM496 470h2v2h-2zM538 470h2v2h-2zM490 472h2v2h-2zM526 472h2v2h-2zM486 474h2v2h-2zM530 474h2v2h-2zM536 474h2v2h-2zM506 476h2v2h-2z"/><path fill="#f03232" d="M492 438h2v2h-2zM490 440h2v2h-2zM486 448h2v2h-2zM546 448h2v2h-2zM484 450h2v2h-2zM542 454h2v2h-2zM478 456h2v2h-2zM540 458h2v2h-2zM540 460h2v2h-2zM476 462h2v2h-2zM476 464h2v2h-2zM538 464h2v2h-2zM538 466h2v2h-2zM478 470h2v2h-2zM494 470h2v2h-2zM498 470h2v2h-2zM522 470h2v2h-2zM528 472h2v2h-2zM482 474h2v2h-2zM504 474h2v2h-2zM514 474h2v2h-2zM532 474h4v2h-4zM510 476h2v2h-2z"/><path fill="#f02f2f" d="M488 446h2v2h-2zM544 450h2v2h-2zM482 452h2v2h-2zM542 452h2v2h-2zM480 454h2v2h-2zM540 456h2v2h-2zM538 462h2v2h-2zM492 470h2v2h-2zM500 470h2v2h-2zM518 470h4v2h-4zM524 470h2v2h-2zM536 470h2v2h-2zM480 472h2v2h-2zM488 472h2v2h-2zM502 472h2v2h-2zM516 472h2v2h-2zM536 472h2v2h-2zM484 474h2v2h-2zM508 476h2v2h-2z"/><path fill="#f02d2d" d="M498 436h4v2h-4zM494 438h2v2h-2zM492 440h2v2h-2zM490 442h2v2h-2zM544 446h2v2h-2zM544 448h2v2h-2zM486 450h2v2h-2zM542 450h2v2h-2zM540 454h2v2h-2zM478 458h2v2h-2zM538 458h2v2h-2zM538 460h2v2h-2zM536 466h2v2h-2zM478 468h2v2h-2zM494 468h4v2h-4zM536 468h2v2h-2zM490 470h2v2h-2zM526 470h2v2h-2zM530 472h2v2h-2zM534 472h2v2h-2z"/><path fill="#f02a2a" d="M502 436h2v2h-2zM496 438h4v2h-4zM494 440h2v2h-2zM490 444h2v2h-2zM488 448h2v2h-2zM484 452h2v2h-2zM540 452h2v2h-2zM480 456h2v2h-2zM538 456h2v2h-2zM478 460h2v2h-2zM536 460h2v2h-2zM536 462h2v2h-2zM536 464h2v2h-2zM492 468h2v2h-2zM498 468h4v2h-4zM518 468h8v2h-8zM480 470h2v2h-2zM502 470h2v2h-2zM516 470h2v2h-2zM528 470h2v2h-2zM534 470h2v2h-2zM482 472h6v2h-6zM504 472h2v2h-2zM514 472h2v2h-2zM532 472h2v2h-2zM506 474h2v2h-2zM512 474h2v2h-2z"/><path fill="#f02828" d="M504 436h4v2h-4zM500 438h6v2h-6zM496 440h2v2h-2zM492 442h2v2h-2zM490 446h2v2h-2zM542 446h2v2h-2zM542 448h2v2h-2zM488 450h2v2h-2zM482 454h2v2h-2zM538 454h2v2h-2zM536 458h2v2h-2zM478 462h2v2h-2zM534 462h2v2h-2zM478 464h2v2h-2zM534 464h2v2h-2zM478 466h2v2h-2zM496 466h4v2h-4zM520 466h4v2h-4zM534 466h2v2h-2zM490 468h2v2h-2zM526 468h2v2h-2zM534 468h2v2h-2zM488 470h2v2h-2zM530 470h4v2h-4z"/><path fill="#f02525" d="M508 436h2v2h-2zM506 438h2v2h-2zM498 440h8v2h-8zM494 442h4v2h-4zM492 444h2v2h-2zM542 444h2v2h-2zM490 448h2v2h-2zM540 450h2v2h-2zM486 452h2v2h-2zM518 454h10v2h-10zM516 456h14v2h-14zM536 456h2v2h-2zM480 458h2v2h-2zM516 458h14v2h-14zM534 458h2v2h-2zM518 460h10v2h-10zM534 460h2v2h-2zM518 462h8v2h-8zM532 462h2v2h-2zM518 464h8v2h-8zM532 464h2v2h-2zM492 466h4v2h-4zM500 466h2v2h-2zM518 466h2v2h-2zM524 466h4v2h-4zM532 466h2v2h-2zM480 468h2v2h-2zM502 468h2v2h-2zM516 468h2v2h-2zM528 468h6v2h-6zM482 470h2v2h-2zM486 470h2v2h-2zM504 470h2v2h-2zM514 470h2v2h-2zM512 472h2v2h-2zM508 474h4v2h-4z"/><path fill="#f02323" d="M510 436h2v2h-2zM508 438h2v2h-2zM506 440h2v2h-2zM498 442h8v2h-8zM494 444h8v2h-8zM492 446h4v2h-4zM540 446h2v2h-2zM492 448h2v2h-2zM540 448h2v2h-2zM490 450h2v2h-2zM488 452h2v2h-2zM500 452h4v2h-4zM518 452h10v2h-10zM538 452h2v2h-2zM484 454h2v2h-2zM498 454h6v2h-6zM514 454h4v2h-4zM528 454h2v2h-2zM482 456h2v2h-2zM498 456h8v2h-8zM514 456h2v2h-2zM530 456h2v2h-2zM500 458h6v2h-6zM514 458h2v2h-2zM530 458h4v2h-4zM480 460h2v2h-2zM500 460h4v2h-4zM514 460h4v2h-4zM528 460h6v2h-6zM498 462h4v2h-4zM516 462h2v2h-2zM526 462h6v2h-6zM494 464h10v2h-10zM516 464h2v2h-2zM526 464h6v2h-6zM480 466h2v2h-2zM490 466h2v2h-2zM502 466h2v2h-2zM516 466h2v2h-2zM528 466h4v2h-4zM488 468h2v2h-2zM504 468h2v2h-2zM514 468h2v2h-2zM484 470h2v2h-2zM506 472h2v2h-2z"/><path fill="#f02020" d="M512 436h2v2h-2zM510 438h2v2h-2zM508 440h2v2h-2zM506 442h2v2h-2zM502 444h4v2h-4zM540 444h2v2h-2zM496 446h8v2h-8zM494 448h10v2h-10zM492 450h12v2h-12zM518 450h8v2h-8zM538 450h2v2h-2zM490 452h10v2h-10zM504 452h2v2h-2zM516 452h2v2h-2zM528 452h2v2h-2zM486 454h2v2h-2zM496 454h2v2h-2zM504 454h2v2h-2zM530 454h2v2h-2zM536 454h2v2h-2zM484 456h2v2h-2zM496 456h2v2h-2zM506 456h2v2h-2zM512 456h2v2h-2zM532 456h4v2h-4zM482 458h2v2h-2zM496 458h4v2h-4zM506 458h2v2h-2zM510 458h4v2h-4zM496 460h4v2h-4zM504 460h10v2h-10zM480 462h2v2h-2zM494 462h4v2h-4zM502 462h6v2h-6zM512 462h4v2h-4zM480 464h2v2h-2zM492 464h2v2h-2zM504 464h2v2h-2zM512 464h4v2h-4zM488 466h2v2h-2zM504 466h2v2h-2zM514 466h2v2h-2zM482 468h6v2h-6zM512 468h2v2h-2zM506 470h2v2h-2zM512 470h2v2h-2zM508 472h4v2h-4z"/><path fill="#f01e1e" d="M514 436h2v2h-2zM512 438h2v2h-2zM510 440h2v2h-2zM508 442h2v2h-2zM538 442h2v2h-2zM506 444h2v2h-2zM538 444h2v2h-2zM504 446h2v2h-2zM538 446h2v2h-2zM504 448h2v2h-2zM518 448h8v2h-8zM538 448h2v2h-2zM504 450h2v2h-2zM516 450h2v2h-2zM526 450h4v2h-4zM514 452h2v2h-2zM530 452h2v2h-2zM536 452h2v2h-2zM488 454h8v2h-8zM506 454h2v2h-2zM512 454h2v2h-2zM532 454h4v2h-4zM486 456h2v2h-2zM492 456h4v2h-4zM508 456h4v2h-4zM494 458h2v2h-2zM508 458h2v2h-2zM482 460h2v2h-2zM492 460h4v2h-4zM492 462h2v2h-2zM508 462h4v2h-4zM490 464h2v2h-2zM506 464h6v2h-6zM482 466h2v2h-2zM486 466h2v2h-2zM506 466h8v2h-8zM506 468h6v2h-6zM508 470h4v2h-4z"/><path fill="#f01b1b" d="M516 436h2v2h-2zM514 438h2v2h-2zM512 440h2v2h-2zM510 442h2v2h-2zM536 442h2v2h-2zM508 444h4v2h-4zM536 444h2v2h-2zM506 446h4v2h-4zM518 446h8v2h-8zM536 446h2v2h-2zM506 448h2v2h-2zM514 448h4v2h-4zM526 448h4v2h-4zM536 448h2v2h-2zM506 450h2v2h-2zM514 450h2v2h-2zM530 450h2v2h-2zM536 450h2v2h-2zM506 452h2v2h-2zM512 452h2v2h-2zM508 454h4v2h-4zM488 456h4v2h-4zM484 458h10v2h-10zM484 460h2v2h-2zM490 460h2v2h-2zM482 462h2v2h-2zM488 462h4v2h-4zM482 464h8v2h-8zM484 466h2v2h-2z"/><path fill="#f01919" d="M516 438h12v2h-12zM514 440h20v2h-20zM512 442h24v2h-24zM512 444h20v2h-20zM534 444h2v2h-2zM510 446h8v2h-8zM526 446h6v2h-6zM534 446h2v2h-2zM508 448h6v2h-6zM530 448h2v2h-2zM508 450h6v2h-6zM532 450h2v2h-2zM508 452h4v2h-4zM532 452h4v2h-4zM486 460h4v2h-4zM484 462h4v2h-4z"/><path fill="#f01616" d="M532 444h2v2h-2zM532 446h2v2h-2zM532 448h4v2h-4zM534 450h2v2h-2z"/></g></g>
<path d="M494.3,66.50000000000001 L507.5,54.70000000000002 L520.6,66.50000000000001" fill="none" stroke="#1a1a1a" stroke-width="1.8"/><path d="M434.3,130.10000000000002 C432.8,127.30000000000001 429.8,126.80000000000001 428.3,129.3 C426.8,133.3 426.8,147.3 426.5,152.3 C426.5,159.3 432.8,160.3 435.5,156.3" fill="none" stroke="#1a1a1a" stroke-width="1.8"/><path d="M580.1,130.10000000000002 C581.8,127.30000000000001 584.8,126.80000000000001 586.8,129.3 C587.8,133.3 588.3,147.3 588.6,152.3 C588.6,159.3 582.8,160.3 579.3,156.3" fill="none" stroke="#1a1a1a" stroke-width="1.8"/><path d="M494.3,251.39999999999998 L507.5,239.6 L520.6,251.39999999999998" fill="none" stroke="#1a1a1a" stroke-width="1.8"/><path d="M434.3,315.0 C432.8,312.2 429.8,311.7 428.3,314.2 C426.8,318.2 426.8,332.2 426.5,337.2 C426.5,344.2 432.8,345.2 435.5,341.2" fill="none" stroke="#1a1a1a" stroke-width="1.8"/><path d="M580.1,315.0 C581.8,312.2 584.8,311.7 586.8,314.2 C587.8,318.2 588.3,332.2 588.6,337.2 C588.6,344.2 582.8,345.2 579.3,341.2" fill="none" stroke="#1a1a1a" stroke-width="1.8"/><path d="M494.3,438.59999999999997 L507.5,426.79999999999995 L520.6,438.59999999999997" fill="none" stroke="#1a1a1a" stroke-width="1.8"/><path d="M434.3,502.2 C432.8,499.4 429.8,498.9 428.3,501.4 C426.8,505.4 426.8,519.4 426.5,524.4 C426.5,531.4 432.8,532.4 435.5,528.4" fill="none" stroke="#1a1a1a" stroke-width="1.8"/><path d="M580.1,502.2 C581.8,499.4 584.8,498.9 586.8,501.4 C587.8,505.4 588.3,519.4 588.6,524.4 C588.6,531.4 582.8,532.4 579.3,528.4" fill="none" stroke="#1a1a1a" stroke-width="1.8"/>
<rect x="609.5" y="84.8" width="19.2" height="113.60000000000001" fill="url(#cb1)"/><rect x="608.8" y="273.8" width="19.2" height="108.80000000000001" fill="url(#cb2)"/><rect x="608.8" y="459.5" width="19.2" height="111.5" fill="url(#cb3)"/>
<text x="565.3" y="54.6" font-size="16" fill="#333" textLength="101.5" lengthAdjust="spacingAndGlyphs">dFRN, 230 ms</text>
<text x="567.2" y="243.8" font-size="16" fill="#333" textLength="101.5" lengthAdjust="spacingAndGlyphs">dFRN, 230 ms</text>
<text x="575" y="430.4" font-size="16" fill="#333" textLength="101" lengthAdjust="spacingAndGlyphs">dFRN, 230 ms</text>
<text transform="translate(656.5,93.3) scale(1.1,1)" font-size="11.5" text-anchor="end" fill="#262626" stroke="#262626" stroke-width="0.3">0.2</text>
<text transform="translate(656.5,111.35) scale(1.1,1)" font-size="11.5" text-anchor="end" fill="#262626" stroke="#262626" stroke-width="0.3">0.0</text>
<text transform="translate(656.5,129.4) scale(1.1,1)" font-size="11.5" text-anchor="end" fill="#262626" stroke="#262626" stroke-width="0.3">-0.2</text>
<text transform="translate(656.5,147.45) scale(1.1,1)" font-size="11.5" text-anchor="end" fill="#262626" stroke="#262626" stroke-width="0.3">-0.4</text>
<text transform="translate(656.5,165.5) scale(1.1,1)" font-size="11.5" text-anchor="end" fill="#262626" stroke="#262626" stroke-width="0.3">-0.6</text>
<text transform="translate(656.5,183.55) scale(1.1,1)" font-size="11.5" text-anchor="end" fill="#262626" stroke="#262626" stroke-width="0.3">-0.8</text>
<text transform="translate(656.5,201.6) scale(1.1,1)" font-size="11.5" text-anchor="end" fill="#262626" stroke="#262626" stroke-width="0.3">-1.0</text>
<text transform="translate(654,285.2) scale(1.1,1)" font-size="11.5" text-anchor="end" fill="#262626" stroke="#262626" stroke-width="0.3">1.5</text>
<text transform="translate(654,307.5) scale(1.1,1)" font-size="11.5" text-anchor="end" fill="#262626" stroke="#262626" stroke-width="0.3">1.0</text>
<text transform="translate(654,329.8) scale(1.1,1)" font-size="11.5" text-anchor="end" fill="#262626" stroke="#262626" stroke-width="0.3">0.5</text>
<text transform="translate(654,352.1) scale(1.1,1)" font-size="11.5" text-anchor="end" fill="#262626" stroke="#262626" stroke-width="0.3">0.0</text>
<text transform="translate(654,374.4) scale(1.1,1)" font-size="11.5" text-anchor="end" fill="#262626" stroke="#262626" stroke-width="0.3">-0.5</text>
<text transform="translate(652.5,475.4) scale(1.1,1)" font-size="11.5" text-anchor="end" fill="#262626" stroke="#262626" stroke-width="0.3">2.0</text>
<text transform="translate(652.5,501.8) scale(1.1,1)" font-size="11.5" text-anchor="end" fill="#262626" stroke="#262626" stroke-width="0.3">1.5</text>
<text transform="translate(652.5,527.9) scale(1.1,1)" font-size="11.5" text-anchor="end" fill="#262626" stroke="#262626" stroke-width="0.3">1.0</text>
<text transform="translate(652.5,554.4) scale(1.1,1)" font-size="11.5" text-anchor="end" fill="#262626" stroke="#262626" stroke-width="0.3">0.5</text>
<text x="665.3" y="147" font-size="13.5" fill="#262626">µV</text>
<text x="660.5" y="329.3" font-size="13.5" fill="#262626">µV</text>
<text x="660.3" y="520.4" font-size="13.5" fill="#262626">µV</text>
</svg>
</body></html>
